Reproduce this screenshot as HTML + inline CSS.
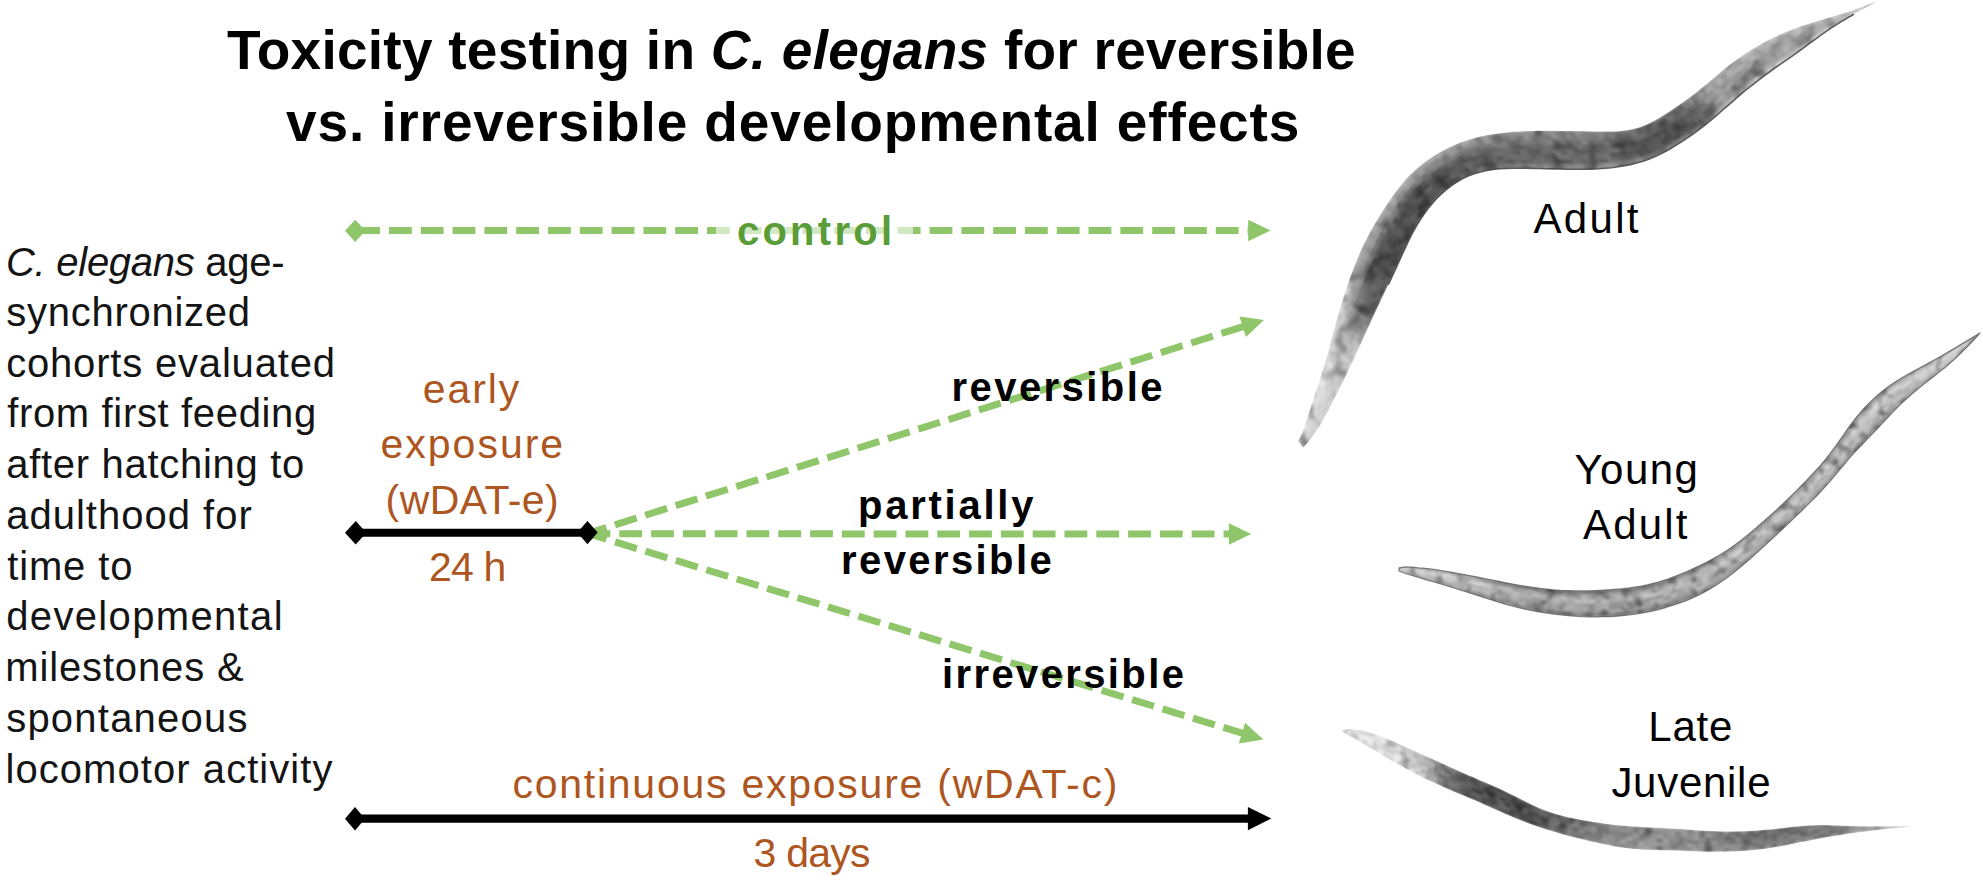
<!DOCTYPE html>
<html><head><meta charset="utf-8"><title>Toxicity testing in C. elegans</title>
<style>
html,body{margin:0;padding:0;background:#fff;}
body{width:1983px;height:886px;overflow:hidden;position:relative;}
svg{position:absolute;left:0;top:0;}
text{font-family:"Liberation Sans",sans-serif;}
</style></head><body>
<svg width="1983" height="886" viewBox="0 0 1983 886">
<g id="worms">
<clipPath id="clip_w1"><path d="M1298.0,441.0 L1301.2,435.2 L1303.5,428.9 L1305.6,422.4 L1307.9,416.1 L1310.0,409.7 L1312.0,403.2 L1314.1,396.8 L1316.2,390.3 L1318.4,383.9 L1320.5,377.5 L1322.5,371.0 L1324.5,364.5 L1326.3,358.0 L1328.2,351.5 L1329.9,345.0 L1331.6,338.4 L1333.4,331.9 L1335.2,325.3 L1337.0,318.8 L1338.9,312.3 L1340.8,305.8 L1342.9,299.4 L1344.9,292.9 L1347.1,286.5 L1349.3,280.1 L1351.5,273.7 L1353.9,267.4 L1356.4,261.1 L1359.0,254.8 L1361.7,248.7 L1364.7,242.6 L1367.7,236.5 L1370.9,230.6 L1374.3,224.7 L1377.7,218.9 L1381.3,213.1 L1384.9,207.4 L1388.7,201.8 L1392.5,196.2 L1396.5,190.7 L1400.7,185.4 L1405.0,180.3 L1409.6,175.3 L1414.5,170.7 L1419.5,166.2 L1424.8,162.1 L1430.3,158.2 L1436.0,154.6 L1441.9,151.2 L1447.8,148.0 L1454.0,145.2 L1460.2,142.6 L1466.5,140.4 L1473.0,138.4 L1479.5,136.7 L1486.1,135.3 L1492.8,134.2 L1499.5,133.2 L1506.2,132.4 L1512.9,131.8 L1519.7,131.4 L1526.4,131.1 L1533.2,130.9 L1540.0,130.8 L1546.7,130.8 L1553.5,130.8 L1560.3,130.9 L1567.1,130.9 L1573.8,131.0 L1580.6,131.1 L1587.4,131.2 L1594.1,131.4 L1600.9,131.5 L1607.7,131.5 L1614.4,131.4 L1621.2,130.9 L1627.8,130.1 L1634.3,128.8 L1640.7,126.9 L1646.8,124.4 L1652.9,121.6 L1658.7,118.3 L1664.5,114.7 L1670.2,111.0 L1675.8,107.3 L1681.3,103.4 L1686.8,99.5 L1692.3,95.4 L1697.6,91.3 L1702.9,87.0 L1708.1,82.7 L1713.3,78.4 L1718.5,74.0 L1723.7,69.6 L1728.9,65.4 L1734.3,61.3 L1739.8,57.3 L1745.3,53.5 L1751.0,49.9 L1756.8,46.4 L1762.7,43.0 L1768.7,39.9 L1774.8,36.9 L1780.9,34.0 L1787.1,31.4 L1793.4,28.9 L1799.7,26.6 L1806.2,24.5 L1812.6,22.5 L1819.1,20.6 L1825.6,18.6 L1832.1,16.7 L1838.6,14.7 L1845.0,12.7 L1851.5,10.5 L1857.9,8.3 L1864.3,6.1 L1870.6,3.8 L1877.0,1.5 L1877.0,1.5 L1871.2,4.6 L1865.4,7.8 L1859.6,11.0 L1853.9,14.2 L1848.1,17.5 L1842.5,20.8 L1836.9,24.3 L1831.3,27.9 L1825.9,31.6 L1820.5,35.4 L1815.2,39.3 L1809.9,43.2 L1804.6,47.1 L1799.2,51.0 L1793.9,54.8 L1788.5,58.6 L1783.0,62.4 L1777.6,66.2 L1772.2,70.0 L1766.9,73.8 L1761.6,77.8 L1756.3,81.8 L1751.2,85.8 L1746.0,90.0 L1741.0,94.2 L1736.0,98.5 L1731.0,102.8 L1726.0,107.2 L1721.0,111.5 L1716.1,115.8 L1711.0,120.1 L1705.9,124.3 L1700.7,128.3 L1695.4,132.3 L1690.1,136.1 L1684.6,139.8 L1679.1,143.4 L1673.5,146.9 L1667.8,150.2 L1662.0,153.3 L1656.1,156.1 L1650.0,158.7 L1643.9,160.9 L1637.6,162.8 L1631.2,164.4 L1624.8,165.8 L1618.3,166.8 L1611.8,167.7 L1605.2,168.3 L1598.6,168.8 L1592.1,169.1 L1585.5,169.3 L1578.9,169.3 L1572.3,169.3 L1565.7,169.2 L1559.1,169.0 L1552.5,168.9 L1545.9,168.7 L1539.3,168.5 L1532.7,168.4 L1526.1,168.3 L1519.5,168.2 L1512.9,168.3 L1506.3,168.4 L1499.7,168.8 L1493.2,169.4 L1486.8,170.4 L1480.4,171.9 L1474.2,173.8 L1468.1,176.1 L1462.3,178.9 L1456.6,182.2 L1451.2,185.9 L1446.0,189.9 L1441.1,194.2 L1436.4,198.8 L1432.1,203.7 L1427.9,208.8 L1424.1,214.1 L1420.4,219.6 L1416.9,225.2 L1413.7,230.9 L1410.6,236.7 L1407.7,242.7 L1404.9,248.6 L1402.1,254.6 L1399.4,260.6 L1396.7,266.6 L1393.9,272.6 L1391.1,278.6 L1388.3,284.6 L1385.5,290.5 L1382.6,296.5 L1379.8,302.4 L1377.0,308.4 L1374.2,314.4 L1371.4,320.4 L1368.7,326.4 L1366.0,332.4 L1363.3,338.4 L1360.6,344.5 L1357.9,350.5 L1355.1,356.4 L1352.3,362.4 L1349.4,368.3 L1346.5,374.3 L1343.6,380.2 L1340.6,386.1 L1337.7,392.0 L1334.7,397.9 L1331.8,403.8 L1328.8,409.7 L1325.8,415.5 L1322.6,421.3 L1319.1,426.9 L1315.4,432.3 L1311.8,437.7 L1307.6,442.8 L1303.0,447.5Z"/></clipPath>
<g clip-path="url(#clip_w1)"><g filter="url(#blur_w1)"><polygon points="1298.0,441.0 1301.2,435.2 1302.0,436.1 1298.6,441.8" fill="#dadada" stroke="#dadada" stroke-width="0.8"/><polygon points="1298.6,441.8 1302.0,436.1 1302.8,437.1 1299.2,442.6" fill="#d3d3d3" stroke="#d3d3d3" stroke-width="0.8"/><polygon points="1299.2,442.6 1302.8,437.1 1303.6,438.0 1299.9,443.4" fill="#dedede" stroke="#dedede" stroke-width="0.8"/><polygon points="1299.9,443.4 1303.6,438.0 1304.4,439.0 1300.5,444.2" fill="#cbcbcb" stroke="#cbcbcb" stroke-width="0.8"/><polygon points="1300.5,444.2 1304.4,439.0 1305.2,440.0 1301.1,445.1" fill="#d7d7d7" stroke="#d7d7d7" stroke-width="0.8"/><polygon points="1301.1,445.1 1305.2,440.0 1306.0,440.9 1301.8,445.9" fill="#d1d1d1" stroke="#d1d1d1" stroke-width="0.8"/><polygon points="1301.8,445.9 1306.0,440.9 1306.8,441.9 1302.4,446.7" fill="#c6c6c6" stroke="#c6c6c6" stroke-width="0.8"/><polygon points="1302.4,446.7 1306.8,441.9 1307.6,442.8 1303.0,447.5" fill="#d0d0d0" stroke="#d0d0d0" stroke-width="0.8"/><polygon points="1301.2,435.2 1303.5,428.9 1304.5,430.0 1302.0,436.1" fill="#d2d2d2" stroke="#d2d2d2" stroke-width="0.8"/><polygon points="1302.0,436.1 1304.5,430.0 1305.6,431.1 1302.8,437.1" fill="#dbdbdb" stroke="#dbdbdb" stroke-width="0.8"/><polygon points="1302.8,437.1 1305.6,431.1 1306.6,432.2 1303.6,438.0" fill="#cecece" stroke="#cecece" stroke-width="0.8"/><polygon points="1303.6,438.0 1306.6,432.2 1307.6,433.3 1304.4,439.0" fill="#cbcbcb" stroke="#cbcbcb" stroke-width="0.8"/><polygon points="1304.4,439.0 1307.6,433.3 1308.7,434.4 1305.2,440.0" fill="#d4d4d4" stroke="#d4d4d4" stroke-width="0.8"/><polygon points="1305.2,440.0 1308.7,434.4 1309.7,435.5 1306.0,440.9" fill="#dddddd" stroke="#dddddd" stroke-width="0.8"/><polygon points="1306.0,440.9 1309.7,435.5 1310.7,436.6 1306.8,441.9" fill="#c7c7c7" stroke="#c7c7c7" stroke-width="0.8"/><polygon points="1306.8,441.9 1310.7,436.6 1311.8,437.7 1307.6,442.8" fill="#c7c7c7" stroke="#c7c7c7" stroke-width="0.8"/><polygon points="1303.5,428.9 1305.6,422.4 1306.8,423.7 1304.5,430.0" fill="#e3e3e3" stroke="#e3e3e3" stroke-width="0.8"/><polygon points="1304.5,430.0 1306.8,423.7 1308.1,424.9 1305.6,431.1" fill="#e9e9e9" stroke="#e9e9e9" stroke-width="0.8"/><polygon points="1305.6,431.1 1308.1,424.9 1309.3,426.1 1306.6,432.2" fill="#dcdcdc" stroke="#dcdcdc" stroke-width="0.8"/><polygon points="1306.6,432.2 1309.3,426.1 1310.5,427.3 1307.6,433.3" fill="#d3d3d3" stroke="#d3d3d3" stroke-width="0.8"/><polygon points="1307.6,433.3 1310.5,427.3 1311.7,428.6 1308.7,434.4" fill="#e3e3e3" stroke="#e3e3e3" stroke-width="0.8"/><polygon points="1308.7,434.4 1311.7,428.6 1313.0,429.8 1309.7,435.5" fill="#c7c7c7" stroke="#c7c7c7" stroke-width="0.8"/><polygon points="1309.7,435.5 1313.0,429.8 1314.2,431.0 1310.7,436.6" fill="#dbdbdb" stroke="#dbdbdb" stroke-width="0.8"/><polygon points="1310.7,436.6 1314.2,431.0 1315.4,432.3 1311.8,437.7" fill="#c9c9c9" stroke="#c9c9c9" stroke-width="0.8"/><polygon points="1305.6,422.4 1307.9,416.1 1309.3,417.5 1306.8,423.7" fill="#d5d5d5" stroke="#d5d5d5" stroke-width="0.8"/><polygon points="1306.8,423.7 1309.3,417.5 1310.7,418.8 1308.1,424.9" fill="#d2d2d2" stroke="#d2d2d2" stroke-width="0.8"/><polygon points="1308.1,424.9 1310.7,418.8 1312.1,420.1 1309.3,426.1" fill="#d4d4d4" stroke="#d4d4d4" stroke-width="0.8"/><polygon points="1309.3,426.1 1312.1,420.1 1313.5,421.5 1310.5,427.3" fill="#dfdfdf" stroke="#dfdfdf" stroke-width="0.8"/><polygon points="1310.5,427.3 1313.5,421.5 1314.9,422.8 1311.7,428.6" fill="#cccccc" stroke="#cccccc" stroke-width="0.8"/><polygon points="1311.7,428.6 1314.9,422.8 1316.3,424.2 1313.0,429.8" fill="#d6d6d6" stroke="#d6d6d6" stroke-width="0.8"/><polygon points="1313.0,429.8 1316.3,424.2 1317.7,425.5 1314.2,431.0" fill="#d5d5d5" stroke="#d5d5d5" stroke-width="0.8"/><polygon points="1314.2,431.0 1317.7,425.5 1319.1,426.9 1315.4,432.3" fill="#cbcbcb" stroke="#cbcbcb" stroke-width="0.8"/><polygon points="1307.9,416.1 1310.0,409.7 1311.5,411.1 1309.3,417.5" fill="#e0e0e0" stroke="#e0e0e0" stroke-width="0.8"/><polygon points="1309.3,417.5 1311.5,411.1 1313.1,412.6 1310.7,418.8" fill="#d0d0d0" stroke="#d0d0d0" stroke-width="0.8"/><polygon points="1310.7,418.8 1313.1,412.6 1314.7,414.0 1312.1,420.1" fill="#cdcdcd" stroke="#cdcdcd" stroke-width="0.8"/><polygon points="1312.1,420.1 1314.7,414.0 1316.3,415.5 1313.5,421.5" fill="#cdcdcd" stroke="#cdcdcd" stroke-width="0.8"/><polygon points="1313.5,421.5 1316.3,415.5 1317.8,416.9 1314.9,422.8" fill="#dadada" stroke="#dadada" stroke-width="0.8"/><polygon points="1314.9,422.8 1317.8,416.9 1319.4,418.4 1316.3,424.2" fill="#d1d1d1" stroke="#d1d1d1" stroke-width="0.8"/><polygon points="1316.3,424.2 1319.4,418.4 1321.0,419.8 1317.7,425.5" fill="#cbcbcb" stroke="#cbcbcb" stroke-width="0.8"/><polygon points="1317.7,425.5 1321.0,419.8 1322.6,421.3 1319.1,426.9" fill="#d0d0d0" stroke="#d0d0d0" stroke-width="0.8"/><polygon points="1310.0,409.7 1312.0,403.2 1313.7,404.8 1311.5,411.1" fill="#dddddd" stroke="#dddddd" stroke-width="0.8"/><polygon points="1311.5,411.1 1313.7,404.8 1315.5,406.3 1313.1,412.6" fill="#d6d6d6" stroke="#d6d6d6" stroke-width="0.8"/><polygon points="1313.1,412.6 1315.5,406.3 1317.2,407.8 1314.7,414.0" fill="#e1e1e1" stroke="#e1e1e1" stroke-width="0.8"/><polygon points="1314.7,414.0 1317.2,407.8 1318.9,409.4 1316.3,415.5" fill="#dadada" stroke="#dadada" stroke-width="0.8"/><polygon points="1316.3,415.5 1318.9,409.4 1320.6,410.9 1317.8,416.9" fill="#cdcdcd" stroke="#cdcdcd" stroke-width="0.8"/><polygon points="1317.8,416.9 1320.6,410.9 1322.3,412.4 1319.4,418.4" fill="#d5d5d5" stroke="#d5d5d5" stroke-width="0.8"/><polygon points="1319.4,418.4 1322.3,412.4 1324.1,414.0 1321.0,419.8" fill="#d1d1d1" stroke="#d1d1d1" stroke-width="0.8"/><polygon points="1321.0,419.8 1324.1,414.0 1325.8,415.5 1322.6,421.3" fill="#d8d8d8" stroke="#d8d8d8" stroke-width="0.8"/><polygon points="1312.0,403.2 1314.1,396.8 1316.0,398.4 1313.7,404.8" fill="#e5e5e5" stroke="#e5e5e5" stroke-width="0.8"/><polygon points="1313.7,404.8 1316.0,398.4 1317.8,400.0 1315.5,406.3" fill="#d6d6d6" stroke="#d6d6d6" stroke-width="0.8"/><polygon points="1315.5,406.3 1317.8,400.0 1319.6,401.6 1317.2,407.8" fill="#e6e6e6" stroke="#e6e6e6" stroke-width="0.8"/><polygon points="1317.2,407.8 1319.6,401.6 1321.5,403.2 1318.9,409.4" fill="#cacaca" stroke="#cacaca" stroke-width="0.8"/><polygon points="1318.9,409.4 1321.5,403.2 1323.3,404.8 1320.6,410.9" fill="#d1d1d1" stroke="#d1d1d1" stroke-width="0.8"/><polygon points="1320.6,410.9 1323.3,404.8 1325.2,406.5 1322.3,412.4" fill="#d9d9d9" stroke="#d9d9d9" stroke-width="0.8"/><polygon points="1322.3,412.4 1325.2,406.5 1327.0,408.1 1324.1,414.0" fill="#c6c6c6" stroke="#c6c6c6" stroke-width="0.8"/><polygon points="1324.1,414.0 1327.0,408.1 1328.8,409.7 1325.8,415.5" fill="#cdcdcd" stroke="#cdcdcd" stroke-width="0.8"/><polygon points="1314.1,396.8 1316.2,390.3 1318.2,392.0 1316.0,398.4" fill="#d1d1d1" stroke="#d1d1d1" stroke-width="0.8"/><polygon points="1316.0,398.4 1318.2,392.0 1320.1,393.7 1317.8,400.0" fill="#e0e0e0" stroke="#e0e0e0" stroke-width="0.8"/><polygon points="1317.8,400.0 1320.1,393.7 1322.1,395.4 1319.6,401.6" fill="#dfdfdf" stroke="#dfdfdf" stroke-width="0.8"/><polygon points="1319.6,401.6 1322.1,395.4 1324.0,397.1 1321.5,403.2" fill="#d6d6d6" stroke="#d6d6d6" stroke-width="0.8"/><polygon points="1321.5,403.2 1324.0,397.1 1326.0,398.8 1323.3,404.8" fill="#dedede" stroke="#dedede" stroke-width="0.8"/><polygon points="1323.3,404.8 1326.0,398.8 1327.9,400.4 1325.2,406.5" fill="#cccccc" stroke="#cccccc" stroke-width="0.8"/><polygon points="1325.2,406.5 1327.9,400.4 1329.9,402.1 1327.0,408.1" fill="#d4d4d4" stroke="#d4d4d4" stroke-width="0.8"/><polygon points="1327.0,408.1 1329.9,402.1 1331.8,403.8 1328.8,409.7" fill="#cfcfcf" stroke="#cfcfcf" stroke-width="0.8"/><polygon points="1316.2,390.3 1318.4,383.9 1320.4,385.7 1318.2,392.0" fill="#dfdfdf" stroke="#dfdfdf" stroke-width="0.8"/><polygon points="1318.2,392.0 1320.4,385.7 1322.5,387.4 1320.1,393.7" fill="#d9d9d9" stroke="#d9d9d9" stroke-width="0.8"/><polygon points="1320.1,393.7 1322.5,387.4 1324.5,389.2 1322.1,395.4" fill="#e0e0e0" stroke="#e0e0e0" stroke-width="0.8"/><polygon points="1322.1,395.4 1324.5,389.2 1326.5,390.9 1324.0,397.1" fill="#dfdfdf" stroke="#dfdfdf" stroke-width="0.8"/><polygon points="1324.0,397.1 1326.5,390.9 1328.6,392.6 1326.0,398.8" fill="#d1d1d1" stroke="#d1d1d1" stroke-width="0.8"/><polygon points="1326.0,398.8 1328.6,392.6 1330.6,394.4 1327.9,400.4" fill="#d5d5d5" stroke="#d5d5d5" stroke-width="0.8"/><polygon points="1327.9,400.4 1330.6,394.4 1332.7,396.1 1329.9,402.1" fill="#c1c1c1" stroke="#c1c1c1" stroke-width="0.8"/><polygon points="1329.9,402.1 1332.7,396.1 1334.7,397.9 1331.8,403.8" fill="#d1d1d1" stroke="#d1d1d1" stroke-width="0.8"/><polygon points="1318.4,383.9 1320.5,377.5 1322.6,379.3 1320.4,385.7" fill="#e0e0e0" stroke="#e0e0e0" stroke-width="0.8"/><polygon points="1320.4,385.7 1322.6,379.3 1324.8,381.1 1322.5,387.4" fill="#e7e7e7" stroke="#e7e7e7" stroke-width="0.8"/><polygon points="1322.5,387.4 1324.8,381.1 1326.9,382.9 1324.5,389.2" fill="#dfdfdf" stroke="#dfdfdf" stroke-width="0.8"/><polygon points="1324.5,389.2 1326.9,382.9 1329.1,384.7 1326.5,390.9" fill="#cbcbcb" stroke="#cbcbcb" stroke-width="0.8"/><polygon points="1326.5,390.9 1329.1,384.7 1331.2,386.5 1328.6,392.6" fill="#cdcdcd" stroke="#cdcdcd" stroke-width="0.8"/><polygon points="1328.6,392.6 1331.2,386.5 1333.4,388.3 1330.6,394.4" fill="#d3d3d3" stroke="#d3d3d3" stroke-width="0.8"/><polygon points="1330.6,394.4 1333.4,388.3 1335.5,390.2 1332.7,396.1" fill="#bfbfbf" stroke="#bfbfbf" stroke-width="0.8"/><polygon points="1332.7,396.1 1335.5,390.2 1337.7,392.0 1334.7,397.9" fill="#c9c9c9" stroke="#c9c9c9" stroke-width="0.8"/><polygon points="1320.5,377.5 1322.5,371.0 1324.8,372.9 1322.6,379.3" fill="#d2d2d2" stroke="#d2d2d2" stroke-width="0.8"/><polygon points="1322.6,379.3 1324.8,372.9 1327.0,374.8 1324.8,381.1" fill="#cdcdcd" stroke="#cdcdcd" stroke-width="0.8"/><polygon points="1324.8,381.1 1327.0,374.8 1329.3,376.7 1326.9,382.9" fill="#c8c8c8" stroke="#c8c8c8" stroke-width="0.8"/><polygon points="1326.9,382.9 1329.3,376.7 1331.6,378.5 1329.1,384.7" fill="#d8d8d8" stroke="#d8d8d8" stroke-width="0.8"/><polygon points="1329.1,384.7 1331.6,378.5 1333.8,380.4 1331.2,386.5" fill="#c5c5c5" stroke="#c5c5c5" stroke-width="0.8"/><polygon points="1331.2,386.5 1333.8,380.4 1336.1,382.3 1333.4,388.3" fill="#c6c6c6" stroke="#c6c6c6" stroke-width="0.8"/><polygon points="1333.4,388.3 1336.1,382.3 1338.3,384.2 1335.5,390.2" fill="#c8c8c8" stroke="#c8c8c8" stroke-width="0.8"/><polygon points="1335.5,390.2 1338.3,384.2 1340.6,386.1 1337.7,392.0" fill="#d3d3d3" stroke="#d3d3d3" stroke-width="0.8"/><polygon points="1322.5,371.0 1324.5,364.5 1326.8,366.5 1324.8,372.9" fill="#cecece" stroke="#cecece" stroke-width="0.8"/><polygon points="1324.8,372.9 1326.8,366.5 1329.2,368.4 1327.0,374.8" fill="#d5d5d5" stroke="#d5d5d5" stroke-width="0.8"/><polygon points="1327.0,374.8 1329.2,368.4 1331.6,370.4 1329.3,376.7" fill="#d5d5d5" stroke="#d5d5d5" stroke-width="0.8"/><polygon points="1329.3,376.7 1331.6,370.4 1334.0,372.4 1331.6,378.5" fill="#dadada" stroke="#dadada" stroke-width="0.8"/><polygon points="1331.6,378.5 1334.0,372.4 1336.4,374.3 1333.8,380.4" fill="#d7d7d7" stroke="#d7d7d7" stroke-width="0.8"/><polygon points="1333.8,380.4 1336.4,374.3 1338.8,376.3 1336.1,382.3" fill="#d6d6d6" stroke="#d6d6d6" stroke-width="0.8"/><polygon points="1336.1,382.3 1338.8,376.3 1341.2,378.2 1338.3,384.2" fill="#c4c4c4" stroke="#c4c4c4" stroke-width="0.8"/><polygon points="1338.3,384.2 1341.2,378.2 1343.6,380.2 1340.6,386.1" fill="#c5c5c5" stroke="#c5c5c5" stroke-width="0.8"/><polygon points="1324.5,364.5 1326.3,358.0 1328.9,360.1 1326.8,366.5" fill="#d5d5d5" stroke="#d5d5d5" stroke-width="0.8"/><polygon points="1326.8,366.5 1328.9,360.1 1331.4,362.1 1329.2,368.4" fill="#e0e0e0" stroke="#e0e0e0" stroke-width="0.8"/><polygon points="1329.2,368.4 1331.4,362.1 1333.9,364.1 1331.6,370.4" fill="#dfdfdf" stroke="#dfdfdf" stroke-width="0.8"/><polygon points="1331.6,370.4 1333.9,364.1 1336.4,366.2 1334.0,372.4" fill="#c4c4c4" stroke="#c4c4c4" stroke-width="0.8"/><polygon points="1334.0,372.4 1336.4,366.2 1338.9,368.2 1336.4,374.3" fill="#c4c4c4" stroke="#c4c4c4" stroke-width="0.8"/><polygon points="1336.4,374.3 1338.9,368.2 1341.5,370.2 1338.8,376.3" fill="#c3c3c3" stroke="#c3c3c3" stroke-width="0.8"/><polygon points="1338.8,376.3 1341.5,370.2 1344.0,372.2 1341.2,378.2" fill="#c1c1c1" stroke="#c1c1c1" stroke-width="0.8"/><polygon points="1341.2,378.2 1344.0,372.2 1346.5,374.3 1343.6,380.2" fill="#c6c6c6" stroke="#c6c6c6" stroke-width="0.8"/><polygon points="1326.3,358.0 1328.2,351.5 1330.8,353.6 1328.9,360.1" fill="#dadada" stroke="#dadada" stroke-width="0.8"/><polygon points="1328.9,360.1 1330.8,353.6 1333.5,355.7 1331.4,362.1" fill="#cecece" stroke="#cecece" stroke-width="0.8"/><polygon points="1331.4,362.1 1333.5,355.7 1336.1,357.8 1333.9,364.1" fill="#c3c3c3" stroke="#c3c3c3" stroke-width="0.8"/><polygon points="1333.9,364.1 1336.1,357.8 1338.8,359.9 1336.4,366.2" fill="#cacaca" stroke="#cacaca" stroke-width="0.8"/><polygon points="1336.4,366.2 1338.8,359.9 1341.5,362.0 1338.9,368.2" fill="#c8c8c8" stroke="#c8c8c8" stroke-width="0.8"/><polygon points="1338.9,368.2 1341.5,362.0 1344.1,364.1 1341.5,370.2" fill="#cccccc" stroke="#cccccc" stroke-width="0.8"/><polygon points="1341.5,370.2 1344.1,364.1 1346.8,366.2 1344.0,372.2" fill="#d4d4d4" stroke="#d4d4d4" stroke-width="0.8"/><polygon points="1344.0,372.2 1346.8,366.2 1349.4,368.3 1346.5,374.3" fill="#cacaca" stroke="#cacaca" stroke-width="0.8"/><polygon points="1328.2,351.5 1329.9,345.0 1332.7,347.2 1330.8,353.6" fill="#d7d7d7" stroke="#d7d7d7" stroke-width="0.8"/><polygon points="1330.8,353.6 1332.7,347.2 1335.5,349.3 1333.5,355.7" fill="#d7d7d7" stroke="#d7d7d7" stroke-width="0.8"/><polygon points="1333.5,355.7 1335.5,349.3 1338.3,351.5 1336.1,357.8" fill="#d5d5d5" stroke="#d5d5d5" stroke-width="0.8"/><polygon points="1336.1,357.8 1338.3,351.5 1341.1,353.7 1338.8,359.9" fill="#bfbfbf" stroke="#bfbfbf" stroke-width="0.8"/><polygon points="1338.8,359.9 1341.1,353.7 1343.9,355.9 1341.5,362.0" fill="#d5d5d5" stroke="#d5d5d5" stroke-width="0.8"/><polygon points="1341.5,362.0 1343.9,355.9 1346.7,358.1 1344.1,364.1" fill="#d0d0d0" stroke="#d0d0d0" stroke-width="0.8"/><polygon points="1344.1,364.1 1346.7,358.1 1349.5,360.2 1346.8,366.2" fill="#d0d0d0" stroke="#d0d0d0" stroke-width="0.8"/><polygon points="1346.8,366.2 1349.5,360.2 1352.3,362.4 1349.4,368.3" fill="#cccccc" stroke="#cccccc" stroke-width="0.8"/><polygon points="1329.9,345.0 1331.6,338.4 1334.6,340.7 1332.7,347.2" fill="#d3d3d3" stroke="#d3d3d3" stroke-width="0.8"/><polygon points="1332.7,347.2 1334.6,340.7 1337.5,342.9 1335.5,349.3" fill="#d0d0d0" stroke="#d0d0d0" stroke-width="0.8"/><polygon points="1335.5,349.3 1337.5,342.9 1340.5,345.2 1338.3,351.5" fill="#c4c4c4" stroke="#c4c4c4" stroke-width="0.8"/><polygon points="1338.3,351.5 1340.5,345.2 1343.4,347.4 1341.1,353.7" fill="#cecece" stroke="#cecece" stroke-width="0.8"/><polygon points="1341.1,353.7 1343.4,347.4 1346.3,349.7 1343.9,355.9" fill="#bdbdbd" stroke="#bdbdbd" stroke-width="0.8"/><polygon points="1343.9,355.9 1346.3,349.7 1349.3,351.9 1346.7,358.1" fill="#bbbbbb" stroke="#bbbbbb" stroke-width="0.8"/><polygon points="1346.7,358.1 1349.3,351.9 1352.2,354.2 1349.5,360.2" fill="#bdbdbd" stroke="#bdbdbd" stroke-width="0.8"/><polygon points="1349.5,360.2 1352.2,354.2 1355.1,356.4 1352.3,362.4" fill="#b9b9b9" stroke="#b9b9b9" stroke-width="0.8"/><polygon points="1331.6,338.4 1333.4,331.9 1336.5,334.2 1334.6,340.7" fill="#d0d0d0" stroke="#d0d0d0" stroke-width="0.8"/><polygon points="1334.6,340.7 1336.5,334.2 1339.5,336.5 1337.5,342.9" fill="#c5c5c5" stroke="#c5c5c5" stroke-width="0.8"/><polygon points="1337.5,342.9 1339.5,336.5 1342.6,338.9 1340.5,345.2" fill="#bfbfbf" stroke="#bfbfbf" stroke-width="0.8"/><polygon points="1340.5,345.2 1342.6,338.9 1345.7,341.2 1343.4,347.4" fill="#bfbfbf" stroke="#bfbfbf" stroke-width="0.8"/><polygon points="1343.4,347.4 1345.7,341.2 1348.7,343.5 1346.3,349.7" fill="#bdbdbd" stroke="#bdbdbd" stroke-width="0.8"/><polygon points="1346.3,349.7 1348.7,343.5 1351.8,345.8 1349.3,351.9" fill="#c2c2c2" stroke="#c2c2c2" stroke-width="0.8"/><polygon points="1349.3,351.9 1351.8,345.8 1354.9,348.1 1352.2,354.2" fill="#b6b6b6" stroke="#b6b6b6" stroke-width="0.8"/><polygon points="1352.2,354.2 1354.9,348.1 1357.9,350.5 1355.1,356.4" fill="#cbcbcb" stroke="#cbcbcb" stroke-width="0.8"/><polygon points="1333.4,331.9 1335.2,325.3 1338.4,327.7 1336.5,334.2" fill="#d6d6d6" stroke="#d6d6d6" stroke-width="0.8"/><polygon points="1336.5,334.2 1338.4,327.7 1341.5,330.1 1339.5,336.5" fill="#c2c2c2" stroke="#c2c2c2" stroke-width="0.8"/><polygon points="1339.5,336.5 1341.5,330.1 1344.7,332.5 1342.6,338.9" fill="#bebebe" stroke="#bebebe" stroke-width="0.8"/><polygon points="1342.6,338.9 1344.7,332.5 1347.9,334.9 1345.7,341.2" fill="#b8b8b8" stroke="#b8b8b8" stroke-width="0.8"/><polygon points="1345.7,341.2 1347.9,334.9 1351.1,337.3 1348.7,343.5" fill="#b7b7b7" stroke="#b7b7b7" stroke-width="0.8"/><polygon points="1348.7,343.5 1351.1,337.3 1354.3,339.7 1351.8,345.8" fill="#aeaeae" stroke="#aeaeae" stroke-width="0.8"/><polygon points="1351.8,345.8 1354.3,339.7 1357.5,342.1 1354.9,348.1" fill="#c0c0c0" stroke="#c0c0c0" stroke-width="0.8"/><polygon points="1354.9,348.1 1357.5,342.1 1360.6,344.5 1357.9,350.5" fill="#c2c2c2" stroke="#c2c2c2" stroke-width="0.8"/><polygon points="1335.2,325.3 1337.0,318.8 1340.3,321.3 1338.4,327.7" fill="#cfcfcf" stroke="#cfcfcf" stroke-width="0.8"/><polygon points="1338.4,327.7 1340.3,321.3 1343.6,323.7 1341.5,330.1" fill="#c6c6c6" stroke="#c6c6c6" stroke-width="0.8"/><polygon points="1341.5,330.1 1343.6,323.7 1346.9,326.2 1344.7,332.5" fill="#b0b0b0" stroke="#b0b0b0" stroke-width="0.8"/><polygon points="1344.7,332.5 1346.9,326.2 1350.2,328.6 1347.9,334.9" fill="#a3a3a3" stroke="#a3a3a3" stroke-width="0.8"/><polygon points="1347.9,334.9 1350.2,328.6 1353.5,331.1 1351.1,337.3" fill="#a7a7a7" stroke="#a7a7a7" stroke-width="0.8"/><polygon points="1351.1,337.3 1353.5,331.1 1356.8,333.5 1354.3,339.7" fill="#a3a3a3" stroke="#a3a3a3" stroke-width="0.8"/><polygon points="1354.3,339.7 1356.8,333.5 1360.0,336.0 1357.5,342.1" fill="#b1b1b1" stroke="#b1b1b1" stroke-width="0.8"/><polygon points="1357.5,342.1 1360.0,336.0 1363.3,338.4 1360.6,344.5" fill="#9b9b9b" stroke="#9b9b9b" stroke-width="0.8"/><polygon points="1337.0,318.8 1338.9,312.3 1342.3,314.8 1340.3,321.3" fill="#c0c0c0" stroke="#c0c0c0" stroke-width="0.8"/><polygon points="1340.3,321.3 1342.3,314.8 1345.7,317.3 1343.6,323.7" fill="#cdcdcd" stroke="#cdcdcd" stroke-width="0.8"/><polygon points="1343.6,323.7 1345.7,317.3 1349.1,319.9 1346.9,326.2" fill="#b3b3b3" stroke="#b3b3b3" stroke-width="0.8"/><polygon points="1346.9,326.2 1349.1,319.9 1352.5,322.4 1350.2,328.6" fill="#969696" stroke="#969696" stroke-width="0.8"/><polygon points="1350.2,328.6 1352.5,322.4 1355.8,324.9 1353.5,331.1" fill="#9e9e9e" stroke="#9e9e9e" stroke-width="0.8"/><polygon points="1353.5,331.1 1355.8,324.9 1359.2,327.4 1356.8,333.5" fill="#8e8e8e" stroke="#8e8e8e" stroke-width="0.8"/><polygon points="1356.8,333.5 1359.2,327.4 1362.6,329.9 1360.0,336.0" fill="#999999" stroke="#999999" stroke-width="0.8"/><polygon points="1360.0,336.0 1362.6,329.9 1366.0,332.4 1363.3,338.4" fill="#a3a3a3" stroke="#a3a3a3" stroke-width="0.8"/><polygon points="1338.9,312.3 1340.8,305.8 1344.3,308.4 1342.3,314.8" fill="#d6d6d6" stroke="#d6d6d6" stroke-width="0.8"/><polygon points="1342.3,314.8 1344.3,308.4 1347.8,311.0 1345.7,317.3" fill="#c0c0c0" stroke="#c0c0c0" stroke-width="0.8"/><polygon points="1345.7,317.3 1347.8,311.0 1351.3,313.5 1349.1,319.9" fill="#a2a2a2" stroke="#a2a2a2" stroke-width="0.8"/><polygon points="1349.1,319.9 1351.3,313.5 1354.8,316.1 1352.5,322.4" fill="#8e8e8e" stroke="#8e8e8e" stroke-width="0.8"/><polygon points="1352.5,322.4 1354.8,316.1 1358.3,318.7 1355.8,324.9" fill="#848484" stroke="#848484" stroke-width="0.8"/><polygon points="1355.8,324.9 1358.3,318.7 1361.7,321.2 1359.2,327.4" fill="#939393" stroke="#939393" stroke-width="0.8"/><polygon points="1359.2,327.4 1361.7,321.2 1365.2,323.8 1362.6,329.9" fill="#8a8a8a" stroke="#8a8a8a" stroke-width="0.8"/><polygon points="1362.6,329.9 1365.2,323.8 1368.7,326.4 1366.0,332.4" fill="#8e8e8e" stroke="#8e8e8e" stroke-width="0.8"/><polygon points="1340.8,305.8 1342.9,299.4 1346.4,302.0 1344.3,308.4" fill="#c4c4c4" stroke="#c4c4c4" stroke-width="0.8"/><polygon points="1344.3,308.4 1346.4,302.0 1350.0,304.6 1347.8,311.0" fill="#adadad" stroke="#adadad" stroke-width="0.8"/><polygon points="1347.8,311.0 1350.0,304.6 1353.6,307.2 1351.3,313.5" fill="#a8a8a8" stroke="#a8a8a8" stroke-width="0.8"/><polygon points="1351.3,313.5 1353.6,307.2 1357.1,309.9 1354.8,316.1" fill="#919191" stroke="#919191" stroke-width="0.8"/><polygon points="1354.8,316.1 1357.1,309.9 1360.7,312.5 1358.3,318.7" fill="#888888" stroke="#888888" stroke-width="0.8"/><polygon points="1358.3,318.7 1360.7,312.5 1364.3,315.1 1361.7,321.2" fill="#858585" stroke="#858585" stroke-width="0.8"/><polygon points="1361.7,321.2 1364.3,315.1 1367.9,317.7 1365.2,323.8" fill="#838383" stroke="#838383" stroke-width="0.8"/><polygon points="1365.2,323.8 1367.9,317.7 1371.4,320.4 1368.7,326.4" fill="#7e7e7e" stroke="#7e7e7e" stroke-width="0.8"/><polygon points="1342.9,299.4 1344.9,292.9 1348.6,295.6 1346.4,302.0" fill="#bfbfbf" stroke="#bfbfbf" stroke-width="0.8"/><polygon points="1346.4,302.0 1348.6,295.6 1352.3,298.3 1350.0,304.6" fill="#b0b0b0" stroke="#b0b0b0" stroke-width="0.8"/><polygon points="1350.0,304.6 1352.3,298.3 1355.9,301.0 1353.6,307.2" fill="#919191" stroke="#919191" stroke-width="0.8"/><polygon points="1353.6,307.2 1355.9,301.0 1359.6,303.7 1357.1,309.9" fill="#686868" stroke="#686868" stroke-width="0.8"/><polygon points="1357.1,309.9 1359.6,303.7 1363.2,306.3 1360.7,312.5" fill="#626262" stroke="#626262" stroke-width="0.8"/><polygon points="1360.7,312.5 1363.2,306.3 1366.9,309.0 1364.3,315.1" fill="#676767" stroke="#676767" stroke-width="0.8"/><polygon points="1364.3,315.1 1366.9,309.0 1370.5,311.7 1367.9,317.7" fill="#646464" stroke="#646464" stroke-width="0.8"/><polygon points="1367.9,317.7 1370.5,311.7 1374.2,314.4 1371.4,320.4" fill="#6e6e6e" stroke="#6e6e6e" stroke-width="0.8"/><polygon points="1344.9,292.9 1347.1,286.5 1350.8,289.2 1348.6,295.6" fill="#cfcfcf" stroke="#cfcfcf" stroke-width="0.8"/><polygon points="1348.6,295.6 1350.8,289.2 1354.6,292.0 1352.3,298.3" fill="#a9a9a9" stroke="#a9a9a9" stroke-width="0.8"/><polygon points="1352.3,298.3 1354.6,292.0 1358.3,294.7 1355.9,301.0" fill="#9d9d9d" stroke="#9d9d9d" stroke-width="0.8"/><polygon points="1355.9,301.0 1358.3,294.7 1362.0,297.4 1359.6,303.7" fill="#7d7d7d" stroke="#7d7d7d" stroke-width="0.8"/><polygon points="1359.6,303.7 1362.0,297.4 1365.8,300.2 1363.2,306.3" fill="#777777" stroke="#777777" stroke-width="0.8"/><polygon points="1363.2,306.3 1365.8,300.2 1369.5,302.9 1366.9,309.0" fill="#646464" stroke="#646464" stroke-width="0.8"/><polygon points="1366.9,309.0 1369.5,302.9 1373.2,305.7 1370.5,311.7" fill="#5e5e5e" stroke="#5e5e5e" stroke-width="0.8"/><polygon points="1370.5,311.7 1373.2,305.7 1377.0,308.4 1374.2,314.4" fill="#5c5c5c" stroke="#5c5c5c" stroke-width="0.8"/><polygon points="1347.1,286.5 1349.3,280.1 1353.1,282.9 1350.8,289.2" fill="#b6b6b6" stroke="#b6b6b6" stroke-width="0.8"/><polygon points="1350.8,289.2 1353.1,282.9 1356.9,285.7 1354.6,292.0" fill="#9e9e9e" stroke="#9e9e9e" stroke-width="0.8"/><polygon points="1354.6,292.0 1356.9,285.7 1360.7,288.5 1358.3,294.7" fill="#909090" stroke="#909090" stroke-width="0.8"/><polygon points="1358.3,294.7 1360.7,288.5 1364.5,291.3 1362.0,297.4" fill="#777777" stroke="#777777" stroke-width="0.8"/><polygon points="1362.0,297.4 1364.5,291.3 1368.3,294.1 1365.8,300.2" fill="#707070" stroke="#707070" stroke-width="0.8"/><polygon points="1365.8,300.2 1368.3,294.1 1372.2,296.8 1369.5,302.9" fill="#646464" stroke="#646464" stroke-width="0.8"/><polygon points="1369.5,302.9 1372.2,296.8 1376.0,299.6 1373.2,305.7" fill="#666666" stroke="#666666" stroke-width="0.8"/><polygon points="1373.2,305.7 1376.0,299.6 1379.8,302.4 1377.0,308.4" fill="#686868" stroke="#686868" stroke-width="0.8"/><polygon points="1349.3,280.1 1351.5,273.7 1355.4,276.6 1353.1,282.9" fill="#aeaeae" stroke="#aeaeae" stroke-width="0.8"/><polygon points="1353.1,282.9 1355.4,276.6 1359.3,279.4 1356.9,285.7" fill="#a7a7a7" stroke="#a7a7a7" stroke-width="0.8"/><polygon points="1356.9,285.7 1359.3,279.4 1363.2,282.2 1360.7,288.5" fill="#949494" stroke="#949494" stroke-width="0.8"/><polygon points="1360.7,288.5 1363.2,282.2 1367.1,285.1 1364.5,291.3" fill="#707070" stroke="#707070" stroke-width="0.8"/><polygon points="1364.5,291.3 1367.1,285.1 1371.0,287.9 1368.3,294.1" fill="#696969" stroke="#696969" stroke-width="0.8"/><polygon points="1368.3,294.1 1371.0,287.9 1374.9,290.8 1372.2,296.8" fill="#606060" stroke="#606060" stroke-width="0.8"/><polygon points="1372.2,296.8 1374.9,290.8 1378.7,293.6 1376.0,299.6" fill="#555555" stroke="#555555" stroke-width="0.8"/><polygon points="1376.0,299.6 1378.7,293.6 1382.6,296.5 1379.8,302.4" fill="#646464" stroke="#646464" stroke-width="0.8"/><polygon points="1351.5,273.7 1353.9,267.4 1357.9,270.3 1355.4,276.6" fill="#b1b1b1" stroke="#b1b1b1" stroke-width="0.8"/><polygon points="1355.4,276.6 1357.9,270.3 1361.8,273.2 1359.3,279.4" fill="#a7a7a7" stroke="#a7a7a7" stroke-width="0.8"/><polygon points="1359.3,279.4 1361.8,273.2 1365.7,276.1 1363.2,282.2" fill="#929292" stroke="#929292" stroke-width="0.8"/><polygon points="1363.2,282.2 1365.7,276.1 1369.7,278.9 1367.1,285.1" fill="#616161" stroke="#616161" stroke-width="0.8"/><polygon points="1367.1,285.1 1369.7,278.9 1373.6,281.8 1371.0,287.9" fill="#5b5b5b" stroke="#5b5b5b" stroke-width="0.8"/><polygon points="1371.0,287.9 1373.6,281.8 1377.6,284.7 1374.9,290.8" fill="#696969" stroke="#696969" stroke-width="0.8"/><polygon points="1374.9,290.8 1377.6,284.7 1381.5,287.6 1378.7,293.6" fill="#606060" stroke="#606060" stroke-width="0.8"/><polygon points="1378.7,293.6 1381.5,287.6 1385.5,290.5 1382.6,296.5" fill="#4e4e4e" stroke="#4e4e4e" stroke-width="0.8"/><polygon points="1353.9,267.4 1356.4,261.1 1360.4,264.0 1357.9,270.3" fill="#a7a7a7" stroke="#a7a7a7" stroke-width="0.8"/><polygon points="1357.9,270.3 1360.4,264.0 1364.4,266.9 1361.8,273.2" fill="#909090" stroke="#909090" stroke-width="0.8"/><polygon points="1361.8,273.2 1364.4,266.9 1368.4,269.9 1365.7,276.1" fill="#8c8c8c" stroke="#8c8c8c" stroke-width="0.8"/><polygon points="1365.7,276.1 1368.4,269.9 1372.3,272.8 1369.7,278.9" fill="#686868" stroke="#686868" stroke-width="0.8"/><polygon points="1369.7,278.9 1372.3,272.8 1376.3,275.8 1373.6,281.8" fill="#505050" stroke="#505050" stroke-width="0.8"/><polygon points="1373.6,281.8 1376.3,275.8 1380.3,278.7 1377.6,284.7" fill="#626262" stroke="#626262" stroke-width="0.8"/><polygon points="1377.6,284.7 1380.3,278.7 1384.3,281.6 1381.5,287.6" fill="#646464" stroke="#646464" stroke-width="0.8"/><polygon points="1381.5,287.6 1384.3,281.6 1388.3,284.6 1385.5,290.5" fill="#585858" stroke="#585858" stroke-width="0.8"/><polygon points="1356.4,261.1 1359.0,254.8 1363.0,257.8 1360.4,264.0" fill="#a9a9a9" stroke="#a9a9a9" stroke-width="0.8"/><polygon points="1360.4,264.0 1363.0,257.8 1367.0,260.8 1364.4,266.9" fill="#979797" stroke="#979797" stroke-width="0.8"/><polygon points="1364.4,266.9 1367.0,260.8 1371.0,263.7 1368.4,269.9" fill="#727272" stroke="#727272" stroke-width="0.8"/><polygon points="1368.4,269.9 1371.0,263.7 1375.1,266.7 1372.3,272.8" fill="#4e4e4e" stroke="#4e4e4e" stroke-width="0.8"/><polygon points="1372.3,272.8 1375.1,266.7 1379.1,269.7 1376.3,275.8" fill="#646464" stroke="#646464" stroke-width="0.8"/><polygon points="1376.3,275.8 1379.1,269.7 1383.1,272.7 1380.3,278.7" fill="#595959" stroke="#595959" stroke-width="0.8"/><polygon points="1380.3,278.7 1383.1,272.7 1387.1,275.6 1384.3,281.6" fill="#535353" stroke="#535353" stroke-width="0.8"/><polygon points="1384.3,281.6 1387.1,275.6 1391.1,278.6 1388.3,284.6" fill="#5c5c5c" stroke="#5c5c5c" stroke-width="0.8"/><polygon points="1359.0,254.8 1361.7,248.7 1365.8,251.7 1363.0,257.8" fill="#a7a7a7" stroke="#a7a7a7" stroke-width="0.8"/><polygon points="1363.0,257.8 1365.8,251.7 1369.8,254.6 1367.0,260.8" fill="#9c9c9c" stroke="#9c9c9c" stroke-width="0.8"/><polygon points="1367.0,260.8 1369.8,254.6 1373.8,257.6 1371.0,263.7" fill="#818181" stroke="#818181" stroke-width="0.8"/><polygon points="1371.0,263.7 1373.8,257.6 1377.8,260.6 1375.1,266.7" fill="#505050" stroke="#505050" stroke-width="0.8"/><polygon points="1375.1,266.7 1377.8,260.6 1381.9,263.6 1379.1,269.7" fill="#4c4c4c" stroke="#4c4c4c" stroke-width="0.8"/><polygon points="1379.1,269.7 1381.9,263.6 1385.9,266.6 1383.1,272.7" fill="#4b4b4b" stroke="#4b4b4b" stroke-width="0.8"/><polygon points="1383.1,272.7 1385.9,266.6 1389.9,269.6 1387.1,275.6" fill="#474747" stroke="#474747" stroke-width="0.8"/><polygon points="1387.1,275.6 1389.9,269.6 1393.9,272.6 1391.1,278.6" fill="#4e4e4e" stroke="#4e4e4e" stroke-width="0.8"/><polygon points="1361.7,248.7 1364.7,242.6 1368.7,245.6 1365.8,251.7" fill="#a1a1a1" stroke="#a1a1a1" stroke-width="0.8"/><polygon points="1365.8,251.7 1368.7,245.6 1372.7,248.6 1369.8,254.6" fill="#8e8e8e" stroke="#8e8e8e" stroke-width="0.8"/><polygon points="1369.8,254.6 1372.7,248.6 1376.7,251.6 1373.8,257.6" fill="#6d6d6d" stroke="#6d6d6d" stroke-width="0.8"/><polygon points="1373.8,257.6 1376.7,251.6 1380.7,254.6 1377.8,260.6" fill="#626262" stroke="#626262" stroke-width="0.8"/><polygon points="1377.8,260.6 1380.7,254.6 1384.7,257.6 1381.9,263.6" fill="#4d4d4d" stroke="#4d4d4d" stroke-width="0.8"/><polygon points="1381.9,263.6 1384.7,257.6 1388.7,260.6 1385.9,266.6" fill="#4f4f4f" stroke="#4f4f4f" stroke-width="0.8"/><polygon points="1385.9,266.6 1388.7,260.6 1392.7,263.6 1389.9,269.6" fill="#505050" stroke="#505050" stroke-width="0.8"/><polygon points="1389.9,269.6 1392.7,263.6 1396.7,266.6 1393.9,272.6" fill="#565656" stroke="#565656" stroke-width="0.8"/><polygon points="1364.7,242.6 1367.7,236.5 1371.7,239.5 1368.7,245.6" fill="#a5a5a5" stroke="#a5a5a5" stroke-width="0.8"/><polygon points="1368.7,245.6 1371.7,239.5 1375.7,242.6 1372.7,248.6" fill="#9c9c9c" stroke="#9c9c9c" stroke-width="0.8"/><polygon points="1372.7,248.6 1375.7,242.6 1379.6,245.6 1376.7,251.6" fill="#777777" stroke="#777777" stroke-width="0.8"/><polygon points="1376.7,251.6 1379.6,245.6 1383.6,248.6 1380.7,254.6" fill="#585858" stroke="#585858" stroke-width="0.8"/><polygon points="1380.7,254.6 1383.6,248.6 1387.5,251.6 1384.7,257.6" fill="#525252" stroke="#525252" stroke-width="0.8"/><polygon points="1384.7,257.6 1387.5,251.6 1391.5,254.6 1388.7,260.6" fill="#424242" stroke="#424242" stroke-width="0.8"/><polygon points="1388.7,260.6 1391.5,254.6 1395.5,257.6 1392.7,263.6" fill="#4c4c4c" stroke="#4c4c4c" stroke-width="0.8"/><polygon points="1392.7,263.6 1395.5,257.6 1399.4,260.6 1396.7,266.6" fill="#424242" stroke="#424242" stroke-width="0.8"/><polygon points="1367.7,236.5 1370.9,230.6 1374.8,233.6 1371.7,239.5" fill="#999999" stroke="#999999" stroke-width="0.8"/><polygon points="1371.7,239.5 1374.8,233.6 1378.7,236.6 1375.7,242.6" fill="#989898" stroke="#989898" stroke-width="0.8"/><polygon points="1375.7,242.6 1378.7,236.6 1382.6,239.6 1379.6,245.6" fill="#6e6e6e" stroke="#6e6e6e" stroke-width="0.8"/><polygon points="1379.6,245.6 1382.6,239.6 1386.5,242.6 1383.6,248.6" fill="#565656" stroke="#565656" stroke-width="0.8"/><polygon points="1383.6,248.6 1386.5,242.6 1390.4,245.6 1387.5,251.6" fill="#585858" stroke="#585858" stroke-width="0.8"/><polygon points="1387.5,251.6 1390.4,245.6 1394.3,248.6 1391.5,254.6" fill="#515151" stroke="#515151" stroke-width="0.8"/><polygon points="1391.5,254.6 1394.3,248.6 1398.2,251.6 1395.5,257.6" fill="#484848" stroke="#484848" stroke-width="0.8"/><polygon points="1395.5,257.6 1398.2,251.6 1402.1,254.6 1399.4,260.6" fill="#4b4b4b" stroke="#4b4b4b" stroke-width="0.8"/><polygon points="1370.9,230.6 1374.3,224.7 1378.1,227.7 1374.8,233.6" fill="#a8a8a8" stroke="#a8a8a8" stroke-width="0.8"/><polygon points="1374.8,233.6 1378.1,227.7 1381.9,230.7 1378.7,236.6" fill="#989898" stroke="#989898" stroke-width="0.8"/><polygon points="1378.7,236.6 1381.9,230.7 1385.8,233.7 1382.6,239.6" fill="#6c6c6c" stroke="#6c6c6c" stroke-width="0.8"/><polygon points="1382.6,239.6 1385.8,233.7 1389.6,236.6 1386.5,242.6" fill="#595959" stroke="#595959" stroke-width="0.8"/><polygon points="1386.5,242.6 1389.6,236.6 1393.4,239.6 1390.4,245.6" fill="#4a4a4a" stroke="#4a4a4a" stroke-width="0.8"/><polygon points="1390.4,245.6 1393.4,239.6 1397.2,242.6 1394.3,248.6" fill="#4a4a4a" stroke="#4a4a4a" stroke-width="0.8"/><polygon points="1394.3,248.6 1397.2,242.6 1401.1,245.6 1398.2,251.6" fill="#555555" stroke="#555555" stroke-width="0.8"/><polygon points="1398.2,251.6 1401.1,245.6 1404.9,248.6 1402.1,254.6" fill="#4b4b4b" stroke="#4b4b4b" stroke-width="0.8"/><polygon points="1374.3,224.7 1377.7,218.9 1381.5,221.8 1378.1,227.7" fill="#a8a8a8" stroke="#a8a8a8" stroke-width="0.8"/><polygon points="1378.1,227.7 1381.5,221.8 1385.2,224.8 1381.9,230.7" fill="#979797" stroke="#979797" stroke-width="0.8"/><polygon points="1381.9,230.7 1385.2,224.8 1389.0,227.8 1385.8,233.7" fill="#828282" stroke="#828282" stroke-width="0.8"/><polygon points="1385.8,233.7 1389.0,227.8 1392.7,230.8 1389.6,236.6" fill="#555555" stroke="#555555" stroke-width="0.8"/><polygon points="1389.6,236.6 1392.7,230.8 1396.5,233.7 1393.4,239.6" fill="#555555" stroke="#555555" stroke-width="0.8"/><polygon points="1393.4,239.6 1396.5,233.7 1400.2,236.7 1397.2,242.6" fill="#505050" stroke="#505050" stroke-width="0.8"/><polygon points="1397.2,242.6 1400.2,236.7 1404.0,239.7 1401.1,245.6" fill="#4e4e4e" stroke="#4e4e4e" stroke-width="0.8"/><polygon points="1401.1,245.6 1404.0,239.7 1407.7,242.7 1404.9,248.6" fill="#505050" stroke="#505050" stroke-width="0.8"/><polygon points="1377.7,218.9 1381.3,213.1 1384.9,216.1 1381.5,221.8" fill="#a4a4a4" stroke="#a4a4a4" stroke-width="0.8"/><polygon points="1381.5,221.8 1384.9,216.1 1388.6,219.0 1385.2,224.8" fill="#909090" stroke="#909090" stroke-width="0.8"/><polygon points="1385.2,224.8 1388.6,219.0 1392.3,222.0 1389.0,227.8" fill="#767676" stroke="#767676" stroke-width="0.8"/><polygon points="1389.0,227.8 1392.3,222.0 1396.0,224.9 1392.7,230.8" fill="#636363" stroke="#636363" stroke-width="0.8"/><polygon points="1392.7,230.8 1396.0,224.9 1399.6,227.9 1396.5,233.7" fill="#575757" stroke="#575757" stroke-width="0.8"/><polygon points="1396.5,233.7 1399.6,227.9 1403.3,230.8 1400.2,236.7" fill="#5a5a5a" stroke="#5a5a5a" stroke-width="0.8"/><polygon points="1400.2,236.7 1403.3,230.8 1407.0,233.8 1404.0,239.7" fill="#5a5a5a" stroke="#5a5a5a" stroke-width="0.8"/><polygon points="1404.0,239.7 1407.0,233.8 1410.6,236.7 1407.7,242.7" fill="#444444" stroke="#444444" stroke-width="0.8"/><polygon points="1381.3,213.1 1384.9,207.4 1388.5,210.3 1384.9,216.1" fill="#a7a7a7" stroke="#a7a7a7" stroke-width="0.8"/><polygon points="1384.9,216.1 1388.5,210.3 1392.1,213.3 1388.6,219.0" fill="#9b9b9b" stroke="#9b9b9b" stroke-width="0.8"/><polygon points="1388.6,219.0 1392.1,213.3 1395.7,216.2 1392.3,222.0" fill="#808080" stroke="#808080" stroke-width="0.8"/><polygon points="1392.3,222.0 1395.7,216.2 1399.3,219.2 1396.0,224.9" fill="#4d4d4d" stroke="#4d4d4d" stroke-width="0.8"/><polygon points="1396.0,224.9 1399.3,219.2 1402.9,222.1 1399.6,227.9" fill="#474747" stroke="#474747" stroke-width="0.8"/><polygon points="1399.6,227.9 1402.9,222.1 1406.5,225.0 1403.3,230.8" fill="#4e4e4e" stroke="#4e4e4e" stroke-width="0.8"/><polygon points="1403.3,230.8 1406.5,225.0 1410.1,228.0 1407.0,233.8" fill="#414141" stroke="#414141" stroke-width="0.8"/><polygon points="1407.0,233.8 1410.1,228.0 1413.7,230.9 1410.6,236.7" fill="#434343" stroke="#434343" stroke-width="0.8"/><polygon points="1384.9,207.4 1388.7,201.8 1392.2,204.7 1388.5,210.3" fill="#999999" stroke="#999999" stroke-width="0.8"/><polygon points="1388.5,210.3 1392.2,204.7 1395.7,207.6 1392.1,213.3" fill="#939393" stroke="#939393" stroke-width="0.8"/><polygon points="1392.1,213.3 1395.7,207.6 1399.3,210.5 1395.7,216.2" fill="#7e7e7e" stroke="#7e7e7e" stroke-width="0.8"/><polygon points="1395.7,216.2 1399.3,210.5 1402.8,213.5 1399.3,219.2" fill="#626262" stroke="#626262" stroke-width="0.8"/><polygon points="1399.3,219.2 1402.8,213.5 1406.3,216.4 1402.9,222.1" fill="#484848" stroke="#484848" stroke-width="0.8"/><polygon points="1402.9,222.1 1406.3,216.4 1409.9,219.3 1406.5,225.0" fill="#565656" stroke="#565656" stroke-width="0.8"/><polygon points="1406.5,225.0 1409.9,219.3 1413.4,222.3 1410.1,228.0" fill="#525252" stroke="#525252" stroke-width="0.8"/><polygon points="1410.1,228.0 1413.4,222.3 1416.9,225.2 1413.7,230.9" fill="#414141" stroke="#414141" stroke-width="0.8"/><polygon points="1388.7,201.8 1392.5,196.2 1396.0,199.1 1392.2,204.7" fill="#afafaf" stroke="#afafaf" stroke-width="0.8"/><polygon points="1392.2,204.7 1396.0,199.1 1399.5,202.0 1395.7,207.6" fill="#9b9b9b" stroke="#9b9b9b" stroke-width="0.8"/><polygon points="1395.7,207.6 1399.5,202.0 1403.0,205.0 1399.3,210.5" fill="#6e6e6e" stroke="#6e6e6e" stroke-width="0.8"/><polygon points="1399.3,210.5 1403.0,205.0 1406.5,207.9 1402.8,213.5" fill="#636363" stroke="#636363" stroke-width="0.8"/><polygon points="1402.8,213.5 1406.5,207.9 1409.9,210.8 1406.3,216.4" fill="#4f4f4f" stroke="#4f4f4f" stroke-width="0.8"/><polygon points="1406.3,216.4 1409.9,210.8 1413.4,213.7 1409.9,219.3" fill="#4f4f4f" stroke="#4f4f4f" stroke-width="0.8"/><polygon points="1409.9,219.3 1413.4,213.7 1416.9,216.7 1413.4,222.3" fill="#5b5b5b" stroke="#5b5b5b" stroke-width="0.8"/><polygon points="1413.4,222.3 1416.9,216.7 1420.4,219.6 1416.9,225.2" fill="#545454" stroke="#545454" stroke-width="0.8"/><polygon points="1392.5,196.2 1396.5,190.7 1400.0,193.7 1396.0,199.1" fill="#9b9b9b" stroke="#9b9b9b" stroke-width="0.8"/><polygon points="1396.0,199.1 1400.0,193.7 1403.4,196.6 1399.5,202.0" fill="#8c8c8c" stroke="#8c8c8c" stroke-width="0.8"/><polygon points="1399.5,202.0 1403.4,196.6 1406.8,199.5 1403.0,205.0" fill="#767676" stroke="#767676" stroke-width="0.8"/><polygon points="1403.0,205.0 1406.8,199.5 1410.3,202.4 1406.5,207.9" fill="#525252" stroke="#525252" stroke-width="0.8"/><polygon points="1406.5,207.9 1410.3,202.4 1413.7,205.3 1409.9,210.8" fill="#494949" stroke="#494949" stroke-width="0.8"/><polygon points="1409.9,210.8 1413.7,205.3 1417.2,208.3 1413.4,213.7" fill="#4b4b4b" stroke="#4b4b4b" stroke-width="0.8"/><polygon points="1413.4,213.7 1417.2,208.3 1420.6,211.2 1416.9,216.7" fill="#535353" stroke="#535353" stroke-width="0.8"/><polygon points="1416.9,216.7 1420.6,211.2 1424.1,214.1 1420.4,219.6" fill="#3d3d3d" stroke="#3d3d3d" stroke-width="0.8"/><polygon points="1396.5,190.7 1400.7,185.4 1404.1,188.3 1400.0,193.7" fill="#a5a5a5" stroke="#a5a5a5" stroke-width="0.8"/><polygon points="1400.0,193.7 1404.1,188.3 1407.5,191.3 1403.4,196.6" fill="#8c8c8c" stroke="#8c8c8c" stroke-width="0.8"/><polygon points="1403.4,196.6 1407.5,191.3 1410.9,194.2 1406.8,199.5" fill="#686868" stroke="#686868" stroke-width="0.8"/><polygon points="1406.8,199.5 1410.9,194.2 1414.3,197.1 1410.3,202.4" fill="#525252" stroke="#525252" stroke-width="0.8"/><polygon points="1410.3,202.4 1414.3,197.1 1417.7,200.0 1413.7,205.3" fill="#555555" stroke="#555555" stroke-width="0.8"/><polygon points="1413.7,205.3 1417.7,200.0 1421.1,203.0 1417.2,208.3" fill="#505050" stroke="#505050" stroke-width="0.8"/><polygon points="1417.2,208.3 1421.1,203.0 1424.5,205.9 1420.6,211.2" fill="#414141" stroke="#414141" stroke-width="0.8"/><polygon points="1420.6,211.2 1424.5,205.9 1427.9,208.8 1424.1,214.1" fill="#585858" stroke="#585858" stroke-width="0.8"/><polygon points="1400.7,185.4 1405.0,180.3 1408.4,183.2 1404.1,188.3" fill="#acacac" stroke="#acacac" stroke-width="0.8"/><polygon points="1404.1,188.3 1408.4,183.2 1411.8,186.1 1407.5,191.3" fill="#9b9b9b" stroke="#9b9b9b" stroke-width="0.8"/><polygon points="1407.5,191.3 1411.8,186.1 1415.2,189.1 1410.9,194.2" fill="#6a6a6a" stroke="#6a6a6a" stroke-width="0.8"/><polygon points="1410.9,194.2 1415.2,189.1 1418.6,192.0 1414.3,197.1" fill="#505050" stroke="#505050" stroke-width="0.8"/><polygon points="1414.3,197.1 1418.6,192.0 1421.9,194.9 1417.7,200.0" fill="#454545" stroke="#454545" stroke-width="0.8"/><polygon points="1417.7,200.0 1421.9,194.9 1425.3,197.8 1421.1,203.0" fill="#585858" stroke="#585858" stroke-width="0.8"/><polygon points="1421.1,203.0 1425.3,197.8 1428.7,200.8 1424.5,205.9" fill="#474747" stroke="#474747" stroke-width="0.8"/><polygon points="1424.5,205.9 1428.7,200.8 1432.1,203.7 1427.9,208.8" fill="#404040" stroke="#404040" stroke-width="0.8"/><polygon points="1405.0,180.3 1409.6,175.3 1413.0,178.3 1408.4,183.2" fill="#a2a2a2" stroke="#a2a2a2" stroke-width="0.8"/><polygon points="1408.4,183.2 1413.0,178.3 1416.3,181.2 1411.8,186.1" fill="#9a9a9a" stroke="#9a9a9a" stroke-width="0.8"/><polygon points="1411.8,186.1 1416.3,181.2 1419.7,184.2 1415.2,189.1" fill="#7f7f7f" stroke="#7f7f7f" stroke-width="0.8"/><polygon points="1415.2,189.1 1419.7,184.2 1423.0,187.1 1418.6,192.0" fill="#515151" stroke="#515151" stroke-width="0.8"/><polygon points="1418.6,192.0 1423.0,187.1 1426.4,190.0 1421.9,194.9" fill="#494949" stroke="#494949" stroke-width="0.8"/><polygon points="1421.9,194.9 1426.4,190.0 1429.7,193.0 1425.3,197.8" fill="#5d5d5d" stroke="#5d5d5d" stroke-width="0.8"/><polygon points="1425.3,197.8 1429.7,193.0 1433.1,195.9 1428.7,200.8" fill="#515151" stroke="#515151" stroke-width="0.8"/><polygon points="1428.7,200.8 1433.1,195.9 1436.4,198.8 1432.1,203.7" fill="#525252" stroke="#525252" stroke-width="0.8"/><polygon points="1409.6,175.3 1414.5,170.7 1417.8,173.6 1413.0,178.3" fill="#9a9a9a" stroke="#9a9a9a" stroke-width="0.8"/><polygon points="1413.0,178.3 1417.8,173.6 1421.1,176.6 1416.3,181.2" fill="#848484" stroke="#848484" stroke-width="0.8"/><polygon points="1416.3,181.2 1421.1,176.6 1424.5,179.5 1419.7,184.2" fill="#7d7d7d" stroke="#7d7d7d" stroke-width="0.8"/><polygon points="1419.7,184.2 1424.5,179.5 1427.8,182.5 1423.0,187.1" fill="#585858" stroke="#585858" stroke-width="0.8"/><polygon points="1423.0,187.1 1427.8,182.5 1431.1,185.4 1426.4,190.0" fill="#484848" stroke="#484848" stroke-width="0.8"/><polygon points="1426.4,190.0 1431.1,185.4 1434.4,188.3 1429.7,193.0" fill="#5f5f5f" stroke="#5f5f5f" stroke-width="0.8"/><polygon points="1429.7,193.0 1434.4,188.3 1437.8,191.3 1433.1,195.9" fill="#545454" stroke="#545454" stroke-width="0.8"/><polygon points="1433.1,195.9 1437.8,191.3 1441.1,194.2 1436.4,198.8" fill="#565656" stroke="#565656" stroke-width="0.8"/><polygon points="1414.5,170.7 1419.5,166.2 1422.8,169.2 1417.8,173.6" fill="#9b9b9b" stroke="#9b9b9b" stroke-width="0.8"/><polygon points="1417.8,173.6 1422.8,169.2 1426.2,172.2 1421.1,176.6" fill="#9b9b9b" stroke="#9b9b9b" stroke-width="0.8"/><polygon points="1421.1,176.6 1426.2,172.2 1429.5,175.1 1424.5,179.5" fill="#6d6d6d" stroke="#6d6d6d" stroke-width="0.8"/><polygon points="1424.5,179.5 1429.5,175.1 1432.8,178.1 1427.8,182.5" fill="#656565" stroke="#656565" stroke-width="0.8"/><polygon points="1427.8,182.5 1432.8,178.1 1436.1,181.0 1431.1,185.4" fill="#555555" stroke="#555555" stroke-width="0.8"/><polygon points="1431.1,185.4 1436.1,181.0 1439.4,184.0 1434.4,188.3" fill="#505050" stroke="#505050" stroke-width="0.8"/><polygon points="1434.4,188.3 1439.4,184.0 1442.7,187.0 1437.8,191.3" fill="#535353" stroke="#535353" stroke-width="0.8"/><polygon points="1437.8,191.3 1442.7,187.0 1446.0,189.9 1441.1,194.2" fill="#5b5b5b" stroke="#5b5b5b" stroke-width="0.8"/><polygon points="1419.5,166.2 1424.8,162.1 1428.1,165.1 1422.8,169.2" fill="#a2a2a2" stroke="#a2a2a2" stroke-width="0.8"/><polygon points="1422.8,169.2 1428.1,165.1 1431.4,168.0 1426.2,172.2" fill="#888888" stroke="#888888" stroke-width="0.8"/><polygon points="1426.2,172.2 1431.4,168.0 1434.7,171.0 1429.5,175.1" fill="#7b7b7b" stroke="#7b7b7b" stroke-width="0.8"/><polygon points="1429.5,175.1 1434.7,171.0 1438.0,174.0 1432.8,178.1" fill="#555555" stroke="#555555" stroke-width="0.8"/><polygon points="1432.8,178.1 1438.0,174.0 1441.3,177.0 1436.1,181.0" fill="#4d4d4d" stroke="#4d4d4d" stroke-width="0.8"/><polygon points="1436.1,181.0 1441.3,177.0 1444.6,180.0 1439.4,184.0" fill="#4c4c4c" stroke="#4c4c4c" stroke-width="0.8"/><polygon points="1439.4,184.0 1444.6,180.0 1447.9,182.9 1442.7,187.0" fill="#474747" stroke="#474747" stroke-width="0.8"/><polygon points="1442.7,187.0 1447.9,182.9 1451.2,185.9 1446.0,189.9" fill="#484848" stroke="#484848" stroke-width="0.8"/><polygon points="1424.8,162.1 1430.3,158.2 1433.6,161.2 1428.1,165.1" fill="#a4a4a4" stroke="#a4a4a4" stroke-width="0.8"/><polygon points="1428.1,165.1 1433.6,161.2 1436.9,164.2 1431.4,168.0" fill="#8e8e8e" stroke="#8e8e8e" stroke-width="0.8"/><polygon points="1431.4,168.0 1436.9,164.2 1440.2,167.2 1434.7,171.0" fill="#838383" stroke="#838383" stroke-width="0.8"/><polygon points="1434.7,171.0 1440.2,167.2 1443.5,170.2 1438.0,174.0" fill="#585858" stroke="#585858" stroke-width="0.8"/><polygon points="1438.0,174.0 1443.5,170.2 1446.8,173.2 1441.3,177.0" fill="#595959" stroke="#595959" stroke-width="0.8"/><polygon points="1441.3,177.0 1446.8,173.2 1450.0,176.2 1444.6,180.0" fill="#4e4e4e" stroke="#4e4e4e" stroke-width="0.8"/><polygon points="1444.6,180.0 1450.0,176.2 1453.3,179.2 1447.9,182.9" fill="#515151" stroke="#515151" stroke-width="0.8"/><polygon points="1447.9,182.9 1453.3,179.2 1456.6,182.2 1451.2,185.9" fill="#454545" stroke="#454545" stroke-width="0.8"/><polygon points="1430.3,158.2 1436.0,154.6 1439.3,157.6 1433.6,161.2" fill="#a4a4a4" stroke="#a4a4a4" stroke-width="0.8"/><polygon points="1433.6,161.2 1439.3,157.6 1442.6,160.7 1436.9,164.2" fill="#888888" stroke="#888888" stroke-width="0.8"/><polygon points="1436.9,164.2 1442.6,160.7 1445.9,163.7 1440.2,167.2" fill="#848484" stroke="#848484" stroke-width="0.8"/><polygon points="1440.2,167.2 1445.9,163.7 1449.1,166.8 1443.5,170.2" fill="#616161" stroke="#616161" stroke-width="0.8"/><polygon points="1443.5,170.2 1449.1,166.8 1452.4,169.8 1446.8,173.2" fill="#525252" stroke="#525252" stroke-width="0.8"/><polygon points="1446.8,173.2 1452.4,169.8 1455.7,172.8 1450.0,176.2" fill="#585858" stroke="#585858" stroke-width="0.8"/><polygon points="1450.0,176.2 1455.7,172.8 1459.0,175.9 1453.3,179.2" fill="#636363" stroke="#636363" stroke-width="0.8"/><polygon points="1453.3,179.2 1459.0,175.9 1462.3,178.9 1456.6,182.2" fill="#494949" stroke="#494949" stroke-width="0.8"/><polygon points="1436.0,154.6 1441.9,151.2 1445.2,154.3 1439.3,157.6" fill="#b2b2b2" stroke="#b2b2b2" stroke-width="0.8"/><polygon points="1439.3,157.6 1445.2,154.3 1448.4,157.4 1442.6,160.7" fill="#929292" stroke="#929292" stroke-width="0.8"/><polygon points="1442.6,160.7 1448.4,157.4 1451.7,160.5 1445.9,163.7" fill="#7d7d7d" stroke="#7d7d7d" stroke-width="0.8"/><polygon points="1445.9,163.7 1451.7,160.5 1455.0,163.6 1449.1,166.8" fill="#6a6a6a" stroke="#6a6a6a" stroke-width="0.8"/><polygon points="1449.1,166.8 1455.0,163.6 1458.3,166.8 1452.4,169.8" fill="#595959" stroke="#595959" stroke-width="0.8"/><polygon points="1452.4,169.8 1458.3,166.8 1461.6,169.9 1455.7,172.8" fill="#5b5b5b" stroke="#5b5b5b" stroke-width="0.8"/><polygon points="1455.7,172.8 1461.6,169.9 1464.9,173.0 1459.0,175.9" fill="#5d5d5d" stroke="#5d5d5d" stroke-width="0.8"/><polygon points="1459.0,175.9 1464.9,173.0 1468.1,176.1 1462.3,178.9" fill="#666666" stroke="#666666" stroke-width="0.8"/><polygon points="1441.9,151.2 1447.8,148.0 1451.1,151.2 1445.2,154.3" fill="#a2a2a2" stroke="#a2a2a2" stroke-width="0.8"/><polygon points="1445.2,154.3 1451.1,151.2 1454.4,154.5 1448.4,157.4" fill="#9c9c9c" stroke="#9c9c9c" stroke-width="0.8"/><polygon points="1448.4,157.4 1454.4,154.5 1457.7,157.7 1451.7,160.5" fill="#838383" stroke="#838383" stroke-width="0.8"/><polygon points="1451.7,160.5 1457.7,157.7 1461.0,160.9 1455.0,163.6" fill="#666666" stroke="#666666" stroke-width="0.8"/><polygon points="1455.0,163.6 1461.0,160.9 1464.3,164.1 1458.3,166.8" fill="#5b5b5b" stroke="#5b5b5b" stroke-width="0.8"/><polygon points="1458.3,166.8 1464.3,164.1 1467.6,167.3 1461.6,169.9" fill="#585858" stroke="#585858" stroke-width="0.8"/><polygon points="1461.6,169.9 1467.6,167.3 1470.9,170.6 1464.9,173.0" fill="#4d4d4d" stroke="#4d4d4d" stroke-width="0.8"/><polygon points="1464.9,173.0 1470.9,170.6 1474.2,173.8 1468.1,176.1" fill="#525252" stroke="#525252" stroke-width="0.8"/><polygon points="1447.8,148.0 1454.0,145.2 1457.3,148.5 1451.1,151.2" fill="#989898" stroke="#989898" stroke-width="0.8"/><polygon points="1451.1,151.2 1457.3,148.5 1460.6,151.9 1454.4,154.5" fill="#989898" stroke="#989898" stroke-width="0.8"/><polygon points="1454.4,154.5 1460.6,151.9 1463.9,155.2 1457.7,157.7" fill="#767676" stroke="#767676" stroke-width="0.8"/><polygon points="1457.7,157.7 1463.9,155.2 1467.2,158.5 1461.0,160.9" fill="#5a5a5a" stroke="#5a5a5a" stroke-width="0.8"/><polygon points="1461.0,160.9 1467.2,158.5 1470.5,161.9 1464.3,164.1" fill="#535353" stroke="#535353" stroke-width="0.8"/><polygon points="1464.3,164.1 1470.5,161.9 1473.8,165.2 1467.6,167.3" fill="#676767" stroke="#676767" stroke-width="0.8"/><polygon points="1467.6,167.3 1473.8,165.2 1477.1,168.5 1470.9,170.6" fill="#656565" stroke="#656565" stroke-width="0.8"/><polygon points="1470.9,170.6 1477.1,168.5 1480.4,171.9 1474.2,173.8" fill="#656565" stroke="#656565" stroke-width="0.8"/><polygon points="1454.0,145.2 1460.2,142.6 1463.5,146.1 1457.3,148.5" fill="#9b9b9b" stroke="#9b9b9b" stroke-width="0.8"/><polygon points="1457.3,148.5 1463.5,146.1 1466.8,149.6 1460.6,151.9" fill="#888888" stroke="#888888" stroke-width="0.8"/><polygon points="1460.6,151.9 1466.8,149.6 1470.1,153.1 1463.9,155.2" fill="#767676" stroke="#767676" stroke-width="0.8"/><polygon points="1463.9,155.2 1470.1,153.1 1473.5,156.5 1467.2,158.5" fill="#636363" stroke="#636363" stroke-width="0.8"/><polygon points="1467.2,158.5 1473.5,156.5 1476.8,160.0 1470.5,161.9" fill="#565656" stroke="#565656" stroke-width="0.8"/><polygon points="1470.5,161.9 1476.8,160.0 1480.1,163.5 1473.8,165.2" fill="#5d5d5d" stroke="#5d5d5d" stroke-width="0.8"/><polygon points="1473.8,165.2 1480.1,163.5 1483.4,167.0 1477.1,168.5" fill="#555555" stroke="#555555" stroke-width="0.8"/><polygon points="1477.1,168.5 1483.4,167.0 1486.8,170.4 1480.4,171.9" fill="#717171" stroke="#717171" stroke-width="0.8"/><polygon points="1460.2,142.6 1466.5,140.4 1469.9,144.0 1463.5,146.1" fill="#ababab" stroke="#ababab" stroke-width="0.8"/><polygon points="1463.5,146.1 1469.9,144.0 1473.2,147.6 1466.8,149.6" fill="#8f8f8f" stroke="#8f8f8f" stroke-width="0.8"/><polygon points="1466.8,149.6 1473.2,147.6 1476.5,151.3 1470.1,153.1" fill="#747474" stroke="#747474" stroke-width="0.8"/><polygon points="1470.1,153.1 1476.5,151.3 1479.9,154.9 1473.5,156.5" fill="#727272" stroke="#727272" stroke-width="0.8"/><polygon points="1473.5,156.5 1479.9,154.9 1483.2,158.5 1476.8,160.0" fill="#5b5b5b" stroke="#5b5b5b" stroke-width="0.8"/><polygon points="1476.8,160.0 1483.2,158.5 1486.5,162.1 1480.1,163.5" fill="#5b5b5b" stroke="#5b5b5b" stroke-width="0.8"/><polygon points="1480.1,163.5 1486.5,162.1 1489.9,165.8 1483.4,167.0" fill="#4e4e4e" stroke="#4e4e4e" stroke-width="0.8"/><polygon points="1483.4,167.0 1489.9,165.8 1493.2,169.4 1486.8,170.4" fill="#656565" stroke="#656565" stroke-width="0.8"/><polygon points="1466.5,140.4 1473.0,138.4 1476.3,142.2 1469.9,144.0" fill="#9b9b9b" stroke="#9b9b9b" stroke-width="0.8"/><polygon points="1469.9,144.0 1476.3,142.2 1479.7,146.0 1473.2,147.6" fill="#8c8c8c" stroke="#8c8c8c" stroke-width="0.8"/><polygon points="1473.2,147.6 1479.7,146.0 1483.0,149.8 1476.5,151.3" fill="#727272" stroke="#727272" stroke-width="0.8"/><polygon points="1476.5,151.3 1483.0,149.8 1486.4,153.6 1479.9,154.9" fill="#656565" stroke="#656565" stroke-width="0.8"/><polygon points="1479.9,154.9 1486.4,153.6 1489.7,157.4 1483.2,158.5" fill="#545454" stroke="#545454" stroke-width="0.8"/><polygon points="1483.2,158.5 1489.7,157.4 1493.0,161.2 1486.5,162.1" fill="#595959" stroke="#595959" stroke-width="0.8"/><polygon points="1486.5,162.1 1493.0,161.2 1496.4,165.0 1489.9,165.8" fill="#525252" stroke="#525252" stroke-width="0.8"/><polygon points="1489.9,165.8 1496.4,165.0 1499.7,168.8 1493.2,169.4" fill="#696969" stroke="#696969" stroke-width="0.8"/><polygon points="1473.0,138.4 1479.5,136.7 1482.9,140.7 1476.3,142.2" fill="#8c8c8c" stroke="#8c8c8c" stroke-width="0.8"/><polygon points="1476.3,142.2 1482.9,140.7 1486.2,144.7 1479.7,146.0" fill="#7d7d7d" stroke="#7d7d7d" stroke-width="0.8"/><polygon points="1479.7,146.0 1486.2,144.7 1489.6,148.6 1483.0,149.8" fill="#747474" stroke="#747474" stroke-width="0.8"/><polygon points="1483.0,149.8 1489.6,148.6 1492.9,152.6 1486.4,153.6" fill="#5e5e5e" stroke="#5e5e5e" stroke-width="0.8"/><polygon points="1486.4,153.6 1492.9,152.6 1496.3,156.5 1489.7,157.4" fill="#656565" stroke="#656565" stroke-width="0.8"/><polygon points="1489.7,157.4 1496.3,156.5 1499.6,160.5 1493.0,161.2" fill="#616161" stroke="#616161" stroke-width="0.8"/><polygon points="1493.0,161.2 1499.6,160.5 1503.0,164.5 1496.4,165.0" fill="#656565" stroke="#656565" stroke-width="0.8"/><polygon points="1496.4,165.0 1503.0,164.5 1506.3,168.4 1499.7,168.8" fill="#747474" stroke="#747474" stroke-width="0.8"/><polygon points="1479.5,136.7 1486.1,135.3 1489.5,139.5 1482.9,140.7" fill="#9c9c9c" stroke="#9c9c9c" stroke-width="0.8"/><polygon points="1482.9,140.7 1489.5,139.5 1492.8,143.6 1486.2,144.7" fill="#939393" stroke="#939393" stroke-width="0.8"/><polygon points="1486.2,144.7 1492.8,143.6 1496.2,147.7 1489.6,148.6" fill="#767676" stroke="#767676" stroke-width="0.8"/><polygon points="1489.6,148.6 1496.2,147.7 1499.5,151.8 1492.9,152.6" fill="#626262" stroke="#626262" stroke-width="0.8"/><polygon points="1492.9,152.6 1499.5,151.8 1502.9,155.9 1496.3,156.5" fill="#717171" stroke="#717171" stroke-width="0.8"/><polygon points="1496.3,156.5 1502.9,155.9 1506.2,160.0 1499.6,160.5" fill="#585858" stroke="#585858" stroke-width="0.8"/><polygon points="1499.6,160.5 1506.2,160.0 1509.6,164.1 1503.0,164.5" fill="#656565" stroke="#656565" stroke-width="0.8"/><polygon points="1503.0,164.5 1509.6,164.1 1512.9,168.3 1506.3,168.4" fill="#787878" stroke="#787878" stroke-width="0.8"/><polygon points="1486.1,135.3 1492.8,134.2 1496.1,138.4 1489.5,139.5" fill="#868686" stroke="#868686" stroke-width="0.8"/><polygon points="1489.5,139.5 1496.1,138.4 1499.5,142.7 1492.8,143.6" fill="#909090" stroke="#909090" stroke-width="0.8"/><polygon points="1492.8,143.6 1499.5,142.7 1502.8,146.9 1496.2,147.7" fill="#838383" stroke="#838383" stroke-width="0.8"/><polygon points="1496.2,147.7 1502.8,146.9 1506.1,151.2 1499.5,151.8" fill="#6b6b6b" stroke="#6b6b6b" stroke-width="0.8"/><polygon points="1499.5,151.8 1506.1,151.2 1509.5,155.4 1502.9,155.9" fill="#6b6b6b" stroke="#6b6b6b" stroke-width="0.8"/><polygon points="1502.9,155.9 1509.5,155.4 1512.8,159.7 1506.2,160.0" fill="#6b6b6b" stroke="#6b6b6b" stroke-width="0.8"/><polygon points="1506.2,160.0 1512.8,159.7 1516.2,164.0 1509.6,164.1" fill="#565656" stroke="#565656" stroke-width="0.8"/><polygon points="1509.6,164.1 1516.2,164.0 1519.5,168.2 1512.9,168.3" fill="#787878" stroke="#787878" stroke-width="0.8"/><polygon points="1492.8,134.2 1499.5,133.2 1502.8,137.6 1496.1,138.4" fill="#909090" stroke="#909090" stroke-width="0.8"/><polygon points="1496.1,138.4 1502.8,137.6 1506.1,141.9 1499.5,142.7" fill="#8e8e8e" stroke="#8e8e8e" stroke-width="0.8"/><polygon points="1499.5,142.7 1506.1,141.9 1509.5,146.3 1502.8,146.9" fill="#808080" stroke="#808080" stroke-width="0.8"/><polygon points="1502.8,146.9 1509.5,146.3 1512.8,150.7 1506.1,151.2" fill="#717171" stroke="#717171" stroke-width="0.8"/><polygon points="1506.1,151.2 1512.8,150.7 1516.1,155.1 1509.5,155.4" fill="#676767" stroke="#676767" stroke-width="0.8"/><polygon points="1509.5,155.4 1516.1,155.1 1519.4,159.5 1512.8,159.7" fill="#6e6e6e" stroke="#6e6e6e" stroke-width="0.8"/><polygon points="1512.8,159.7 1519.4,159.5 1522.8,163.9 1516.2,164.0" fill="#666666" stroke="#666666" stroke-width="0.8"/><polygon points="1516.2,164.0 1522.8,163.9 1526.1,168.3 1519.5,168.2" fill="#818181" stroke="#818181" stroke-width="0.8"/><polygon points="1499.5,133.2 1506.2,132.4 1509.5,136.9 1502.8,137.6" fill="#858585" stroke="#858585" stroke-width="0.8"/><polygon points="1502.8,137.6 1509.5,136.9 1512.8,141.4 1506.1,141.9" fill="#757575" stroke="#757575" stroke-width="0.8"/><polygon points="1506.1,141.9 1512.8,141.4 1516.1,145.9 1509.5,146.3" fill="#6d6d6d" stroke="#6d6d6d" stroke-width="0.8"/><polygon points="1509.5,146.3 1516.1,145.9 1519.4,150.4 1512.8,150.7" fill="#646464" stroke="#646464" stroke-width="0.8"/><polygon points="1512.8,150.7 1519.4,150.4 1522.8,154.9 1516.1,155.1" fill="#5b5b5b" stroke="#5b5b5b" stroke-width="0.8"/><polygon points="1516.1,155.1 1522.8,154.9 1526.1,159.4 1519.4,159.5" fill="#6d6d6d" stroke="#6d6d6d" stroke-width="0.8"/><polygon points="1519.4,159.5 1526.1,159.4 1529.4,163.9 1522.8,163.9" fill="#636363" stroke="#636363" stroke-width="0.8"/><polygon points="1522.8,163.9 1529.4,163.9 1532.7,168.4 1526.1,168.3" fill="#838383" stroke="#838383" stroke-width="0.8"/><polygon points="1506.2,132.4 1512.9,131.8 1516.2,136.4 1509.5,136.9" fill="#8e8e8e" stroke="#8e8e8e" stroke-width="0.8"/><polygon points="1509.5,136.9 1516.2,136.4 1519.5,141.0 1512.8,141.4" fill="#868686" stroke="#868686" stroke-width="0.8"/><polygon points="1512.8,141.4 1519.5,141.0 1522.8,145.6 1516.1,145.9" fill="#767676" stroke="#767676" stroke-width="0.8"/><polygon points="1516.1,145.9 1522.8,145.6 1526.1,150.2 1519.4,150.4" fill="#5b5b5b" stroke="#5b5b5b" stroke-width="0.8"/><polygon points="1519.4,150.4 1526.1,150.2 1529.4,154.7 1522.8,154.9" fill="#6f6f6f" stroke="#6f6f6f" stroke-width="0.8"/><polygon points="1522.8,154.9 1529.4,154.7 1532.7,159.3 1526.1,159.4" fill="#6c6c6c" stroke="#6c6c6c" stroke-width="0.8"/><polygon points="1526.1,159.4 1532.7,159.3 1536.0,163.9 1529.4,163.9" fill="#626262" stroke="#626262" stroke-width="0.8"/><polygon points="1529.4,163.9 1536.0,163.9 1539.3,168.5 1532.7,168.4" fill="#848484" stroke="#848484" stroke-width="0.8"/><polygon points="1512.9,131.8 1519.7,131.4 1522.9,136.0 1516.2,136.4" fill="#8f8f8f" stroke="#8f8f8f" stroke-width="0.8"/><polygon points="1516.2,136.4 1522.9,136.0 1526.2,140.7 1519.5,141.0" fill="#757575" stroke="#757575" stroke-width="0.8"/><polygon points="1519.5,141.0 1526.2,140.7 1529.5,145.4 1522.8,145.6" fill="#7d7d7d" stroke="#7d7d7d" stroke-width="0.8"/><polygon points="1522.8,145.6 1529.5,145.4 1532.8,150.0 1526.1,150.2" fill="#636363" stroke="#636363" stroke-width="0.8"/><polygon points="1526.1,150.2 1532.8,150.0 1536.1,154.7 1529.4,154.7" fill="#5b5b5b" stroke="#5b5b5b" stroke-width="0.8"/><polygon points="1529.4,154.7 1536.1,154.7 1539.3,159.4 1532.7,159.3" fill="#5f5f5f" stroke="#5f5f5f" stroke-width="0.8"/><polygon points="1532.7,159.3 1539.3,159.4 1542.6,164.0 1536.0,163.9" fill="#6a6a6a" stroke="#6a6a6a" stroke-width="0.8"/><polygon points="1536.0,163.9 1542.6,164.0 1545.9,168.7 1539.3,168.5" fill="#7b7b7b" stroke="#7b7b7b" stroke-width="0.8"/><polygon points="1519.7,131.4 1526.4,131.1 1529.7,135.8 1522.9,136.0" fill="#919191" stroke="#919191" stroke-width="0.8"/><polygon points="1522.9,136.0 1529.7,135.8 1532.9,140.5 1526.2,140.7" fill="#8f8f8f" stroke="#8f8f8f" stroke-width="0.8"/><polygon points="1526.2,140.7 1532.9,140.5 1536.2,145.2 1529.5,145.4" fill="#777777" stroke="#777777" stroke-width="0.8"/><polygon points="1529.5,145.4 1536.2,145.2 1539.5,150.0 1532.8,150.0" fill="#676767" stroke="#676767" stroke-width="0.8"/><polygon points="1532.8,150.0 1539.5,150.0 1542.7,154.7 1536.1,154.7" fill="#686868" stroke="#686868" stroke-width="0.8"/><polygon points="1536.1,154.7 1542.7,154.7 1546.0,159.4 1539.3,159.4" fill="#6c6c6c" stroke="#6c6c6c" stroke-width="0.8"/><polygon points="1539.3,159.4 1546.0,159.4 1549.2,164.1 1542.6,164.0" fill="#6b6b6b" stroke="#6b6b6b" stroke-width="0.8"/><polygon points="1542.6,164.0 1549.2,164.1 1552.5,168.9 1545.9,168.7" fill="#888888" stroke="#888888" stroke-width="0.8"/><polygon points="1526.4,131.1 1533.2,130.9 1536.4,135.7 1529.7,135.8" fill="#8e8e8e" stroke="#8e8e8e" stroke-width="0.8"/><polygon points="1529.7,135.8 1536.4,135.7 1539.7,140.4 1532.9,140.5" fill="#757575" stroke="#757575" stroke-width="0.8"/><polygon points="1532.9,140.5 1539.7,140.4 1542.9,145.2 1536.2,145.2" fill="#6d6d6d" stroke="#6d6d6d" stroke-width="0.8"/><polygon points="1536.2,145.2 1542.9,145.2 1546.1,150.0 1539.5,150.0" fill="#646464" stroke="#646464" stroke-width="0.8"/><polygon points="1539.5,150.0 1546.1,150.0 1549.4,154.7 1542.7,154.7" fill="#6f6f6f" stroke="#6f6f6f" stroke-width="0.8"/><polygon points="1542.7,154.7 1549.4,154.7 1552.6,159.5 1546.0,159.4" fill="#616161" stroke="#616161" stroke-width="0.8"/><polygon points="1546.0,159.4 1552.6,159.5 1555.8,164.3 1549.2,164.1" fill="#666666" stroke="#666666" stroke-width="0.8"/><polygon points="1549.2,164.1 1555.8,164.3 1559.1,169.0 1552.5,168.9" fill="#777777" stroke="#777777" stroke-width="0.8"/><polygon points="1533.2,130.9 1540.0,130.8 1543.2,135.6 1536.4,135.7" fill="#7d7d7d" stroke="#7d7d7d" stroke-width="0.8"/><polygon points="1536.4,135.7 1543.2,135.6 1546.4,140.4 1539.7,140.4" fill="#7a7a7a" stroke="#7a7a7a" stroke-width="0.8"/><polygon points="1539.7,140.4 1546.4,140.4 1549.6,145.2 1542.9,145.2" fill="#7c7c7c" stroke="#7c7c7c" stroke-width="0.8"/><polygon points="1542.9,145.2 1549.6,145.2 1552.8,150.0 1546.1,150.0" fill="#707070" stroke="#707070" stroke-width="0.8"/><polygon points="1546.1,150.0 1552.8,150.0 1556.0,154.8 1549.4,154.7" fill="#6d6d6d" stroke="#6d6d6d" stroke-width="0.8"/><polygon points="1549.4,154.7 1556.0,154.8 1559.3,159.6 1552.6,159.5" fill="#616161" stroke="#616161" stroke-width="0.8"/><polygon points="1552.6,159.5 1559.3,159.6 1562.5,164.4 1555.8,164.3" fill="#656565" stroke="#656565" stroke-width="0.8"/><polygon points="1555.8,164.3 1562.5,164.4 1565.7,169.2 1559.1,169.0" fill="#848484" stroke="#848484" stroke-width="0.8"/><polygon points="1540.0,130.8 1546.7,130.8 1549.9,135.6 1543.2,135.6" fill="#888888" stroke="#888888" stroke-width="0.8"/><polygon points="1543.2,135.6 1549.9,135.6 1553.1,140.4 1546.4,140.4" fill="#767676" stroke="#767676" stroke-width="0.8"/><polygon points="1546.4,140.4 1553.1,140.4 1556.3,145.2 1549.6,145.2" fill="#828282" stroke="#828282" stroke-width="0.8"/><polygon points="1549.6,145.2 1556.3,145.2 1559.5,150.0 1552.8,150.0" fill="#626262" stroke="#626262" stroke-width="0.8"/><polygon points="1552.8,150.0 1559.5,150.0 1562.7,154.9 1556.0,154.8" fill="#767676" stroke="#767676" stroke-width="0.8"/><polygon points="1556.0,154.8 1562.7,154.9 1565.9,159.7 1559.3,159.6" fill="#737373" stroke="#737373" stroke-width="0.8"/><polygon points="1559.3,159.6 1565.9,159.7 1569.1,164.5 1562.5,164.4" fill="#575757" stroke="#575757" stroke-width="0.8"/><polygon points="1562.5,164.4 1569.1,164.5 1572.3,169.3 1565.7,169.2" fill="#848484" stroke="#848484" stroke-width="0.8"/><polygon points="1546.7,130.8 1553.5,130.8 1556.7,135.6 1549.9,135.6" fill="#919191" stroke="#919191" stroke-width="0.8"/><polygon points="1549.9,135.6 1556.7,135.6 1559.9,140.4 1553.1,140.4" fill="#8d8d8d" stroke="#8d8d8d" stroke-width="0.8"/><polygon points="1553.1,140.4 1559.9,140.4 1563.0,145.3 1556.3,145.2" fill="#757575" stroke="#757575" stroke-width="0.8"/><polygon points="1556.3,145.2 1563.0,145.3 1566.2,150.1 1559.5,150.0" fill="#646464" stroke="#646464" stroke-width="0.8"/><polygon points="1559.5,150.0 1566.2,150.1 1569.4,154.9 1562.7,154.9" fill="#606060" stroke="#606060" stroke-width="0.8"/><polygon points="1562.7,154.9 1569.4,154.9 1572.5,159.7 1565.9,159.7" fill="#737373" stroke="#737373" stroke-width="0.8"/><polygon points="1565.9,159.7 1572.5,159.7 1575.7,164.5 1569.1,164.5" fill="#5c5c5c" stroke="#5c5c5c" stroke-width="0.8"/><polygon points="1569.1,164.5 1575.7,164.5 1578.9,169.3 1572.3,169.3" fill="#878787" stroke="#878787" stroke-width="0.8"/><polygon points="1553.5,130.8 1560.3,130.9 1563.4,135.7 1556.7,135.6" fill="#7e7e7e" stroke="#7e7e7e" stroke-width="0.8"/><polygon points="1556.7,135.6 1563.4,135.7 1566.6,140.5 1559.9,140.4" fill="#808080" stroke="#808080" stroke-width="0.8"/><polygon points="1559.9,140.4 1566.6,140.5 1569.7,145.3 1563.0,145.3" fill="#838383" stroke="#838383" stroke-width="0.8"/><polygon points="1563.0,145.3 1569.7,145.3 1572.9,150.1 1566.2,150.1" fill="#606060" stroke="#606060" stroke-width="0.8"/><polygon points="1566.2,150.1 1572.9,150.1 1576.0,154.9 1569.4,154.9" fill="#717171" stroke="#717171" stroke-width="0.8"/><polygon points="1569.4,154.9 1576.0,154.9 1579.2,159.7 1572.5,159.7" fill="#676767" stroke="#676767" stroke-width="0.8"/><polygon points="1572.5,159.7 1579.2,159.7 1582.3,164.5 1575.7,164.5" fill="#6f6f6f" stroke="#6f6f6f" stroke-width="0.8"/><polygon points="1575.7,164.5 1582.3,164.5 1585.5,169.3 1578.9,169.3" fill="#8a8a8a" stroke="#8a8a8a" stroke-width="0.8"/><polygon points="1560.3,130.9 1567.1,130.9 1570.2,135.7 1563.4,135.7" fill="#7f7f7f" stroke="#7f7f7f" stroke-width="0.8"/><polygon points="1563.4,135.7 1570.2,135.7 1573.3,140.5 1566.6,140.5" fill="#8a8a8a" stroke="#8a8a8a" stroke-width="0.8"/><polygon points="1566.6,140.5 1573.3,140.5 1576.4,145.2 1569.7,145.3" fill="#757575" stroke="#757575" stroke-width="0.8"/><polygon points="1569.7,145.3 1576.4,145.2 1579.6,150.0 1572.9,150.1" fill="#5d5d5d" stroke="#5d5d5d" stroke-width="0.8"/><polygon points="1572.9,150.1 1579.6,150.0 1582.7,154.8 1576.0,154.9" fill="#5b5b5b" stroke="#5b5b5b" stroke-width="0.8"/><polygon points="1576.0,154.9 1582.7,154.8 1585.8,159.6 1579.2,159.7" fill="#676767" stroke="#676767" stroke-width="0.8"/><polygon points="1579.2,159.7 1585.8,159.6 1588.9,164.3 1582.3,164.5" fill="#636363" stroke="#636363" stroke-width="0.8"/><polygon points="1582.3,164.5 1588.9,164.3 1592.1,169.1 1585.5,169.3" fill="#7f7f7f" stroke="#7f7f7f" stroke-width="0.8"/><polygon points="1567.1,130.9 1573.8,131.0 1576.9,135.7 1570.2,135.7" fill="#7c7c7c" stroke="#7c7c7c" stroke-width="0.8"/><polygon points="1570.2,135.7 1576.9,135.7 1580.0,140.4 1573.3,140.5" fill="#7a7a7a" stroke="#7a7a7a" stroke-width="0.8"/><polygon points="1573.3,140.5 1580.0,140.4 1583.1,145.2 1576.4,145.2" fill="#707070" stroke="#707070" stroke-width="0.8"/><polygon points="1576.4,145.2 1583.1,145.2 1586.2,149.9 1579.6,150.0" fill="#747474" stroke="#747474" stroke-width="0.8"/><polygon points="1579.6,150.0 1586.2,149.9 1589.3,154.6 1582.7,154.8" fill="#5b5b5b" stroke="#5b5b5b" stroke-width="0.8"/><polygon points="1582.7,154.8 1589.3,154.6 1592.4,159.3 1585.8,159.6" fill="#6e6e6e" stroke="#6e6e6e" stroke-width="0.8"/><polygon points="1585.8,159.6 1592.4,159.3 1595.5,164.1 1588.9,164.3" fill="#6e6e6e" stroke="#6e6e6e" stroke-width="0.8"/><polygon points="1588.9,164.3 1595.5,164.1 1598.6,168.8 1592.1,169.1" fill="#7a7a7a" stroke="#7a7a7a" stroke-width="0.8"/><polygon points="1573.8,131.0 1580.6,131.1 1583.7,135.7 1576.9,135.7" fill="#929292" stroke="#929292" stroke-width="0.8"/><polygon points="1576.9,135.7 1583.7,135.7 1586.8,140.4 1580.0,140.4" fill="#848484" stroke="#848484" stroke-width="0.8"/><polygon points="1580.0,140.4 1586.8,140.4 1589.8,145.1 1583.1,145.2" fill="#818181" stroke="#818181" stroke-width="0.8"/><polygon points="1583.1,145.2 1589.8,145.1 1592.9,149.7 1586.2,149.9" fill="#646464" stroke="#646464" stroke-width="0.8"/><polygon points="1586.2,149.9 1592.9,149.7 1596.0,154.4 1589.3,154.6" fill="#656565" stroke="#656565" stroke-width="0.8"/><polygon points="1589.3,154.6 1596.0,154.4 1599.1,159.0 1592.4,159.3" fill="#646464" stroke="#646464" stroke-width="0.8"/><polygon points="1592.4,159.3 1599.1,159.0 1602.1,163.7 1595.5,164.1" fill="#727272" stroke="#727272" stroke-width="0.8"/><polygon points="1595.5,164.1 1602.1,163.7 1605.2,168.3 1598.6,168.8" fill="#878787" stroke="#878787" stroke-width="0.8"/><polygon points="1580.6,131.1 1587.4,131.2 1590.4,135.8 1583.7,135.7" fill="#818181" stroke="#818181" stroke-width="0.8"/><polygon points="1583.7,135.7 1590.4,135.8 1593.5,140.3 1586.8,140.4" fill="#7b7b7b" stroke="#7b7b7b" stroke-width="0.8"/><polygon points="1586.8,140.4 1593.5,140.3 1596.5,144.9 1589.8,145.1" fill="#6f6f6f" stroke="#6f6f6f" stroke-width="0.8"/><polygon points="1589.8,145.1 1596.5,144.9 1599.6,149.4 1592.9,149.7" fill="#5e5e5e" stroke="#5e5e5e" stroke-width="0.8"/><polygon points="1592.9,149.7 1599.6,149.4 1602.6,154.0 1596.0,154.4" fill="#5d5d5d" stroke="#5d5d5d" stroke-width="0.8"/><polygon points="1596.0,154.4 1602.6,154.0 1605.7,158.6 1599.1,159.0" fill="#707070" stroke="#707070" stroke-width="0.8"/><polygon points="1599.1,159.0 1605.7,158.6 1608.7,163.1 1602.1,163.7" fill="#5e5e5e" stroke="#5e5e5e" stroke-width="0.8"/><polygon points="1602.1,163.7 1608.7,163.1 1611.8,167.7 1605.2,168.3" fill="#919191" stroke="#919191" stroke-width="0.8"/><polygon points="1587.4,131.2 1594.1,131.4 1597.2,135.8 1590.4,135.8" fill="#7d7d7d" stroke="#7d7d7d" stroke-width="0.8"/><polygon points="1590.4,135.8 1597.2,135.8 1600.2,140.2 1593.5,140.3" fill="#767676" stroke="#767676" stroke-width="0.8"/><polygon points="1593.5,140.3 1600.2,140.2 1603.2,144.7 1596.5,144.9" fill="#757575" stroke="#757575" stroke-width="0.8"/><polygon points="1596.5,144.9 1603.2,144.7 1606.2,149.1 1599.6,149.4" fill="#616161" stroke="#616161" stroke-width="0.8"/><polygon points="1599.6,149.4 1606.2,149.1 1609.2,153.5 1602.6,154.0" fill="#656565" stroke="#656565" stroke-width="0.8"/><polygon points="1602.6,154.0 1609.2,153.5 1612.3,158.0 1605.7,158.6" fill="#737373" stroke="#737373" stroke-width="0.8"/><polygon points="1605.7,158.6 1612.3,158.0 1615.3,162.4 1608.7,163.1" fill="#6f6f6f" stroke="#6f6f6f" stroke-width="0.8"/><polygon points="1608.7,163.1 1615.3,162.4 1618.3,166.8 1611.8,167.7" fill="#8d8d8d" stroke="#8d8d8d" stroke-width="0.8"/><polygon points="1594.1,131.4 1600.9,131.5 1603.9,135.8 1597.2,135.8" fill="#848484" stroke="#848484" stroke-width="0.8"/><polygon points="1597.2,135.8 1603.9,135.8 1606.9,140.0 1600.2,140.2" fill="#858585" stroke="#858585" stroke-width="0.8"/><polygon points="1600.2,140.2 1606.9,140.0 1609.9,144.3 1603.2,144.7" fill="#7e7e7e" stroke="#7e7e7e" stroke-width="0.8"/><polygon points="1603.2,144.7 1609.9,144.3 1612.9,148.6 1606.2,149.1" fill="#696969" stroke="#696969" stroke-width="0.8"/><polygon points="1606.2,149.1 1612.9,148.6 1615.8,152.9 1609.2,153.5" fill="#6c6c6c" stroke="#6c6c6c" stroke-width="0.8"/><polygon points="1609.2,153.5 1615.8,152.9 1618.8,157.2 1612.3,158.0" fill="#575757" stroke="#575757" stroke-width="0.8"/><polygon points="1612.3,158.0 1618.8,157.2 1621.8,161.5 1615.3,162.4" fill="#686868" stroke="#686868" stroke-width="0.8"/><polygon points="1615.3,162.4 1621.8,161.5 1624.8,165.8 1618.3,166.8" fill="#808080" stroke="#808080" stroke-width="0.8"/><polygon points="1600.9,131.5 1607.7,131.5 1610.6,135.6 1603.9,135.8" fill="#848484" stroke="#848484" stroke-width="0.8"/><polygon points="1603.9,135.8 1610.6,135.6 1613.6,139.7 1606.9,140.0" fill="#7a7a7a" stroke="#7a7a7a" stroke-width="0.8"/><polygon points="1606.9,140.0 1613.6,139.7 1616.5,143.8 1609.9,144.3" fill="#686868" stroke="#686868" stroke-width="0.8"/><polygon points="1609.9,144.3 1616.5,143.8 1619.5,148.0 1612.9,148.6" fill="#585858" stroke="#585858" stroke-width="0.8"/><polygon points="1612.9,148.6 1619.5,148.0 1622.4,152.1 1615.8,152.9" fill="#6f6f6f" stroke="#6f6f6f" stroke-width="0.8"/><polygon points="1615.8,152.9 1622.4,152.1 1625.4,156.2 1618.8,157.2" fill="#565656" stroke="#565656" stroke-width="0.8"/><polygon points="1618.8,157.2 1625.4,156.2 1628.3,160.3 1621.8,161.5" fill="#5e5e5e" stroke="#5e5e5e" stroke-width="0.8"/><polygon points="1621.8,161.5 1628.3,160.3 1631.2,164.4 1624.8,165.8" fill="#7a7a7a" stroke="#7a7a7a" stroke-width="0.8"/><polygon points="1607.7,131.5 1614.4,131.4 1617.3,135.3 1610.6,135.6" fill="#747474" stroke="#747474" stroke-width="0.8"/><polygon points="1610.6,135.6 1617.3,135.3 1620.2,139.2 1613.6,139.7" fill="#7a7a7a" stroke="#7a7a7a" stroke-width="0.8"/><polygon points="1613.6,139.7 1620.2,139.2 1623.1,143.2 1616.5,143.8" fill="#797979" stroke="#797979" stroke-width="0.8"/><polygon points="1616.5,143.8 1623.1,143.2 1626.0,147.1 1619.5,148.0" fill="#5b5b5b" stroke="#5b5b5b" stroke-width="0.8"/><polygon points="1619.5,148.0 1626.0,147.1 1628.9,151.0 1622.4,152.1" fill="#646464" stroke="#646464" stroke-width="0.8"/><polygon points="1622.4,152.1 1628.9,151.0 1631.8,155.0 1625.4,156.2" fill="#585858" stroke="#585858" stroke-width="0.8"/><polygon points="1625.4,156.2 1631.8,155.0 1634.7,158.9 1628.3,160.3" fill="#5d5d5d" stroke="#5d5d5d" stroke-width="0.8"/><polygon points="1628.3,160.3 1634.7,158.9 1637.6,162.8 1631.2,164.4" fill="#797979" stroke="#797979" stroke-width="0.8"/><polygon points="1614.4,131.4 1621.2,130.9 1624.0,134.7 1617.3,135.3" fill="#6d6d6d" stroke="#6d6d6d" stroke-width="0.8"/><polygon points="1617.3,135.3 1624.0,134.7 1626.8,138.4 1620.2,139.2" fill="#666666" stroke="#666666" stroke-width="0.8"/><polygon points="1620.2,139.2 1626.8,138.4 1629.7,142.2 1623.1,143.2" fill="#606060" stroke="#606060" stroke-width="0.8"/><polygon points="1623.1,143.2 1629.7,142.2 1632.5,145.9 1626.0,147.1" fill="#6a6a6a" stroke="#6a6a6a" stroke-width="0.8"/><polygon points="1626.0,147.1 1632.5,145.9 1635.4,149.7 1628.9,151.0" fill="#5d5d5d" stroke="#5d5d5d" stroke-width="0.8"/><polygon points="1628.9,151.0 1635.4,149.7 1638.2,153.4 1631.8,155.0" fill="#535353" stroke="#535353" stroke-width="0.8"/><polygon points="1631.8,155.0 1638.2,153.4 1641.0,157.2 1634.7,158.9" fill="#646464" stroke="#646464" stroke-width="0.8"/><polygon points="1634.7,158.9 1641.0,157.2 1643.9,160.9 1637.6,162.8" fill="#878787" stroke="#878787" stroke-width="0.8"/><polygon points="1621.2,130.9 1627.8,130.1 1630.6,133.7 1624.0,134.7" fill="#727272" stroke="#727272" stroke-width="0.8"/><polygon points="1624.0,134.7 1630.6,133.7 1633.4,137.3 1626.8,138.4" fill="#626262" stroke="#626262" stroke-width="0.8"/><polygon points="1626.8,138.4 1633.4,137.3 1636.1,140.8 1629.7,142.2" fill="#5d5d5d" stroke="#5d5d5d" stroke-width="0.8"/><polygon points="1629.7,142.2 1636.1,140.8 1638.9,144.4 1632.5,145.9" fill="#505050" stroke="#505050" stroke-width="0.8"/><polygon points="1632.5,145.9 1638.9,144.4 1641.7,148.0 1635.4,149.7" fill="#565656" stroke="#565656" stroke-width="0.8"/><polygon points="1635.4,149.7 1641.7,148.0 1644.5,151.5 1638.2,153.4" fill="#4d4d4d" stroke="#4d4d4d" stroke-width="0.8"/><polygon points="1638.2,153.4 1644.5,151.5 1647.3,155.1 1641.0,157.2" fill="#4f4f4f" stroke="#4f4f4f" stroke-width="0.8"/><polygon points="1641.0,157.2 1647.3,155.1 1650.0,158.7 1643.9,160.9" fill="#707070" stroke="#707070" stroke-width="0.8"/><polygon points="1627.8,130.1 1634.3,128.8 1637.0,132.2 1630.6,133.7" fill="#727272" stroke="#727272" stroke-width="0.8"/><polygon points="1630.6,133.7 1637.0,132.2 1639.8,135.6 1633.4,137.3" fill="#747474" stroke="#747474" stroke-width="0.8"/><polygon points="1633.4,137.3 1639.8,135.6 1642.5,139.0 1636.1,140.8" fill="#696969" stroke="#696969" stroke-width="0.8"/><polygon points="1636.1,140.8 1642.5,139.0 1645.2,142.4 1638.9,144.4" fill="#575757" stroke="#575757" stroke-width="0.8"/><polygon points="1638.9,144.4 1645.2,142.4 1647.9,145.9 1641.7,148.0" fill="#555555" stroke="#555555" stroke-width="0.8"/><polygon points="1641.7,148.0 1647.9,145.9 1650.6,149.3 1644.5,151.5" fill="#565656" stroke="#565656" stroke-width="0.8"/><polygon points="1644.5,151.5 1650.6,149.3 1653.4,152.7 1647.3,155.1" fill="#505050" stroke="#505050" stroke-width="0.8"/><polygon points="1647.3,155.1 1653.4,152.7 1656.1,156.1 1650.0,158.7" fill="#6f6f6f" stroke="#6f6f6f" stroke-width="0.8"/><polygon points="1634.3,128.8 1640.7,126.9 1643.3,130.2 1637.0,132.2" fill="#606060" stroke="#606060" stroke-width="0.8"/><polygon points="1637.0,132.2 1643.3,130.2 1646.0,133.5 1639.8,135.6" fill="#606060" stroke="#606060" stroke-width="0.8"/><polygon points="1639.8,135.6 1646.0,133.5 1648.7,136.8 1642.5,139.0" fill="#6c6c6c" stroke="#6c6c6c" stroke-width="0.8"/><polygon points="1642.5,139.0 1648.7,136.8 1651.3,140.1 1645.2,142.4" fill="#4c4c4c" stroke="#4c4c4c" stroke-width="0.8"/><polygon points="1645.2,142.4 1651.3,140.1 1654.0,143.4 1647.9,145.9" fill="#555555" stroke="#555555" stroke-width="0.8"/><polygon points="1647.9,145.9 1654.0,143.4 1656.7,146.7 1650.6,149.3" fill="#565656" stroke="#565656" stroke-width="0.8"/><polygon points="1650.6,149.3 1656.7,146.7 1659.3,150.0 1653.4,152.7" fill="#5b5b5b" stroke="#5b5b5b" stroke-width="0.8"/><polygon points="1653.4,152.7 1659.3,150.0 1662.0,153.3 1656.1,156.1" fill="#696969" stroke="#696969" stroke-width="0.8"/><polygon points="1640.7,126.9 1646.8,124.4 1649.5,127.7 1643.3,130.2" fill="#666666" stroke="#666666" stroke-width="0.8"/><polygon points="1643.3,130.2 1649.5,127.7 1652.1,130.9 1646.0,133.5" fill="#5f5f5f" stroke="#5f5f5f" stroke-width="0.8"/><polygon points="1646.0,133.5 1652.1,130.9 1654.7,134.1 1648.7,136.8" fill="#5c5c5c" stroke="#5c5c5c" stroke-width="0.8"/><polygon points="1648.7,136.8 1654.7,134.1 1657.3,137.3 1651.3,140.1" fill="#555555" stroke="#555555" stroke-width="0.8"/><polygon points="1651.3,140.1 1657.3,137.3 1659.9,140.5 1654.0,143.4" fill="#626262" stroke="#626262" stroke-width="0.8"/><polygon points="1654.0,143.4 1659.9,140.5 1662.6,143.7 1656.7,146.7" fill="#5d5d5d" stroke="#5d5d5d" stroke-width="0.8"/><polygon points="1656.7,146.7 1662.6,143.7 1665.2,147.0 1659.3,150.0" fill="#5b5b5b" stroke="#5b5b5b" stroke-width="0.8"/><polygon points="1659.3,150.0 1665.2,147.0 1667.8,150.2 1662.0,153.3" fill="#646464" stroke="#646464" stroke-width="0.8"/><polygon points="1646.8,124.4 1652.9,121.6 1655.4,124.7 1649.5,127.7" fill="#5f5f5f" stroke="#5f5f5f" stroke-width="0.8"/><polygon points="1649.5,127.7 1655.4,124.7 1658.0,127.9 1652.1,130.9" fill="#6c6c6c" stroke="#6c6c6c" stroke-width="0.8"/><polygon points="1652.1,130.9 1658.0,127.9 1660.6,131.0 1654.7,134.1" fill="#6a6a6a" stroke="#6a6a6a" stroke-width="0.8"/><polygon points="1654.7,134.1 1660.6,131.0 1663.2,134.2 1657.3,137.3" fill="#565656" stroke="#565656" stroke-width="0.8"/><polygon points="1657.3,137.3 1663.2,134.2 1665.8,137.4 1659.9,140.5" fill="#585858" stroke="#585858" stroke-width="0.8"/><polygon points="1659.9,140.5 1665.8,137.4 1668.3,140.5 1662.6,143.7" fill="#464646" stroke="#464646" stroke-width="0.8"/><polygon points="1662.6,143.7 1668.3,140.5 1670.9,143.7 1665.2,147.0" fill="#4e4e4e" stroke="#4e4e4e" stroke-width="0.8"/><polygon points="1665.2,147.0 1670.9,143.7 1673.5,146.9 1667.8,150.2" fill="#7e7e7e" stroke="#7e7e7e" stroke-width="0.8"/><polygon points="1652.9,121.6 1658.7,118.3 1661.3,121.4 1655.4,124.7" fill="#757575" stroke="#757575" stroke-width="0.8"/><polygon points="1655.4,124.7 1661.3,121.4 1663.8,124.6 1658.0,127.9" fill="#707070" stroke="#707070" stroke-width="0.8"/><polygon points="1658.0,127.9 1663.8,124.6 1666.4,127.7 1660.6,131.0" fill="#6d6d6d" stroke="#6d6d6d" stroke-width="0.8"/><polygon points="1660.6,131.0 1666.4,127.7 1668.9,130.8 1663.2,134.2" fill="#505050" stroke="#505050" stroke-width="0.8"/><polygon points="1663.2,134.2 1668.9,130.8 1671.5,134.0 1665.8,137.4" fill="#4b4b4b" stroke="#4b4b4b" stroke-width="0.8"/><polygon points="1665.8,137.4 1671.5,134.0 1674.0,137.1 1668.3,140.5" fill="#4a4a4a" stroke="#4a4a4a" stroke-width="0.8"/><polygon points="1668.3,140.5 1674.0,137.1 1676.6,140.3 1670.9,143.7" fill="#525252" stroke="#525252" stroke-width="0.8"/><polygon points="1670.9,143.7 1676.6,140.3 1679.1,143.4 1673.5,146.9" fill="#777777" stroke="#777777" stroke-width="0.8"/><polygon points="1658.7,118.3 1664.5,114.7 1667.0,117.9 1661.3,121.4" fill="#787878" stroke="#787878" stroke-width="0.8"/><polygon points="1661.3,121.4 1667.0,117.9 1669.5,121.0 1663.8,124.6" fill="#6c6c6c" stroke="#6c6c6c" stroke-width="0.8"/><polygon points="1663.8,124.6 1669.5,121.0 1672.0,124.1 1666.4,127.7" fill="#646464" stroke="#646464" stroke-width="0.8"/><polygon points="1666.4,127.7 1672.0,124.1 1674.6,127.3 1668.9,130.8" fill="#5f5f5f" stroke="#5f5f5f" stroke-width="0.8"/><polygon points="1668.9,130.8 1674.6,127.3 1677.1,130.4 1671.5,134.0" fill="#555555" stroke="#555555" stroke-width="0.8"/><polygon points="1671.5,134.0 1677.1,130.4 1679.6,133.6 1674.0,137.1" fill="#565656" stroke="#565656" stroke-width="0.8"/><polygon points="1674.0,137.1 1679.6,133.6 1682.1,136.7 1676.6,140.3" fill="#454545" stroke="#454545" stroke-width="0.8"/><polygon points="1676.6,140.3 1682.1,136.7 1684.6,139.8 1679.1,143.4" fill="#7a7a7a" stroke="#7a7a7a" stroke-width="0.8"/><polygon points="1664.5,114.7 1670.2,111.0 1672.7,114.2 1667.0,117.9" fill="#646464" stroke="#646464" stroke-width="0.8"/><polygon points="1667.0,117.9 1672.7,114.2 1675.1,117.3 1669.5,121.0" fill="#727272" stroke="#727272" stroke-width="0.8"/><polygon points="1669.5,121.0 1675.1,117.3 1677.6,120.4 1672.0,124.1" fill="#646464" stroke="#646464" stroke-width="0.8"/><polygon points="1672.0,124.1 1677.6,120.4 1680.1,123.6 1674.6,127.3" fill="#525252" stroke="#525252" stroke-width="0.8"/><polygon points="1674.6,127.3 1680.1,123.6 1682.6,126.7 1677.1,130.4" fill="#4c4c4c" stroke="#4c4c4c" stroke-width="0.8"/><polygon points="1677.1,130.4 1682.6,126.7 1685.1,129.8 1679.6,133.6" fill="#4e4e4e" stroke="#4e4e4e" stroke-width="0.8"/><polygon points="1679.6,133.6 1685.1,129.8 1687.6,133.0 1682.1,136.7" fill="#565656" stroke="#565656" stroke-width="0.8"/><polygon points="1682.1,136.7 1687.6,133.0 1690.1,136.1 1684.6,139.8" fill="#787878" stroke="#787878" stroke-width="0.8"/><polygon points="1670.2,111.0 1675.8,107.3 1678.2,110.4 1672.7,114.2" fill="#616161" stroke="#616161" stroke-width="0.8"/><polygon points="1672.7,114.2 1678.2,110.4 1680.7,113.5 1675.1,117.3" fill="#5a5a5a" stroke="#5a5a5a" stroke-width="0.8"/><polygon points="1675.1,117.3 1680.7,113.5 1683.2,116.6 1677.6,120.4" fill="#616161" stroke="#616161" stroke-width="0.8"/><polygon points="1677.6,120.4 1683.2,116.6 1685.6,119.8 1680.1,123.6" fill="#5b5b5b" stroke="#5b5b5b" stroke-width="0.8"/><polygon points="1680.1,123.6 1685.6,119.8 1688.1,122.9 1682.6,126.7" fill="#545454" stroke="#545454" stroke-width="0.8"/><polygon points="1682.6,126.7 1688.1,122.9 1690.5,126.0 1685.1,129.8" fill="#4e4e4e" stroke="#4e4e4e" stroke-width="0.8"/><polygon points="1685.1,129.8 1690.5,126.0 1693.0,129.2 1687.6,133.0" fill="#565656" stroke="#565656" stroke-width="0.8"/><polygon points="1687.6,133.0 1693.0,129.2 1695.4,132.3 1690.1,136.1" fill="#666666" stroke="#666666" stroke-width="0.8"/><polygon points="1675.8,107.3 1681.3,103.4 1683.8,106.5 1678.2,110.4" fill="#666666" stroke="#666666" stroke-width="0.8"/><polygon points="1678.2,110.4 1683.8,106.5 1686.2,109.6 1680.7,113.5" fill="#656565" stroke="#656565" stroke-width="0.8"/><polygon points="1680.7,113.5 1686.2,109.6 1688.6,112.7 1683.2,116.6" fill="#6d6d6d" stroke="#6d6d6d" stroke-width="0.8"/><polygon points="1683.2,116.6 1688.6,112.7 1691.0,115.9 1685.6,119.8" fill="#5d5d5d" stroke="#5d5d5d" stroke-width="0.8"/><polygon points="1685.6,119.8 1691.0,115.9 1693.5,119.0 1688.1,122.9" fill="#626262" stroke="#626262" stroke-width="0.8"/><polygon points="1688.1,122.9 1693.5,119.0 1695.9,122.1 1690.5,126.0" fill="#555555" stroke="#555555" stroke-width="0.8"/><polygon points="1690.5,126.0 1695.9,122.1 1698.3,125.2 1693.0,129.2" fill="#4c4c4c" stroke="#4c4c4c" stroke-width="0.8"/><polygon points="1693.0,129.2 1698.3,125.2 1700.7,128.3 1695.4,132.3" fill="#6d6d6d" stroke="#6d6d6d" stroke-width="0.8"/><polygon points="1681.3,103.4 1686.8,99.5 1689.2,102.6 1683.8,106.5" fill="#828282" stroke="#828282" stroke-width="0.8"/><polygon points="1683.8,106.5 1689.2,102.6 1691.6,105.7 1686.2,109.6" fill="#767676" stroke="#767676" stroke-width="0.8"/><polygon points="1686.2,109.6 1691.6,105.7 1694.0,108.8 1688.6,112.7" fill="#656565" stroke="#656565" stroke-width="0.8"/><polygon points="1688.6,112.7 1694.0,108.8 1696.4,111.9 1691.0,115.9" fill="#565656" stroke="#565656" stroke-width="0.8"/><polygon points="1691.0,115.9 1696.4,111.9 1698.8,115.0 1693.5,119.0" fill="#626262" stroke="#626262" stroke-width="0.8"/><polygon points="1693.5,119.0 1698.8,115.0 1701.1,118.1 1695.9,122.1" fill="#656565" stroke="#656565" stroke-width="0.8"/><polygon points="1695.9,122.1 1701.1,118.1 1703.5,121.2 1698.3,125.2" fill="#5c5c5c" stroke="#5c5c5c" stroke-width="0.8"/><polygon points="1698.3,125.2 1703.5,121.2 1705.9,124.3 1700.7,128.3" fill="#787878" stroke="#787878" stroke-width="0.8"/><polygon points="1686.8,99.5 1692.3,95.4 1694.6,98.5 1689.2,102.6" fill="#878787" stroke="#878787" stroke-width="0.8"/><polygon points="1689.2,102.6 1694.6,98.5 1697.0,101.6 1691.6,105.7" fill="#898989" stroke="#898989" stroke-width="0.8"/><polygon points="1691.6,105.7 1697.0,101.6 1699.3,104.7 1694.0,108.8" fill="#707070" stroke="#707070" stroke-width="0.8"/><polygon points="1694.0,108.8 1699.3,104.7 1701.6,107.8 1696.4,111.9" fill="#636363" stroke="#636363" stroke-width="0.8"/><polygon points="1696.4,111.9 1701.6,107.8 1704.0,110.9 1698.8,115.0" fill="#6b6b6b" stroke="#6b6b6b" stroke-width="0.8"/><polygon points="1698.8,115.0 1704.0,110.9 1706.3,113.9 1701.1,118.1" fill="#6b6b6b" stroke="#6b6b6b" stroke-width="0.8"/><polygon points="1701.1,118.1 1706.3,113.9 1708.7,117.0 1703.5,121.2" fill="#707070" stroke="#707070" stroke-width="0.8"/><polygon points="1703.5,121.2 1708.7,117.0 1711.0,120.1 1705.9,124.3" fill="#838383" stroke="#838383" stroke-width="0.8"/><polygon points="1692.3,95.4 1697.6,91.3 1699.9,94.4 1694.6,98.5" fill="#979797" stroke="#979797" stroke-width="0.8"/><polygon points="1694.6,98.5 1699.9,94.4 1702.2,97.4 1697.0,101.6" fill="#909090" stroke="#909090" stroke-width="0.8"/><polygon points="1697.0,101.6 1702.2,97.4 1704.5,100.5 1699.3,104.7" fill="#848484" stroke="#848484" stroke-width="0.8"/><polygon points="1699.3,104.7 1704.5,100.5 1706.8,103.6 1701.6,107.8" fill="#757575" stroke="#757575" stroke-width="0.8"/><polygon points="1701.6,107.8 1706.8,103.6 1709.1,106.6 1704.0,110.9" fill="#898989" stroke="#898989" stroke-width="0.8"/><polygon points="1704.0,110.9 1709.1,106.6 1711.4,109.7 1706.3,113.9" fill="#757575" stroke="#757575" stroke-width="0.8"/><polygon points="1706.3,113.9 1711.4,109.7 1713.8,112.8 1708.7,117.0" fill="#818181" stroke="#818181" stroke-width="0.8"/><polygon points="1708.7,117.0 1713.8,112.8 1716.1,115.8 1711.0,120.1" fill="#919191" stroke="#919191" stroke-width="0.8"/><polygon points="1697.6,91.3 1702.9,87.0 1705.2,90.1 1699.9,94.4" fill="#939393" stroke="#939393" stroke-width="0.8"/><polygon points="1699.9,94.4 1705.2,90.1 1707.4,93.2 1702.2,97.4" fill="#9d9d9d" stroke="#9d9d9d" stroke-width="0.8"/><polygon points="1702.2,97.4 1707.4,93.2 1709.7,96.2 1704.5,100.5" fill="#8b8b8b" stroke="#8b8b8b" stroke-width="0.8"/><polygon points="1704.5,100.5 1709.7,96.2 1712.0,99.3 1706.8,103.6" fill="#979797" stroke="#979797" stroke-width="0.8"/><polygon points="1706.8,103.6 1712.0,99.3 1714.2,102.3 1709.1,106.6" fill="#898989" stroke="#898989" stroke-width="0.8"/><polygon points="1709.1,106.6 1714.2,102.3 1716.5,105.4 1711.4,109.7" fill="#7f7f7f" stroke="#7f7f7f" stroke-width="0.8"/><polygon points="1711.4,109.7 1716.5,105.4 1718.8,108.5 1713.8,112.8" fill="#7d7d7d" stroke="#7d7d7d" stroke-width="0.8"/><polygon points="1713.8,112.8 1718.8,108.5 1721.0,111.5 1716.1,115.8" fill="#a3a3a3" stroke="#a3a3a3" stroke-width="0.8"/><polygon points="1702.9,87.0 1708.1,82.7 1710.3,85.8 1705.2,90.1" fill="#acacac" stroke="#acacac" stroke-width="0.8"/><polygon points="1705.2,90.1 1710.3,85.8 1712.6,88.8 1707.4,93.2" fill="#afafaf" stroke="#afafaf" stroke-width="0.8"/><polygon points="1707.4,93.2 1712.6,88.8 1714.8,91.9 1709.7,96.2" fill="#939393" stroke="#939393" stroke-width="0.8"/><polygon points="1709.7,96.2 1714.8,91.9 1717.1,94.9 1712.0,99.3" fill="#949494" stroke="#949494" stroke-width="0.8"/><polygon points="1712.0,99.3 1717.1,94.9 1719.3,98.0 1714.2,102.3" fill="#8e8e8e" stroke="#8e8e8e" stroke-width="0.8"/><polygon points="1714.2,102.3 1719.3,98.0 1721.5,101.1 1716.5,105.4" fill="#a1a1a1" stroke="#a1a1a1" stroke-width="0.8"/><polygon points="1716.5,105.4 1721.5,101.1 1723.8,104.1 1718.8,108.5" fill="#878787" stroke="#878787" stroke-width="0.8"/><polygon points="1718.8,108.5 1723.8,104.1 1726.0,107.2 1721.0,111.5" fill="#a5a5a5" stroke="#a5a5a5" stroke-width="0.8"/><polygon points="1708.1,82.7 1713.3,78.4 1715.5,81.4 1710.3,85.8" fill="#9c9c9c" stroke="#9c9c9c" stroke-width="0.8"/><polygon points="1710.3,85.8 1715.5,81.4 1717.7,84.5 1712.6,88.8" fill="#a0a0a0" stroke="#a0a0a0" stroke-width="0.8"/><polygon points="1712.6,88.8 1717.7,84.5 1719.9,87.5 1714.8,91.9" fill="#aaaaaa" stroke="#aaaaaa" stroke-width="0.8"/><polygon points="1714.8,91.9 1719.9,87.5 1722.1,90.6 1717.1,94.9" fill="#a3a3a3" stroke="#a3a3a3" stroke-width="0.8"/><polygon points="1717.1,94.9 1722.1,90.6 1724.3,93.6 1719.3,98.0" fill="#9d9d9d" stroke="#9d9d9d" stroke-width="0.8"/><polygon points="1719.3,98.0 1724.3,93.6 1726.5,96.7 1721.5,101.1" fill="#a3a3a3" stroke="#a3a3a3" stroke-width="0.8"/><polygon points="1721.5,101.1 1726.5,96.7 1728.8,99.8 1723.8,104.1" fill="#9f9f9f" stroke="#9f9f9f" stroke-width="0.8"/><polygon points="1723.8,104.1 1728.8,99.8 1731.0,102.8 1726.0,107.2" fill="#aeaeae" stroke="#aeaeae" stroke-width="0.8"/><polygon points="1713.3,78.4 1718.5,74.0 1720.6,77.0 1715.5,81.4" fill="#a0a0a0" stroke="#a0a0a0" stroke-width="0.8"/><polygon points="1715.5,81.4 1720.6,77.0 1722.8,80.1 1717.7,84.5" fill="#b1b1b1" stroke="#b1b1b1" stroke-width="0.8"/><polygon points="1717.7,84.5 1722.8,80.1 1725.0,83.2 1719.9,87.5" fill="#a6a6a6" stroke="#a6a6a6" stroke-width="0.8"/><polygon points="1719.9,87.5 1725.0,83.2 1727.2,86.2 1722.1,90.6" fill="#8c8c8c" stroke="#8c8c8c" stroke-width="0.8"/><polygon points="1722.1,90.6 1727.2,86.2 1729.4,89.3 1724.3,93.6" fill="#9d9d9d" stroke="#9d9d9d" stroke-width="0.8"/><polygon points="1724.3,93.6 1729.4,89.3 1731.6,92.4 1726.5,96.7" fill="#939393" stroke="#939393" stroke-width="0.8"/><polygon points="1726.5,96.7 1731.6,92.4 1733.8,95.4 1728.8,99.8" fill="#909090" stroke="#909090" stroke-width="0.8"/><polygon points="1728.8,99.8 1733.8,95.4 1736.0,98.5 1731.0,102.8" fill="#b0b0b0" stroke="#b0b0b0" stroke-width="0.8"/><polygon points="1718.5,74.0 1723.7,69.6 1725.8,72.7 1720.6,77.0" fill="#a1a1a1" stroke="#a1a1a1" stroke-width="0.8"/><polygon points="1720.6,77.0 1725.8,72.7 1728.0,75.8 1722.8,80.1" fill="#989898" stroke="#989898" stroke-width="0.8"/><polygon points="1722.8,80.1 1728.0,75.8 1730.1,78.9 1725.0,83.2" fill="#9b9b9b" stroke="#9b9b9b" stroke-width="0.8"/><polygon points="1725.0,83.2 1730.1,78.9 1732.3,81.9 1727.2,86.2" fill="#969696" stroke="#969696" stroke-width="0.8"/><polygon points="1727.2,86.2 1732.3,81.9 1734.5,85.0 1729.4,89.3" fill="#a6a6a6" stroke="#a6a6a6" stroke-width="0.8"/><polygon points="1729.4,89.3 1734.5,85.0 1736.6,88.1 1731.6,92.4" fill="#8d8d8d" stroke="#8d8d8d" stroke-width="0.8"/><polygon points="1731.6,92.4 1736.6,88.1 1738.8,91.1 1733.8,95.4" fill="#a2a2a2" stroke="#a2a2a2" stroke-width="0.8"/><polygon points="1733.8,95.4 1738.8,91.1 1741.0,94.2 1736.0,98.5" fill="#aeaeae" stroke="#aeaeae" stroke-width="0.8"/><polygon points="1723.7,69.6 1728.9,65.4 1731.1,68.5 1725.8,72.7" fill="#a7a7a7" stroke="#a7a7a7" stroke-width="0.8"/><polygon points="1725.8,72.7 1731.1,68.5 1733.2,71.6 1728.0,75.8" fill="#b0b0b0" stroke="#b0b0b0" stroke-width="0.8"/><polygon points="1728.0,75.8 1733.2,71.6 1735.3,74.6 1730.1,78.9" fill="#ababab" stroke="#ababab" stroke-width="0.8"/><polygon points="1730.1,78.9 1735.3,74.6 1737.5,77.7 1732.3,81.9" fill="#9a9a9a" stroke="#9a9a9a" stroke-width="0.8"/><polygon points="1732.3,81.9 1737.5,77.7 1739.6,80.8 1734.5,85.0" fill="#8e8e8e" stroke="#8e8e8e" stroke-width="0.8"/><polygon points="1734.5,85.0 1739.6,80.8 1741.8,83.8 1736.6,88.1" fill="#989898" stroke="#989898" stroke-width="0.8"/><polygon points="1736.6,88.1 1741.8,83.8 1743.9,86.9 1738.8,91.1" fill="#939393" stroke="#939393" stroke-width="0.8"/><polygon points="1738.8,91.1 1743.9,86.9 1746.0,90.0 1741.0,94.2" fill="#c3c3c3" stroke="#c3c3c3" stroke-width="0.8"/><polygon points="1728.9,65.4 1734.3,61.3 1736.4,64.4 1731.1,68.5" fill="#a3a3a3" stroke="#a3a3a3" stroke-width="0.8"/><polygon points="1731.1,68.5 1736.4,64.4 1738.5,67.4 1733.2,71.6" fill="#a4a4a4" stroke="#a4a4a4" stroke-width="0.8"/><polygon points="1733.2,71.6 1738.5,67.4 1740.6,70.5 1735.3,74.6" fill="#aeaeae" stroke="#aeaeae" stroke-width="0.8"/><polygon points="1735.3,74.6 1740.6,70.5 1742.7,73.6 1737.5,77.7" fill="#909090" stroke="#909090" stroke-width="0.8"/><polygon points="1737.5,77.7 1742.7,73.6 1744.8,76.6 1739.6,80.8" fill="#9a9a9a" stroke="#9a9a9a" stroke-width="0.8"/><polygon points="1739.6,80.8 1744.8,76.6 1746.9,79.7 1741.8,83.8" fill="#a3a3a3" stroke="#a3a3a3" stroke-width="0.8"/><polygon points="1741.8,83.8 1746.9,79.7 1749.0,82.8 1743.9,86.9" fill="#9f9f9f" stroke="#9f9f9f" stroke-width="0.8"/><polygon points="1743.9,86.9 1749.0,82.8 1751.2,85.8 1746.0,90.0" fill="#acacac" stroke="#acacac" stroke-width="0.8"/><polygon points="1734.3,61.3 1739.8,57.3 1741.8,60.4 1736.4,64.4" fill="#a0a0a0" stroke="#a0a0a0" stroke-width="0.8"/><polygon points="1736.4,64.4 1741.8,60.4 1743.9,63.4 1738.5,67.4" fill="#9d9d9d" stroke="#9d9d9d" stroke-width="0.8"/><polygon points="1738.5,67.4 1743.9,63.4 1746.0,66.5 1740.6,70.5" fill="#b0b0b0" stroke="#b0b0b0" stroke-width="0.8"/><polygon points="1740.6,70.5 1746.0,66.5 1748.0,69.5 1742.7,73.6" fill="#989898" stroke="#989898" stroke-width="0.8"/><polygon points="1742.7,73.6 1748.0,69.5 1750.1,72.6 1744.8,76.6" fill="#a4a4a4" stroke="#a4a4a4" stroke-width="0.8"/><polygon points="1744.8,76.6 1750.1,72.6 1752.2,75.6 1746.9,79.7" fill="#a7a7a7" stroke="#a7a7a7" stroke-width="0.8"/><polygon points="1746.9,79.7 1752.2,75.6 1754.3,78.7 1749.0,82.8" fill="#959595" stroke="#959595" stroke-width="0.8"/><polygon points="1749.0,82.8 1754.3,78.7 1756.3,81.8 1751.2,85.8" fill="#b3b3b3" stroke="#b3b3b3" stroke-width="0.8"/><polygon points="1739.8,57.3 1745.3,53.5 1747.4,56.5 1741.8,60.4" fill="#bbbbbb" stroke="#bbbbbb" stroke-width="0.8"/><polygon points="1741.8,60.4 1747.4,56.5 1749.4,59.6 1743.9,63.4" fill="#adadad" stroke="#adadad" stroke-width="0.8"/><polygon points="1743.9,63.4 1749.4,59.6 1751.4,62.6 1746.0,66.5" fill="#9f9f9f" stroke="#9f9f9f" stroke-width="0.8"/><polygon points="1746.0,66.5 1751.4,62.6 1753.5,65.6 1748.0,69.5" fill="#a6a6a6" stroke="#a6a6a6" stroke-width="0.8"/><polygon points="1748.0,69.5 1753.5,65.6 1755.5,68.7 1750.1,72.6" fill="#9a9a9a" stroke="#9a9a9a" stroke-width="0.8"/><polygon points="1750.1,72.6 1755.5,68.7 1757.5,71.7 1752.2,75.6" fill="#979797" stroke="#979797" stroke-width="0.8"/><polygon points="1752.2,75.6 1757.5,71.7 1759.6,74.7 1754.3,78.7" fill="#8d8d8d" stroke="#8d8d8d" stroke-width="0.8"/><polygon points="1754.3,78.7 1759.6,74.7 1761.6,77.8 1756.3,81.8" fill="#c2c2c2" stroke="#c2c2c2" stroke-width="0.8"/><polygon points="1745.3,53.5 1751.0,49.9 1753.0,52.8 1747.4,56.5" fill="#bbbbbb" stroke="#bbbbbb" stroke-width="0.8"/><polygon points="1747.4,56.5 1753.0,52.8 1755.0,55.8 1749.4,59.6" fill="#afafaf" stroke="#afafaf" stroke-width="0.8"/><polygon points="1749.4,59.6 1755.0,55.8 1757.0,58.8 1751.4,62.6" fill="#b3b3b3" stroke="#b3b3b3" stroke-width="0.8"/><polygon points="1751.4,62.6 1757.0,58.8 1759.0,61.8 1753.5,65.6" fill="#949494" stroke="#949494" stroke-width="0.8"/><polygon points="1753.5,65.6 1759.0,61.8 1760.9,64.8 1755.5,68.7" fill="#999999" stroke="#999999" stroke-width="0.8"/><polygon points="1755.5,68.7 1760.9,64.8 1762.9,67.8 1757.5,71.7" fill="#9e9e9e" stroke="#9e9e9e" stroke-width="0.8"/><polygon points="1757.5,71.7 1762.9,67.8 1764.9,70.8 1759.6,74.7" fill="#a9a9a9" stroke="#a9a9a9" stroke-width="0.8"/><polygon points="1759.6,74.7 1764.9,70.8 1766.9,73.8 1761.6,77.8" fill="#c9c9c9" stroke="#c9c9c9" stroke-width="0.8"/><polygon points="1751.0,49.9 1756.8,46.4 1758.7,49.3 1753.0,52.8" fill="#adadad" stroke="#adadad" stroke-width="0.8"/><polygon points="1753.0,52.8 1758.7,49.3 1760.7,52.3 1755.0,55.8" fill="#a5a5a5" stroke="#a5a5a5" stroke-width="0.8"/><polygon points="1755.0,55.8 1760.7,52.3 1762.6,55.2 1757.0,58.8" fill="#a6a6a6" stroke="#a6a6a6" stroke-width="0.8"/><polygon points="1757.0,58.8 1762.6,55.2 1764.5,58.2 1759.0,61.8" fill="#a2a2a2" stroke="#a2a2a2" stroke-width="0.8"/><polygon points="1759.0,61.8 1764.5,58.2 1766.5,61.1 1760.9,64.8" fill="#adadad" stroke="#adadad" stroke-width="0.8"/><polygon points="1760.9,64.8 1766.5,61.1 1768.4,64.1 1762.9,67.8" fill="#979797" stroke="#979797" stroke-width="0.8"/><polygon points="1762.9,67.8 1768.4,64.1 1770.3,67.0 1764.9,70.8" fill="#a6a6a6" stroke="#a6a6a6" stroke-width="0.8"/><polygon points="1764.9,70.8 1770.3,67.0 1772.2,70.0 1766.9,73.8" fill="#c4c4c4" stroke="#c4c4c4" stroke-width="0.8"/><polygon points="1756.8,46.4 1762.7,43.0 1764.6,45.9 1758.7,49.3" fill="#bababa" stroke="#bababa" stroke-width="0.8"/><polygon points="1758.7,49.3 1764.6,45.9 1766.4,48.8 1760.7,52.3" fill="#b5b5b5" stroke="#b5b5b5" stroke-width="0.8"/><polygon points="1760.7,52.3 1766.4,48.8 1768.3,51.7 1762.6,55.2" fill="#acacac" stroke="#acacac" stroke-width="0.8"/><polygon points="1762.6,55.2 1768.3,51.7 1770.2,54.6 1764.5,58.2" fill="#9f9f9f" stroke="#9f9f9f" stroke-width="0.8"/><polygon points="1764.5,58.2 1770.2,54.6 1772.0,57.5 1766.5,61.1" fill="#9e9e9e" stroke="#9e9e9e" stroke-width="0.8"/><polygon points="1766.5,61.1 1772.0,57.5 1773.9,60.4 1768.4,64.1" fill="#9d9d9d" stroke="#9d9d9d" stroke-width="0.8"/><polygon points="1768.4,64.1 1773.9,60.4 1775.8,63.3 1770.3,67.0" fill="#a6a6a6" stroke="#a6a6a6" stroke-width="0.8"/><polygon points="1770.3,67.0 1775.8,63.3 1777.6,66.2 1772.2,70.0" fill="#b3b3b3" stroke="#b3b3b3" stroke-width="0.8"/><polygon points="1762.7,43.0 1768.7,39.9 1770.5,42.7 1764.6,45.9" fill="#aaaaaa" stroke="#aaaaaa" stroke-width="0.8"/><polygon points="1764.6,45.9 1770.5,42.7 1772.3,45.5 1766.4,48.8" fill="#b6b6b6" stroke="#b6b6b6" stroke-width="0.8"/><polygon points="1766.4,48.8 1772.3,45.5 1774.1,48.3 1768.3,51.7" fill="#a3a3a3" stroke="#a3a3a3" stroke-width="0.8"/><polygon points="1768.3,51.7 1774.1,48.3 1775.9,51.1 1770.2,54.6" fill="#999999" stroke="#999999" stroke-width="0.8"/><polygon points="1770.2,54.6 1775.9,51.1 1777.7,53.9 1772.0,57.5" fill="#979797" stroke="#979797" stroke-width="0.8"/><polygon points="1772.0,57.5 1777.7,53.9 1779.4,56.8 1773.9,60.4" fill="#a4a4a4" stroke="#a4a4a4" stroke-width="0.8"/><polygon points="1773.9,60.4 1779.4,56.8 1781.2,59.6 1775.8,63.3" fill="#9b9b9b" stroke="#9b9b9b" stroke-width="0.8"/><polygon points="1775.8,63.3 1781.2,59.6 1783.0,62.4 1777.6,66.2" fill="#cecece" stroke="#cecece" stroke-width="0.8"/><polygon points="1768.7,39.9 1774.8,36.9 1776.5,39.6 1770.5,42.7" fill="#bebebe" stroke="#bebebe" stroke-width="0.8"/><polygon points="1770.5,42.7 1776.5,39.6 1778.2,42.3 1772.3,45.5" fill="#bdbdbd" stroke="#bdbdbd" stroke-width="0.8"/><polygon points="1772.3,45.5 1778.2,42.3 1779.9,45.0 1774.1,48.3" fill="#a5a5a5" stroke="#a5a5a5" stroke-width="0.8"/><polygon points="1774.1,48.3 1779.9,45.0 1781.6,47.7 1775.9,51.1" fill="#9b9b9b" stroke="#9b9b9b" stroke-width="0.8"/><polygon points="1775.9,51.1 1781.6,47.7 1783.3,50.5 1777.7,53.9" fill="#9a9a9a" stroke="#9a9a9a" stroke-width="0.8"/><polygon points="1777.7,53.9 1783.3,50.5 1785.0,53.2 1779.4,56.8" fill="#a4a4a4" stroke="#a4a4a4" stroke-width="0.8"/><polygon points="1779.4,56.8 1785.0,53.2 1786.7,55.9 1781.2,59.6" fill="#a7a7a7" stroke="#a7a7a7" stroke-width="0.8"/><polygon points="1781.2,59.6 1786.7,55.9 1788.5,58.6 1783.0,62.4" fill="#c0c0c0" stroke="#c0c0c0" stroke-width="0.8"/><polygon points="1774.8,36.9 1780.9,34.0 1782.5,36.6 1776.5,39.6" fill="#adadad" stroke="#adadad" stroke-width="0.8"/><polygon points="1776.5,39.6 1782.5,36.6 1784.1,39.2 1778.2,42.3" fill="#aeaeae" stroke="#aeaeae" stroke-width="0.8"/><polygon points="1778.2,42.3 1784.1,39.2 1785.7,41.8 1779.9,45.0" fill="#b0b0b0" stroke="#b0b0b0" stroke-width="0.8"/><polygon points="1779.9,45.0 1785.7,41.8 1787.4,44.4 1781.6,47.7" fill="#acacac" stroke="#acacac" stroke-width="0.8"/><polygon points="1781.6,47.7 1787.4,44.4 1789.0,47.0 1783.3,50.5" fill="#aeaeae" stroke="#aeaeae" stroke-width="0.8"/><polygon points="1783.3,50.5 1789.0,47.0 1790.6,49.6 1785.0,53.2" fill="#afafaf" stroke="#afafaf" stroke-width="0.8"/><polygon points="1785.0,53.2 1790.6,49.6 1792.2,52.2 1786.7,55.9" fill="#a7a7a7" stroke="#a7a7a7" stroke-width="0.8"/><polygon points="1786.7,55.9 1792.2,52.2 1793.9,54.8 1788.5,58.6" fill="#b8b8b8" stroke="#b8b8b8" stroke-width="0.8"/><polygon points="1780.9,34.0 1787.1,31.4 1788.6,33.8 1782.5,36.6" fill="#bfbfbf" stroke="#bfbfbf" stroke-width="0.8"/><polygon points="1782.5,36.6 1788.6,33.8 1790.1,36.3 1784.1,39.2" fill="#acacac" stroke="#acacac" stroke-width="0.8"/><polygon points="1784.1,39.2 1790.1,36.3 1791.6,38.7 1785.7,41.8" fill="#b0b0b0" stroke="#b0b0b0" stroke-width="0.8"/><polygon points="1785.7,41.8 1791.6,38.7 1793.2,41.2 1787.4,44.4" fill="#a5a5a5" stroke="#a5a5a5" stroke-width="0.8"/><polygon points="1787.4,44.4 1793.2,41.2 1794.7,43.6 1789.0,47.0" fill="#afafaf" stroke="#afafaf" stroke-width="0.8"/><polygon points="1789.0,47.0 1794.7,43.6 1796.2,46.1 1790.6,49.6" fill="#9e9e9e" stroke="#9e9e9e" stroke-width="0.8"/><polygon points="1790.6,49.6 1796.2,46.1 1797.7,48.6 1792.2,52.2" fill="#9d9d9d" stroke="#9d9d9d" stroke-width="0.8"/><polygon points="1792.2,52.2 1797.7,48.6 1799.2,51.0 1793.9,54.8" fill="#bdbdbd" stroke="#bdbdbd" stroke-width="0.8"/><polygon points="1787.1,31.4 1793.4,28.9 1794.8,31.2 1788.6,33.8" fill="#adadad" stroke="#adadad" stroke-width="0.8"/><polygon points="1788.6,33.8 1794.8,31.2 1796.2,33.4 1790.1,36.3" fill="#bebebe" stroke="#bebebe" stroke-width="0.8"/><polygon points="1790.1,36.3 1796.2,33.4 1797.6,35.7 1791.6,38.7" fill="#b1b1b1" stroke="#b1b1b1" stroke-width="0.8"/><polygon points="1791.6,38.7 1797.6,35.7 1799.0,38.0 1793.2,41.2" fill="#a5a5a5" stroke="#a5a5a5" stroke-width="0.8"/><polygon points="1793.2,41.2 1799.0,38.0 1800.4,40.3 1794.7,43.6" fill="#a6a6a6" stroke="#a6a6a6" stroke-width="0.8"/><polygon points="1794.7,43.6 1800.4,40.3 1801.8,42.6 1796.2,46.1" fill="#b5b5b5" stroke="#b5b5b5" stroke-width="0.8"/><polygon points="1796.2,46.1 1801.8,42.6 1803.2,44.9 1797.7,48.6" fill="#a5a5a5" stroke="#a5a5a5" stroke-width="0.8"/><polygon points="1797.7,48.6 1803.2,44.9 1804.6,47.1 1799.2,51.0" fill="#bebebe" stroke="#bebebe" stroke-width="0.8"/><polygon points="1793.4,28.9 1799.7,26.6 1801.0,28.7 1794.8,31.2" fill="#c0c0c0" stroke="#c0c0c0" stroke-width="0.8"/><polygon points="1794.8,31.2 1801.0,28.7 1802.3,30.8 1796.2,33.4" fill="#b8b8b8" stroke="#b8b8b8" stroke-width="0.8"/><polygon points="1796.2,33.4 1802.3,30.8 1803.5,32.8 1797.6,35.7" fill="#bebebe" stroke="#bebebe" stroke-width="0.8"/><polygon points="1797.6,35.7 1803.5,32.8 1804.8,34.9 1799.0,38.0" fill="#a0a0a0" stroke="#a0a0a0" stroke-width="0.8"/><polygon points="1799.0,38.0 1804.8,34.9 1806.1,37.0 1800.4,40.3" fill="#aaaaaa" stroke="#aaaaaa" stroke-width="0.8"/><polygon points="1800.4,40.3 1806.1,37.0 1807.3,39.1 1801.8,42.6" fill="#b2b2b2" stroke="#b2b2b2" stroke-width="0.8"/><polygon points="1801.8,42.6 1807.3,39.1 1808.6,41.1 1803.2,44.9" fill="#b0b0b0" stroke="#b0b0b0" stroke-width="0.8"/><polygon points="1803.2,44.9 1808.6,41.1 1809.9,43.2 1804.6,47.1" fill="#d3d3d3" stroke="#d3d3d3" stroke-width="0.8"/><polygon points="1799.7,26.6 1806.2,24.5 1807.3,26.3 1801.0,28.7" fill="#acacac" stroke="#acacac" stroke-width="0.8"/><polygon points="1801.0,28.7 1807.3,26.3 1808.4,28.2 1802.3,30.8" fill="#b0b0b0" stroke="#b0b0b0" stroke-width="0.8"/><polygon points="1802.3,30.8 1808.4,28.2 1809.6,30.0 1803.5,32.8" fill="#a7a7a7" stroke="#a7a7a7" stroke-width="0.8"/><polygon points="1803.5,32.8 1809.6,30.0 1810.7,31.9 1804.8,34.9" fill="#a5a5a5" stroke="#a5a5a5" stroke-width="0.8"/><polygon points="1804.8,34.9 1810.7,31.9 1811.8,33.8 1806.1,37.0" fill="#bababa" stroke="#bababa" stroke-width="0.8"/><polygon points="1806.1,37.0 1811.8,33.8 1812.9,35.6 1807.3,39.1" fill="#adadad" stroke="#adadad" stroke-width="0.8"/><polygon points="1807.3,39.1 1812.9,35.6 1814.1,37.5 1808.6,41.1" fill="#b5b5b5" stroke="#b5b5b5" stroke-width="0.8"/><polygon points="1808.6,41.1 1814.1,37.5 1815.2,39.3 1809.9,43.2" fill="#c5c5c5" stroke="#c5c5c5" stroke-width="0.8"/><polygon points="1806.2,24.5 1812.6,22.5 1813.6,24.1 1807.3,26.3" fill="#c6c6c6" stroke="#c6c6c6" stroke-width="0.8"/><polygon points="1807.3,26.3 1813.6,24.1 1814.6,25.7 1808.4,28.2" fill="#b7b7b7" stroke="#b7b7b7" stroke-width="0.8"/><polygon points="1808.4,28.2 1814.6,25.7 1815.6,27.3 1809.6,30.0" fill="#aeaeae" stroke="#aeaeae" stroke-width="0.8"/><polygon points="1809.6,30.0 1815.6,27.3 1816.6,29.0 1810.7,31.9" fill="#b9b9b9" stroke="#b9b9b9" stroke-width="0.8"/><polygon points="1810.7,31.9 1816.6,29.0 1817.6,30.6 1811.8,33.8" fill="#bcbcbc" stroke="#bcbcbc" stroke-width="0.8"/><polygon points="1811.8,33.8 1817.6,30.6 1818.6,32.2 1812.9,35.6" fill="#a3a3a3" stroke="#a3a3a3" stroke-width="0.8"/><polygon points="1812.9,35.6 1818.6,32.2 1819.5,33.8 1814.1,37.5" fill="#aeaeae" stroke="#aeaeae" stroke-width="0.8"/><polygon points="1814.1,37.5 1819.5,33.8 1820.5,35.4 1815.2,39.3" fill="#d0d0d0" stroke="#d0d0d0" stroke-width="0.8"/><polygon points="1812.6,22.5 1819.1,20.6 1820.0,21.9 1813.6,24.1" fill="#b7b7b7" stroke="#b7b7b7" stroke-width="0.8"/><polygon points="1813.6,24.1 1820.0,21.9 1820.8,23.3 1814.6,25.7" fill="#b8b8b8" stroke="#b8b8b8" stroke-width="0.8"/><polygon points="1814.6,25.7 1820.8,23.3 1821.7,24.7 1815.6,27.3" fill="#aeaeae" stroke="#aeaeae" stroke-width="0.8"/><polygon points="1815.6,27.3 1821.7,24.7 1822.5,26.1 1816.6,29.0" fill="#acacac" stroke="#acacac" stroke-width="0.8"/><polygon points="1816.6,29.0 1822.5,26.1 1823.4,27.5 1817.6,30.6" fill="#acacac" stroke="#acacac" stroke-width="0.8"/><polygon points="1817.6,30.6 1823.4,27.5 1824.2,28.9 1818.6,32.2" fill="#b4b4b4" stroke="#b4b4b4" stroke-width="0.8"/><polygon points="1818.6,32.2 1824.2,28.9 1825.1,30.2 1819.5,33.8" fill="#b3b3b3" stroke="#b3b3b3" stroke-width="0.8"/><polygon points="1819.5,33.8 1825.1,30.2 1825.9,31.6 1820.5,35.4" fill="#c7c7c7" stroke="#c7c7c7" stroke-width="0.8"/><polygon points="1819.1,20.6 1825.6,18.6 1826.3,19.8 1820.0,21.9" fill="#b4b4b4" stroke="#b4b4b4" stroke-width="0.8"/><polygon points="1820.0,21.9 1826.3,19.8 1827.1,21.0 1820.8,23.3" fill="#bababa" stroke="#bababa" stroke-width="0.8"/><polygon points="1820.8,23.3 1827.1,21.0 1827.8,22.1 1821.7,24.7" fill="#c0c0c0" stroke="#c0c0c0" stroke-width="0.8"/><polygon points="1821.7,24.7 1827.8,22.1 1828.5,23.3 1822.5,26.1" fill="#aeaeae" stroke="#aeaeae" stroke-width="0.8"/><polygon points="1822.5,26.1 1828.5,23.3 1829.2,24.4 1823.4,27.5" fill="#b1b1b1" stroke="#b1b1b1" stroke-width="0.8"/><polygon points="1823.4,27.5 1829.2,24.4 1829.9,25.6 1824.2,28.9" fill="#acacac" stroke="#acacac" stroke-width="0.8"/><polygon points="1824.2,28.9 1829.9,25.6 1830.6,26.8 1825.1,30.2" fill="#bababa" stroke="#bababa" stroke-width="0.8"/><polygon points="1825.1,30.2 1830.6,26.8 1831.3,27.9 1825.9,31.6" fill="#d4d4d4" stroke="#d4d4d4" stroke-width="0.8"/><polygon points="1825.6,18.6 1832.1,16.7 1832.7,17.7 1826.3,19.8" fill="#b8b8b8" stroke="#b8b8b8" stroke-width="0.8"/><polygon points="1826.3,19.8 1832.7,17.7 1833.3,18.6 1827.1,21.0" fill="#b7b7b7" stroke="#b7b7b7" stroke-width="0.8"/><polygon points="1827.1,21.0 1833.3,18.6 1833.9,19.6 1827.8,22.1" fill="#bbbbbb" stroke="#bbbbbb" stroke-width="0.8"/><polygon points="1827.8,22.1 1833.9,19.6 1834.5,20.5 1828.5,23.3" fill="#bcbcbc" stroke="#bcbcbc" stroke-width="0.8"/><polygon points="1828.5,23.3 1834.5,20.5 1835.1,21.5 1829.2,24.4" fill="#bdbdbd" stroke="#bdbdbd" stroke-width="0.8"/><polygon points="1829.2,24.4 1835.1,21.5 1835.7,22.4 1829.9,25.6" fill="#acacac" stroke="#acacac" stroke-width="0.8"/><polygon points="1829.9,25.6 1835.7,22.4 1836.3,23.4 1830.6,26.8" fill="#acacac" stroke="#acacac" stroke-width="0.8"/><polygon points="1830.6,26.8 1836.3,23.4 1836.9,24.3 1831.3,27.9" fill="#dbdbdb" stroke="#dbdbdb" stroke-width="0.8"/><polygon points="1832.1,16.7 1838.6,14.7 1839.1,15.5 1832.7,17.7" fill="#c5c5c5" stroke="#c5c5c5" stroke-width="0.8"/><polygon points="1832.7,17.7 1839.1,15.5 1839.5,16.2 1833.3,18.6" fill="#bfbfbf" stroke="#bfbfbf" stroke-width="0.8"/><polygon points="1833.3,18.6 1839.5,16.2 1840.0,17.0 1833.9,19.6" fill="#bcbcbc" stroke="#bcbcbc" stroke-width="0.8"/><polygon points="1833.9,19.6 1840.0,17.0 1840.5,17.8 1834.5,20.5" fill="#cacaca" stroke="#cacaca" stroke-width="0.8"/><polygon points="1834.5,20.5 1840.5,17.8 1841.0,18.5 1835.1,21.5" fill="#b7b7b7" stroke="#b7b7b7" stroke-width="0.8"/><polygon points="1835.1,21.5 1841.0,18.5 1841.5,19.3 1835.7,22.4" fill="#bdbdbd" stroke="#bdbdbd" stroke-width="0.8"/><polygon points="1835.7,22.4 1841.5,19.3 1842.0,20.1 1836.3,23.4" fill="#b4b4b4" stroke="#b4b4b4" stroke-width="0.8"/><polygon points="1836.3,23.4 1842.0,20.1 1842.5,20.8 1836.9,24.3" fill="#d7d7d7" stroke="#d7d7d7" stroke-width="0.8"/><polygon points="1838.6,14.7 1845.0,12.7 1845.4,13.3 1839.1,15.5" fill="#d5d5d5" stroke="#d5d5d5" stroke-width="0.8"/><polygon points="1839.1,15.5 1845.4,13.3 1845.8,13.9 1839.5,16.2" fill="#d6d6d6" stroke="#d6d6d6" stroke-width="0.8"/><polygon points="1839.5,16.2 1845.8,13.9 1846.2,14.5 1840.0,17.0" fill="#c1c1c1" stroke="#c1c1c1" stroke-width="0.8"/><polygon points="1840.0,17.0 1846.2,14.5 1846.6,15.1 1840.5,17.8" fill="#b8b8b8" stroke="#b8b8b8" stroke-width="0.8"/><polygon points="1840.5,17.8 1846.6,15.1 1847.0,15.7 1841.0,18.5" fill="#c6c6c6" stroke="#c6c6c6" stroke-width="0.8"/><polygon points="1841.0,18.5 1847.0,15.7 1847.4,16.3 1841.5,19.3" fill="#b6b6b6" stroke="#b6b6b6" stroke-width="0.8"/><polygon points="1841.5,19.3 1847.4,16.3 1847.7,16.9 1842.0,20.1" fill="#aeaeae" stroke="#aeaeae" stroke-width="0.8"/><polygon points="1842.0,20.1 1847.7,16.9 1848.1,17.5 1842.5,20.8" fill="#e5e5e5" stroke="#e5e5e5" stroke-width="0.8"/><polygon points="1845.0,12.7 1851.5,10.5 1851.8,11.0 1845.4,13.3" fill="#cbcbcb" stroke="#cbcbcb" stroke-width="0.8"/><polygon points="1845.4,13.3 1851.8,11.0 1852.1,11.4 1845.8,13.9" fill="#d4d4d4" stroke="#d4d4d4" stroke-width="0.8"/><polygon points="1845.8,13.9 1852.1,11.4 1852.4,11.9 1846.2,14.5" fill="#c5c5c5" stroke="#c5c5c5" stroke-width="0.8"/><polygon points="1846.2,14.5 1852.4,11.9 1852.7,12.4 1846.6,15.1" fill="#cfcfcf" stroke="#cfcfcf" stroke-width="0.8"/><polygon points="1846.6,15.1 1852.7,12.4 1853.0,12.8 1847.0,15.7" fill="#c2c2c2" stroke="#c2c2c2" stroke-width="0.8"/><polygon points="1847.0,15.7 1853.0,12.8 1853.3,13.3 1847.4,16.3" fill="#b8b8b8" stroke="#b8b8b8" stroke-width="0.8"/><polygon points="1847.4,16.3 1853.3,13.3 1853.6,13.7 1847.7,16.9" fill="#b1b1b1" stroke="#b1b1b1" stroke-width="0.8"/><polygon points="1847.7,16.9 1853.6,13.7 1853.9,14.2 1848.1,17.5" fill="#d8d8d8" stroke="#d8d8d8" stroke-width="0.8"/><polygon points="1851.5,10.5 1857.9,8.3 1858.1,8.7 1851.8,11.0" fill="#d4d4d4" stroke="#d4d4d4" stroke-width="0.8"/><polygon points="1851.8,11.0 1858.1,8.7 1858.3,9.0 1852.1,11.4" fill="#d9d9d9" stroke="#d9d9d9" stroke-width="0.8"/><polygon points="1852.1,11.4 1858.3,9.0 1858.5,9.3 1852.4,11.9" fill="#bfbfbf" stroke="#bfbfbf" stroke-width="0.8"/><polygon points="1852.4,11.9 1858.5,9.3 1858.7,9.7 1852.7,12.4" fill="#cacaca" stroke="#cacaca" stroke-width="0.8"/><polygon points="1852.7,12.4 1858.7,9.7 1859.0,10.0 1853.0,12.8" fill="#c3c3c3" stroke="#c3c3c3" stroke-width="0.8"/><polygon points="1853.0,12.8 1859.0,10.0 1859.2,10.3 1853.3,13.3" fill="#c5c5c5" stroke="#c5c5c5" stroke-width="0.8"/><polygon points="1853.3,13.3 1859.2,10.3 1859.4,10.7 1853.6,13.7" fill="#b8b8b8" stroke="#b8b8b8" stroke-width="0.8"/><polygon points="1853.6,13.7 1859.4,10.7 1859.6,11.0 1853.9,14.2" fill="#cecece" stroke="#cecece" stroke-width="0.8"/><polygon points="1857.9,8.3 1864.3,6.1 1864.4,6.3 1858.1,8.7" fill="#d4d4d4" stroke="#d4d4d4" stroke-width="0.8"/><polygon points="1858.1,8.7 1864.4,6.3 1864.5,6.5 1858.3,9.0" fill="#dcdcdc" stroke="#dcdcdc" stroke-width="0.8"/><polygon points="1858.3,9.0 1864.5,6.5 1864.7,6.7 1858.5,9.3" fill="#c3c3c3" stroke="#c3c3c3" stroke-width="0.8"/><polygon points="1858.5,9.3 1864.7,6.7 1864.8,6.9 1858.7,9.7" fill="#cacaca" stroke="#cacaca" stroke-width="0.8"/><polygon points="1858.7,9.7 1864.8,6.9 1865.0,7.2 1859.0,10.0" fill="#d2d2d2" stroke="#d2d2d2" stroke-width="0.8"/><polygon points="1859.0,10.0 1865.0,7.2 1865.1,7.4 1859.2,10.3" fill="#d5d5d5" stroke="#d5d5d5" stroke-width="0.8"/><polygon points="1859.2,10.3 1865.1,7.4 1865.3,7.6 1859.4,10.7" fill="#bdbdbd" stroke="#bdbdbd" stroke-width="0.8"/><polygon points="1859.4,10.7 1865.3,7.6 1865.4,7.8 1859.6,11.0" fill="#c7c7c7" stroke="#c7c7c7" stroke-width="0.8"/><polygon points="1864.3,6.1 1870.6,3.8 1870.7,3.9 1864.4,6.3" fill="#e2e2e2" stroke="#e2e2e2" stroke-width="0.8"/><polygon points="1864.4,6.3 1870.7,3.9 1870.8,4.0 1864.5,6.5" fill="#e1e1e1" stroke="#e1e1e1" stroke-width="0.8"/><polygon points="1864.5,6.5 1870.8,4.0 1870.8,4.1 1864.7,6.7" fill="#d0d0d0" stroke="#d0d0d0" stroke-width="0.8"/><polygon points="1864.7,6.7 1870.8,4.1 1870.9,4.2 1864.8,6.9" fill="#c1c1c1" stroke="#c1c1c1" stroke-width="0.8"/><polygon points="1864.8,6.9 1870.9,4.2 1871.0,4.3 1865.0,7.2" fill="#d9d9d9" stroke="#d9d9d9" stroke-width="0.8"/><polygon points="1865.0,7.2 1871.0,4.3 1871.1,4.4 1865.1,7.4" fill="#c8c8c8" stroke="#c8c8c8" stroke-width="0.8"/><polygon points="1865.1,7.4 1871.1,4.4 1871.1,4.5 1865.3,7.6" fill="#d4d4d4" stroke="#d4d4d4" stroke-width="0.8"/><polygon points="1865.3,7.6 1871.1,4.5 1871.2,4.6 1865.4,7.8" fill="#d2d2d2" stroke="#d2d2d2" stroke-width="0.8"/><polygon points="1870.6,3.8 1877.0,1.5 1877.0,1.5 1870.7,3.9" fill="#e2e2e2" stroke="#e2e2e2" stroke-width="0.8"/><polygon points="1870.7,3.9 1877.0,1.5 1877.0,1.5 1870.8,4.0" fill="#cdcdcd" stroke="#cdcdcd" stroke-width="0.8"/><polygon points="1870.8,4.0 1877.0,1.5 1877.0,1.5 1870.8,4.1" fill="#dcdcdc" stroke="#dcdcdc" stroke-width="0.8"/><polygon points="1870.8,4.1 1877.0,1.5 1877.0,1.5 1870.9,4.2" fill="#c9c9c9" stroke="#c9c9c9" stroke-width="0.8"/><polygon points="1870.9,4.2 1877.0,1.5 1877.0,1.5 1871.0,4.3" fill="#cdcdcd" stroke="#cdcdcd" stroke-width="0.8"/><polygon points="1871.0,4.3 1877.0,1.5 1877.0,1.5 1871.1,4.4" fill="#d8d8d8" stroke="#d8d8d8" stroke-width="0.8"/><polygon points="1871.1,4.4 1877.0,1.5 1877.0,1.5 1871.1,4.5" fill="#d5d5d5" stroke="#d5d5d5" stroke-width="0.8"/><polygon points="1871.1,4.5 1877.0,1.5 1877.0,1.5 1871.2,4.6" fill="#c3c3c3" stroke="#c3c3c3" stroke-width="0.8"/></g><rect x="1280" y="0" width="703" height="886" fill="#000" filter="url(#mottle_w1)"/></g>
<filter id="blur_w1" x="-5%" y="-5%" width="110%" height="110%"><feGaussianBlur stdDeviation="1.30"/></filter>
<filter id="mottle_w1" x="0" y="0" width="100%" height="100%" filterUnits="userSpaceOnUse"><feTurbulence type="fractalNoise" baseFrequency="0.06" numOctaves="2" seed="3" result="n"/><feColorMatrix in="n" type="matrix" values="0 0 0 0 0  0 0 0 0 0  0 0 0 0 0  1.3 0 0 0 -0.68"/><feGaussianBlur stdDeviation="0.8"/></filter>
<path d="M1388.3,284.6 L1391.1,278.6 L1393.9,272.6 L1396.7,266.6 L1399.4,260.6 L1402.1,254.6 L1404.9,248.6 L1407.7,242.7 L1410.6,236.7 L1413.7,230.9 L1416.9,225.2 L1420.4,219.6 L1424.1,214.1 L1427.9,208.8 L1432.1,203.7 L1436.4,198.8 L1441.1,194.2 L1446.0,189.9 L1451.2,185.9 L1456.6,182.2 L1462.3,178.9 L1468.1,176.1 L1474.2,173.8 L1480.4,171.9 L1486.8,170.4 L1493.2,169.4 L1499.7,168.8 L1506.3,168.4 L1512.9,168.3 L1519.5,168.2 L1526.1,168.3 L1532.7,168.4 L1539.3,168.5 L1545.9,168.7 L1552.5,168.9 L1559.1,169.0 L1565.7,169.2 L1572.3,169.3 L1578.9,169.3 L1585.5,169.3 L1592.1,169.1 L1598.6,168.8 L1605.2,168.3 L1611.8,167.7 L1618.3,166.8 L1624.8,165.8 L1631.2,164.4 L1637.6,162.8 L1643.9,160.9 L1650.0,158.7 L1656.1,156.1 L1662.0,153.3 L1667.8,150.2 L1673.5,146.9 L1679.1,143.4 L1684.6,139.8 L1690.1,136.1 L1695.4,132.3 L1700.7,128.3 L1705.9,124.3 L1711.0,120.1 L1716.1,115.8 L1721.0,111.5 L1726.0,107.2 L1731.0,102.8 L1736.0,98.5 L1741.0,94.2 L1746.0,90.0 L1751.2,85.8 L1756.3,81.8 L1761.6,77.8 L1766.9,73.8 L1772.2,70.0 L1777.6,66.2 L1783.0,62.4 L1788.5,58.6 L1793.9,54.8 L1799.2,51.0 L1804.6,47.1 L1809.9,43.2 L1815.2,39.3 L1820.5,35.4 L1825.9,31.6 L1831.3,27.9 L1836.9,24.3 L1842.5,20.8 L1848.1,17.5 L1853.9,14.2" fill="none" stroke="#3a3a3a" stroke-width="1.6" stroke-opacity="0.80"/>

<clipPath id="clip_w2"><path d="M1399.0,568.0 L1405.1,566.9 L1411.7,567.2 L1418.4,567.9 L1425.1,568.3 L1431.8,569.2 L1438.6,570.2 L1445.4,571.3 L1452.1,572.5 L1458.8,573.7 L1465.6,574.9 L1472.3,576.2 L1479.0,577.5 L1485.7,578.9 L1492.4,580.2 L1499.1,581.5 L1505.8,582.8 L1512.6,584.1 L1519.3,585.3 L1526.0,586.4 L1532.8,587.4 L1539.6,588.3 L1546.4,589.1 L1553.2,589.8 L1560.0,590.3 L1566.8,590.6 L1573.6,590.8 L1580.5,590.9 L1587.3,590.9 L1594.1,590.7 L1601.0,590.4 L1607.8,590.0 L1614.6,589.5 L1621.4,588.9 L1628.2,588.2 L1635.0,587.2 L1641.7,586.1 L1648.4,584.7 L1655.0,583.0 L1661.5,581.1 L1668.0,579.0 L1674.4,576.7 L1680.8,574.2 L1687.1,571.5 L1693.3,568.7 L1699.5,565.8 L1705.6,562.8 L1711.7,559.6 L1717.6,556.2 L1723.4,552.7 L1729.2,549.0 L1734.8,545.1 L1740.2,541.0 L1745.6,536.8 L1750.9,532.5 L1756.1,528.1 L1761.3,523.6 L1766.4,519.1 L1771.5,514.5 L1776.6,509.9 L1781.6,505.2 L1786.5,500.5 L1791.4,495.7 L1796.3,490.9 L1801.1,486.0 L1805.9,481.2 L1810.6,476.2 L1815.3,471.2 L1819.9,466.2 L1824.3,461.0 L1828.6,455.6 L1832.7,450.2 L1836.7,444.7 L1840.6,439.1 L1844.5,433.5 L1848.4,427.9 L1852.5,422.4 L1856.7,417.0 L1861.1,411.8 L1865.7,406.7 L1870.4,401.9 L1875.4,397.2 L1880.5,392.7 L1885.9,388.5 L1891.4,384.5 L1897.1,380.8 L1902.9,377.3 L1908.9,373.9 L1914.9,370.6 L1920.9,367.4 L1926.9,364.1 L1932.9,360.8 L1938.9,357.5 L1944.8,354.1 L1950.7,350.6 L1956.6,347.1 L1962.4,343.6 L1968.3,340.1 L1974.1,336.5 L1980.0,333.0 L1980.0,333.0 L1975.3,338.2 L1970.6,343.4 L1965.6,348.4 L1960.6,353.3 L1955.5,358.2 L1950.3,362.8 L1945.0,367.4 L1939.5,371.8 L1934.0,376.2 L1928.5,380.5 L1922.9,384.8 L1917.4,389.2 L1912.1,393.7 L1906.8,398.4 L1901.7,403.1 L1896.7,408.0 L1891.8,413.1 L1887.0,418.2 L1882.2,423.4 L1877.4,428.5 L1872.6,433.6 L1867.7,438.6 L1862.8,443.7 L1857.9,448.7 L1853.1,453.9 L1848.5,459.1 L1844.0,464.5 L1839.5,469.9 L1835.0,475.3 L1830.5,480.6 L1825.9,485.9 L1821.1,491.1 L1816.3,496.2 L1811.3,501.1 L1806.3,506.1 L1801.3,511.0 L1796.2,515.9 L1791.1,520.7 L1786.1,525.6 L1780.9,530.4 L1775.8,535.2 L1770.7,540.0 L1765.5,544.8 L1760.3,549.5 L1755.1,554.3 L1749.9,558.9 L1744.6,563.5 L1739.2,568.1 L1733.7,572.5 L1728.2,576.7 L1722.5,580.8 L1716.7,584.8 L1710.7,588.4 L1704.6,591.9 L1698.4,595.1 L1692.0,598.1 L1685.6,600.8 L1679.0,603.2 L1672.4,605.5 L1665.6,607.5 L1658.9,609.3 L1652.0,611.0 L1645.2,612.4 L1638.3,613.6 L1631.3,614.6 L1624.4,615.4 L1617.4,616.0 L1610.4,616.5 L1603.3,616.7 L1596.3,616.8 L1589.3,616.8 L1582.3,616.6 L1575.3,616.2 L1568.3,615.6 L1561.3,614.9 L1554.3,614.1 L1547.4,613.1 L1540.4,612.0 L1533.5,610.8 L1526.6,609.4 L1519.8,607.8 L1513.0,606.1 L1506.2,604.3 L1499.4,602.3 L1492.7,600.2 L1486.0,598.1 L1479.3,595.9 L1472.7,593.8 L1466.0,591.7 L1459.3,589.6 L1452.5,587.5 L1445.8,585.5 L1439.1,583.5 L1432.3,581.5 L1425.6,579.6 L1418.9,577.5 L1412.1,575.5 L1405.5,573.5 L1399.0,571.0Z"/></clipPath>
<g clip-path="url(#clip_w2)"><g filter="url(#blur_w2)"><polygon points="1399.0,568.0 1405.1,566.9 1405.1,567.7 1399.0,568.4" fill="#959595" stroke="#959595" stroke-width="0.8"/><polygon points="1399.0,568.4 1405.1,567.7 1405.2,568.5 1399.0,568.8" fill="#c4c4c4" stroke="#c4c4c4" stroke-width="0.8"/><polygon points="1399.0,568.8 1405.2,568.5 1405.2,569.3 1399.0,569.1" fill="#dedede" stroke="#dedede" stroke-width="0.8"/><polygon points="1399.0,569.1 1405.2,569.3 1405.3,570.2 1399.0,569.5" fill="#d9d9d9" stroke="#d9d9d9" stroke-width="0.8"/><polygon points="1399.0,569.5 1405.3,570.2 1405.3,571.0 1399.0,569.9" fill="#bebebe" stroke="#bebebe" stroke-width="0.8"/><polygon points="1399.0,569.9 1405.3,571.0 1405.4,571.8 1399.0,570.2" fill="#c2c2c2" stroke="#c2c2c2" stroke-width="0.8"/><polygon points="1399.0,570.2 1405.4,571.8 1405.4,572.6 1399.0,570.6" fill="#d0d0d0" stroke="#d0d0d0" stroke-width="0.8"/><polygon points="1399.0,570.6 1405.4,572.6 1405.5,573.5 1399.0,571.0" fill="#b4b4b4" stroke="#b4b4b4" stroke-width="0.8"/><polygon points="1405.1,566.9 1411.7,567.2 1411.8,568.2 1405.1,567.7" fill="#8c8c8c" stroke="#8c8c8c" stroke-width="0.8"/><polygon points="1405.1,567.7 1411.8,568.2 1411.8,569.3 1405.2,568.5" fill="#c8c8c8" stroke="#c8c8c8" stroke-width="0.8"/><polygon points="1405.2,568.5 1411.8,569.3 1411.9,570.3 1405.2,569.3" fill="#e5e5e5" stroke="#e5e5e5" stroke-width="0.8"/><polygon points="1405.2,569.3 1411.9,570.3 1411.9,571.3 1405.3,570.2" fill="#cbcbcb" stroke="#cbcbcb" stroke-width="0.8"/><polygon points="1405.3,570.2 1411.9,571.3 1412.0,572.4 1405.3,571.0" fill="#d6d6d6" stroke="#d6d6d6" stroke-width="0.8"/><polygon points="1405.3,571.0 1412.0,572.4 1412.0,573.4 1405.4,571.8" fill="#bcbcbc" stroke="#bcbcbc" stroke-width="0.8"/><polygon points="1405.4,571.8 1412.0,573.4 1412.1,574.5 1405.4,572.6" fill="#cacaca" stroke="#cacaca" stroke-width="0.8"/><polygon points="1405.4,572.6 1412.1,574.5 1412.1,575.5 1405.5,573.5" fill="#a6a6a6" stroke="#a6a6a6" stroke-width="0.8"/><polygon points="1411.7,567.2 1418.4,567.9 1418.5,569.1 1411.8,568.2" fill="#a0a0a0" stroke="#a0a0a0" stroke-width="0.8"/><polygon points="1411.8,568.2 1418.5,569.1 1418.6,570.3 1411.8,569.3" fill="#bdbdbd" stroke="#bdbdbd" stroke-width="0.8"/><polygon points="1411.8,569.3 1418.6,570.3 1418.6,571.5 1411.9,570.3" fill="#d7d7d7" stroke="#d7d7d7" stroke-width="0.8"/><polygon points="1411.9,570.3 1418.6,571.5 1418.7,572.7 1411.9,571.3" fill="#dddddd" stroke="#dddddd" stroke-width="0.8"/><polygon points="1411.9,571.3 1418.7,572.7 1418.7,573.9 1412.0,572.4" fill="#c5c5c5" stroke="#c5c5c5" stroke-width="0.8"/><polygon points="1412.0,572.4 1418.7,573.9 1418.8,575.1 1412.0,573.4" fill="#cdcdcd" stroke="#cdcdcd" stroke-width="0.8"/><polygon points="1412.0,573.4 1418.8,575.1 1418.8,576.3 1412.1,574.5" fill="#c2c2c2" stroke="#c2c2c2" stroke-width="0.8"/><polygon points="1412.1,574.5 1418.8,576.3 1418.9,577.5 1412.1,575.5" fill="#a0a0a0" stroke="#a0a0a0" stroke-width="0.8"/><polygon points="1418.4,567.9 1425.1,568.3 1425.1,569.7 1418.5,569.1" fill="#888888" stroke="#888888" stroke-width="0.8"/><polygon points="1418.5,569.1 1425.1,569.7 1425.2,571.1 1418.6,570.3" fill="#c6c6c6" stroke="#c6c6c6" stroke-width="0.8"/><polygon points="1418.6,570.3 1425.2,571.1 1425.3,572.5 1418.6,571.5" fill="#d7d7d7" stroke="#d7d7d7" stroke-width="0.8"/><polygon points="1418.6,571.5 1425.3,572.5 1425.3,573.9 1418.7,572.7" fill="#cecece" stroke="#cecece" stroke-width="0.8"/><polygon points="1418.7,572.7 1425.3,573.9 1425.4,575.4 1418.7,573.9" fill="#cfcfcf" stroke="#cfcfcf" stroke-width="0.8"/><polygon points="1418.7,573.9 1425.4,575.4 1425.4,576.8 1418.8,575.1" fill="#d0d0d0" stroke="#d0d0d0" stroke-width="0.8"/><polygon points="1418.8,575.1 1425.4,576.8 1425.5,578.2 1418.8,576.3" fill="#c1c1c1" stroke="#c1c1c1" stroke-width="0.8"/><polygon points="1418.8,576.3 1425.5,578.2 1425.6,579.6 1418.9,577.5" fill="#959595" stroke="#959595" stroke-width="0.8"/><polygon points="1425.1,568.3 1431.8,569.2 1431.9,570.8 1425.1,569.7" fill="#969696" stroke="#969696" stroke-width="0.8"/><polygon points="1425.1,569.7 1431.9,570.8 1432.0,572.3 1425.2,571.1" fill="#b2b2b2" stroke="#b2b2b2" stroke-width="0.8"/><polygon points="1425.2,571.1 1432.0,572.3 1432.0,573.8 1425.3,572.5" fill="#c9c9c9" stroke="#c9c9c9" stroke-width="0.8"/><polygon points="1425.3,572.5 1432.0,573.8 1432.1,575.4 1425.3,573.9" fill="#d3d3d3" stroke="#d3d3d3" stroke-width="0.8"/><polygon points="1425.3,573.9 1432.1,575.4 1432.1,576.9 1425.4,575.4" fill="#b5b5b5" stroke="#b5b5b5" stroke-width="0.8"/><polygon points="1425.4,575.4 1432.1,576.9 1432.2,578.5 1425.4,576.8" fill="#c2c2c2" stroke="#c2c2c2" stroke-width="0.8"/><polygon points="1425.4,576.8 1432.2,578.5 1432.3,580.0 1425.5,578.2" fill="#c1c1c1" stroke="#c1c1c1" stroke-width="0.8"/><polygon points="1425.5,578.2 1432.3,580.0 1432.3,581.5 1425.6,579.6" fill="#8e8e8e" stroke="#8e8e8e" stroke-width="0.8"/><polygon points="1431.8,569.2 1438.6,570.2 1438.7,571.9 1431.9,570.8" fill="#9a9a9a" stroke="#9a9a9a" stroke-width="0.8"/><polygon points="1431.9,570.8 1438.7,571.9 1438.7,573.6 1432.0,572.3" fill="#afafaf" stroke="#afafaf" stroke-width="0.8"/><polygon points="1432.0,572.3 1438.7,573.6 1438.8,575.2 1432.0,573.8" fill="#dcdcdc" stroke="#dcdcdc" stroke-width="0.8"/><polygon points="1432.0,573.8 1438.8,575.2 1438.8,576.9 1432.1,575.4" fill="#dedede" stroke="#dedede" stroke-width="0.8"/><polygon points="1432.1,575.4 1438.8,576.9 1438.9,578.5 1432.1,576.9" fill="#c2c2c2" stroke="#c2c2c2" stroke-width="0.8"/><polygon points="1432.1,576.9 1438.9,578.5 1438.9,580.2 1432.2,578.5" fill="#b2b2b2" stroke="#b2b2b2" stroke-width="0.8"/><polygon points="1432.2,578.5 1438.9,580.2 1439.0,581.8 1432.3,580.0" fill="#bfbfbf" stroke="#bfbfbf" stroke-width="0.8"/><polygon points="1432.3,580.0 1439.0,581.8 1439.1,583.5 1432.3,581.5" fill="#989898" stroke="#989898" stroke-width="0.8"/><polygon points="1438.6,570.2 1445.4,571.3 1445.4,573.1 1438.7,571.9" fill="#a4a4a4" stroke="#a4a4a4" stroke-width="0.8"/><polygon points="1438.7,571.9 1445.4,573.1 1445.5,574.9 1438.7,573.6" fill="#afafaf" stroke="#afafaf" stroke-width="0.8"/><polygon points="1438.7,573.6 1445.5,574.9 1445.5,576.6 1438.8,575.2" fill="#dfdfdf" stroke="#dfdfdf" stroke-width="0.8"/><polygon points="1438.8,575.2 1445.5,576.6 1445.6,578.4 1438.8,576.9" fill="#e4e4e4" stroke="#e4e4e4" stroke-width="0.8"/><polygon points="1438.8,576.9 1445.6,578.4 1445.6,580.2 1438.9,578.5" fill="#c9c9c9" stroke="#c9c9c9" stroke-width="0.8"/><polygon points="1438.9,578.5 1445.6,580.2 1445.7,582.0 1438.9,580.2" fill="#cccccc" stroke="#cccccc" stroke-width="0.8"/><polygon points="1438.9,580.2 1445.7,582.0 1445.7,583.7 1439.0,581.8" fill="#b2b2b2" stroke="#b2b2b2" stroke-width="0.8"/><polygon points="1439.0,581.8 1445.7,583.7 1445.8,585.5 1439.1,583.5" fill="#acacac" stroke="#acacac" stroke-width="0.8"/><polygon points="1445.4,571.3 1452.1,572.5 1452.2,574.4 1445.4,573.1" fill="#919191" stroke="#919191" stroke-width="0.8"/><polygon points="1445.4,573.1 1452.2,574.4 1452.2,576.2 1445.5,574.9" fill="#cbcbcb" stroke="#cbcbcb" stroke-width="0.8"/><polygon points="1445.5,574.9 1452.2,576.2 1452.3,578.1 1445.5,576.6" fill="#dfdfdf" stroke="#dfdfdf" stroke-width="0.8"/><polygon points="1445.5,576.6 1452.3,578.1 1452.3,580.0 1445.6,578.4" fill="#c4c4c4" stroke="#c4c4c4" stroke-width="0.8"/><polygon points="1445.6,578.4 1452.3,580.0 1452.4,581.9 1445.6,580.2" fill="#c9c9c9" stroke="#c9c9c9" stroke-width="0.8"/><polygon points="1445.6,580.2 1452.4,581.9 1452.4,583.8 1445.7,582.0" fill="#cecece" stroke="#cecece" stroke-width="0.8"/><polygon points="1445.7,582.0 1452.4,583.8 1452.5,585.6 1445.7,583.7" fill="#ababab" stroke="#ababab" stroke-width="0.8"/><polygon points="1445.7,583.7 1452.5,585.6 1452.5,587.5 1445.8,585.5" fill="#939393" stroke="#939393" stroke-width="0.8"/><polygon points="1452.1,572.5 1458.8,573.7 1458.9,575.7 1452.2,574.4" fill="#999999" stroke="#999999" stroke-width="0.8"/><polygon points="1452.2,574.4 1458.9,575.7 1458.9,577.7 1452.2,576.2" fill="#acacac" stroke="#acacac" stroke-width="0.8"/><polygon points="1452.2,576.2 1458.9,577.7 1459.0,579.6 1452.3,578.1" fill="#dcdcdc" stroke="#dcdcdc" stroke-width="0.8"/><polygon points="1452.3,578.1 1459.0,579.6 1459.0,581.6 1452.3,580.0" fill="#c6c6c6" stroke="#c6c6c6" stroke-width="0.8"/><polygon points="1452.3,580.0 1459.0,581.6 1459.1,583.6 1452.4,581.9" fill="#c7c7c7" stroke="#c7c7c7" stroke-width="0.8"/><polygon points="1452.4,581.9 1459.1,583.6 1459.1,585.6 1452.4,583.8" fill="#afafaf" stroke="#afafaf" stroke-width="0.8"/><polygon points="1452.4,583.8 1459.1,585.6 1459.2,587.6 1452.5,585.6" fill="#b9b9b9" stroke="#b9b9b9" stroke-width="0.8"/><polygon points="1452.5,585.6 1459.2,587.6 1459.3,589.6 1452.5,587.5" fill="#a5a5a5" stroke="#a5a5a5" stroke-width="0.8"/><polygon points="1458.8,573.7 1465.6,574.9 1465.6,577.0 1458.9,575.7" fill="#828282" stroke="#828282" stroke-width="0.8"/><polygon points="1458.9,575.7 1465.6,577.0 1465.7,579.1 1458.9,577.7" fill="#adadad" stroke="#adadad" stroke-width="0.8"/><polygon points="1458.9,577.7 1465.7,579.1 1465.7,581.2 1459.0,579.6" fill="#cccccc" stroke="#cccccc" stroke-width="0.8"/><polygon points="1459.0,579.6 1465.7,581.2 1465.8,583.3 1459.0,581.6" fill="#c5c5c5" stroke="#c5c5c5" stroke-width="0.8"/><polygon points="1459.0,581.6 1465.8,583.3 1465.8,585.4 1459.1,583.6" fill="#a9a9a9" stroke="#a9a9a9" stroke-width="0.8"/><polygon points="1459.1,583.6 1465.8,585.4 1465.9,587.5 1459.1,585.6" fill="#aeaeae" stroke="#aeaeae" stroke-width="0.8"/><polygon points="1459.1,585.6 1465.9,587.5 1465.9,589.6 1459.2,587.6" fill="#aaaaaa" stroke="#aaaaaa" stroke-width="0.8"/><polygon points="1459.2,587.6 1465.9,589.6 1466.0,591.7 1459.3,589.6" fill="#a3a3a3" stroke="#a3a3a3" stroke-width="0.8"/><polygon points="1465.6,574.9 1472.3,576.2 1472.3,578.4 1465.6,577.0" fill="#919191" stroke="#919191" stroke-width="0.8"/><polygon points="1465.6,577.0 1472.3,578.4 1472.4,580.6 1465.7,579.1" fill="#c1c1c1" stroke="#c1c1c1" stroke-width="0.8"/><polygon points="1465.7,579.1 1472.4,580.6 1472.4,582.8 1465.7,581.2" fill="#bdbdbd" stroke="#bdbdbd" stroke-width="0.8"/><polygon points="1465.7,581.2 1472.4,582.8 1472.5,585.0 1465.8,583.3" fill="#d3d3d3" stroke="#d3d3d3" stroke-width="0.8"/><polygon points="1465.8,583.3 1472.5,585.0 1472.5,587.2 1465.8,585.4" fill="#a9a9a9" stroke="#a9a9a9" stroke-width="0.8"/><polygon points="1465.8,585.4 1472.5,587.2 1472.6,589.4 1465.9,587.5" fill="#b8b8b8" stroke="#b8b8b8" stroke-width="0.8"/><polygon points="1465.9,587.5 1472.6,589.4 1472.6,591.6 1465.9,589.6" fill="#b8b8b8" stroke="#b8b8b8" stroke-width="0.8"/><polygon points="1465.9,589.6 1472.6,591.6 1472.7,593.8 1466.0,591.7" fill="#8c8c8c" stroke="#8c8c8c" stroke-width="0.8"/><polygon points="1472.3,576.2 1479.0,577.5 1479.0,579.8 1472.3,578.4" fill="#959595" stroke="#959595" stroke-width="0.8"/><polygon points="1472.3,578.4 1479.0,579.8 1479.1,582.1 1472.4,580.6" fill="#b2b2b2" stroke="#b2b2b2" stroke-width="0.8"/><polygon points="1472.4,580.6 1479.1,582.1 1479.1,584.4 1472.4,582.8" fill="#c9c9c9" stroke="#c9c9c9" stroke-width="0.8"/><polygon points="1472.4,582.8 1479.1,584.4 1479.2,586.7 1472.5,585.0" fill="#d4d4d4" stroke="#d4d4d4" stroke-width="0.8"/><polygon points="1472.5,585.0 1479.2,586.7 1479.2,589.0 1472.5,587.2" fill="#a6a6a6" stroke="#a6a6a6" stroke-width="0.8"/><polygon points="1472.5,587.2 1479.2,589.0 1479.3,591.3 1472.6,589.4" fill="#c6c6c6" stroke="#c6c6c6" stroke-width="0.8"/><polygon points="1472.6,589.4 1479.3,591.3 1479.3,593.6 1472.6,591.6" fill="#b6b6b6" stroke="#b6b6b6" stroke-width="0.8"/><polygon points="1472.6,591.6 1479.3,593.6 1479.3,595.9 1472.7,593.8" fill="#8b8b8b" stroke="#8b8b8b" stroke-width="0.8"/><polygon points="1479.0,577.5 1485.7,578.9 1485.7,581.3 1479.0,579.8" fill="#909090" stroke="#909090" stroke-width="0.8"/><polygon points="1479.0,579.8 1485.7,581.3 1485.8,583.7 1479.1,582.1" fill="#a5a5a5" stroke="#a5a5a5" stroke-width="0.8"/><polygon points="1479.1,582.1 1485.8,583.7 1485.8,586.1 1479.1,584.4" fill="#d6d6d6" stroke="#d6d6d6" stroke-width="0.8"/><polygon points="1479.1,584.4 1485.8,586.1 1485.9,588.5 1479.2,586.7" fill="#c7c7c7" stroke="#c7c7c7" stroke-width="0.8"/><polygon points="1479.2,586.7 1485.9,588.5 1485.9,590.9 1479.2,589.0" fill="#adadad" stroke="#adadad" stroke-width="0.8"/><polygon points="1479.2,589.0 1485.9,590.9 1486.0,593.3 1479.3,591.3" fill="#bbbbbb" stroke="#bbbbbb" stroke-width="0.8"/><polygon points="1479.3,591.3 1486.0,593.3 1486.0,595.7 1479.3,593.6" fill="#acacac" stroke="#acacac" stroke-width="0.8"/><polygon points="1479.3,593.6 1486.0,595.7 1486.0,598.1 1479.3,595.9" fill="#808080" stroke="#808080" stroke-width="0.8"/><polygon points="1485.7,578.9 1492.4,580.2 1492.5,582.7 1485.7,581.3" fill="#8b8b8b" stroke="#8b8b8b" stroke-width="0.8"/><polygon points="1485.7,581.3 1492.5,582.7 1492.5,585.2 1485.8,583.7" fill="#9b9b9b" stroke="#9b9b9b" stroke-width="0.8"/><polygon points="1485.8,583.7 1492.5,585.2 1492.5,587.7 1485.8,586.1" fill="#cdcdcd" stroke="#cdcdcd" stroke-width="0.8"/><polygon points="1485.8,586.1 1492.5,587.7 1492.6,590.2 1485.9,588.5" fill="#b9b9b9" stroke="#b9b9b9" stroke-width="0.8"/><polygon points="1485.9,588.5 1492.6,590.2 1492.6,592.7 1485.9,590.9" fill="#b4b4b4" stroke="#b4b4b4" stroke-width="0.8"/><polygon points="1485.9,590.9 1492.6,592.7 1492.7,595.2 1486.0,593.3" fill="#c1c1c1" stroke="#c1c1c1" stroke-width="0.8"/><polygon points="1486.0,593.3 1492.7,595.2 1492.7,597.7 1486.0,595.7" fill="#afafaf" stroke="#afafaf" stroke-width="0.8"/><polygon points="1486.0,595.7 1492.7,597.7 1492.7,600.2 1486.0,598.1" fill="#8f8f8f" stroke="#8f8f8f" stroke-width="0.8"/><polygon points="1492.4,580.2 1499.1,581.5 1499.2,584.1 1492.5,582.7" fill="#797979" stroke="#797979" stroke-width="0.8"/><polygon points="1492.5,582.7 1499.2,584.1 1499.2,586.7 1492.5,585.2" fill="#979797" stroke="#979797" stroke-width="0.8"/><polygon points="1492.5,585.2 1499.2,586.7 1499.2,589.3 1492.5,587.7" fill="#aeaeae" stroke="#aeaeae" stroke-width="0.8"/><polygon points="1492.5,587.7 1499.2,589.3 1499.3,591.9 1492.6,590.2" fill="#b2b2b2" stroke="#b2b2b2" stroke-width="0.8"/><polygon points="1492.6,590.2 1499.3,591.9 1499.3,594.5 1492.6,592.7" fill="#b1b1b1" stroke="#b1b1b1" stroke-width="0.8"/><polygon points="1492.6,592.7 1499.3,594.5 1499.4,597.1 1492.7,595.2" fill="#aaaaaa" stroke="#aaaaaa" stroke-width="0.8"/><polygon points="1492.7,595.2 1499.4,597.1 1499.4,599.7 1492.7,597.7" fill="#aaaaaa" stroke="#aaaaaa" stroke-width="0.8"/><polygon points="1492.7,597.7 1499.4,599.7 1499.4,602.3 1492.7,600.2" fill="#959595" stroke="#959595" stroke-width="0.8"/><polygon points="1499.1,581.5 1505.8,582.8 1505.9,585.5 1499.2,584.1" fill="#707070" stroke="#707070" stroke-width="0.8"/><polygon points="1499.2,584.1 1505.9,585.5 1505.9,588.2 1499.2,586.7" fill="#9c9c9c" stroke="#9c9c9c" stroke-width="0.8"/><polygon points="1499.2,586.7 1505.9,588.2 1506.0,590.9 1499.2,589.3" fill="#c2c2c2" stroke="#c2c2c2" stroke-width="0.8"/><polygon points="1499.2,589.3 1506.0,590.9 1506.0,593.5 1499.3,591.9" fill="#ababab" stroke="#ababab" stroke-width="0.8"/><polygon points="1499.3,591.9 1506.0,593.5 1506.1,596.2 1499.3,594.5" fill="#989898" stroke="#989898" stroke-width="0.8"/><polygon points="1499.3,594.5 1506.1,596.2 1506.1,598.9 1499.4,597.1" fill="#a5a5a5" stroke="#a5a5a5" stroke-width="0.8"/><polygon points="1499.4,597.1 1506.1,598.9 1506.1,601.6 1499.4,599.7" fill="#999999" stroke="#999999" stroke-width="0.8"/><polygon points="1499.4,599.7 1506.1,601.6 1506.2,604.3 1499.4,602.3" fill="#7f7f7f" stroke="#7f7f7f" stroke-width="0.8"/><polygon points="1505.8,582.8 1512.6,584.1 1512.6,586.8 1505.9,585.5" fill="#717171" stroke="#717171" stroke-width="0.8"/><polygon points="1505.9,585.5 1512.6,586.8 1512.7,589.6 1505.9,588.2" fill="#a7a7a7" stroke="#a7a7a7" stroke-width="0.8"/><polygon points="1505.9,588.2 1512.7,589.6 1512.7,592.3 1506.0,590.9" fill="#bdbdbd" stroke="#bdbdbd" stroke-width="0.8"/><polygon points="1506.0,590.9 1512.7,592.3 1512.8,595.1 1506.0,593.5" fill="#afafaf" stroke="#afafaf" stroke-width="0.8"/><polygon points="1506.0,593.5 1512.8,595.1 1512.8,597.9 1506.1,596.2" fill="#acacac" stroke="#acacac" stroke-width="0.8"/><polygon points="1506.1,596.2 1512.8,597.9 1512.9,600.6 1506.1,598.9" fill="#a7a7a7" stroke="#a7a7a7" stroke-width="0.8"/><polygon points="1506.1,598.9 1512.9,600.6 1512.9,603.4 1506.1,601.6" fill="#979797" stroke="#979797" stroke-width="0.8"/><polygon points="1506.1,601.6 1512.9,603.4 1513.0,606.1 1506.2,604.3" fill="#929292" stroke="#929292" stroke-width="0.8"/><polygon points="1512.6,584.1 1519.3,585.3 1519.4,588.1 1512.6,586.8" fill="#6f6f6f" stroke="#6f6f6f" stroke-width="0.8"/><polygon points="1512.6,586.8 1519.4,588.1 1519.4,590.9 1512.7,589.6" fill="#959595" stroke="#959595" stroke-width="0.8"/><polygon points="1512.7,589.6 1519.4,590.9 1519.5,593.7 1512.7,592.3" fill="#a9a9a9" stroke="#a9a9a9" stroke-width="0.8"/><polygon points="1512.7,592.3 1519.5,593.7 1519.5,596.5 1512.8,595.1" fill="#bcbcbc" stroke="#bcbcbc" stroke-width="0.8"/><polygon points="1512.8,595.1 1519.5,596.5 1519.6,599.4 1512.8,597.9" fill="#b3b3b3" stroke="#b3b3b3" stroke-width="0.8"/><polygon points="1512.8,597.9 1519.6,599.4 1519.7,602.2 1512.9,600.6" fill="#afafaf" stroke="#afafaf" stroke-width="0.8"/><polygon points="1512.9,600.6 1519.7,602.2 1519.7,605.0 1512.9,603.4" fill="#9e9e9e" stroke="#9e9e9e" stroke-width="0.8"/><polygon points="1512.9,603.4 1519.7,605.0 1519.8,607.8 1513.0,606.1" fill="#777777" stroke="#777777" stroke-width="0.8"/><polygon points="1519.3,585.3 1526.0,586.4 1526.1,589.3 1519.4,588.1" fill="#656565" stroke="#656565" stroke-width="0.8"/><polygon points="1519.4,588.1 1526.1,589.3 1526.2,592.1 1519.4,590.9" fill="#a4a4a4" stroke="#a4a4a4" stroke-width="0.8"/><polygon points="1519.4,590.9 1526.2,592.1 1526.3,595.0 1519.5,593.7" fill="#b7b7b7" stroke="#b7b7b7" stroke-width="0.8"/><polygon points="1519.5,593.7 1526.3,595.0 1526.3,597.9 1519.5,596.5" fill="#afafaf" stroke="#afafaf" stroke-width="0.8"/><polygon points="1519.5,596.5 1526.3,597.9 1526.4,600.8 1519.6,599.4" fill="#a8a8a8" stroke="#a8a8a8" stroke-width="0.8"/><polygon points="1519.6,599.4 1526.4,600.8 1526.5,603.6 1519.7,602.2" fill="#a1a1a1" stroke="#a1a1a1" stroke-width="0.8"/><polygon points="1519.7,602.2 1526.5,603.6 1526.6,606.5 1519.7,605.0" fill="#afafaf" stroke="#afafaf" stroke-width="0.8"/><polygon points="1519.7,605.0 1526.6,606.5 1526.6,609.4 1519.8,607.8" fill="#858585" stroke="#858585" stroke-width="0.8"/><polygon points="1526.0,586.4 1532.8,587.4 1532.9,590.3 1526.1,589.3" fill="#6b6b6b" stroke="#6b6b6b" stroke-width="0.8"/><polygon points="1526.1,589.3 1532.9,590.3 1533.0,593.3 1526.2,592.1" fill="#ababab" stroke="#ababab" stroke-width="0.8"/><polygon points="1526.2,592.1 1533.0,593.3 1533.1,596.2 1526.3,595.0" fill="#a2a2a2" stroke="#a2a2a2" stroke-width="0.8"/><polygon points="1526.3,595.0 1533.1,596.2 1533.2,599.1 1526.3,597.9" fill="#b3b3b3" stroke="#b3b3b3" stroke-width="0.8"/><polygon points="1526.3,597.9 1533.2,599.1 1533.2,602.0 1526.4,600.8" fill="#9d9d9d" stroke="#9d9d9d" stroke-width="0.8"/><polygon points="1526.4,600.8 1533.2,602.0 1533.3,604.9 1526.5,603.6" fill="#979797" stroke="#979797" stroke-width="0.8"/><polygon points="1526.5,603.6 1533.3,604.9 1533.4,607.8 1526.6,606.5" fill="#8d8d8d" stroke="#8d8d8d" stroke-width="0.8"/><polygon points="1526.6,606.5 1533.4,607.8 1533.5,610.8 1526.6,609.4" fill="#848484" stroke="#848484" stroke-width="0.8"/><polygon points="1532.8,587.4 1539.6,588.3 1539.7,591.3 1532.9,590.3" fill="#616161" stroke="#616161" stroke-width="0.8"/><polygon points="1532.9,590.3 1539.7,591.3 1539.8,594.3 1533.0,593.3" fill="#9d9d9d" stroke="#9d9d9d" stroke-width="0.8"/><polygon points="1533.0,593.3 1539.8,594.3 1539.9,597.2 1533.1,596.2" fill="#c1c1c1" stroke="#c1c1c1" stroke-width="0.8"/><polygon points="1533.1,596.2 1539.9,597.2 1540.0,600.2 1533.2,599.1" fill="#a5a5a5" stroke="#a5a5a5" stroke-width="0.8"/><polygon points="1533.2,599.1 1540.0,600.2 1540.1,603.1 1533.2,602.0" fill="#959595" stroke="#959595" stroke-width="0.8"/><polygon points="1533.2,602.0 1540.1,603.1 1540.2,606.1 1533.3,604.9" fill="#a3a3a3" stroke="#a3a3a3" stroke-width="0.8"/><polygon points="1533.3,604.9 1540.2,606.1 1540.3,609.1 1533.4,607.8" fill="#9c9c9c" stroke="#9c9c9c" stroke-width="0.8"/><polygon points="1533.4,607.8 1540.3,609.1 1540.4,612.0 1533.5,610.8" fill="#7f7f7f" stroke="#7f7f7f" stroke-width="0.8"/><polygon points="1539.6,588.3 1546.4,589.1 1546.5,592.1 1539.7,591.3" fill="#7e7e7e" stroke="#7e7e7e" stroke-width="0.8"/><polygon points="1539.7,591.3 1546.5,592.1 1546.6,595.1 1539.8,594.3" fill="#909090" stroke="#909090" stroke-width="0.8"/><polygon points="1539.8,594.3 1546.6,595.1 1546.7,598.1 1539.9,597.2" fill="#ababab" stroke="#ababab" stroke-width="0.8"/><polygon points="1539.9,597.2 1546.7,598.1 1546.9,601.1 1540.0,600.2" fill="#aaaaaa" stroke="#aaaaaa" stroke-width="0.8"/><polygon points="1540.0,600.2 1546.9,601.1 1547.0,604.1 1540.1,603.1" fill="#8f8f8f" stroke="#8f8f8f" stroke-width="0.8"/><polygon points="1540.1,603.1 1547.0,604.1 1547.1,607.1 1540.2,606.1" fill="#aeaeae" stroke="#aeaeae" stroke-width="0.8"/><polygon points="1540.2,606.1 1547.1,607.1 1547.2,610.1 1540.3,609.1" fill="#a6a6a6" stroke="#a6a6a6" stroke-width="0.8"/><polygon points="1540.3,609.1 1547.2,610.1 1547.4,613.1 1540.4,612.0" fill="#818181" stroke="#818181" stroke-width="0.8"/><polygon points="1546.4,589.1 1553.2,589.8 1553.3,592.8 1546.5,592.1" fill="#616161" stroke="#616161" stroke-width="0.8"/><polygon points="1546.5,592.1 1553.3,592.8 1553.4,595.9 1546.6,595.1" fill="#a8a8a8" stroke="#a8a8a8" stroke-width="0.8"/><polygon points="1546.6,595.1 1553.4,595.9 1553.6,598.9 1546.7,598.1" fill="#bababa" stroke="#bababa" stroke-width="0.8"/><polygon points="1546.7,598.1 1553.6,598.9 1553.7,601.9 1546.9,601.1" fill="#b0b0b0" stroke="#b0b0b0" stroke-width="0.8"/><polygon points="1546.9,601.1 1553.7,601.9 1553.9,605.0 1547.0,604.1" fill="#a8a8a8" stroke="#a8a8a8" stroke-width="0.8"/><polygon points="1547.0,604.1 1553.9,605.0 1554.0,608.0 1547.1,607.1" fill="#9e9e9e" stroke="#9e9e9e" stroke-width="0.8"/><polygon points="1547.1,607.1 1554.0,608.0 1554.2,611.1 1547.2,610.1" fill="#929292" stroke="#929292" stroke-width="0.8"/><polygon points="1547.2,610.1 1554.2,611.1 1554.3,614.1 1547.4,613.1" fill="#6b6b6b" stroke="#6b6b6b" stroke-width="0.8"/><polygon points="1553.2,589.8 1560.0,590.3 1560.1,593.4 1553.3,592.8" fill="#696969" stroke="#696969" stroke-width="0.8"/><polygon points="1553.3,592.8 1560.1,593.4 1560.3,596.4 1553.4,595.9" fill="#8b8b8b" stroke="#8b8b8b" stroke-width="0.8"/><polygon points="1553.4,595.9 1560.3,596.4 1560.5,599.5 1553.6,598.9" fill="#acacac" stroke="#acacac" stroke-width="0.8"/><polygon points="1553.6,598.9 1560.5,599.5 1560.6,602.6 1553.7,601.9" fill="#bababa" stroke="#bababa" stroke-width="0.8"/><polygon points="1553.7,601.9 1560.6,602.6 1560.8,605.7 1553.9,605.0" fill="#a7a7a7" stroke="#a7a7a7" stroke-width="0.8"/><polygon points="1553.9,605.0 1560.8,605.7 1561.0,608.8 1554.0,608.0" fill="#acacac" stroke="#acacac" stroke-width="0.8"/><polygon points="1554.0,608.0 1561.0,608.8 1561.1,611.9 1554.2,611.1" fill="#a4a4a4" stroke="#a4a4a4" stroke-width="0.8"/><polygon points="1554.2,611.1 1561.1,611.9 1561.3,614.9 1554.3,614.1" fill="#717171" stroke="#717171" stroke-width="0.8"/><polygon points="1560.0,590.3 1566.8,590.6 1567.0,593.8 1560.1,593.4" fill="#757575" stroke="#757575" stroke-width="0.8"/><polygon points="1560.1,593.4 1567.0,593.8 1567.2,596.9 1560.3,596.4" fill="#999999" stroke="#999999" stroke-width="0.8"/><polygon points="1560.3,596.4 1567.2,596.9 1567.4,600.0 1560.5,599.5" fill="#bcbcbc" stroke="#bcbcbc" stroke-width="0.8"/><polygon points="1560.5,599.5 1567.4,600.0 1567.5,603.1 1560.6,602.6" fill="#b2b2b2" stroke="#b2b2b2" stroke-width="0.8"/><polygon points="1560.6,602.6 1567.5,603.1 1567.7,606.3 1560.8,605.7" fill="#979797" stroke="#979797" stroke-width="0.8"/><polygon points="1560.8,605.7 1567.7,606.3 1567.9,609.4 1561.0,608.8" fill="#a5a5a5" stroke="#a5a5a5" stroke-width="0.8"/><polygon points="1561.0,608.8 1567.9,609.4 1568.1,612.5 1561.1,611.9" fill="#adadad" stroke="#adadad" stroke-width="0.8"/><polygon points="1561.1,611.9 1568.1,612.5 1568.3,615.6 1561.3,614.9" fill="#6f6f6f" stroke="#6f6f6f" stroke-width="0.8"/><polygon points="1566.8,590.6 1573.6,590.8 1573.8,594.0 1567.0,593.8" fill="#808080" stroke="#808080" stroke-width="0.8"/><polygon points="1567.0,593.8 1573.8,594.0 1574.0,597.2 1567.2,596.9" fill="#8a8a8a" stroke="#8a8a8a" stroke-width="0.8"/><polygon points="1567.2,596.9 1574.0,597.2 1574.2,600.3 1567.4,600.0" fill="#a9a9a9" stroke="#a9a9a9" stroke-width="0.8"/><polygon points="1567.4,600.0 1574.2,600.3 1574.5,603.5 1567.5,603.1" fill="#a8a8a8" stroke="#a8a8a8" stroke-width="0.8"/><polygon points="1567.5,603.1 1574.5,603.5 1574.7,606.7 1567.7,606.3" fill="#a8a8a8" stroke="#a8a8a8" stroke-width="0.8"/><polygon points="1567.7,606.3 1574.7,606.7 1574.9,609.8 1567.9,609.4" fill="#b0b0b0" stroke="#b0b0b0" stroke-width="0.8"/><polygon points="1567.9,609.4 1574.9,609.8 1575.1,613.0 1568.1,612.5" fill="#a5a5a5" stroke="#a5a5a5" stroke-width="0.8"/><polygon points="1568.1,612.5 1575.1,613.0 1575.3,616.2 1568.3,615.6" fill="#737373" stroke="#737373" stroke-width="0.8"/><polygon points="1573.6,590.8 1580.5,590.9 1580.7,594.1 1573.8,594.0" fill="#808080" stroke="#808080" stroke-width="0.8"/><polygon points="1573.8,594.0 1580.7,594.1 1580.9,597.3 1574.0,597.2" fill="#959595" stroke="#959595" stroke-width="0.8"/><polygon points="1574.0,597.2 1580.9,597.3 1581.1,600.5 1574.2,600.3" fill="#a8a8a8" stroke="#a8a8a8" stroke-width="0.8"/><polygon points="1574.2,600.3 1581.1,600.5 1581.4,603.7 1574.5,603.5" fill="#c0c0c0" stroke="#c0c0c0" stroke-width="0.8"/><polygon points="1574.5,603.5 1581.4,603.7 1581.6,606.9 1574.7,606.7" fill="#a4a4a4" stroke="#a4a4a4" stroke-width="0.8"/><polygon points="1574.7,606.7 1581.6,606.9 1581.8,610.2 1574.9,609.8" fill="#a6a6a6" stroke="#a6a6a6" stroke-width="0.8"/><polygon points="1574.9,609.8 1581.8,610.2 1582.1,613.4 1575.1,613.0" fill="#a2a2a2" stroke="#a2a2a2" stroke-width="0.8"/><polygon points="1575.1,613.0 1582.1,613.4 1582.3,616.6 1575.3,616.2" fill="#8b8b8b" stroke="#8b8b8b" stroke-width="0.8"/><polygon points="1580.5,590.9 1587.3,590.9 1587.6,594.1 1580.7,594.1" fill="#727272" stroke="#727272" stroke-width="0.8"/><polygon points="1580.7,594.1 1587.6,594.1 1587.8,597.3 1580.9,597.3" fill="#a8a8a8" stroke="#a8a8a8" stroke-width="0.8"/><polygon points="1580.9,597.3 1587.8,597.3 1588.0,600.6 1581.1,600.5" fill="#b9b9b9" stroke="#b9b9b9" stroke-width="0.8"/><polygon points="1581.1,600.5 1588.0,600.6 1588.3,603.8 1581.4,603.7" fill="#bebebe" stroke="#bebebe" stroke-width="0.8"/><polygon points="1581.4,603.7 1588.3,603.8 1588.5,607.1 1581.6,606.9" fill="#9d9d9d" stroke="#9d9d9d" stroke-width="0.8"/><polygon points="1581.6,606.9 1588.5,607.1 1588.8,610.3 1581.8,610.2" fill="#a8a8a8" stroke="#a8a8a8" stroke-width="0.8"/><polygon points="1581.8,610.2 1588.8,610.3 1589.0,613.5 1582.1,613.4" fill="#9f9f9f" stroke="#9f9f9f" stroke-width="0.8"/><polygon points="1582.1,613.4 1589.0,613.5 1589.3,616.8 1582.3,616.6" fill="#737373" stroke="#737373" stroke-width="0.8"/><polygon points="1587.3,590.9 1594.1,590.7 1594.4,594.0 1587.6,594.1" fill="#686868" stroke="#686868" stroke-width="0.8"/><polygon points="1587.6,594.1 1594.4,594.0 1594.7,597.2 1587.8,597.3" fill="#a0a0a0" stroke="#a0a0a0" stroke-width="0.8"/><polygon points="1587.8,597.3 1594.7,597.2 1595.0,600.5 1588.0,600.6" fill="#a2a2a2" stroke="#a2a2a2" stroke-width="0.8"/><polygon points="1588.0,600.6 1595.0,600.5 1595.2,603.8 1588.3,603.8" fill="#c0c0c0" stroke="#c0c0c0" stroke-width="0.8"/><polygon points="1588.3,603.8 1595.2,603.8 1595.5,607.0 1588.5,607.1" fill="#939393" stroke="#939393" stroke-width="0.8"/><polygon points="1588.5,607.1 1595.5,607.0 1595.8,610.3 1588.8,610.3" fill="#8e8e8e" stroke="#8e8e8e" stroke-width="0.8"/><polygon points="1588.8,610.3 1595.8,610.3 1596.0,613.6 1589.0,613.5" fill="#8e8e8e" stroke="#8e8e8e" stroke-width="0.8"/><polygon points="1589.0,613.5 1596.0,613.6 1596.3,616.8 1589.3,616.8" fill="#898989" stroke="#898989" stroke-width="0.8"/><polygon points="1594.1,590.7 1601.0,590.4 1601.3,593.7 1594.4,594.0" fill="#6d6d6d" stroke="#6d6d6d" stroke-width="0.8"/><polygon points="1594.4,594.0 1601.3,593.7 1601.6,597.0 1594.7,597.2" fill="#8f8f8f" stroke="#8f8f8f" stroke-width="0.8"/><polygon points="1594.7,597.2 1601.6,597.0 1601.9,600.3 1595.0,600.5" fill="#a1a1a1" stroke="#a1a1a1" stroke-width="0.8"/><polygon points="1595.0,600.5 1601.9,600.3 1602.2,603.6 1595.2,603.8" fill="#a1a1a1" stroke="#a1a1a1" stroke-width="0.8"/><polygon points="1595.2,603.8 1602.2,603.6 1602.4,606.9 1595.5,607.0" fill="#a6a6a6" stroke="#a6a6a6" stroke-width="0.8"/><polygon points="1595.5,607.0 1602.4,606.9 1602.7,610.2 1595.8,610.3" fill="#a4a4a4" stroke="#a4a4a4" stroke-width="0.8"/><polygon points="1595.8,610.3 1602.7,610.2 1603.0,613.4 1596.0,613.6" fill="#a3a3a3" stroke="#a3a3a3" stroke-width="0.8"/><polygon points="1596.0,613.6 1603.0,613.4 1603.3,616.7 1596.3,616.8" fill="#828282" stroke="#828282" stroke-width="0.8"/><polygon points="1601.0,590.4 1607.8,590.0 1608.1,593.3 1601.3,593.7" fill="#636363" stroke="#636363" stroke-width="0.8"/><polygon points="1601.3,593.7 1608.1,593.3 1608.4,596.6 1601.6,597.0" fill="#9f9f9f" stroke="#9f9f9f" stroke-width="0.8"/><polygon points="1601.6,597.0 1608.4,596.6 1608.8,600.0 1601.9,600.3" fill="#adadad" stroke="#adadad" stroke-width="0.8"/><polygon points="1601.9,600.3 1608.8,600.0 1609.1,603.3 1602.2,603.6" fill="#bdbdbd" stroke="#bdbdbd" stroke-width="0.8"/><polygon points="1602.2,603.6 1609.1,603.3 1609.4,606.6 1602.4,606.9" fill="#ababab" stroke="#ababab" stroke-width="0.8"/><polygon points="1602.4,606.9 1609.4,606.6 1609.7,609.9 1602.7,610.2" fill="#aeaeae" stroke="#aeaeae" stroke-width="0.8"/><polygon points="1602.7,610.2 1609.7,609.9 1610.0,613.2 1603.0,613.4" fill="#8c8c8c" stroke="#8c8c8c" stroke-width="0.8"/><polygon points="1603.0,613.4 1610.0,613.2 1610.4,616.5 1603.3,616.7" fill="#878787" stroke="#878787" stroke-width="0.8"/><polygon points="1607.8,590.0 1614.6,589.5 1615.0,592.9 1608.1,593.3" fill="#828282" stroke="#828282" stroke-width="0.8"/><polygon points="1608.1,593.3 1615.0,592.9 1615.3,596.2 1608.4,596.6" fill="#ababab" stroke="#ababab" stroke-width="0.8"/><polygon points="1608.4,596.6 1615.3,596.2 1615.6,599.5 1608.8,600.0" fill="#a3a3a3" stroke="#a3a3a3" stroke-width="0.8"/><polygon points="1608.8,600.0 1615.6,599.5 1616.0,602.8 1609.1,603.3" fill="#a7a7a7" stroke="#a7a7a7" stroke-width="0.8"/><polygon points="1609.1,603.3 1616.0,602.8 1616.3,606.1 1609.4,606.6" fill="#929292" stroke="#929292" stroke-width="0.8"/><polygon points="1609.4,606.6 1616.3,606.1 1616.7,609.4 1609.7,609.9" fill="#8f8f8f" stroke="#8f8f8f" stroke-width="0.8"/><polygon points="1609.7,609.9 1616.7,609.4 1617.0,612.7 1610.0,613.2" fill="#a9a9a9" stroke="#a9a9a9" stroke-width="0.8"/><polygon points="1610.0,613.2 1617.0,612.7 1617.4,616.0 1610.4,616.5" fill="#858585" stroke="#858585" stroke-width="0.8"/><polygon points="1614.6,589.5 1621.4,588.9 1621.8,592.2 1615.0,592.9" fill="#787878" stroke="#787878" stroke-width="0.8"/><polygon points="1615.0,592.9 1621.8,592.2 1622.2,595.5 1615.3,596.2" fill="#a7a7a7" stroke="#a7a7a7" stroke-width="0.8"/><polygon points="1615.3,596.2 1622.2,595.5 1622.5,598.9 1615.6,599.5" fill="#b6b6b6" stroke="#b6b6b6" stroke-width="0.8"/><polygon points="1615.6,599.5 1622.5,598.9 1622.9,602.2 1616.0,602.8" fill="#aaaaaa" stroke="#aaaaaa" stroke-width="0.8"/><polygon points="1616.0,602.8 1622.9,602.2 1623.3,605.5 1616.3,606.1" fill="#919191" stroke="#919191" stroke-width="0.8"/><polygon points="1616.3,606.1 1623.3,605.5 1623.6,608.8 1616.7,609.4" fill="#919191" stroke="#919191" stroke-width="0.8"/><polygon points="1616.7,609.4 1623.6,608.8 1624.0,612.1 1617.0,612.7" fill="#a5a5a5" stroke="#a5a5a5" stroke-width="0.8"/><polygon points="1617.0,612.7 1624.0,612.1 1624.4,615.4 1617.4,616.0" fill="#6f6f6f" stroke="#6f6f6f" stroke-width="0.8"/><polygon points="1621.4,588.9 1628.2,588.2 1628.6,591.5 1621.8,592.2" fill="#6c6c6c" stroke="#6c6c6c" stroke-width="0.8"/><polygon points="1621.8,592.2 1628.6,591.5 1629.0,594.8 1622.2,595.5" fill="#999999" stroke="#999999" stroke-width="0.8"/><polygon points="1622.2,595.5 1629.0,594.8 1629.4,598.1 1622.5,598.9" fill="#a0a0a0" stroke="#a0a0a0" stroke-width="0.8"/><polygon points="1622.5,598.9 1629.4,598.1 1629.8,601.4 1622.9,602.2" fill="#a9a9a9" stroke="#a9a9a9" stroke-width="0.8"/><polygon points="1622.9,602.2 1629.8,601.4 1630.2,604.7 1623.3,605.5" fill="#989898" stroke="#989898" stroke-width="0.8"/><polygon points="1623.3,605.5 1630.2,604.7 1630.5,608.0 1623.6,608.8" fill="#a7a7a7" stroke="#a7a7a7" stroke-width="0.8"/><polygon points="1623.6,608.8 1630.5,608.0 1630.9,611.3 1624.0,612.1" fill="#979797" stroke="#979797" stroke-width="0.8"/><polygon points="1624.0,612.1 1630.9,611.3 1631.3,614.6 1624.4,615.4" fill="#737373" stroke="#737373" stroke-width="0.8"/><polygon points="1628.2,588.2 1635.0,587.2 1635.4,590.5 1628.6,591.5" fill="#848484" stroke="#848484" stroke-width="0.8"/><polygon points="1628.6,591.5 1635.4,590.5 1635.8,593.8 1629.0,594.8" fill="#9c9c9c" stroke="#9c9c9c" stroke-width="0.8"/><polygon points="1629.0,594.8 1635.8,593.8 1636.2,597.1 1629.4,598.1" fill="#bebebe" stroke="#bebebe" stroke-width="0.8"/><polygon points="1629.4,598.1 1636.2,597.1 1636.6,600.4 1629.8,601.4" fill="#b6b6b6" stroke="#b6b6b6" stroke-width="0.8"/><polygon points="1629.8,601.4 1636.6,600.4 1637.0,603.7 1630.2,604.7" fill="#8f8f8f" stroke="#8f8f8f" stroke-width="0.8"/><polygon points="1630.2,604.7 1637.0,603.7 1637.4,607.0 1630.5,608.0" fill="#9c9c9c" stroke="#9c9c9c" stroke-width="0.8"/><polygon points="1630.5,608.0 1637.4,607.0 1637.9,610.3 1630.9,611.3" fill="#9a9a9a" stroke="#9a9a9a" stroke-width="0.8"/><polygon points="1630.9,611.3 1637.9,610.3 1638.3,613.6 1631.3,614.6" fill="#848484" stroke="#848484" stroke-width="0.8"/><polygon points="1635.0,587.2 1641.7,586.1 1642.1,589.3 1635.4,590.5" fill="#6e6e6e" stroke="#6e6e6e" stroke-width="0.8"/><polygon points="1635.4,590.5 1642.1,589.3 1642.6,592.6 1635.8,593.8" fill="#a4a4a4" stroke="#a4a4a4" stroke-width="0.8"/><polygon points="1635.8,593.8 1642.6,592.6 1643.0,595.9 1636.2,597.1" fill="#b4b4b4" stroke="#b4b4b4" stroke-width="0.8"/><polygon points="1636.2,597.1 1643.0,595.9 1643.4,599.2 1636.6,600.4" fill="#a8a8a8" stroke="#a8a8a8" stroke-width="0.8"/><polygon points="1636.6,600.4 1643.4,599.2 1643.9,602.5 1637.0,603.7" fill="#aeaeae" stroke="#aeaeae" stroke-width="0.8"/><polygon points="1637.0,603.7 1643.9,602.5 1644.3,605.8 1637.4,607.0" fill="#929292" stroke="#929292" stroke-width="0.8"/><polygon points="1637.4,607.0 1644.3,605.8 1644.7,609.1 1637.9,610.3" fill="#a9a9a9" stroke="#a9a9a9" stroke-width="0.8"/><polygon points="1637.9,610.3 1644.7,609.1 1645.2,612.4 1638.3,613.6" fill="#6f6f6f" stroke="#6f6f6f" stroke-width="0.8"/><polygon points="1641.7,586.1 1648.4,584.7 1648.8,587.9 1642.1,589.3" fill="#636363" stroke="#636363" stroke-width="0.8"/><polygon points="1642.1,589.3 1648.8,587.9 1649.3,591.2 1642.6,592.6" fill="#939393" stroke="#939393" stroke-width="0.8"/><polygon points="1642.6,592.6 1649.3,591.2 1649.7,594.5 1643.0,595.9" fill="#bdbdbd" stroke="#bdbdbd" stroke-width="0.8"/><polygon points="1643.0,595.9 1649.7,594.5 1650.2,597.8 1643.4,599.2" fill="#c5c5c5" stroke="#c5c5c5" stroke-width="0.8"/><polygon points="1643.4,599.2 1650.2,597.8 1650.7,601.1 1643.9,602.5" fill="#909090" stroke="#909090" stroke-width="0.8"/><polygon points="1643.9,602.5 1650.7,601.1 1651.1,604.4 1644.3,605.8" fill="#a1a1a1" stroke="#a1a1a1" stroke-width="0.8"/><polygon points="1644.3,605.8 1651.1,604.4 1651.6,607.7 1644.7,609.1" fill="#9e9e9e" stroke="#9e9e9e" stroke-width="0.8"/><polygon points="1644.7,609.1 1651.6,607.7 1652.0,611.0 1645.2,612.4" fill="#878787" stroke="#878787" stroke-width="0.8"/><polygon points="1648.4,584.7 1655.0,583.0 1655.5,586.3 1648.8,587.9" fill="#6b6b6b" stroke="#6b6b6b" stroke-width="0.8"/><polygon points="1648.8,587.9 1655.5,586.3 1656.0,589.6 1649.3,591.2" fill="#9f9f9f" stroke="#9f9f9f" stroke-width="0.8"/><polygon points="1649.3,591.2 1656.0,589.6 1656.4,592.9 1649.7,594.5" fill="#afafaf" stroke="#afafaf" stroke-width="0.8"/><polygon points="1649.7,594.5 1656.4,592.9 1656.9,596.2 1650.2,597.8" fill="#c1c1c1" stroke="#c1c1c1" stroke-width="0.8"/><polygon points="1650.2,597.8 1656.9,596.2 1657.4,599.5 1650.7,601.1" fill="#9a9a9a" stroke="#9a9a9a" stroke-width="0.8"/><polygon points="1650.7,601.1 1657.4,599.5 1657.9,602.8 1651.1,604.4" fill="#b3b3b3" stroke="#b3b3b3" stroke-width="0.8"/><polygon points="1651.1,604.4 1657.9,602.8 1658.4,606.0 1651.6,607.7" fill="#989898" stroke="#989898" stroke-width="0.8"/><polygon points="1651.6,607.7 1658.4,606.0 1658.9,609.3 1652.0,611.0" fill="#737373" stroke="#737373" stroke-width="0.8"/><polygon points="1655.0,583.0 1661.5,581.1 1662.0,584.4 1655.5,586.3" fill="#7f7f7f" stroke="#7f7f7f" stroke-width="0.8"/><polygon points="1655.5,586.3 1662.0,584.4 1662.6,587.7 1656.0,589.6" fill="#a0a0a0" stroke="#a0a0a0" stroke-width="0.8"/><polygon points="1656.0,589.6 1662.6,587.7 1663.1,591.0 1656.4,592.9" fill="#a8a8a8" stroke="#a8a8a8" stroke-width="0.8"/><polygon points="1656.4,592.9 1663.1,591.0 1663.6,594.3 1656.9,596.2" fill="#bbbbbb" stroke="#bbbbbb" stroke-width="0.8"/><polygon points="1656.9,596.2 1663.6,594.3 1664.1,597.6 1657.4,599.5" fill="#959595" stroke="#959595" stroke-width="0.8"/><polygon points="1657.4,599.5 1664.1,597.6 1664.6,600.9 1657.9,602.8" fill="#afafaf" stroke="#afafaf" stroke-width="0.8"/><polygon points="1657.9,602.8 1664.6,600.9 1665.1,604.2 1658.4,606.0" fill="#a8a8a8" stroke="#a8a8a8" stroke-width="0.8"/><polygon points="1658.4,606.0 1665.1,604.2 1665.6,607.5 1658.9,609.3" fill="#898989" stroke="#898989" stroke-width="0.8"/><polygon points="1661.5,581.1 1668.0,579.0 1668.6,582.3 1662.0,584.4" fill="#7d7d7d" stroke="#7d7d7d" stroke-width="0.8"/><polygon points="1662.0,584.4 1668.6,582.3 1669.1,585.6 1662.6,587.7" fill="#9c9c9c" stroke="#9c9c9c" stroke-width="0.8"/><polygon points="1662.6,587.7 1669.1,585.6 1669.6,588.9 1663.1,591.0" fill="#b4b4b4" stroke="#b4b4b4" stroke-width="0.8"/><polygon points="1663.1,591.0 1669.6,588.9 1670.2,592.2 1663.6,594.3" fill="#b4b4b4" stroke="#b4b4b4" stroke-width="0.8"/><polygon points="1663.6,594.3 1670.2,592.2 1670.7,595.6 1664.1,597.6" fill="#b3b3b3" stroke="#b3b3b3" stroke-width="0.8"/><polygon points="1664.1,597.6 1670.7,595.6 1671.3,598.9 1664.6,600.9" fill="#969696" stroke="#969696" stroke-width="0.8"/><polygon points="1664.6,600.9 1671.3,598.9 1671.8,602.2 1665.1,604.2" fill="#b0b0b0" stroke="#b0b0b0" stroke-width="0.8"/><polygon points="1665.1,604.2 1671.8,602.2 1672.4,605.5 1665.6,607.5" fill="#6e6e6e" stroke="#6e6e6e" stroke-width="0.8"/><polygon points="1668.0,579.0 1674.4,576.7 1675.0,580.0 1668.6,582.3" fill="#6f6f6f" stroke="#6f6f6f" stroke-width="0.8"/><polygon points="1668.6,582.3 1675.0,580.0 1675.6,583.3 1669.1,585.6" fill="#9a9a9a" stroke="#9a9a9a" stroke-width="0.8"/><polygon points="1669.1,585.6 1675.6,583.3 1676.1,586.6 1669.6,588.9" fill="#c7c7c7" stroke="#c7c7c7" stroke-width="0.8"/><polygon points="1669.6,588.9 1676.1,586.6 1676.7,590.0 1670.2,592.2" fill="#b9b9b9" stroke="#b9b9b9" stroke-width="0.8"/><polygon points="1670.2,592.2 1676.7,590.0 1677.3,593.3 1670.7,595.6" fill="#a2a2a2" stroke="#a2a2a2" stroke-width="0.8"/><polygon points="1670.7,595.6 1677.3,593.3 1677.9,596.6 1671.3,598.9" fill="#b4b4b4" stroke="#b4b4b4" stroke-width="0.8"/><polygon points="1671.3,598.9 1677.9,596.6 1678.4,599.9 1671.8,602.2" fill="#9a9a9a" stroke="#9a9a9a" stroke-width="0.8"/><polygon points="1671.8,602.2 1678.4,599.9 1679.0,603.2 1672.4,605.5" fill="#7f7f7f" stroke="#7f7f7f" stroke-width="0.8"/><polygon points="1674.4,576.7 1680.8,574.2 1681.4,577.5 1675.0,580.0" fill="#7c7c7c" stroke="#7c7c7c" stroke-width="0.8"/><polygon points="1675.0,580.0 1681.4,577.5 1682.0,580.8 1675.6,583.3" fill="#adadad" stroke="#adadad" stroke-width="0.8"/><polygon points="1675.6,583.3 1682.0,580.8 1682.6,584.1 1676.1,586.6" fill="#c3c3c3" stroke="#c3c3c3" stroke-width="0.8"/><polygon points="1676.1,586.6 1682.6,584.1 1683.2,587.5 1676.7,590.0" fill="#bfbfbf" stroke="#bfbfbf" stroke-width="0.8"/><polygon points="1676.7,590.0 1683.2,587.5 1683.8,590.8 1677.3,593.3" fill="#a2a2a2" stroke="#a2a2a2" stroke-width="0.8"/><polygon points="1677.3,593.3 1683.8,590.8 1684.4,594.1 1677.9,596.6" fill="#a2a2a2" stroke="#a2a2a2" stroke-width="0.8"/><polygon points="1677.9,596.6 1684.4,594.1 1685.0,597.4 1678.4,599.9" fill="#989898" stroke="#989898" stroke-width="0.8"/><polygon points="1678.4,599.9 1685.0,597.4 1685.6,600.8 1679.0,603.2" fill="#8e8e8e" stroke="#8e8e8e" stroke-width="0.8"/><polygon points="1680.8,574.2 1687.1,571.5 1687.7,574.8 1681.4,577.5" fill="#828282" stroke="#828282" stroke-width="0.8"/><polygon points="1681.4,577.5 1687.7,574.8 1688.3,578.2 1682.0,580.8" fill="#aeaeae" stroke="#aeaeae" stroke-width="0.8"/><polygon points="1682.0,580.8 1688.3,578.2 1688.9,581.5 1682.6,584.1" fill="#afafaf" stroke="#afafaf" stroke-width="0.8"/><polygon points="1682.6,584.1 1688.9,581.5 1689.6,584.8 1683.2,587.5" fill="#b9b9b9" stroke="#b9b9b9" stroke-width="0.8"/><polygon points="1683.2,587.5 1689.6,584.8 1690.2,588.1 1683.8,590.8" fill="#b3b3b3" stroke="#b3b3b3" stroke-width="0.8"/><polygon points="1683.8,590.8 1690.2,588.1 1690.8,591.4 1684.4,594.1" fill="#acacac" stroke="#acacac" stroke-width="0.8"/><polygon points="1684.4,594.1 1690.8,591.4 1691.4,594.8 1685.0,597.4" fill="#989898" stroke="#989898" stroke-width="0.8"/><polygon points="1685.0,597.4 1691.4,594.8 1692.0,598.1 1685.6,600.8" fill="#828282" stroke="#828282" stroke-width="0.8"/><polygon points="1687.1,571.5 1693.3,568.7 1694.0,572.0 1687.7,574.8" fill="#8b8b8b" stroke="#8b8b8b" stroke-width="0.8"/><polygon points="1687.7,574.8 1694.0,572.0 1694.6,575.3 1688.3,578.2" fill="#9d9d9d" stroke="#9d9d9d" stroke-width="0.8"/><polygon points="1688.3,578.2 1694.6,575.3 1695.2,578.6 1688.9,581.5" fill="#b1b1b1" stroke="#b1b1b1" stroke-width="0.8"/><polygon points="1688.9,581.5 1695.2,578.6 1695.9,581.9 1689.6,584.8" fill="#b5b5b5" stroke="#b5b5b5" stroke-width="0.8"/><polygon points="1689.6,584.8 1695.9,581.9 1696.5,585.2 1690.2,588.1" fill="#b2b2b2" stroke="#b2b2b2" stroke-width="0.8"/><polygon points="1690.2,588.1 1696.5,585.2 1697.1,588.5 1690.8,591.4" fill="#b7b7b7" stroke="#b7b7b7" stroke-width="0.8"/><polygon points="1690.8,591.4 1697.1,588.5 1697.7,591.8 1691.4,594.8" fill="#9a9a9a" stroke="#9a9a9a" stroke-width="0.8"/><polygon points="1691.4,594.8 1697.7,591.8 1698.4,595.1 1692.0,598.1" fill="#787878" stroke="#787878" stroke-width="0.8"/><polygon points="1693.3,568.7 1699.5,565.8 1700.1,569.1 1694.0,572.0" fill="#767676" stroke="#767676" stroke-width="0.8"/><polygon points="1694.0,572.0 1700.1,569.1 1700.8,572.3 1694.6,575.3" fill="#a1a1a1" stroke="#a1a1a1" stroke-width="0.8"/><polygon points="1694.6,575.3 1700.8,572.3 1701.4,575.6 1695.2,578.6" fill="#bebebe" stroke="#bebebe" stroke-width="0.8"/><polygon points="1695.2,578.6 1701.4,575.6 1702.1,578.9 1695.9,581.9" fill="#b1b1b1" stroke="#b1b1b1" stroke-width="0.8"/><polygon points="1695.9,581.9 1702.1,578.9 1702.7,582.1 1696.5,585.2" fill="#a5a5a5" stroke="#a5a5a5" stroke-width="0.8"/><polygon points="1696.5,585.2 1702.7,582.1 1703.3,585.4 1697.1,588.5" fill="#a0a0a0" stroke="#a0a0a0" stroke-width="0.8"/><polygon points="1697.1,588.5 1703.3,585.4 1704.0,588.7 1697.7,591.8" fill="#b9b9b9" stroke="#b9b9b9" stroke-width="0.8"/><polygon points="1697.7,591.8 1704.0,588.7 1704.6,591.9 1698.4,595.1" fill="#8e8e8e" stroke="#8e8e8e" stroke-width="0.8"/><polygon points="1699.5,565.8 1705.6,562.8 1706.3,566.0 1700.1,569.1" fill="#727272" stroke="#727272" stroke-width="0.8"/><polygon points="1700.1,569.1 1706.3,566.0 1706.9,569.2 1700.8,572.3" fill="#b9b9b9" stroke="#b9b9b9" stroke-width="0.8"/><polygon points="1700.8,572.3 1706.9,569.2 1707.5,572.4 1701.4,575.6" fill="#b0b0b0" stroke="#b0b0b0" stroke-width="0.8"/><polygon points="1701.4,575.6 1707.5,572.4 1708.2,575.6 1702.1,578.9" fill="#bababa" stroke="#bababa" stroke-width="0.8"/><polygon points="1702.1,578.9 1708.2,575.6 1708.8,578.8 1702.7,582.1" fill="#bebebe" stroke="#bebebe" stroke-width="0.8"/><polygon points="1702.7,582.1 1708.8,578.8 1709.4,582.0 1703.3,585.4" fill="#b7b7b7" stroke="#b7b7b7" stroke-width="0.8"/><polygon points="1703.3,585.4 1709.4,582.0 1710.1,585.2 1704.0,588.7" fill="#b2b2b2" stroke="#b2b2b2" stroke-width="0.8"/><polygon points="1704.0,588.7 1710.1,585.2 1710.7,588.4 1704.6,591.9" fill="#848484" stroke="#848484" stroke-width="0.8"/><polygon points="1705.6,562.8 1711.7,559.6 1712.3,562.7 1706.3,566.0" fill="#767676" stroke="#767676" stroke-width="0.8"/><polygon points="1706.3,566.0 1712.3,562.7 1712.9,565.9 1706.9,569.2" fill="#afafaf" stroke="#afafaf" stroke-width="0.8"/><polygon points="1706.9,569.2 1712.9,565.9 1713.5,569.0 1707.5,572.4" fill="#b2b2b2" stroke="#b2b2b2" stroke-width="0.8"/><polygon points="1707.5,572.4 1713.5,569.0 1714.2,572.2 1708.2,575.6" fill="#b5b5b5" stroke="#b5b5b5" stroke-width="0.8"/><polygon points="1708.2,575.6 1714.2,572.2 1714.8,575.3 1708.8,578.8" fill="#aaaaaa" stroke="#aaaaaa" stroke-width="0.8"/><polygon points="1708.8,578.8 1714.8,575.3 1715.4,578.5 1709.4,582.0" fill="#9d9d9d" stroke="#9d9d9d" stroke-width="0.8"/><polygon points="1709.4,582.0 1715.4,578.5 1716.0,581.6 1710.1,585.2" fill="#a7a7a7" stroke="#a7a7a7" stroke-width="0.8"/><polygon points="1710.1,585.2 1716.0,581.6 1716.7,584.8 1710.7,588.4" fill="#939393" stroke="#939393" stroke-width="0.8"/><polygon points="1711.7,559.6 1717.6,556.2 1718.2,559.3 1712.3,562.7" fill="#898989" stroke="#898989" stroke-width="0.8"/><polygon points="1712.3,562.7 1718.2,559.3 1718.8,562.4 1712.9,565.9" fill="#ababab" stroke="#ababab" stroke-width="0.8"/><polygon points="1712.9,565.9 1718.8,562.4 1719.4,565.5 1713.5,569.0" fill="#c6c6c6" stroke="#c6c6c6" stroke-width="0.8"/><polygon points="1713.5,569.0 1719.4,565.5 1720.0,568.5 1714.2,572.2" fill="#c0c0c0" stroke="#c0c0c0" stroke-width="0.8"/><polygon points="1714.2,572.2 1720.0,568.5 1720.7,571.6 1714.8,575.3" fill="#a2a2a2" stroke="#a2a2a2" stroke-width="0.8"/><polygon points="1714.8,575.3 1720.7,571.6 1721.3,574.7 1715.4,578.5" fill="#b3b3b3" stroke="#b3b3b3" stroke-width="0.8"/><polygon points="1715.4,578.5 1721.3,574.7 1721.9,577.8 1716.0,581.6" fill="#a8a8a8" stroke="#a8a8a8" stroke-width="0.8"/><polygon points="1716.0,581.6 1721.9,577.8 1722.5,580.8 1716.7,584.8" fill="#929292" stroke="#929292" stroke-width="0.8"/><polygon points="1717.6,556.2 1723.4,552.7 1724.0,555.7 1718.2,559.3" fill="#929292" stroke="#929292" stroke-width="0.8"/><polygon points="1718.2,559.3 1724.0,555.7 1724.6,558.7 1718.8,562.4" fill="#aaaaaa" stroke="#aaaaaa" stroke-width="0.8"/><polygon points="1718.8,562.4 1724.6,558.7 1725.2,561.7 1719.4,565.5" fill="#c5c5c5" stroke="#c5c5c5" stroke-width="0.8"/><polygon points="1719.4,565.5 1725.2,561.7 1725.8,564.7 1720.0,568.5" fill="#cbcbcb" stroke="#cbcbcb" stroke-width="0.8"/><polygon points="1720.0,568.5 1725.8,564.7 1726.4,567.7 1720.7,571.6" fill="#adadad" stroke="#adadad" stroke-width="0.8"/><polygon points="1720.7,571.6 1726.4,567.7 1727.0,570.7 1721.3,574.7" fill="#a7a7a7" stroke="#a7a7a7" stroke-width="0.8"/><polygon points="1721.3,574.7 1727.0,570.7 1727.6,573.7 1721.9,577.8" fill="#b5b5b5" stroke="#b5b5b5" stroke-width="0.8"/><polygon points="1721.9,577.8 1727.6,573.7 1728.2,576.7 1722.5,580.8" fill="#989898" stroke="#989898" stroke-width="0.8"/><polygon points="1723.4,552.7 1729.2,549.0 1729.7,551.9 1724.0,555.7" fill="#8f8f8f" stroke="#8f8f8f" stroke-width="0.8"/><polygon points="1724.0,555.7 1729.7,551.9 1730.3,554.8 1724.6,558.7" fill="#b5b5b5" stroke="#b5b5b5" stroke-width="0.8"/><polygon points="1724.6,558.7 1730.3,554.8 1730.9,557.8 1725.2,561.7" fill="#d0d0d0" stroke="#d0d0d0" stroke-width="0.8"/><polygon points="1725.2,561.7 1730.9,557.8 1731.4,560.7 1725.8,564.7" fill="#cacaca" stroke="#cacaca" stroke-width="0.8"/><polygon points="1725.8,564.7 1731.4,560.7 1732.0,563.7 1726.4,567.7" fill="#b7b7b7" stroke="#b7b7b7" stroke-width="0.8"/><polygon points="1726.4,567.7 1732.0,563.7 1732.6,566.6 1727.0,570.7" fill="#b0b0b0" stroke="#b0b0b0" stroke-width="0.8"/><polygon points="1727.0,570.7 1732.6,566.6 1733.2,569.5 1727.6,573.7" fill="#a7a7a7" stroke="#a7a7a7" stroke-width="0.8"/><polygon points="1727.6,573.7 1733.2,569.5 1733.7,572.5 1728.2,576.7" fill="#909090" stroke="#909090" stroke-width="0.8"/><polygon points="1729.2,549.0 1734.8,545.1 1735.3,547.9 1729.7,551.9" fill="#777777" stroke="#777777" stroke-width="0.8"/><polygon points="1729.7,551.9 1735.3,547.9 1735.9,550.8 1730.3,554.8" fill="#ababab" stroke="#ababab" stroke-width="0.8"/><polygon points="1730.3,554.8 1735.9,550.8 1736.4,553.7 1730.9,557.8" fill="#cecece" stroke="#cecece" stroke-width="0.8"/><polygon points="1730.9,557.8 1736.4,553.7 1737.0,556.6 1731.4,560.7" fill="#cbcbcb" stroke="#cbcbcb" stroke-width="0.8"/><polygon points="1731.4,560.7 1737.0,556.6 1737.5,559.4 1732.0,563.7" fill="#b6b6b6" stroke="#b6b6b6" stroke-width="0.8"/><polygon points="1732.0,563.7 1737.5,559.4 1738.1,562.3 1732.6,566.6" fill="#a9a9a9" stroke="#a9a9a9" stroke-width="0.8"/><polygon points="1732.6,566.6 1738.1,562.3 1738.6,565.2 1733.2,569.5" fill="#acacac" stroke="#acacac" stroke-width="0.8"/><polygon points="1733.2,569.5 1738.6,565.2 1739.2,568.1 1733.7,572.5" fill="#8a8a8a" stroke="#8a8a8a" stroke-width="0.8"/><polygon points="1734.8,545.1 1740.2,541.0 1740.8,543.8 1735.3,547.9" fill="#8a8a8a" stroke="#8a8a8a" stroke-width="0.8"/><polygon points="1735.3,547.9 1740.8,543.8 1741.3,546.6 1735.9,550.8" fill="#ababab" stroke="#ababab" stroke-width="0.8"/><polygon points="1735.9,550.8 1741.3,546.6 1741.9,549.4 1736.4,553.7" fill="#cacaca" stroke="#cacaca" stroke-width="0.8"/><polygon points="1736.4,553.7 1741.9,549.4 1742.4,552.3 1737.0,556.6" fill="#d4d4d4" stroke="#d4d4d4" stroke-width="0.8"/><polygon points="1737.0,556.6 1742.4,552.3 1742.9,555.1 1737.5,559.4" fill="#a7a7a7" stroke="#a7a7a7" stroke-width="0.8"/><polygon points="1737.5,559.4 1742.9,555.1 1743.5,557.9 1738.1,562.3" fill="#b8b8b8" stroke="#b8b8b8" stroke-width="0.8"/><polygon points="1738.1,562.3 1743.5,557.9 1744.0,560.7 1738.6,565.2" fill="#b9b9b9" stroke="#b9b9b9" stroke-width="0.8"/><polygon points="1738.6,565.2 1744.0,560.7 1744.6,563.5 1739.2,568.1" fill="#888888" stroke="#888888" stroke-width="0.8"/><polygon points="1740.2,541.0 1745.6,536.8 1746.1,539.5 1740.8,543.8" fill="#858585" stroke="#858585" stroke-width="0.8"/><polygon points="1740.8,543.8 1746.1,539.5 1746.7,542.3 1741.3,546.6" fill="#bfbfbf" stroke="#bfbfbf" stroke-width="0.8"/><polygon points="1741.3,546.6 1746.7,542.3 1747.2,545.1 1741.9,549.4" fill="#b4b4b4" stroke="#b4b4b4" stroke-width="0.8"/><polygon points="1741.9,549.4 1747.2,545.1 1747.7,547.9 1742.4,552.3" fill="#c6c6c6" stroke="#c6c6c6" stroke-width="0.8"/><polygon points="1742.4,552.3 1747.7,547.9 1748.3,550.6 1742.9,555.1" fill="#a6a6a6" stroke="#a6a6a6" stroke-width="0.8"/><polygon points="1742.9,555.1 1748.3,550.6 1748.8,553.4 1743.5,557.9" fill="#bcbcbc" stroke="#bcbcbc" stroke-width="0.8"/><polygon points="1743.5,557.9 1748.8,553.4 1749.3,556.2 1744.0,560.7" fill="#bfbfbf" stroke="#bfbfbf" stroke-width="0.8"/><polygon points="1744.0,560.7 1749.3,556.2 1749.9,558.9 1744.6,563.5" fill="#8d8d8d" stroke="#8d8d8d" stroke-width="0.8"/><polygon points="1745.6,536.8 1750.9,532.5 1751.4,535.2 1746.1,539.5" fill="#787878" stroke="#787878" stroke-width="0.8"/><polygon points="1746.1,539.5 1751.4,535.2 1752.0,537.9 1746.7,542.3" fill="#b1b1b1" stroke="#b1b1b1" stroke-width="0.8"/><polygon points="1746.7,542.3 1752.0,537.9 1752.5,540.6 1747.2,545.1" fill="#c6c6c6" stroke="#c6c6c6" stroke-width="0.8"/><polygon points="1747.2,545.1 1752.5,540.6 1753.0,543.4 1747.7,547.9" fill="#cccccc" stroke="#cccccc" stroke-width="0.8"/><polygon points="1747.7,547.9 1753.0,543.4 1753.5,546.1 1748.3,550.6" fill="#b3b3b3" stroke="#b3b3b3" stroke-width="0.8"/><polygon points="1748.3,550.6 1753.5,546.1 1754.1,548.8 1748.8,553.4" fill="#b8b8b8" stroke="#b8b8b8" stroke-width="0.8"/><polygon points="1748.8,553.4 1754.1,548.8 1754.6,551.5 1749.3,556.2" fill="#bbbbbb" stroke="#bbbbbb" stroke-width="0.8"/><polygon points="1749.3,556.2 1754.6,551.5 1755.1,554.3 1749.9,558.9" fill="#8e8e8e" stroke="#8e8e8e" stroke-width="0.8"/><polygon points="1750.9,532.5 1756.1,528.1 1756.7,530.7 1751.4,535.2" fill="#838383" stroke="#838383" stroke-width="0.8"/><polygon points="1751.4,535.2 1756.7,530.7 1757.2,533.4 1752.0,537.9" fill="#bfbfbf" stroke="#bfbfbf" stroke-width="0.8"/><polygon points="1752.0,537.9 1757.2,533.4 1757.7,536.1 1752.5,540.6" fill="#bababa" stroke="#bababa" stroke-width="0.8"/><polygon points="1752.5,540.6 1757.7,536.1 1758.2,538.8 1753.0,543.4" fill="#cbcbcb" stroke="#cbcbcb" stroke-width="0.8"/><polygon points="1753.0,543.4 1758.2,538.8 1758.8,541.5 1753.5,546.1" fill="#afafaf" stroke="#afafaf" stroke-width="0.8"/><polygon points="1753.5,546.1 1758.8,541.5 1759.3,544.2 1754.1,548.8" fill="#bcbcbc" stroke="#bcbcbc" stroke-width="0.8"/><polygon points="1754.1,548.8 1759.3,544.2 1759.8,546.8 1754.6,551.5" fill="#a2a2a2" stroke="#a2a2a2" stroke-width="0.8"/><polygon points="1754.6,551.5 1759.8,546.8 1760.3,549.5 1755.1,554.3" fill="#9e9e9e" stroke="#9e9e9e" stroke-width="0.8"/><polygon points="1756.1,528.1 1761.3,523.6 1761.8,526.2 1756.7,530.7" fill="#818181" stroke="#818181" stroke-width="0.8"/><polygon points="1756.7,530.7 1761.8,526.2 1762.4,528.9 1757.2,533.4" fill="#9f9f9f" stroke="#9f9f9f" stroke-width="0.8"/><polygon points="1757.2,533.4 1762.4,528.9 1762.9,531.5 1757.7,536.1" fill="#bdbdbd" stroke="#bdbdbd" stroke-width="0.8"/><polygon points="1757.7,536.1 1762.9,531.5 1763.4,534.2 1758.2,538.8" fill="#c2c2c2" stroke="#c2c2c2" stroke-width="0.8"/><polygon points="1758.2,538.8 1763.4,534.2 1763.9,536.8 1758.8,541.5" fill="#a2a2a2" stroke="#a2a2a2" stroke-width="0.8"/><polygon points="1758.8,541.5 1763.9,536.8 1764.5,539.5 1759.3,544.2" fill="#b0b0b0" stroke="#b0b0b0" stroke-width="0.8"/><polygon points="1759.3,544.2 1764.5,539.5 1765.0,542.1 1759.8,546.8" fill="#adadad" stroke="#adadad" stroke-width="0.8"/><polygon points="1759.8,546.8 1765.0,542.1 1765.5,544.8 1760.3,549.5" fill="#949494" stroke="#949494" stroke-width="0.8"/><polygon points="1761.3,523.6 1766.4,519.1 1767.0,521.7 1761.8,526.2" fill="#818181" stroke="#818181" stroke-width="0.8"/><polygon points="1761.8,526.2 1767.0,521.7 1767.5,524.3 1762.4,528.9" fill="#a7a7a7" stroke="#a7a7a7" stroke-width="0.8"/><polygon points="1762.4,528.9 1767.5,524.3 1768.0,526.9 1762.9,531.5" fill="#bbbbbb" stroke="#bbbbbb" stroke-width="0.8"/><polygon points="1762.9,531.5 1768.0,526.9 1768.6,529.5 1763.4,534.2" fill="#cecece" stroke="#cecece" stroke-width="0.8"/><polygon points="1763.4,534.2 1768.6,529.5 1769.1,532.2 1763.9,536.8" fill="#c3c3c3" stroke="#c3c3c3" stroke-width="0.8"/><polygon points="1763.9,536.8 1769.1,532.2 1769.6,534.8 1764.5,539.5" fill="#b4b4b4" stroke="#b4b4b4" stroke-width="0.8"/><polygon points="1764.5,539.5 1769.6,534.8 1770.1,537.4 1765.0,542.1" fill="#a6a6a6" stroke="#a6a6a6" stroke-width="0.8"/><polygon points="1765.0,542.1 1770.1,537.4 1770.7,540.0 1765.5,544.8" fill="#989898" stroke="#989898" stroke-width="0.8"/><polygon points="1766.4,519.1 1771.5,514.5 1772.1,517.1 1767.0,521.7" fill="#838383" stroke="#838383" stroke-width="0.8"/><polygon points="1767.0,521.7 1772.1,517.1 1772.6,519.7 1767.5,524.3" fill="#a5a5a5" stroke="#a5a5a5" stroke-width="0.8"/><polygon points="1767.5,524.3 1772.6,519.7 1773.1,522.3 1768.0,526.9" fill="#b8b8b8" stroke="#b8b8b8" stroke-width="0.8"/><polygon points="1768.0,526.9 1773.1,522.3 1773.7,524.9 1768.6,529.5" fill="#d0d0d0" stroke="#d0d0d0" stroke-width="0.8"/><polygon points="1768.6,529.5 1773.7,524.9 1774.2,527.4 1769.1,532.2" fill="#bfbfbf" stroke="#bfbfbf" stroke-width="0.8"/><polygon points="1769.1,532.2 1774.2,527.4 1774.7,530.0 1769.6,534.8" fill="#b8b8b8" stroke="#b8b8b8" stroke-width="0.8"/><polygon points="1769.6,534.8 1774.7,530.0 1775.3,532.6 1770.1,537.4" fill="#afafaf" stroke="#afafaf" stroke-width="0.8"/><polygon points="1770.1,537.4 1775.3,532.6 1775.8,535.2 1770.7,540.0" fill="#909090" stroke="#909090" stroke-width="0.8"/><polygon points="1771.5,514.5 1776.6,509.9 1777.1,512.4 1772.1,517.1" fill="#7d7d7d" stroke="#7d7d7d" stroke-width="0.8"/><polygon points="1772.1,517.1 1777.1,512.4 1777.7,515.0 1772.6,519.7" fill="#c1c1c1" stroke="#c1c1c1" stroke-width="0.8"/><polygon points="1772.6,519.7 1777.7,515.0 1778.2,517.6 1773.1,522.3" fill="#c1c1c1" stroke="#c1c1c1" stroke-width="0.8"/><polygon points="1773.1,522.3 1778.2,517.6 1778.8,520.1 1773.7,524.9" fill="#cbcbcb" stroke="#cbcbcb" stroke-width="0.8"/><polygon points="1773.7,524.9 1778.8,520.1 1779.3,522.7 1774.2,527.4" fill="#bfbfbf" stroke="#bfbfbf" stroke-width="0.8"/><polygon points="1774.2,527.4 1779.3,522.7 1779.9,525.3 1774.7,530.0" fill="#bfbfbf" stroke="#bfbfbf" stroke-width="0.8"/><polygon points="1774.7,530.0 1779.9,525.3 1780.4,527.9 1775.3,532.6" fill="#afafaf" stroke="#afafaf" stroke-width="0.8"/><polygon points="1775.3,532.6 1780.4,527.9 1780.9,530.4 1775.8,535.2" fill="#878787" stroke="#878787" stroke-width="0.8"/><polygon points="1776.6,509.9 1781.6,505.2 1782.1,507.7 1777.1,512.4" fill="#898989" stroke="#898989" stroke-width="0.8"/><polygon points="1777.1,512.4 1782.1,507.7 1782.7,510.3 1777.7,515.0" fill="#a3a3a3" stroke="#a3a3a3" stroke-width="0.8"/><polygon points="1777.7,515.0 1782.7,510.3 1783.2,512.8 1778.2,517.6" fill="#d2d2d2" stroke="#d2d2d2" stroke-width="0.8"/><polygon points="1778.2,517.6 1783.2,512.8 1783.8,515.4 1778.8,520.1" fill="#c1c1c1" stroke="#c1c1c1" stroke-width="0.8"/><polygon points="1778.8,520.1 1783.8,515.4 1784.4,517.9 1779.3,522.7" fill="#c1c1c1" stroke="#c1c1c1" stroke-width="0.8"/><polygon points="1779.3,522.7 1784.4,517.9 1784.9,520.5 1779.9,525.3" fill="#acacac" stroke="#acacac" stroke-width="0.8"/><polygon points="1779.9,525.3 1784.9,520.5 1785.5,523.0 1780.4,527.9" fill="#acacac" stroke="#acacac" stroke-width="0.8"/><polygon points="1780.4,527.9 1785.5,523.0 1786.1,525.6 1780.9,530.4" fill="#868686" stroke="#868686" stroke-width="0.8"/><polygon points="1781.6,505.2 1786.5,500.5 1787.1,503.0 1782.1,507.7" fill="#858585" stroke="#858585" stroke-width="0.8"/><polygon points="1782.1,507.7 1787.1,503.0 1787.7,505.5 1782.7,510.3" fill="#a5a5a5" stroke="#a5a5a5" stroke-width="0.8"/><polygon points="1782.7,510.3 1787.7,505.5 1788.2,508.1 1783.2,512.8" fill="#b5b5b5" stroke="#b5b5b5" stroke-width="0.8"/><polygon points="1783.2,512.8 1788.2,508.1 1788.8,510.6 1783.8,515.4" fill="#cecece" stroke="#cecece" stroke-width="0.8"/><polygon points="1783.8,515.4 1788.8,510.6 1789.4,513.1 1784.4,517.9" fill="#adadad" stroke="#adadad" stroke-width="0.8"/><polygon points="1784.4,517.9 1789.4,513.1 1790.0,515.7 1784.9,520.5" fill="#ababab" stroke="#ababab" stroke-width="0.8"/><polygon points="1784.9,520.5 1790.0,515.7 1790.6,518.2 1785.5,523.0" fill="#aaaaaa" stroke="#aaaaaa" stroke-width="0.8"/><polygon points="1785.5,523.0 1790.6,518.2 1791.1,520.7 1786.1,525.6" fill="#8e8e8e" stroke="#8e8e8e" stroke-width="0.8"/><polygon points="1786.5,500.5 1791.4,495.7 1792.0,498.2 1787.1,503.0" fill="#858585" stroke="#858585" stroke-width="0.8"/><polygon points="1787.1,503.0 1792.0,498.2 1792.6,500.7 1787.7,505.5" fill="#b6b6b6" stroke="#b6b6b6" stroke-width="0.8"/><polygon points="1787.7,505.5 1792.6,500.7 1793.2,503.3 1788.2,508.1" fill="#cccccc" stroke="#cccccc" stroke-width="0.8"/><polygon points="1788.2,508.1 1793.2,503.3 1793.8,505.8 1788.8,510.6" fill="#c2c2c2" stroke="#c2c2c2" stroke-width="0.8"/><polygon points="1788.8,510.6 1793.8,505.8 1794.4,508.3 1789.4,513.1" fill="#c4c4c4" stroke="#c4c4c4" stroke-width="0.8"/><polygon points="1789.4,513.1 1794.4,508.3 1795.0,510.8 1790.0,515.7" fill="#c1c1c1" stroke="#c1c1c1" stroke-width="0.8"/><polygon points="1790.0,515.7 1795.0,510.8 1795.6,513.4 1790.6,518.2" fill="#a1a1a1" stroke="#a1a1a1" stroke-width="0.8"/><polygon points="1790.6,518.2 1795.6,513.4 1796.2,515.9 1791.1,520.7" fill="#9b9b9b" stroke="#9b9b9b" stroke-width="0.8"/><polygon points="1791.4,495.7 1796.3,490.9 1796.9,493.4 1792.0,498.2" fill="#979797" stroke="#979797" stroke-width="0.8"/><polygon points="1792.0,498.2 1796.9,493.4 1797.5,495.9 1792.6,500.7" fill="#bbbbbb" stroke="#bbbbbb" stroke-width="0.8"/><polygon points="1792.6,500.7 1797.5,495.9 1798.1,498.4 1793.2,503.3" fill="#bababa" stroke="#bababa" stroke-width="0.8"/><polygon points="1793.2,503.3 1798.1,498.4 1798.8,500.9 1793.8,505.8" fill="#d3d3d3" stroke="#d3d3d3" stroke-width="0.8"/><polygon points="1793.8,505.8 1798.8,500.9 1799.4,503.5 1794.4,508.3" fill="#bababa" stroke="#bababa" stroke-width="0.8"/><polygon points="1794.4,508.3 1799.4,503.5 1800.0,506.0 1795.0,510.8" fill="#a4a4a4" stroke="#a4a4a4" stroke-width="0.8"/><polygon points="1795.0,510.8 1800.0,506.0 1800.6,508.5 1795.6,513.4" fill="#a0a0a0" stroke="#a0a0a0" stroke-width="0.8"/><polygon points="1795.6,513.4 1800.6,508.5 1801.3,511.0 1796.2,515.9" fill="#9f9f9f" stroke="#9f9f9f" stroke-width="0.8"/><polygon points="1796.3,490.9 1801.1,486.0 1801.8,488.5 1796.9,493.4" fill="#8e8e8e" stroke="#8e8e8e" stroke-width="0.8"/><polygon points="1796.9,493.4 1801.8,488.5 1802.4,491.0 1797.5,495.9" fill="#a8a8a8" stroke="#a8a8a8" stroke-width="0.8"/><polygon points="1797.5,495.9 1802.4,491.0 1803.1,493.6 1798.1,498.4" fill="#b9b9b9" stroke="#b9b9b9" stroke-width="0.8"/><polygon points="1798.1,498.4 1803.1,493.6 1803.7,496.1 1798.8,500.9" fill="#bababa" stroke="#bababa" stroke-width="0.8"/><polygon points="1798.8,500.9 1803.7,496.1 1804.4,498.6 1799.4,503.5" fill="#acacac" stroke="#acacac" stroke-width="0.8"/><polygon points="1799.4,503.5 1804.4,498.6 1805.0,501.1 1800.0,506.0" fill="#bfbfbf" stroke="#bfbfbf" stroke-width="0.8"/><polygon points="1800.0,506.0 1805.0,501.1 1805.6,503.6 1800.6,508.5" fill="#acacac" stroke="#acacac" stroke-width="0.8"/><polygon points="1800.6,508.5 1805.6,503.6 1806.3,506.1 1801.3,511.0" fill="#838383" stroke="#838383" stroke-width="0.8"/><polygon points="1801.1,486.0 1805.9,481.2 1806.6,483.7 1801.8,488.5" fill="#979797" stroke="#979797" stroke-width="0.8"/><polygon points="1801.8,488.5 1806.6,483.7 1807.2,486.2 1802.4,491.0" fill="#bcbcbc" stroke="#bcbcbc" stroke-width="0.8"/><polygon points="1802.4,491.0 1807.2,486.2 1807.9,488.7 1803.1,493.6" fill="#bcbcbc" stroke="#bcbcbc" stroke-width="0.8"/><polygon points="1803.1,493.6 1807.9,488.7 1808.6,491.2 1803.7,496.1" fill="#d6d6d6" stroke="#d6d6d6" stroke-width="0.8"/><polygon points="1803.7,496.1 1808.6,491.2 1809.3,493.7 1804.4,498.6" fill="#b9b9b9" stroke="#b9b9b9" stroke-width="0.8"/><polygon points="1804.4,498.6 1809.3,493.7 1809.9,496.1 1805.0,501.1" fill="#c0c0c0" stroke="#c0c0c0" stroke-width="0.8"/><polygon points="1805.0,501.1 1809.9,496.1 1810.6,498.6 1805.6,503.6" fill="#b8b8b8" stroke="#b8b8b8" stroke-width="0.8"/><polygon points="1805.6,503.6 1810.6,498.6 1811.3,501.1 1806.3,506.1" fill="#9e9e9e" stroke="#9e9e9e" stroke-width="0.8"/><polygon points="1805.9,481.2 1810.6,476.2 1811.3,478.7 1806.6,483.7" fill="#939393" stroke="#939393" stroke-width="0.8"/><polygon points="1806.6,483.7 1811.3,478.7 1812.0,481.2 1807.2,486.2" fill="#bebebe" stroke="#bebebe" stroke-width="0.8"/><polygon points="1807.2,486.2 1812.0,481.2 1812.7,483.7 1807.9,488.7" fill="#bdbdbd" stroke="#bdbdbd" stroke-width="0.8"/><polygon points="1807.9,488.7 1812.7,483.7 1813.4,486.2 1808.6,491.2" fill="#cecece" stroke="#cecece" stroke-width="0.8"/><polygon points="1808.6,491.2 1813.4,486.2 1814.1,488.7 1809.3,493.7" fill="#b7b7b7" stroke="#b7b7b7" stroke-width="0.8"/><polygon points="1809.3,493.7 1814.1,488.7 1814.8,491.2 1809.9,496.1" fill="#bebebe" stroke="#bebebe" stroke-width="0.8"/><polygon points="1809.9,496.1 1814.8,491.2 1815.6,493.7 1810.6,498.6" fill="#b0b0b0" stroke="#b0b0b0" stroke-width="0.8"/><polygon points="1810.6,498.6 1815.6,493.7 1816.3,496.2 1811.3,501.1" fill="#9d9d9d" stroke="#9d9d9d" stroke-width="0.8"/><polygon points="1810.6,476.2 1815.3,471.2 1816.0,473.7 1811.3,478.7" fill="#8b8b8b" stroke="#8b8b8b" stroke-width="0.8"/><polygon points="1811.3,478.7 1816.0,473.7 1816.8,476.2 1812.0,481.2" fill="#a9a9a9" stroke="#a9a9a9" stroke-width="0.8"/><polygon points="1812.0,481.2 1816.8,476.2 1817.5,478.7 1812.7,483.7" fill="#bebebe" stroke="#bebebe" stroke-width="0.8"/><polygon points="1812.7,483.7 1817.5,478.7 1818.2,481.2 1813.4,486.2" fill="#bbbbbb" stroke="#bbbbbb" stroke-width="0.8"/><polygon points="1813.4,486.2 1818.2,481.2 1818.9,483.7 1814.1,488.7" fill="#b5b5b5" stroke="#b5b5b5" stroke-width="0.8"/><polygon points="1814.1,488.7 1818.9,483.7 1819.7,486.1 1814.8,491.2" fill="#a6a6a6" stroke="#a6a6a6" stroke-width="0.8"/><polygon points="1814.8,491.2 1819.7,486.1 1820.4,488.6 1815.6,493.7" fill="#b1b1b1" stroke="#b1b1b1" stroke-width="0.8"/><polygon points="1815.6,493.7 1820.4,488.6 1821.1,491.1 1816.3,496.2" fill="#838383" stroke="#838383" stroke-width="0.8"/><polygon points="1815.3,471.2 1819.9,466.2 1820.6,468.6 1816.0,473.7" fill="#898989" stroke="#898989" stroke-width="0.8"/><polygon points="1816.0,473.7 1820.6,468.6 1821.4,471.1 1816.8,476.2" fill="#b1b1b1" stroke="#b1b1b1" stroke-width="0.8"/><polygon points="1816.8,476.2 1821.4,471.1 1822.1,473.6 1817.5,478.7" fill="#c9c9c9" stroke="#c9c9c9" stroke-width="0.8"/><polygon points="1817.5,478.7 1822.1,473.6 1822.9,476.0 1818.2,481.2" fill="#d5d5d5" stroke="#d5d5d5" stroke-width="0.8"/><polygon points="1818.2,481.2 1822.9,476.0 1823.6,478.5 1818.9,483.7" fill="#a4a4a4" stroke="#a4a4a4" stroke-width="0.8"/><polygon points="1818.9,483.7 1823.6,478.5 1824.4,481.0 1819.7,486.1" fill="#c2c2c2" stroke="#c2c2c2" stroke-width="0.8"/><polygon points="1819.7,486.1 1824.4,481.0 1825.1,483.5 1820.4,488.6" fill="#b1b1b1" stroke="#b1b1b1" stroke-width="0.8"/><polygon points="1820.4,488.6 1825.1,483.5 1825.9,485.9 1821.1,491.1" fill="#929292" stroke="#929292" stroke-width="0.8"/><polygon points="1819.9,466.2 1824.3,461.0 1825.1,463.4 1820.6,468.6" fill="#8f8f8f" stroke="#8f8f8f" stroke-width="0.8"/><polygon points="1820.6,468.6 1825.1,463.4 1825.9,465.9 1821.4,471.1" fill="#bebebe" stroke="#bebebe" stroke-width="0.8"/><polygon points="1821.4,471.1 1825.9,465.9 1826.6,468.3 1822.1,473.6" fill="#c3c3c3" stroke="#c3c3c3" stroke-width="0.8"/><polygon points="1822.1,473.6 1826.6,468.3 1827.4,470.8 1822.9,476.0" fill="#c5c5c5" stroke="#c5c5c5" stroke-width="0.8"/><polygon points="1822.9,476.0 1827.4,470.8 1828.2,473.3 1823.6,478.5" fill="#c6c6c6" stroke="#c6c6c6" stroke-width="0.8"/><polygon points="1823.6,478.5 1828.2,473.3 1828.9,475.7 1824.4,481.0" fill="#a6a6a6" stroke="#a6a6a6" stroke-width="0.8"/><polygon points="1824.4,481.0 1828.9,475.7 1829.7,478.2 1825.1,483.5" fill="#b7b7b7" stroke="#b7b7b7" stroke-width="0.8"/><polygon points="1825.1,483.5 1829.7,478.2 1830.5,480.6 1825.9,485.9" fill="#959595" stroke="#959595" stroke-width="0.8"/><polygon points="1824.3,461.0 1828.6,455.6 1829.4,458.1 1825.1,463.4" fill="#787878" stroke="#787878" stroke-width="0.8"/><polygon points="1825.1,463.4 1829.4,458.1 1830.2,460.5 1825.9,465.9" fill="#b5b5b5" stroke="#b5b5b5" stroke-width="0.8"/><polygon points="1825.9,465.9 1830.2,460.5 1831.0,463.0 1826.6,468.3" fill="#cecece" stroke="#cecece" stroke-width="0.8"/><polygon points="1826.6,468.3 1831.0,463.0 1831.8,465.5 1827.4,470.8" fill="#d7d7d7" stroke="#d7d7d7" stroke-width="0.8"/><polygon points="1827.4,470.8 1831.8,465.5 1832.6,467.9 1828.2,473.3" fill="#afafaf" stroke="#afafaf" stroke-width="0.8"/><polygon points="1828.2,473.3 1832.6,467.9 1833.4,470.4 1828.9,475.7" fill="#c7c7c7" stroke="#c7c7c7" stroke-width="0.8"/><polygon points="1828.9,475.7 1833.4,470.4 1834.2,472.8 1829.7,478.2" fill="#b2b2b2" stroke="#b2b2b2" stroke-width="0.8"/><polygon points="1829.7,478.2 1834.2,472.8 1835.0,475.3 1830.5,480.6" fill="#8f8f8f" stroke="#8f8f8f" stroke-width="0.8"/><polygon points="1828.6,455.6 1832.7,450.2 1833.5,452.6 1829.4,458.1" fill="#979797" stroke="#979797" stroke-width="0.8"/><polygon points="1829.4,458.1 1833.5,452.6 1834.4,455.1 1830.2,460.5" fill="#a1a1a1" stroke="#a1a1a1" stroke-width="0.8"/><polygon points="1830.2,460.5 1834.4,455.1 1835.2,457.6 1831.0,463.0" fill="#cfcfcf" stroke="#cfcfcf" stroke-width="0.8"/><polygon points="1831.0,463.0 1835.2,457.6 1836.1,460.0 1831.8,465.5" fill="#cccccc" stroke="#cccccc" stroke-width="0.8"/><polygon points="1831.8,465.5 1836.1,460.0 1836.9,462.5 1832.6,467.9" fill="#b0b0b0" stroke="#b0b0b0" stroke-width="0.8"/><polygon points="1832.6,467.9 1836.9,462.5 1837.8,464.9 1833.4,470.4" fill="#c3c3c3" stroke="#c3c3c3" stroke-width="0.8"/><polygon points="1833.4,470.4 1837.8,464.9 1838.6,467.4 1834.2,472.8" fill="#adadad" stroke="#adadad" stroke-width="0.8"/><polygon points="1834.2,472.8 1838.6,467.4 1839.5,469.9 1835.0,475.3" fill="#8f8f8f" stroke="#8f8f8f" stroke-width="0.8"/><polygon points="1832.7,450.2 1836.7,444.7 1837.6,447.1 1833.5,452.6" fill="#8a8a8a" stroke="#8a8a8a" stroke-width="0.8"/><polygon points="1833.5,452.6 1837.6,447.1 1838.5,449.6 1834.4,455.1" fill="#bbbbbb" stroke="#bbbbbb" stroke-width="0.8"/><polygon points="1834.4,455.1 1838.5,449.6 1839.4,452.1 1835.2,457.6" fill="#bdbdbd" stroke="#bdbdbd" stroke-width="0.8"/><polygon points="1835.2,457.6 1839.4,452.1 1840.3,454.6 1836.1,460.0" fill="#c5c5c5" stroke="#c5c5c5" stroke-width="0.8"/><polygon points="1836.1,460.0 1840.3,454.6 1841.2,457.0 1836.9,462.5" fill="#b3b3b3" stroke="#b3b3b3" stroke-width="0.8"/><polygon points="1836.9,462.5 1841.2,457.0 1842.1,459.5 1837.8,464.9" fill="#b7b7b7" stroke="#b7b7b7" stroke-width="0.8"/><polygon points="1837.8,464.9 1842.1,459.5 1843.0,462.0 1838.6,467.4" fill="#bebebe" stroke="#bebebe" stroke-width="0.8"/><polygon points="1838.6,467.4 1843.0,462.0 1844.0,464.5 1839.5,469.9" fill="#888888" stroke="#888888" stroke-width="0.8"/><polygon points="1836.7,444.7 1840.6,439.1 1841.6,441.6 1837.6,447.1" fill="#959595" stroke="#959595" stroke-width="0.8"/><polygon points="1837.6,447.1 1841.6,441.6 1842.6,444.1 1838.5,449.6" fill="#aeaeae" stroke="#aeaeae" stroke-width="0.8"/><polygon points="1838.5,449.6 1842.6,444.1 1843.6,446.6 1839.4,452.1" fill="#c8c8c8" stroke="#c8c8c8" stroke-width="0.8"/><polygon points="1839.4,452.1 1843.6,446.6 1844.5,449.1 1840.3,454.6" fill="#bfbfbf" stroke="#bfbfbf" stroke-width="0.8"/><polygon points="1840.3,454.6 1844.5,449.1 1845.5,451.6 1841.2,457.0" fill="#b6b6b6" stroke="#b6b6b6" stroke-width="0.8"/><polygon points="1841.2,457.0 1845.5,451.6 1846.5,454.1 1842.1,459.5" fill="#c7c7c7" stroke="#c7c7c7" stroke-width="0.8"/><polygon points="1842.1,459.5 1846.5,454.1 1847.5,456.6 1843.0,462.0" fill="#b8b8b8" stroke="#b8b8b8" stroke-width="0.8"/><polygon points="1843.0,462.0 1847.5,456.6 1848.5,459.1 1844.0,464.5" fill="#9a9a9a" stroke="#9a9a9a" stroke-width="0.8"/><polygon points="1840.6,439.1 1844.5,433.5 1845.6,436.0 1841.6,441.6" fill="#838383" stroke="#838383" stroke-width="0.8"/><polygon points="1841.6,441.6 1845.6,436.0 1846.7,438.6 1842.6,444.1" fill="#ababab" stroke="#ababab" stroke-width="0.8"/><polygon points="1842.6,444.1 1846.7,438.6 1847.7,441.1 1843.6,446.6" fill="#c0c0c0" stroke="#c0c0c0" stroke-width="0.8"/><polygon points="1843.6,446.6 1847.7,441.1 1848.8,443.7 1844.5,449.1" fill="#cbcbcb" stroke="#cbcbcb" stroke-width="0.8"/><polygon points="1844.5,449.1 1848.8,443.7 1849.9,446.2 1845.5,451.6" fill="#bababa" stroke="#bababa" stroke-width="0.8"/><polygon points="1845.5,451.6 1849.9,446.2 1851.0,448.8 1846.5,454.1" fill="#c0c0c0" stroke="#c0c0c0" stroke-width="0.8"/><polygon points="1846.5,454.1 1851.0,448.8 1852.1,451.3 1847.5,456.6" fill="#a2a2a2" stroke="#a2a2a2" stroke-width="0.8"/><polygon points="1847.5,456.6 1852.1,451.3 1853.1,453.9 1848.5,459.1" fill="#989898" stroke="#989898" stroke-width="0.8"/><polygon points="1844.5,433.5 1848.4,427.9 1849.6,430.5 1845.6,436.0" fill="#979797" stroke="#979797" stroke-width="0.8"/><polygon points="1845.6,436.0 1849.6,430.5 1850.8,433.1 1846.7,438.6" fill="#b3b3b3" stroke="#b3b3b3" stroke-width="0.8"/><polygon points="1846.7,438.6 1850.8,433.1 1852.0,435.7 1847.7,441.1" fill="#b7b7b7" stroke="#b7b7b7" stroke-width="0.8"/><polygon points="1847.7,441.1 1852.0,435.7 1853.2,438.3 1848.8,443.7" fill="#c0c0c0" stroke="#c0c0c0" stroke-width="0.8"/><polygon points="1848.8,443.7 1853.2,438.3 1854.4,440.9 1849.9,446.2" fill="#a4a4a4" stroke="#a4a4a4" stroke-width="0.8"/><polygon points="1849.9,446.2 1854.4,440.9 1855.5,443.5 1851.0,448.8" fill="#aaaaaa" stroke="#aaaaaa" stroke-width="0.8"/><polygon points="1851.0,448.8 1855.5,443.5 1856.7,446.1 1852.1,451.3" fill="#c1c1c1" stroke="#c1c1c1" stroke-width="0.8"/><polygon points="1852.1,451.3 1856.7,446.1 1857.9,448.7 1853.1,453.9" fill="#949494" stroke="#949494" stroke-width="0.8"/><polygon points="1848.4,427.9 1852.5,422.4 1853.8,425.1 1849.6,430.5" fill="#8f8f8f" stroke="#8f8f8f" stroke-width="0.8"/><polygon points="1849.6,430.5 1853.8,425.1 1855.1,427.7 1850.8,433.1" fill="#bcbcbc" stroke="#bcbcbc" stroke-width="0.8"/><polygon points="1850.8,433.1 1855.1,427.7 1856.3,430.4 1852.0,435.7" fill="#d6d6d6" stroke="#d6d6d6" stroke-width="0.8"/><polygon points="1852.0,435.7 1856.3,430.4 1857.6,433.0 1853.2,438.3" fill="#cccccc" stroke="#cccccc" stroke-width="0.8"/><polygon points="1853.2,438.3 1857.6,433.0 1858.9,435.7 1854.4,440.9" fill="#bababa" stroke="#bababa" stroke-width="0.8"/><polygon points="1854.4,440.9 1858.9,435.7 1860.2,438.4 1855.5,443.5" fill="#bababa" stroke="#bababa" stroke-width="0.8"/><polygon points="1855.5,443.5 1860.2,438.4 1861.5,441.0 1856.7,446.1" fill="#b9b9b9" stroke="#b9b9b9" stroke-width="0.8"/><polygon points="1856.7,446.1 1861.5,441.0 1862.8,443.7 1857.9,448.7" fill="#939393" stroke="#939393" stroke-width="0.8"/><polygon points="1852.5,422.4 1856.7,417.0 1858.1,419.7 1853.8,425.1" fill="#8f8f8f" stroke="#8f8f8f" stroke-width="0.8"/><polygon points="1853.8,425.1 1858.1,419.7 1859.4,422.4 1855.1,427.7" fill="#a7a7a7" stroke="#a7a7a7" stroke-width="0.8"/><polygon points="1855.1,427.7 1859.4,422.4 1860.8,425.1 1856.3,430.4" fill="#cecece" stroke="#cecece" stroke-width="0.8"/><polygon points="1856.3,430.4 1860.8,425.1 1862.2,427.8 1857.6,433.0" fill="#c6c6c6" stroke="#c6c6c6" stroke-width="0.8"/><polygon points="1857.6,433.0 1862.2,427.8 1863.6,430.5 1858.9,435.7" fill="#bfbfbf" stroke="#bfbfbf" stroke-width="0.8"/><polygon points="1858.9,435.7 1863.6,430.5 1864.9,433.2 1860.2,438.4" fill="#a7a7a7" stroke="#a7a7a7" stroke-width="0.8"/><polygon points="1860.2,438.4 1864.9,433.2 1866.3,435.9 1861.5,441.0" fill="#a7a7a7" stroke="#a7a7a7" stroke-width="0.8"/><polygon points="1861.5,441.0 1866.3,435.9 1867.7,438.6 1862.8,443.7" fill="#7f7f7f" stroke="#7f7f7f" stroke-width="0.8"/><polygon points="1856.7,417.0 1861.1,411.8 1862.5,414.5 1858.1,419.7" fill="#939393" stroke="#939393" stroke-width="0.8"/><polygon points="1858.1,419.7 1862.5,414.5 1864.0,417.3 1859.4,422.4" fill="#c0c0c0" stroke="#c0c0c0" stroke-width="0.8"/><polygon points="1859.4,422.4 1864.0,417.3 1865.4,420.0 1860.8,425.1" fill="#cdcdcd" stroke="#cdcdcd" stroke-width="0.8"/><polygon points="1860.8,425.1 1865.4,420.0 1866.8,422.7 1862.2,427.8" fill="#c3c3c3" stroke="#c3c3c3" stroke-width="0.8"/><polygon points="1862.2,427.8 1866.8,422.7 1868.3,425.4 1863.6,430.5" fill="#c1c1c1" stroke="#c1c1c1" stroke-width="0.8"/><polygon points="1863.6,430.5 1868.3,425.4 1869.7,428.1 1864.9,433.2" fill="#c0c0c0" stroke="#c0c0c0" stroke-width="0.8"/><polygon points="1864.9,433.2 1869.7,428.1 1871.1,430.9 1866.3,435.9" fill="#b4b4b4" stroke="#b4b4b4" stroke-width="0.8"/><polygon points="1866.3,435.9 1871.1,430.9 1872.6,433.6 1867.7,438.6" fill="#878787" stroke="#878787" stroke-width="0.8"/><polygon points="1861.1,411.8 1865.7,406.7 1867.1,409.5 1862.5,414.5" fill="#828282" stroke="#828282" stroke-width="0.8"/><polygon points="1862.5,414.5 1867.1,409.5 1868.6,412.2 1864.0,417.3" fill="#afafaf" stroke="#afafaf" stroke-width="0.8"/><polygon points="1864.0,417.3 1868.6,412.2 1870.1,414.9 1865.4,420.0" fill="#c1c1c1" stroke="#c1c1c1" stroke-width="0.8"/><polygon points="1865.4,420.0 1870.1,414.9 1871.5,417.6 1866.8,422.7" fill="#c5c5c5" stroke="#c5c5c5" stroke-width="0.8"/><polygon points="1866.8,422.7 1871.5,417.6 1873.0,420.3 1868.3,425.4" fill="#bbbbbb" stroke="#bbbbbb" stroke-width="0.8"/><polygon points="1868.3,425.4 1873.0,420.3 1874.5,423.1 1869.7,428.1" fill="#c5c5c5" stroke="#c5c5c5" stroke-width="0.8"/><polygon points="1869.7,428.1 1874.5,423.1 1875.9,425.8 1871.1,430.9" fill="#a2a2a2" stroke="#a2a2a2" stroke-width="0.8"/><polygon points="1871.1,430.9 1875.9,425.8 1877.4,428.5 1872.6,433.6" fill="#929292" stroke="#929292" stroke-width="0.8"/><polygon points="1865.7,406.7 1870.4,401.9 1871.9,404.5 1867.1,409.5" fill="#797979" stroke="#797979" stroke-width="0.8"/><polygon points="1867.1,409.5 1871.9,404.5 1873.4,407.2 1868.6,412.2" fill="#a4a4a4" stroke="#a4a4a4" stroke-width="0.8"/><polygon points="1868.6,412.2 1873.4,407.2 1874.8,409.9 1870.1,414.9" fill="#d3d3d3" stroke="#d3d3d3" stroke-width="0.8"/><polygon points="1870.1,414.9 1874.8,409.9 1876.3,412.6 1871.5,417.6" fill="#cbcbcb" stroke="#cbcbcb" stroke-width="0.8"/><polygon points="1871.5,417.6 1876.3,412.6 1877.8,415.3 1873.0,420.3" fill="#c5c5c5" stroke="#c5c5c5" stroke-width="0.8"/><polygon points="1873.0,420.3 1877.8,415.3 1879.3,418.0 1874.5,423.1" fill="#b4b4b4" stroke="#b4b4b4" stroke-width="0.8"/><polygon points="1874.5,423.1 1879.3,418.0 1880.7,420.7 1875.9,425.8" fill="#a1a1a1" stroke="#a1a1a1" stroke-width="0.8"/><polygon points="1875.9,425.8 1880.7,420.7 1882.2,423.4 1877.4,428.5" fill="#8c8c8c" stroke="#8c8c8c" stroke-width="0.8"/><polygon points="1870.4,401.9 1875.4,397.2 1876.8,399.8 1871.9,404.5" fill="#8d8d8d" stroke="#8d8d8d" stroke-width="0.8"/><polygon points="1871.9,404.5 1876.8,399.8 1878.3,402.4 1873.4,407.2" fill="#c3c3c3" stroke="#c3c3c3" stroke-width="0.8"/><polygon points="1873.4,407.2 1878.3,402.4 1879.7,405.1 1874.8,409.9" fill="#dadada" stroke="#dadada" stroke-width="0.8"/><polygon points="1874.8,409.9 1879.7,405.1 1881.2,407.7 1876.3,412.6" fill="#c8c8c8" stroke="#c8c8c8" stroke-width="0.8"/><polygon points="1876.3,412.6 1881.2,407.7 1882.6,410.3 1877.8,415.3" fill="#b4b4b4" stroke="#b4b4b4" stroke-width="0.8"/><polygon points="1877.8,415.3 1882.6,410.3 1884.1,413.0 1879.3,418.0" fill="#a8a8a8" stroke="#a8a8a8" stroke-width="0.8"/><polygon points="1879.3,418.0 1884.1,413.0 1885.5,415.6 1880.7,420.7" fill="#b9b9b9" stroke="#b9b9b9" stroke-width="0.8"/><polygon points="1880.7,420.7 1885.5,415.6 1887.0,418.2 1882.2,423.4" fill="#878787" stroke="#878787" stroke-width="0.8"/><polygon points="1875.4,397.2 1880.5,392.7 1881.9,395.3 1876.8,399.8" fill="#7f7f7f" stroke="#7f7f7f" stroke-width="0.8"/><polygon points="1876.8,399.8 1881.9,395.3 1883.3,397.8 1878.3,402.4" fill="#a2a2a2" stroke="#a2a2a2" stroke-width="0.8"/><polygon points="1878.3,402.4 1883.3,397.8 1884.7,400.4 1879.7,405.1" fill="#b8b8b8" stroke="#b8b8b8" stroke-width="0.8"/><polygon points="1879.7,405.1 1884.7,400.4 1886.2,402.9 1881.2,407.7" fill="#d0d0d0" stroke="#d0d0d0" stroke-width="0.8"/><polygon points="1881.2,407.7 1886.2,402.9 1887.6,405.5 1882.6,410.3" fill="#aaaaaa" stroke="#aaaaaa" stroke-width="0.8"/><polygon points="1882.6,410.3 1887.6,405.5 1889.0,408.0 1884.1,413.0" fill="#c9c9c9" stroke="#c9c9c9" stroke-width="0.8"/><polygon points="1884.1,413.0 1889.0,408.0 1890.4,410.5 1885.5,415.6" fill="#a6a6a6" stroke="#a6a6a6" stroke-width="0.8"/><polygon points="1885.5,415.6 1890.4,410.5 1891.8,413.1 1887.0,418.2" fill="#9f9f9f" stroke="#9f9f9f" stroke-width="0.8"/><polygon points="1880.5,392.7 1885.9,388.5 1887.2,391.0 1881.9,395.3" fill="#7f7f7f" stroke="#7f7f7f" stroke-width="0.8"/><polygon points="1881.9,395.3 1887.2,391.0 1888.6,393.4 1883.3,397.8" fill="#a3a3a3" stroke="#a3a3a3" stroke-width="0.8"/><polygon points="1883.3,397.8 1888.6,393.4 1889.9,395.8 1884.7,400.4" fill="#d3d3d3" stroke="#d3d3d3" stroke-width="0.8"/><polygon points="1884.7,400.4 1889.9,395.8 1891.3,398.3 1886.2,402.9" fill="#c2c2c2" stroke="#c2c2c2" stroke-width="0.8"/><polygon points="1886.2,402.9 1891.3,398.3 1892.6,400.7 1887.6,405.5" fill="#c1c1c1" stroke="#c1c1c1" stroke-width="0.8"/><polygon points="1887.6,405.5 1892.6,400.7 1894.0,403.2 1889.0,408.0" fill="#aeaeae" stroke="#aeaeae" stroke-width="0.8"/><polygon points="1889.0,408.0 1894.0,403.2 1895.3,405.6 1890.4,410.5" fill="#a5a5a5" stroke="#a5a5a5" stroke-width="0.8"/><polygon points="1890.4,410.5 1895.3,405.6 1896.7,408.0 1891.8,413.1" fill="#9d9d9d" stroke="#9d9d9d" stroke-width="0.8"/><polygon points="1885.9,388.5 1891.4,384.5 1892.7,386.9 1887.2,391.0" fill="#959595" stroke="#959595" stroke-width="0.8"/><polygon points="1887.2,391.0 1892.7,386.9 1894.0,389.2 1888.6,393.4" fill="#c3c3c3" stroke="#c3c3c3" stroke-width="0.8"/><polygon points="1888.6,393.4 1894.0,389.2 1895.2,391.5 1889.9,395.8" fill="#d4d4d4" stroke="#d4d4d4" stroke-width="0.8"/><polygon points="1889.9,395.8 1895.2,391.5 1896.5,393.8 1891.3,398.3" fill="#bdbdbd" stroke="#bdbdbd" stroke-width="0.8"/><polygon points="1891.3,398.3 1896.5,393.8 1897.8,396.2 1892.6,400.7" fill="#bebebe" stroke="#bebebe" stroke-width="0.8"/><polygon points="1892.6,400.7 1897.8,396.2 1899.1,398.5 1894.0,403.2" fill="#c1c1c1" stroke="#c1c1c1" stroke-width="0.8"/><polygon points="1894.0,403.2 1899.1,398.5 1900.4,400.8 1895.3,405.6" fill="#b5b5b5" stroke="#b5b5b5" stroke-width="0.8"/><polygon points="1895.3,405.6 1900.4,400.8 1901.7,403.1 1896.7,408.0" fill="#a4a4a4" stroke="#a4a4a4" stroke-width="0.8"/><polygon points="1891.4,384.5 1897.1,380.8 1898.3,383.0 1892.7,386.9" fill="#858585" stroke="#858585" stroke-width="0.8"/><polygon points="1892.7,386.9 1898.3,383.0 1899.5,385.2 1894.0,389.2" fill="#c8c8c8" stroke="#c8c8c8" stroke-width="0.8"/><polygon points="1894.0,389.2 1899.5,385.2 1900.7,387.4 1895.2,391.5" fill="#d5d5d5" stroke="#d5d5d5" stroke-width="0.8"/><polygon points="1895.2,391.5 1900.7,387.4 1901.9,389.6 1896.5,393.8" fill="#bbbbbb" stroke="#bbbbbb" stroke-width="0.8"/><polygon points="1896.5,393.8 1901.9,389.6 1903.2,391.8 1897.8,396.2" fill="#a9a9a9" stroke="#a9a9a9" stroke-width="0.8"/><polygon points="1897.8,396.2 1903.2,391.8 1904.4,394.0 1899.1,398.5" fill="#c0c0c0" stroke="#c0c0c0" stroke-width="0.8"/><polygon points="1899.1,398.5 1904.4,394.0 1905.6,396.2 1900.4,400.8" fill="#c3c3c3" stroke="#c3c3c3" stroke-width="0.8"/><polygon points="1900.4,400.8 1905.6,396.2 1906.8,398.4 1901.7,403.1" fill="#868686" stroke="#868686" stroke-width="0.8"/><polygon points="1897.1,380.8 1902.9,377.3 1904.1,379.3 1898.3,383.0" fill="#888888" stroke="#888888" stroke-width="0.8"/><polygon points="1898.3,383.0 1904.1,379.3 1905.2,381.4 1899.5,385.2" fill="#c0c0c0" stroke="#c0c0c0" stroke-width="0.8"/><polygon points="1899.5,385.2 1905.2,381.4 1906.4,383.5 1900.7,387.4" fill="#c2c2c2" stroke="#c2c2c2" stroke-width="0.8"/><polygon points="1900.7,387.4 1906.4,383.5 1907.5,385.5 1901.9,389.6" fill="#dbdbdb" stroke="#dbdbdb" stroke-width="0.8"/><polygon points="1901.9,389.6 1907.5,385.5 1908.6,387.6 1903.2,391.8" fill="#bbbbbb" stroke="#bbbbbb" stroke-width="0.8"/><polygon points="1903.2,391.8 1908.6,387.6 1909.8,389.6 1904.4,394.0" fill="#acacac" stroke="#acacac" stroke-width="0.8"/><polygon points="1904.4,394.0 1909.8,389.6 1910.9,391.7 1905.6,396.2" fill="#b4b4b4" stroke="#b4b4b4" stroke-width="0.8"/><polygon points="1905.6,396.2 1910.9,391.7 1912.1,393.7 1906.8,398.4" fill="#999999" stroke="#999999" stroke-width="0.8"/><polygon points="1902.9,377.3 1908.9,373.9 1910.0,375.8 1904.1,379.3" fill="#8e8e8e" stroke="#8e8e8e" stroke-width="0.8"/><polygon points="1904.1,379.3 1910.0,375.8 1911.0,377.7 1905.2,381.4" fill="#bfbfbf" stroke="#bfbfbf" stroke-width="0.8"/><polygon points="1905.2,381.4 1911.0,377.7 1912.1,379.7 1906.4,383.5" fill="#c2c2c2" stroke="#c2c2c2" stroke-width="0.8"/><polygon points="1906.4,383.5 1912.1,379.7 1913.2,381.6 1907.5,385.5" fill="#dadada" stroke="#dadada" stroke-width="0.8"/><polygon points="1907.5,385.5 1913.2,381.6 1914.2,383.5 1908.6,387.6" fill="#b8b8b8" stroke="#b8b8b8" stroke-width="0.8"/><polygon points="1908.6,387.6 1914.2,383.5 1915.3,385.4 1909.8,389.6" fill="#c2c2c2" stroke="#c2c2c2" stroke-width="0.8"/><polygon points="1909.8,389.6 1915.3,385.4 1916.4,387.3 1910.9,391.7" fill="#bebebe" stroke="#bebebe" stroke-width="0.8"/><polygon points="1910.9,391.7 1916.4,387.3 1917.4,389.2 1912.1,393.7" fill="#949494" stroke="#949494" stroke-width="0.8"/><polygon points="1908.9,373.9 1914.9,370.6 1915.9,372.4 1910.0,375.8" fill="#8d8d8d" stroke="#8d8d8d" stroke-width="0.8"/><polygon points="1910.0,375.8 1915.9,372.4 1916.9,374.2 1911.0,377.7" fill="#c4c4c4" stroke="#c4c4c4" stroke-width="0.8"/><polygon points="1911.0,377.7 1916.9,374.2 1917.9,376.0 1912.1,379.7" fill="#e0e0e0" stroke="#e0e0e0" stroke-width="0.8"/><polygon points="1912.1,379.7 1917.9,376.0 1918.9,377.7 1913.2,381.6" fill="#dadada" stroke="#dadada" stroke-width="0.8"/><polygon points="1913.2,381.6 1918.9,377.7 1919.9,379.5 1914.2,383.5" fill="#c0c0c0" stroke="#c0c0c0" stroke-width="0.8"/><polygon points="1914.2,383.5 1919.9,379.5 1920.9,381.3 1915.3,385.4" fill="#b6b6b6" stroke="#b6b6b6" stroke-width="0.8"/><polygon points="1915.3,385.4 1920.9,381.3 1921.9,383.1 1916.4,387.3" fill="#ababab" stroke="#ababab" stroke-width="0.8"/><polygon points="1916.4,387.3 1921.9,383.1 1922.9,384.8 1917.4,389.2" fill="#a9a9a9" stroke="#a9a9a9" stroke-width="0.8"/><polygon points="1914.9,370.6 1920.9,367.4 1921.8,369.0 1915.9,372.4" fill="#9a9a9a" stroke="#9a9a9a" stroke-width="0.8"/><polygon points="1915.9,372.4 1921.8,369.0 1922.8,370.7 1916.9,374.2" fill="#c7c7c7" stroke="#c7c7c7" stroke-width="0.8"/><polygon points="1916.9,374.2 1922.8,370.7 1923.7,372.3 1917.9,376.0" fill="#cbcbcb" stroke="#cbcbcb" stroke-width="0.8"/><polygon points="1917.9,376.0 1923.7,372.3 1924.7,373.9 1918.9,377.7" fill="#d5d5d5" stroke="#d5d5d5" stroke-width="0.8"/><polygon points="1918.9,377.7 1924.7,373.9 1925.6,375.6 1919.9,379.5" fill="#d0d0d0" stroke="#d0d0d0" stroke-width="0.8"/><polygon points="1919.9,379.5 1925.6,375.6 1926.6,377.2 1920.9,381.3" fill="#cbcbcb" stroke="#cbcbcb" stroke-width="0.8"/><polygon points="1920.9,381.3 1926.6,377.2 1927.5,378.9 1921.9,383.1" fill="#bfbfbf" stroke="#bfbfbf" stroke-width="0.8"/><polygon points="1921.9,383.1 1927.5,378.9 1928.5,380.5 1922.9,384.8" fill="#929292" stroke="#929292" stroke-width="0.8"/><polygon points="1920.9,367.4 1926.9,364.1 1927.8,365.6 1921.8,369.0" fill="#919191" stroke="#919191" stroke-width="0.8"/><polygon points="1921.8,369.0 1927.8,365.6 1928.7,367.1 1922.8,370.7" fill="#cacaca" stroke="#cacaca" stroke-width="0.8"/><polygon points="1922.8,370.7 1928.7,367.1 1929.6,368.7 1923.7,372.3" fill="#cecece" stroke="#cecece" stroke-width="0.8"/><polygon points="1923.7,372.3 1929.6,368.7 1930.5,370.2 1924.7,373.9" fill="#d9d9d9" stroke="#d9d9d9" stroke-width="0.8"/><polygon points="1924.7,373.9 1930.5,370.2 1931.4,371.7 1925.6,375.6" fill="#c4c4c4" stroke="#c4c4c4" stroke-width="0.8"/><polygon points="1925.6,375.6 1931.4,371.7 1932.2,373.2 1926.6,377.2" fill="#cfcfcf" stroke="#cfcfcf" stroke-width="0.8"/><polygon points="1926.6,377.2 1932.2,373.2 1933.1,374.7 1927.5,378.9" fill="#c8c8c8" stroke="#c8c8c8" stroke-width="0.8"/><polygon points="1927.5,378.9 1933.1,374.7 1934.0,376.2 1928.5,380.5" fill="#939393" stroke="#939393" stroke-width="0.8"/><polygon points="1926.9,364.1 1932.9,360.8 1933.7,362.2 1927.8,365.6" fill="#848484" stroke="#848484" stroke-width="0.8"/><polygon points="1927.8,365.6 1933.7,362.2 1934.6,363.6 1928.7,367.1" fill="#b6b6b6" stroke="#b6b6b6" stroke-width="0.8"/><polygon points="1928.7,367.1 1934.6,363.6 1935.4,365.0 1929.6,368.7" fill="#d2d2d2" stroke="#d2d2d2" stroke-width="0.8"/><polygon points="1929.6,368.7 1935.4,365.0 1936.2,366.3 1930.5,370.2" fill="#d7d7d7" stroke="#d7d7d7" stroke-width="0.8"/><polygon points="1930.5,370.2 1936.2,366.3 1937.0,367.7 1931.4,371.7" fill="#cecece" stroke="#cecece" stroke-width="0.8"/><polygon points="1931.4,371.7 1937.0,367.7 1937.9,369.1 1932.2,373.2" fill="#d0d0d0" stroke="#d0d0d0" stroke-width="0.8"/><polygon points="1932.2,373.2 1937.9,369.1 1938.7,370.5 1933.1,374.7" fill="#aeaeae" stroke="#aeaeae" stroke-width="0.8"/><polygon points="1933.1,374.7 1938.7,370.5 1939.5,371.8 1934.0,376.2" fill="#a9a9a9" stroke="#a9a9a9" stroke-width="0.8"/><polygon points="1932.9,360.8 1938.9,357.5 1939.6,358.7 1933.7,362.2" fill="#a3a3a3" stroke="#a3a3a3" stroke-width="0.8"/><polygon points="1933.7,362.2 1939.6,358.7 1940.4,360.0 1934.6,363.6" fill="#cecece" stroke="#cecece" stroke-width="0.8"/><polygon points="1934.6,363.6 1940.4,360.0 1941.2,361.2 1935.4,365.0" fill="#d9d9d9" stroke="#d9d9d9" stroke-width="0.8"/><polygon points="1935.4,365.0 1941.2,361.2 1941.9,362.4 1936.2,366.3" fill="#cecece" stroke="#cecece" stroke-width="0.8"/><polygon points="1936.2,366.3 1941.9,362.4 1942.7,363.7 1937.0,367.7" fill="#d1d1d1" stroke="#d1d1d1" stroke-width="0.8"/><polygon points="1937.0,367.7 1942.7,363.7 1943.4,364.9 1937.9,369.1" fill="#cfcfcf" stroke="#cfcfcf" stroke-width="0.8"/><polygon points="1937.9,369.1 1943.4,364.9 1944.2,366.2 1938.7,370.5" fill="#c8c8c8" stroke="#c8c8c8" stroke-width="0.8"/><polygon points="1938.7,370.5 1944.2,366.2 1945.0,367.4 1939.5,371.8" fill="#adadad" stroke="#adadad" stroke-width="0.8"/><polygon points="1938.9,357.5 1944.8,354.1 1945.5,355.2 1939.6,358.7" fill="#949494" stroke="#949494" stroke-width="0.8"/><polygon points="1939.6,358.7 1945.5,355.2 1946.2,356.3 1940.4,360.0" fill="#b3b3b3" stroke="#b3b3b3" stroke-width="0.8"/><polygon points="1940.4,360.0 1946.2,356.3 1946.9,357.4 1941.2,361.2" fill="#dadada" stroke="#dadada" stroke-width="0.8"/><polygon points="1941.2,361.2 1946.9,357.4 1947.6,358.5 1941.9,362.4" fill="#e3e3e3" stroke="#e3e3e3" stroke-width="0.8"/><polygon points="1941.9,362.4 1947.6,358.5 1948.2,359.6 1942.7,363.7" fill="#bcbcbc" stroke="#bcbcbc" stroke-width="0.8"/><polygon points="1942.7,363.7 1948.2,359.6 1948.9,360.6 1943.4,364.9" fill="#cfcfcf" stroke="#cfcfcf" stroke-width="0.8"/><polygon points="1943.4,364.9 1948.9,360.6 1949.6,361.7 1944.2,366.2" fill="#d2d2d2" stroke="#d2d2d2" stroke-width="0.8"/><polygon points="1944.2,366.2 1949.6,361.7 1950.3,362.8 1945.0,367.4" fill="#979797" stroke="#979797" stroke-width="0.8"/><polygon points="1944.8,354.1 1950.7,350.6 1951.3,351.6 1945.5,355.2" fill="#a0a0a0" stroke="#a0a0a0" stroke-width="0.8"/><polygon points="1945.5,355.2 1951.3,351.6 1951.9,352.5 1946.2,356.3" fill="#cbcbcb" stroke="#cbcbcb" stroke-width="0.8"/><polygon points="1946.2,356.3 1951.9,352.5 1952.5,353.4 1946.9,357.4" fill="#d9d9d9" stroke="#d9d9d9" stroke-width="0.8"/><polygon points="1946.9,357.4 1952.5,353.4 1953.1,354.4 1947.6,358.5" fill="#d0d0d0" stroke="#d0d0d0" stroke-width="0.8"/><polygon points="1947.6,358.5 1953.1,354.4 1953.7,355.3 1948.2,359.6" fill="#c0c0c0" stroke="#c0c0c0" stroke-width="0.8"/><polygon points="1948.2,359.6 1953.7,355.3 1954.3,356.3 1948.9,360.6" fill="#d1d1d1" stroke="#d1d1d1" stroke-width="0.8"/><polygon points="1948.9,360.6 1954.3,356.3 1954.9,357.2 1949.6,361.7" fill="#cfcfcf" stroke="#cfcfcf" stroke-width="0.8"/><polygon points="1949.6,361.7 1954.9,357.2 1955.5,358.2 1950.3,362.8" fill="#a1a1a1" stroke="#a1a1a1" stroke-width="0.8"/><polygon points="1950.7,350.6 1956.6,347.1 1957.1,347.9 1951.3,351.6" fill="#8f8f8f" stroke="#8f8f8f" stroke-width="0.8"/><polygon points="1951.3,351.6 1957.1,347.9 1957.6,348.7 1951.9,352.5" fill="#d1d1d1" stroke="#d1d1d1" stroke-width="0.8"/><polygon points="1951.9,352.5 1957.6,348.7 1958.1,349.4 1952.5,353.4" fill="#e6e6e6" stroke="#e6e6e6" stroke-width="0.8"/><polygon points="1952.5,353.4 1958.1,349.4 1958.6,350.2 1953.1,354.4" fill="#d3d3d3" stroke="#d3d3d3" stroke-width="0.8"/><polygon points="1953.1,354.4 1958.6,350.2 1959.1,351.0 1953.7,355.3" fill="#cdcdcd" stroke="#cdcdcd" stroke-width="0.8"/><polygon points="1953.7,355.3 1959.1,351.0 1959.6,351.8 1954.3,356.3" fill="#d9d9d9" stroke="#d9d9d9" stroke-width="0.8"/><polygon points="1954.3,356.3 1959.6,351.8 1960.1,352.6 1954.9,357.2" fill="#d5d5d5" stroke="#d5d5d5" stroke-width="0.8"/><polygon points="1954.9,357.2 1960.1,352.6 1960.6,353.3 1955.5,358.2" fill="#a5a5a5" stroke="#a5a5a5" stroke-width="0.8"/><polygon points="1956.6,347.1 1962.4,343.6 1962.8,344.2 1957.1,347.9" fill="#9f9f9f" stroke="#9f9f9f" stroke-width="0.8"/><polygon points="1957.1,347.9 1962.8,344.2 1963.2,344.8 1957.6,348.7" fill="#cccccc" stroke="#cccccc" stroke-width="0.8"/><polygon points="1957.6,348.7 1963.2,344.8 1963.6,345.4 1958.1,349.4" fill="#d3d3d3" stroke="#d3d3d3" stroke-width="0.8"/><polygon points="1958.1,349.4 1963.6,345.4 1964.0,346.0 1958.6,350.2" fill="#d3d3d3" stroke="#d3d3d3" stroke-width="0.8"/><polygon points="1958.6,350.2 1964.0,346.0 1964.4,346.6 1959.1,351.0" fill="#c1c1c1" stroke="#c1c1c1" stroke-width="0.8"/><polygon points="1959.1,351.0 1964.4,346.6 1964.8,347.2 1959.6,351.8" fill="#d4d4d4" stroke="#d4d4d4" stroke-width="0.8"/><polygon points="1959.6,351.8 1964.8,347.2 1965.2,347.8 1960.1,352.6" fill="#c4c4c4" stroke="#c4c4c4" stroke-width="0.8"/><polygon points="1960.1,352.6 1965.2,347.8 1965.6,348.4 1960.6,353.3" fill="#a9a9a9" stroke="#a9a9a9" stroke-width="0.8"/><polygon points="1962.4,343.6 1968.3,340.1 1968.6,340.5 1962.8,344.2" fill="#9e9e9e" stroke="#9e9e9e" stroke-width="0.8"/><polygon points="1962.8,344.2 1968.6,340.5 1968.8,340.9 1963.2,344.8" fill="#cbcbcb" stroke="#cbcbcb" stroke-width="0.8"/><polygon points="1963.2,344.8 1968.8,340.9 1969.1,341.3 1963.6,345.4" fill="#d4d4d4" stroke="#d4d4d4" stroke-width="0.8"/><polygon points="1963.6,345.4 1969.1,341.3 1969.4,341.7 1964.0,346.0" fill="#d0d0d0" stroke="#d0d0d0" stroke-width="0.8"/><polygon points="1964.0,346.0 1969.4,341.7 1969.7,342.1 1964.4,346.6" fill="#e0e0e0" stroke="#e0e0e0" stroke-width="0.8"/><polygon points="1964.4,346.6 1969.7,342.1 1970.0,342.6 1964.8,347.2" fill="#cacaca" stroke="#cacaca" stroke-width="0.8"/><polygon points="1964.8,347.2 1970.0,342.6 1970.3,343.0 1965.2,347.8" fill="#bdbdbd" stroke="#bdbdbd" stroke-width="0.8"/><polygon points="1965.2,347.8 1970.3,343.0 1970.6,343.4 1965.6,348.4" fill="#adadad" stroke="#adadad" stroke-width="0.8"/><polygon points="1968.3,340.1 1974.1,336.5 1974.3,336.7 1968.6,340.5" fill="#aeaeae" stroke="#aeaeae" stroke-width="0.8"/><polygon points="1968.6,340.5 1974.3,336.7 1974.4,337.0 1968.8,340.9" fill="#c0c0c0" stroke="#c0c0c0" stroke-width="0.8"/><polygon points="1968.8,340.9 1974.4,337.0 1974.6,337.2 1969.1,341.3" fill="#e6e6e6" stroke="#e6e6e6" stroke-width="0.8"/><polygon points="1969.1,341.3 1974.6,337.2 1974.7,337.4 1969.4,341.7" fill="#dddddd" stroke="#dddddd" stroke-width="0.8"/><polygon points="1969.4,341.7 1974.7,337.4 1974.9,337.6 1969.7,342.1" fill="#d1d1d1" stroke="#d1d1d1" stroke-width="0.8"/><polygon points="1969.7,342.1 1974.9,337.6 1975.0,337.8 1970.0,342.6" fill="#bfbfbf" stroke="#bfbfbf" stroke-width="0.8"/><polygon points="1970.0,342.6 1975.0,337.8 1975.2,338.0 1970.3,343.0" fill="#bcbcbc" stroke="#bcbcbc" stroke-width="0.8"/><polygon points="1970.3,343.0 1975.2,338.0 1975.3,338.2 1970.6,343.4" fill="#bcbcbc" stroke="#bcbcbc" stroke-width="0.8"/><polygon points="1974.1,336.5 1980.0,333.0 1980.0,333.0 1974.3,336.7" fill="#b3b3b3" stroke="#b3b3b3" stroke-width="0.8"/><polygon points="1974.3,336.7 1980.0,333.0 1980.0,333.0 1974.4,337.0" fill="#cecece" stroke="#cecece" stroke-width="0.8"/><polygon points="1974.4,337.0 1980.0,333.0 1980.0,333.0 1974.6,337.2" fill="#e7e7e7" stroke="#e7e7e7" stroke-width="0.8"/><polygon points="1974.6,337.2 1980.0,333.0 1980.0,333.0 1974.7,337.4" fill="#dcdcdc" stroke="#dcdcdc" stroke-width="0.8"/><polygon points="1974.7,337.4 1980.0,333.0 1980.0,333.0 1974.9,337.6" fill="#dddddd" stroke="#dddddd" stroke-width="0.8"/><polygon points="1974.9,337.6 1980.0,333.0 1980.0,333.0 1975.0,337.8" fill="#d0d0d0" stroke="#d0d0d0" stroke-width="0.8"/><polygon points="1975.0,337.8 1980.0,333.0 1980.0,333.0 1975.2,338.0" fill="#dfdfdf" stroke="#dfdfdf" stroke-width="0.8"/><polygon points="1975.2,338.0 1980.0,333.0 1980.0,333.0 1975.3,338.2" fill="#b6b6b6" stroke="#b6b6b6" stroke-width="0.8"/></g><rect x="1280" y="0" width="703" height="886" fill="#000" filter="url(#mottle_w2)"/></g>
<filter id="blur_w2" x="-5%" y="-5%" width="110%" height="110%"><feGaussianBlur stdDeviation="1.00"/></filter>
<filter id="mottle_w2" x="0" y="0" width="100%" height="100%" filterUnits="userSpaceOnUse"><feTurbulence type="fractalNoise" baseFrequency="0.09" numOctaves="2" seed="5" result="n"/><feColorMatrix in="n" type="matrix" values="0 0 0 0 0  0 0 0 0 0  0 0 0 0 0  1.35 0 0 0 -0.7"/><feGaussianBlur stdDeviation="0.8"/></filter>
<path d="M1399.0,568.0 L1405.1,566.9 L1411.7,567.2 L1418.4,567.9 L1425.1,568.3 L1431.8,569.2 L1438.6,570.2 L1445.4,571.3 L1452.1,572.5 L1458.8,573.7 L1465.6,574.9 L1472.3,576.2 L1479.0,577.5 L1485.7,578.9 L1492.4,580.2 L1499.1,581.5 L1505.8,582.8 L1512.6,584.1 L1519.3,585.3 L1526.0,586.4 L1532.8,587.4 L1539.6,588.3 L1546.4,589.1 L1553.2,589.8 L1560.0,590.3 L1566.8,590.6 L1573.6,590.8 L1580.5,590.9 L1587.3,590.9 L1594.1,590.7 L1601.0,590.4 L1607.8,590.0 L1614.6,589.5 L1621.4,588.9 L1628.2,588.2 L1635.0,587.2 L1641.7,586.1 L1648.4,584.7 L1655.0,583.0 L1661.5,581.1 L1668.0,579.0 L1674.4,576.7 L1680.8,574.2 L1687.1,571.5 L1693.3,568.7 L1699.5,565.8 L1705.6,562.8 L1711.7,559.6 L1717.6,556.2 L1723.4,552.7 L1729.2,549.0 L1734.8,545.1 L1740.2,541.0 L1745.6,536.8 L1750.9,532.5 L1756.1,528.1 L1761.3,523.6 L1766.4,519.1 L1771.5,514.5 L1776.6,509.9 L1781.6,505.2 L1786.5,500.5 L1791.4,495.7 L1796.3,490.9 L1801.1,486.0 L1805.9,481.2 L1810.6,476.2 L1815.3,471.2 L1819.9,466.2 L1824.3,461.0 L1828.6,455.6 L1832.7,450.2 L1836.7,444.7 L1840.6,439.1 L1844.5,433.5 L1848.4,427.9 L1852.5,422.4 L1856.7,417.0 L1861.1,411.8 L1865.7,406.7 L1870.4,401.9 L1875.4,397.2 L1880.5,392.7 L1885.9,388.5 L1891.4,384.5 L1897.1,380.8 L1902.9,377.3 L1908.9,373.9 L1914.9,370.6 L1920.9,367.4 L1926.9,364.1 L1932.9,360.8 L1938.9,357.5 L1944.8,354.1 L1950.7,350.6 L1956.6,347.1 L1962.4,343.6 L1968.3,340.1 L1974.1,336.5 L1980.0,333.0 L1980.0,333.0 L1975.3,338.2 L1970.6,343.4 L1965.6,348.4 L1960.6,353.3 L1955.5,358.2 L1950.3,362.8 L1945.0,367.4 L1939.5,371.8 L1934.0,376.2 L1928.5,380.5 L1922.9,384.8 L1917.4,389.2 L1912.1,393.7 L1906.8,398.4 L1901.7,403.1 L1896.7,408.0 L1891.8,413.1 L1887.0,418.2 L1882.2,423.4 L1877.4,428.5 L1872.6,433.6 L1867.7,438.6 L1862.8,443.7 L1857.9,448.7 L1853.1,453.9 L1848.5,459.1 L1844.0,464.5 L1839.5,469.9 L1835.0,475.3 L1830.5,480.6 L1825.9,485.9 L1821.1,491.1 L1816.3,496.2 L1811.3,501.1 L1806.3,506.1 L1801.3,511.0 L1796.2,515.9 L1791.1,520.7 L1786.1,525.6 L1780.9,530.4 L1775.8,535.2 L1770.7,540.0 L1765.5,544.8 L1760.3,549.5 L1755.1,554.3 L1749.9,558.9 L1744.6,563.5 L1739.2,568.1 L1733.7,572.5 L1728.2,576.7 L1722.5,580.8 L1716.7,584.8 L1710.7,588.4 L1704.6,591.9 L1698.4,595.1 L1692.0,598.1 L1685.6,600.8 L1679.0,603.2 L1672.4,605.5 L1665.6,607.5 L1658.9,609.3 L1652.0,611.0 L1645.2,612.4 L1638.3,613.6 L1631.3,614.6 L1624.4,615.4 L1617.4,616.0 L1610.4,616.5 L1603.3,616.7 L1596.3,616.8 L1589.3,616.8 L1582.3,616.6 L1575.3,616.2 L1568.3,615.6 L1561.3,614.9 L1554.3,614.1 L1547.4,613.1 L1540.4,612.0 L1533.5,610.8 L1526.6,609.4 L1519.8,607.8 L1513.0,606.1 L1506.2,604.3 L1499.4,602.3 L1492.7,600.2 L1486.0,598.1 L1479.3,595.9 L1472.7,593.8 L1466.0,591.7 L1459.3,589.6 L1452.5,587.5 L1445.8,585.5 L1439.1,583.5 L1432.3,581.5 L1425.6,579.6 L1418.9,577.5 L1412.1,575.5 L1405.5,573.5 L1399.0,571.0Z" fill="none" stroke="#4a4a4a" stroke-width="1.3" stroke-opacity="0.70" stroke-linejoin="round"/>

<clipPath id="clip_w3"><path d="M1341.0,731.0 L1346.5,728.9 L1352.4,729.0 L1358.1,730.1 L1363.9,730.8 L1369.6,732.3 L1375.3,734.1 L1380.9,736.2 L1386.5,738.5 L1392.0,740.8 L1397.5,743.3 L1403.0,745.7 L1408.5,748.2 L1414.0,750.7 L1419.5,753.2 L1424.9,755.7 L1430.4,758.1 L1435.9,760.6 L1441.4,763.0 L1446.9,765.5 L1452.4,768.0 L1457.9,770.5 L1463.4,772.9 L1468.8,775.4 L1474.4,777.8 L1479.9,780.2 L1485.4,782.5 L1491.0,784.9 L1496.5,787.3 L1501.9,789.8 L1507.3,792.4 L1512.7,795.1 L1518.1,797.8 L1523.4,800.5 L1528.8,803.2 L1534.2,805.8 L1539.7,808.2 L1545.3,810.4 L1551.0,812.4 L1556.7,814.2 L1562.5,815.8 L1568.3,817.2 L1574.2,818.5 L1580.1,819.7 L1586.0,820.8 L1591.9,821.7 L1597.9,822.6 L1603.8,823.4 L1609.8,824.2 L1615.8,824.9 L1621.8,825.4 L1627.8,826.0 L1633.8,826.4 L1639.8,826.8 L1645.8,827.2 L1651.8,827.5 L1657.8,827.8 L1663.8,828.1 L1669.8,828.4 L1675.8,828.8 L1681.8,829.1 L1687.8,829.6 L1693.8,830.0 L1699.8,830.4 L1705.8,830.8 L1711.8,831.1 L1717.8,831.3 L1723.9,831.4 L1729.9,831.4 L1735.9,831.4 L1741.9,831.2 L1747.9,831.0 L1753.9,830.7 L1759.9,830.3 L1765.9,829.8 L1771.9,829.2 L1777.9,828.6 L1783.8,827.9 L1789.8,827.1 L1795.8,826.5 L1801.8,825.9 L1807.8,825.5 L1813.8,825.2 L1819.8,825.1 L1825.8,825.1 L1831.8,825.3 L1837.8,825.5 L1843.8,825.7 L1849.8,825.9 L1855.8,826.1 L1861.9,826.2 L1867.9,826.3 L1873.9,826.3 L1879.9,826.3 L1885.9,826.2 L1891.9,826.2 L1897.9,826.2 L1904.0,826.1 L1910.0,826.1 L1916.0,826.0 L1916.0,826.0 L1909.9,826.6 L1903.9,827.2 L1897.8,827.9 L1891.8,828.5 L1885.7,829.1 L1879.7,829.8 L1873.6,830.5 L1867.6,831.2 L1861.6,831.9 L1855.5,832.7 L1849.5,833.6 L1843.5,834.5 L1837.5,835.5 L1831.5,836.5 L1825.5,837.5 L1819.5,838.6 L1813.5,839.7 L1807.6,840.9 L1801.6,842.1 L1795.6,843.3 L1789.7,844.5 L1783.7,845.7 L1777.7,846.8 L1771.7,847.8 L1765.7,848.7 L1759.7,849.5 L1753.7,850.1 L1747.6,850.7 L1741.5,851.1 L1735.5,851.4 L1729.4,851.6 L1723.3,851.8 L1717.2,851.8 L1711.1,851.8 L1705.1,851.7 L1699.0,851.5 L1692.9,851.3 L1686.8,851.0 L1680.7,850.8 L1674.7,850.6 L1668.6,850.4 L1662.5,850.3 L1656.4,850.1 L1650.3,849.9 L1644.3,849.7 L1638.2,849.3 L1632.1,848.8 L1626.1,848.1 L1620.1,847.2 L1614.1,846.2 L1608.1,845.1 L1602.2,843.9 L1596.2,842.6 L1590.3,841.2 L1584.4,839.8 L1578.5,838.4 L1572.6,836.9 L1566.7,835.4 L1560.8,833.8 L1555.0,832.1 L1549.1,830.3 L1543.4,828.4 L1537.6,826.5 L1531.9,824.5 L1526.2,822.4 L1520.5,820.2 L1514.8,818.0 L1509.2,815.6 L1503.6,813.2 L1498.1,810.8 L1492.5,808.3 L1487.0,805.7 L1481.4,803.2 L1475.9,800.8 L1470.3,798.4 L1464.7,796.0 L1459.1,793.7 L1453.4,791.4 L1447.8,789.0 L1442.3,786.6 L1436.7,784.1 L1431.2,781.5 L1425.7,778.9 L1420.3,776.2 L1414.9,773.4 L1409.5,770.6 L1404.1,767.7 L1398.8,764.8 L1393.5,761.8 L1388.2,758.7 L1383.0,755.7 L1377.7,752.5 L1372.5,749.4 L1367.3,746.3 L1362.1,743.2 L1356.8,740.1 L1351.6,737.0 L1346.3,734.0 L1341.0,731.0Z"/></clipPath>
<g clip-path="url(#clip_w3)"><g filter="url(#blur_w3)"><polygon points="1341.0,731.0 1346.5,728.9 1346.5,729.8 1341.0,731.0" fill="#ededed" stroke="#ededed" stroke-width="0.8"/><polygon points="1341.0,731.0 1346.5,729.8 1346.5,730.6 1341.0,731.0" fill="#f3f3f3" stroke="#f3f3f3" stroke-width="0.8"/><polygon points="1341.0,731.0 1346.5,730.6 1346.4,731.4 1341.0,731.0" fill="#d6d6d6" stroke="#d6d6d6" stroke-width="0.8"/><polygon points="1341.0,731.0 1346.4,731.4 1346.4,732.3 1341.0,731.0" fill="#cfcfcf" stroke="#cfcfcf" stroke-width="0.8"/><polygon points="1341.0,731.0 1346.4,732.3 1346.4,733.1 1341.0,731.0" fill="#d9d9d9" stroke="#d9d9d9" stroke-width="0.8"/><polygon points="1341.0,731.0 1346.4,733.1 1346.3,734.0 1341.0,731.0" fill="#dcdcdc" stroke="#dcdcdc" stroke-width="0.8"/><polygon points="1346.5,728.9 1352.4,729.0 1352.2,730.4 1346.5,729.8" fill="#cecece" stroke="#cecece" stroke-width="0.8"/><polygon points="1346.5,729.8 1352.2,730.4 1352.1,731.7 1346.5,730.6" fill="#cdcdcd" stroke="#cdcdcd" stroke-width="0.8"/><polygon points="1346.5,730.6 1352.1,731.7 1352.0,733.0 1346.4,731.4" fill="#e1e1e1" stroke="#e1e1e1" stroke-width="0.8"/><polygon points="1346.4,731.4 1352.0,733.0 1351.8,734.3 1346.4,732.3" fill="#efefef" stroke="#efefef" stroke-width="0.8"/><polygon points="1346.4,732.3 1351.8,734.3 1351.7,735.7 1346.4,733.1" fill="#e2e2e2" stroke="#e2e2e2" stroke-width="0.8"/><polygon points="1346.4,733.1 1351.7,735.7 1351.6,737.0 1346.3,734.0" fill="#f9f9f9" stroke="#f9f9f9" stroke-width="0.8"/><polygon points="1352.4,729.0 1358.1,730.1 1357.9,731.8 1352.2,730.4" fill="#eeeeee" stroke="#eeeeee" stroke-width="0.8"/><polygon points="1352.2,730.4 1357.9,731.8 1357.7,733.4 1352.1,731.7" fill="#cdcdcd" stroke="#cdcdcd" stroke-width="0.8"/><polygon points="1352.1,731.7 1357.7,733.4 1357.5,735.1 1352.0,733.0" fill="#e2e2e2" stroke="#e2e2e2" stroke-width="0.8"/><polygon points="1352.0,733.0 1357.5,735.1 1357.3,736.8 1351.8,734.3" fill="#dcdcdc" stroke="#dcdcdc" stroke-width="0.8"/><polygon points="1351.8,734.3 1357.3,736.8 1357.1,738.4 1351.7,735.7" fill="#d4d4d4" stroke="#d4d4d4" stroke-width="0.8"/><polygon points="1351.7,735.7 1357.1,738.4 1356.8,740.1 1351.6,737.0" fill="#f9f9f9" stroke="#f9f9f9" stroke-width="0.8"/><polygon points="1358.1,730.1 1363.9,730.8 1363.6,732.9 1357.9,731.8" fill="#d3d3d3" stroke="#d3d3d3" stroke-width="0.8"/><polygon points="1357.9,731.8 1363.6,732.9 1363.3,734.9 1357.7,733.4" fill="#e0e0e0" stroke="#e0e0e0" stroke-width="0.8"/><polygon points="1357.7,733.4 1363.3,734.9 1363.0,737.0 1357.5,735.1" fill="#e3e3e3" stroke="#e3e3e3" stroke-width="0.8"/><polygon points="1357.5,735.1 1363.0,737.0 1362.7,739.0 1357.3,736.8" fill="#f1f1f1" stroke="#f1f1f1" stroke-width="0.8"/><polygon points="1357.3,736.8 1362.7,739.0 1362.4,741.1 1357.1,738.4" fill="#e9e9e9" stroke="#e9e9e9" stroke-width="0.8"/><polygon points="1357.1,738.4 1362.4,741.1 1362.1,743.2 1356.8,740.1" fill="#e1e1e1" stroke="#e1e1e1" stroke-width="0.8"/><polygon points="1363.9,730.8 1369.6,732.3 1369.2,734.6 1363.6,732.9" fill="#dadada" stroke="#dadada" stroke-width="0.8"/><polygon points="1363.6,732.9 1369.2,734.6 1368.8,736.9 1363.3,734.9" fill="#cecece" stroke="#cecece" stroke-width="0.8"/><polygon points="1363.3,734.9 1368.8,736.9 1368.5,739.3 1363.0,737.0" fill="#efefef" stroke="#efefef" stroke-width="0.8"/><polygon points="1363.0,737.0 1368.5,739.3 1368.1,741.6 1362.7,739.0" fill="#f1f1f1" stroke="#f1f1f1" stroke-width="0.8"/><polygon points="1362.7,739.0 1368.1,741.6 1367.7,743.9 1362.4,741.1" fill="#d6d6d6" stroke="#d6d6d6" stroke-width="0.8"/><polygon points="1362.4,741.1 1367.7,743.9 1367.3,746.3 1362.1,743.2" fill="#d2d2d2" stroke="#d2d2d2" stroke-width="0.8"/><polygon points="1369.6,732.3 1375.3,734.1 1374.8,736.7 1369.2,734.6" fill="#d1d1d1" stroke="#d1d1d1" stroke-width="0.8"/><polygon points="1369.2,734.6 1374.8,736.7 1374.4,739.2 1368.8,736.9" fill="#d5d5d5" stroke="#d5d5d5" stroke-width="0.8"/><polygon points="1368.8,736.9 1374.4,739.2 1373.9,741.8 1368.5,739.3" fill="#ebebeb" stroke="#ebebeb" stroke-width="0.8"/><polygon points="1368.5,739.3 1373.9,741.8 1373.4,744.3 1368.1,741.6" fill="#ededed" stroke="#ededed" stroke-width="0.8"/><polygon points="1368.1,741.6 1373.4,744.3 1373.0,746.9 1367.7,743.9" fill="#ededed" stroke="#ededed" stroke-width="0.8"/><polygon points="1367.7,743.9 1373.0,746.9 1372.5,749.4 1367.3,746.3" fill="#d1d1d1" stroke="#d1d1d1" stroke-width="0.8"/><polygon points="1375.3,734.1 1380.9,736.2 1380.4,739.0 1374.8,736.7" fill="#e5e5e5" stroke="#e5e5e5" stroke-width="0.8"/><polygon points="1374.8,736.7 1380.4,739.0 1379.9,741.7 1374.4,739.2" fill="#e2e2e2" stroke="#e2e2e2" stroke-width="0.8"/><polygon points="1374.4,739.2 1379.9,741.7 1379.3,744.4 1373.9,741.8" fill="#e0e0e0" stroke="#e0e0e0" stroke-width="0.8"/><polygon points="1373.9,741.8 1379.3,744.4 1378.8,747.1 1373.4,744.3" fill="#efefef" stroke="#efefef" stroke-width="0.8"/><polygon points="1373.4,744.3 1378.8,747.1 1378.3,749.8 1373.0,746.9" fill="#cdcdcd" stroke="#cdcdcd" stroke-width="0.8"/><polygon points="1373.0,746.9 1378.3,749.8 1377.7,752.5 1372.5,749.4" fill="#d4d4d4" stroke="#d4d4d4" stroke-width="0.8"/><polygon points="1380.9,736.2 1386.5,738.5 1385.9,741.3 1380.4,739.0" fill="#e3e3e3" stroke="#e3e3e3" stroke-width="0.8"/><polygon points="1380.4,739.0 1385.9,741.3 1385.3,744.2 1379.9,741.7" fill="#eaeaea" stroke="#eaeaea" stroke-width="0.8"/><polygon points="1379.9,741.7 1385.3,744.2 1384.7,747.1 1379.3,744.4" fill="#e0e0e0" stroke="#e0e0e0" stroke-width="0.8"/><polygon points="1379.3,744.4 1384.7,747.1 1384.1,749.9 1378.8,747.1" fill="#d3d3d3" stroke="#d3d3d3" stroke-width="0.8"/><polygon points="1378.8,747.1 1384.1,749.9 1383.6,752.8 1378.3,749.8" fill="#e2e2e2" stroke="#e2e2e2" stroke-width="0.8"/><polygon points="1378.3,749.8 1383.6,752.8 1383.0,755.7 1377.7,752.5" fill="#ececec" stroke="#ececec" stroke-width="0.8"/><polygon points="1386.5,738.5 1392.0,740.8 1391.4,743.8 1385.9,741.3" fill="#c8c8c8" stroke="#c8c8c8" stroke-width="0.8"/><polygon points="1385.9,741.3 1391.4,743.8 1390.8,746.8 1385.3,744.2" fill="#d1d1d1" stroke="#d1d1d1" stroke-width="0.8"/><polygon points="1385.3,744.2 1390.8,746.8 1390.1,749.8 1384.7,747.1" fill="#cecece" stroke="#cecece" stroke-width="0.8"/><polygon points="1384.7,747.1 1390.1,749.8 1389.5,752.8 1384.1,749.9" fill="#cbcbcb" stroke="#cbcbcb" stroke-width="0.8"/><polygon points="1384.1,749.9 1389.5,752.8 1388.8,755.8 1383.6,752.8" fill="#dcdcdc" stroke="#dcdcdc" stroke-width="0.8"/><polygon points="1383.6,752.8 1388.8,755.8 1388.2,758.7 1383.0,755.7" fill="#d3d3d3" stroke="#d3d3d3" stroke-width="0.8"/><polygon points="1392.0,740.8 1397.5,743.3 1396.9,746.3 1391.4,743.8" fill="#cccccc" stroke="#cccccc" stroke-width="0.8"/><polygon points="1391.4,743.8 1396.9,746.3 1396.2,749.4 1390.8,746.8" fill="#c9c9c9" stroke="#c9c9c9" stroke-width="0.8"/><polygon points="1390.8,746.8 1396.2,749.4 1395.5,752.5 1390.1,749.8" fill="#dedede" stroke="#dedede" stroke-width="0.8"/><polygon points="1390.1,749.8 1395.5,752.5 1394.8,755.6 1389.5,752.8" fill="#c5c5c5" stroke="#c5c5c5" stroke-width="0.8"/><polygon points="1389.5,752.8 1394.8,755.6 1394.1,758.7 1388.8,755.8" fill="#e5e5e5" stroke="#e5e5e5" stroke-width="0.8"/><polygon points="1388.8,755.8 1394.1,758.7 1393.5,761.8 1388.2,758.7" fill="#d3d3d3" stroke="#d3d3d3" stroke-width="0.8"/><polygon points="1397.5,743.3 1403.0,745.7 1402.3,748.9 1396.9,746.3" fill="#c2c2c2" stroke="#c2c2c2" stroke-width="0.8"/><polygon points="1396.9,746.3 1402.3,748.9 1401.6,752.1 1396.2,749.4" fill="#e5e5e5" stroke="#e5e5e5" stroke-width="0.8"/><polygon points="1396.2,749.4 1401.6,752.1 1400.9,755.3 1395.5,752.5" fill="#c9c9c9" stroke="#c9c9c9" stroke-width="0.8"/><polygon points="1395.5,752.5 1400.9,755.3 1400.2,758.4 1394.8,755.6" fill="#e7e7e7" stroke="#e7e7e7" stroke-width="0.8"/><polygon points="1394.8,755.6 1400.2,758.4 1399.5,761.6 1394.1,758.7" fill="#e8e8e8" stroke="#e8e8e8" stroke-width="0.8"/><polygon points="1394.1,758.7 1399.5,761.6 1398.8,764.8 1393.5,761.8" fill="#ececec" stroke="#ececec" stroke-width="0.8"/><polygon points="1403.0,745.7 1408.5,748.2 1407.8,751.5 1402.3,748.9" fill="#c2c2c2" stroke="#c2c2c2" stroke-width="0.8"/><polygon points="1402.3,748.9 1407.8,751.5 1407.0,754.7 1401.6,752.1" fill="#cecece" stroke="#cecece" stroke-width="0.8"/><polygon points="1401.6,752.1 1407.0,754.7 1406.3,758.0 1400.9,755.3" fill="#c0c0c0" stroke="#c0c0c0" stroke-width="0.8"/><polygon points="1400.9,755.3 1406.3,758.0 1405.6,761.2 1400.2,758.4" fill="#e3e3e3" stroke="#e3e3e3" stroke-width="0.8"/><polygon points="1400.2,758.4 1405.6,761.2 1404.8,764.5 1399.5,761.6" fill="#e3e3e3" stroke="#e3e3e3" stroke-width="0.8"/><polygon points="1399.5,761.6 1404.8,764.5 1404.1,767.7 1398.8,764.8" fill="#dedede" stroke="#dedede" stroke-width="0.8"/><polygon points="1408.5,748.2 1414.0,750.7 1413.2,754.0 1407.8,751.5" fill="#cacaca" stroke="#cacaca" stroke-width="0.8"/><polygon points="1407.8,751.5 1413.2,754.0 1412.5,757.3 1407.0,754.7" fill="#c6c6c6" stroke="#c6c6c6" stroke-width="0.8"/><polygon points="1407.0,754.7 1412.5,757.3 1411.7,760.7 1406.3,758.0" fill="#d9d9d9" stroke="#d9d9d9" stroke-width="0.8"/><polygon points="1406.3,758.0 1411.7,760.7 1411.0,764.0 1405.6,761.2" fill="#cdcdcd" stroke="#cdcdcd" stroke-width="0.8"/><polygon points="1405.6,761.2 1411.0,764.0 1410.2,767.3 1404.8,764.5" fill="#d6d6d6" stroke="#d6d6d6" stroke-width="0.8"/><polygon points="1404.8,764.5 1410.2,767.3 1409.5,770.6 1404.1,767.7" fill="#c6c6c6" stroke="#c6c6c6" stroke-width="0.8"/><polygon points="1414.0,750.7 1419.5,753.2 1418.7,756.6 1413.2,754.0" fill="#bdbdbd" stroke="#bdbdbd" stroke-width="0.8"/><polygon points="1413.2,754.0 1418.7,756.6 1417.9,759.9 1412.5,757.3" fill="#b6b6b6" stroke="#b6b6b6" stroke-width="0.8"/><polygon points="1412.5,757.3 1417.9,759.9 1417.2,763.3 1411.7,760.7" fill="#d1d1d1" stroke="#d1d1d1" stroke-width="0.8"/><polygon points="1411.7,760.7 1417.2,763.3 1416.4,766.7 1411.0,764.0" fill="#cccccc" stroke="#cccccc" stroke-width="0.8"/><polygon points="1411.0,764.0 1416.4,766.7 1415.6,770.0 1410.2,767.3" fill="#bfbfbf" stroke="#bfbfbf" stroke-width="0.8"/><polygon points="1410.2,767.3 1415.6,770.0 1414.9,773.4 1409.5,770.6" fill="#dfdfdf" stroke="#dfdfdf" stroke-width="0.8"/><polygon points="1419.5,753.2 1424.9,755.7 1424.2,759.1 1418.7,756.6" fill="#bbbbbb" stroke="#bbbbbb" stroke-width="0.8"/><polygon points="1418.7,756.6 1424.2,759.1 1423.4,762.5 1417.9,759.9" fill="#c0c0c0" stroke="#c0c0c0" stroke-width="0.8"/><polygon points="1417.9,759.9 1423.4,762.5 1422.6,765.9 1417.2,763.3" fill="#b6b6b6" stroke="#b6b6b6" stroke-width="0.8"/><polygon points="1417.2,763.3 1422.6,765.9 1421.8,769.3 1416.4,766.7" fill="#bcbcbc" stroke="#bcbcbc" stroke-width="0.8"/><polygon points="1416.4,766.7 1421.8,769.3 1421.1,772.7 1415.6,770.0" fill="#d6d6d6" stroke="#d6d6d6" stroke-width="0.8"/><polygon points="1415.6,770.0 1421.1,772.7 1420.3,776.2 1414.9,773.4" fill="#c6c6c6" stroke="#c6c6c6" stroke-width="0.8"/><polygon points="1424.9,755.7 1430.4,758.1 1429.6,761.6 1424.2,759.1" fill="#a9a9a9" stroke="#a9a9a9" stroke-width="0.8"/><polygon points="1424.2,759.1 1429.6,761.6 1428.9,765.0 1423.4,762.5" fill="#b6b6b6" stroke="#b6b6b6" stroke-width="0.8"/><polygon points="1423.4,762.5 1428.9,765.0 1428.1,768.5 1422.6,765.9" fill="#afafaf" stroke="#afafaf" stroke-width="0.8"/><polygon points="1422.6,765.9 1428.1,768.5 1427.3,771.9 1421.8,769.3" fill="#c8c8c8" stroke="#c8c8c8" stroke-width="0.8"/><polygon points="1421.8,769.3 1427.3,771.9 1426.5,775.4 1421.1,772.7" fill="#acacac" stroke="#acacac" stroke-width="0.8"/><polygon points="1421.1,772.7 1426.5,775.4 1425.7,778.9 1420.3,776.2" fill="#d2d2d2" stroke="#d2d2d2" stroke-width="0.8"/><polygon points="1430.4,758.1 1435.9,760.6 1435.1,764.1 1429.6,761.6" fill="#929292" stroke="#929292" stroke-width="0.8"/><polygon points="1429.6,761.6 1435.1,764.1 1434.4,767.6 1428.9,765.0" fill="#b3b3b3" stroke="#b3b3b3" stroke-width="0.8"/><polygon points="1428.9,765.0 1434.4,767.6 1433.6,771.0 1428.1,768.5" fill="#aaaaaa" stroke="#aaaaaa" stroke-width="0.8"/><polygon points="1428.1,768.5 1433.6,771.0 1432.8,774.5 1427.3,771.9" fill="#999999" stroke="#999999" stroke-width="0.8"/><polygon points="1427.3,771.9 1432.8,774.5 1432.0,778.0 1426.5,775.4" fill="#a7a7a7" stroke="#a7a7a7" stroke-width="0.8"/><polygon points="1426.5,775.4 1432.0,778.0 1431.2,781.5 1425.7,778.9" fill="#a3a3a3" stroke="#a3a3a3" stroke-width="0.8"/><polygon points="1435.9,760.6 1441.4,763.0 1440.6,766.5 1435.1,764.1" fill="#878787" stroke="#878787" stroke-width="0.8"/><polygon points="1435.1,764.1 1440.6,766.5 1439.9,770.0 1434.4,767.6" fill="#848484" stroke="#848484" stroke-width="0.8"/><polygon points="1434.4,767.6 1439.9,770.0 1439.1,773.6 1433.6,771.0" fill="#8b8b8b" stroke="#8b8b8b" stroke-width="0.8"/><polygon points="1433.6,771.0 1439.1,773.6 1438.3,777.1 1432.8,774.5" fill="#a6a6a6" stroke="#a6a6a6" stroke-width="0.8"/><polygon points="1432.8,774.5 1438.3,777.1 1437.5,780.6 1432.0,778.0" fill="#a9a9a9" stroke="#a9a9a9" stroke-width="0.8"/><polygon points="1432.0,778.0 1437.5,780.6 1436.7,784.1 1431.2,781.5" fill="#aaaaaa" stroke="#aaaaaa" stroke-width="0.8"/><polygon points="1441.4,763.0 1446.9,765.5 1446.1,769.0 1440.6,766.5" fill="#6d6d6d" stroke="#6d6d6d" stroke-width="0.8"/><polygon points="1440.6,766.5 1446.1,769.0 1445.4,772.5 1439.9,770.0" fill="#757575" stroke="#757575" stroke-width="0.8"/><polygon points="1439.9,770.0 1445.4,772.5 1444.6,776.0 1439.1,773.6" fill="#8d8d8d" stroke="#8d8d8d" stroke-width="0.8"/><polygon points="1439.1,773.6 1444.6,776.0 1443.8,779.5 1438.3,777.1" fill="#6d6d6d" stroke="#6d6d6d" stroke-width="0.8"/><polygon points="1438.3,777.1 1443.8,779.5 1443.0,783.1 1437.5,780.6" fill="#8b8b8b" stroke="#8b8b8b" stroke-width="0.8"/><polygon points="1437.5,780.6 1443.0,783.1 1442.3,786.6 1436.7,784.1" fill="#7d7d7d" stroke="#7d7d7d" stroke-width="0.8"/><polygon points="1446.9,765.5 1452.4,768.0 1451.6,771.5 1446.1,769.0" fill="#868686" stroke="#868686" stroke-width="0.8"/><polygon points="1446.1,769.0 1451.6,771.5 1450.9,775.0 1445.4,772.5" fill="#5f5f5f" stroke="#5f5f5f" stroke-width="0.8"/><polygon points="1445.4,772.5 1450.9,775.0 1450.1,778.5 1444.6,776.0" fill="#7f7f7f" stroke="#7f7f7f" stroke-width="0.8"/><polygon points="1444.6,776.0 1450.1,778.5 1449.4,782.0 1443.8,779.5" fill="#6e6e6e" stroke="#6e6e6e" stroke-width="0.8"/><polygon points="1443.8,779.5 1449.4,782.0 1448.6,785.5 1443.0,783.1" fill="#696969" stroke="#696969" stroke-width="0.8"/><polygon points="1443.0,783.1 1448.6,785.5 1447.8,789.0 1442.3,786.6" fill="#676767" stroke="#676767" stroke-width="0.8"/><polygon points="1452.4,768.0 1457.9,770.5 1457.1,773.9 1451.6,771.5" fill="#797979" stroke="#797979" stroke-width="0.8"/><polygon points="1451.6,771.5 1457.1,773.9 1456.4,777.4 1450.9,775.0" fill="#6d6d6d" stroke="#6d6d6d" stroke-width="0.8"/><polygon points="1450.9,775.0 1456.4,777.4 1455.7,780.9 1450.1,778.5" fill="#5f5f5f" stroke="#5f5f5f" stroke-width="0.8"/><polygon points="1450.1,778.5 1455.7,780.9 1454.9,784.4 1449.4,782.0" fill="#6b6b6b" stroke="#6b6b6b" stroke-width="0.8"/><polygon points="1449.4,782.0 1454.9,784.4 1454.2,787.9 1448.6,785.5" fill="#818181" stroke="#818181" stroke-width="0.8"/><polygon points="1448.6,785.5 1454.2,787.9 1453.4,791.4 1447.8,789.0" fill="#696969" stroke="#696969" stroke-width="0.8"/><polygon points="1457.9,770.5 1463.4,772.9 1462.6,776.4 1457.1,773.9" fill="#676767" stroke="#676767" stroke-width="0.8"/><polygon points="1457.1,773.9 1462.6,776.4 1461.9,779.9 1456.4,777.4" fill="#565656" stroke="#565656" stroke-width="0.8"/><polygon points="1456.4,777.4 1461.9,779.9 1461.2,783.3 1455.7,780.9" fill="#585858" stroke="#585858" stroke-width="0.8"/><polygon points="1455.7,780.9 1461.2,783.3 1460.5,786.8 1454.9,784.4" fill="#717171" stroke="#717171" stroke-width="0.8"/><polygon points="1454.9,784.4 1460.5,786.8 1459.8,790.2 1454.2,787.9" fill="#727272" stroke="#727272" stroke-width="0.8"/><polygon points="1454.2,787.9 1459.8,790.2 1459.1,793.7 1453.4,791.4" fill="#616161" stroke="#616161" stroke-width="0.8"/><polygon points="1463.4,772.9 1468.8,775.4 1468.1,778.8 1462.6,776.4" fill="#4d4d4d" stroke="#4d4d4d" stroke-width="0.8"/><polygon points="1462.6,776.4 1468.1,778.8 1467.5,782.3 1461.9,779.9" fill="#4d4d4d" stroke="#4d4d4d" stroke-width="0.8"/><polygon points="1461.9,779.9 1467.5,782.3 1466.8,785.7 1461.2,783.3" fill="#626262" stroke="#626262" stroke-width="0.8"/><polygon points="1461.2,783.3 1466.8,785.7 1466.1,789.2 1460.5,786.8" fill="#5f5f5f" stroke="#5f5f5f" stroke-width="0.8"/><polygon points="1460.5,786.8 1466.1,789.2 1465.4,792.6 1459.8,790.2" fill="#595959" stroke="#595959" stroke-width="0.8"/><polygon points="1459.8,790.2 1465.4,792.6 1464.7,796.0 1459.1,793.7" fill="#5a5a5a" stroke="#5a5a5a" stroke-width="0.8"/><polygon points="1468.8,775.4 1474.4,777.8 1473.7,781.2 1468.1,778.8" fill="#5b5b5b" stroke="#5b5b5b" stroke-width="0.8"/><polygon points="1468.1,778.8 1473.7,781.2 1473.0,784.7 1467.5,782.3" fill="#5f5f5f" stroke="#5f5f5f" stroke-width="0.8"/><polygon points="1467.5,782.3 1473.0,784.7 1472.3,788.1 1466.8,785.7" fill="#636363" stroke="#636363" stroke-width="0.8"/><polygon points="1466.8,785.7 1472.3,788.1 1471.6,791.5 1466.1,789.2" fill="#5b5b5b" stroke="#5b5b5b" stroke-width="0.8"/><polygon points="1466.1,789.2 1471.6,791.5 1471.0,795.0 1465.4,792.6" fill="#4f4f4f" stroke="#4f4f4f" stroke-width="0.8"/><polygon points="1465.4,792.6 1471.0,795.0 1470.3,798.4 1464.7,796.0" fill="#4d4d4d" stroke="#4d4d4d" stroke-width="0.8"/><polygon points="1474.4,777.8 1479.9,780.2 1479.2,783.6 1473.7,781.2" fill="#595959" stroke="#595959" stroke-width="0.8"/><polygon points="1473.7,781.2 1479.2,783.6 1478.5,787.0 1473.0,784.7" fill="#4c4c4c" stroke="#4c4c4c" stroke-width="0.8"/><polygon points="1473.0,784.7 1478.5,787.0 1477.9,790.5 1472.3,788.1" fill="#585858" stroke="#585858" stroke-width="0.8"/><polygon points="1472.3,788.1 1477.9,790.5 1477.2,793.9 1471.6,791.5" fill="#3f3f3f" stroke="#3f3f3f" stroke-width="0.8"/><polygon points="1471.6,791.5 1477.2,793.9 1476.5,797.3 1471.0,795.0" fill="#616161" stroke="#616161" stroke-width="0.8"/><polygon points="1471.0,795.0 1476.5,797.3 1475.9,800.8 1470.3,798.4" fill="#515151" stroke="#515151" stroke-width="0.8"/><polygon points="1479.9,780.2 1485.4,782.5 1484.8,786.0 1479.2,783.6" fill="#5b5b5b" stroke="#5b5b5b" stroke-width="0.8"/><polygon points="1479.2,783.6 1484.8,786.0 1484.1,789.4 1478.5,787.0" fill="#5c5c5c" stroke="#5c5c5c" stroke-width="0.8"/><polygon points="1478.5,787.0 1484.1,789.4 1483.4,792.9 1477.9,790.5" fill="#4d4d4d" stroke="#4d4d4d" stroke-width="0.8"/><polygon points="1477.9,790.5 1483.4,792.9 1482.8,796.3 1477.2,793.9" fill="#3c3c3c" stroke="#3c3c3c" stroke-width="0.8"/><polygon points="1477.2,793.9 1482.8,796.3 1482.1,799.8 1476.5,797.3" fill="#636363" stroke="#636363" stroke-width="0.8"/><polygon points="1476.5,797.3 1482.1,799.8 1481.4,803.2 1475.9,800.8" fill="#555555" stroke="#555555" stroke-width="0.8"/><polygon points="1485.4,782.5 1491.0,784.9 1490.3,788.3 1484.8,786.0" fill="#5d5d5d" stroke="#5d5d5d" stroke-width="0.8"/><polygon points="1484.8,786.0 1490.3,788.3 1489.6,791.8 1484.1,789.4" fill="#454545" stroke="#454545" stroke-width="0.8"/><polygon points="1484.1,789.4 1489.6,791.8 1489.0,795.3 1483.4,792.9" fill="#424242" stroke="#424242" stroke-width="0.8"/><polygon points="1483.4,792.9 1489.0,795.3 1488.3,798.8 1482.8,796.3" fill="#5d5d5d" stroke="#5d5d5d" stroke-width="0.8"/><polygon points="1482.8,796.3 1488.3,798.8 1487.6,802.3 1482.1,799.8" fill="#4e4e4e" stroke="#4e4e4e" stroke-width="0.8"/><polygon points="1482.1,799.8 1487.6,802.3 1487.0,805.7 1481.4,803.2" fill="#494949" stroke="#494949" stroke-width="0.8"/><polygon points="1491.0,784.9 1496.5,787.3 1495.8,790.8 1490.3,788.3" fill="#494949" stroke="#494949" stroke-width="0.8"/><polygon points="1490.3,788.3 1495.8,790.8 1495.1,794.3 1489.6,791.8" fill="#525252" stroke="#525252" stroke-width="0.8"/><polygon points="1489.6,791.8 1495.1,794.3 1494.5,797.8 1489.0,795.3" fill="#3b3b3b" stroke="#3b3b3b" stroke-width="0.8"/><polygon points="1489.0,795.3 1494.5,797.8 1493.8,801.3 1488.3,798.8" fill="#515151" stroke="#515151" stroke-width="0.8"/><polygon points="1488.3,798.8 1493.8,801.3 1493.2,804.8 1487.6,802.3" fill="#515151" stroke="#515151" stroke-width="0.8"/><polygon points="1487.6,802.3 1493.2,804.8 1492.5,808.3 1487.0,805.7" fill="#575757" stroke="#575757" stroke-width="0.8"/><polygon points="1496.5,787.3 1501.9,789.8 1501.3,793.3 1495.8,790.8" fill="#404040" stroke="#404040" stroke-width="0.8"/><polygon points="1495.8,790.8 1501.3,793.3 1500.6,796.8 1495.1,794.3" fill="#575757" stroke="#575757" stroke-width="0.8"/><polygon points="1495.1,794.3 1500.6,796.8 1500.0,800.3 1494.5,797.8" fill="#5c5c5c" stroke="#5c5c5c" stroke-width="0.8"/><polygon points="1494.5,797.8 1500.0,800.3 1499.3,803.8 1493.8,801.3" fill="#5f5f5f" stroke="#5f5f5f" stroke-width="0.8"/><polygon points="1493.8,801.3 1499.3,803.8 1498.7,807.3 1493.2,804.8" fill="#4d4d4d" stroke="#4d4d4d" stroke-width="0.8"/><polygon points="1493.2,804.8 1498.7,807.3 1498.1,810.8 1492.5,808.3" fill="#606060" stroke="#606060" stroke-width="0.8"/><polygon points="1501.9,789.8 1507.3,792.4 1506.7,795.8 1501.3,793.3" fill="#4b4b4b" stroke="#4b4b4b" stroke-width="0.8"/><polygon points="1501.3,793.3 1506.7,795.8 1506.1,799.3 1500.6,796.8" fill="#595959" stroke="#595959" stroke-width="0.8"/><polygon points="1500.6,796.8 1506.1,799.3 1505.5,802.8 1500.0,800.3" fill="#3e3e3e" stroke="#3e3e3e" stroke-width="0.8"/><polygon points="1500.0,800.3 1505.5,802.8 1504.9,806.3 1499.3,803.8" fill="#606060" stroke="#606060" stroke-width="0.8"/><polygon points="1499.3,803.8 1504.9,806.3 1504.2,809.8 1498.7,807.3" fill="#666666" stroke="#666666" stroke-width="0.8"/><polygon points="1498.7,807.3 1504.2,809.8 1503.6,813.2 1498.1,810.8" fill="#575757" stroke="#575757" stroke-width="0.8"/><polygon points="1507.3,792.4 1512.7,795.1 1512.1,798.5 1506.7,795.8" fill="#505050" stroke="#505050" stroke-width="0.8"/><polygon points="1506.7,795.8 1512.1,798.5 1511.5,801.9 1506.1,799.3" fill="#515151" stroke="#515151" stroke-width="0.8"/><polygon points="1506.1,799.3 1511.5,801.9 1511.0,805.4 1505.5,802.8" fill="#515151" stroke="#515151" stroke-width="0.8"/><polygon points="1505.5,802.8 1511.0,805.4 1510.4,808.8 1504.9,806.3" fill="#3e3e3e" stroke="#3e3e3e" stroke-width="0.8"/><polygon points="1504.9,806.3 1510.4,808.8 1509.8,812.2 1504.2,809.8" fill="#676767" stroke="#676767" stroke-width="0.8"/><polygon points="1504.2,809.8 1509.8,812.2 1509.2,815.6 1503.6,813.2" fill="#4d4d4d" stroke="#4d4d4d" stroke-width="0.8"/><polygon points="1512.7,795.1 1518.1,797.8 1517.5,801.2 1512.1,798.5" fill="#434343" stroke="#434343" stroke-width="0.8"/><polygon points="1512.1,798.5 1517.5,801.2 1517.0,804.5 1511.5,801.9" fill="#404040" stroke="#404040" stroke-width="0.8"/><polygon points="1511.5,801.9 1517.0,804.5 1516.4,807.9 1511.0,805.4" fill="#464646" stroke="#464646" stroke-width="0.8"/><polygon points="1511.0,805.4 1516.4,807.9 1515.9,811.2 1510.4,808.8" fill="#5e5e5e" stroke="#5e5e5e" stroke-width="0.8"/><polygon points="1510.4,808.8 1515.9,811.2 1515.4,814.6 1509.8,812.2" fill="#424242" stroke="#424242" stroke-width="0.8"/><polygon points="1509.8,812.2 1515.4,814.6 1514.8,818.0 1509.2,815.6" fill="#484848" stroke="#484848" stroke-width="0.8"/><polygon points="1518.1,797.8 1523.4,800.5 1522.9,803.8 1517.5,801.2" fill="#585858" stroke="#585858" stroke-width="0.8"/><polygon points="1517.5,801.2 1522.9,803.8 1522.4,807.1 1517.0,804.5" fill="#444444" stroke="#444444" stroke-width="0.8"/><polygon points="1517.0,804.5 1522.4,807.1 1521.9,810.4 1516.4,807.9" fill="#3d3d3d" stroke="#3d3d3d" stroke-width="0.8"/><polygon points="1516.4,807.9 1521.9,810.4 1521.5,813.7 1515.9,811.2" fill="#565656" stroke="#565656" stroke-width="0.8"/><polygon points="1515.9,811.2 1521.5,813.7 1521.0,816.9 1515.4,814.6" fill="#585858" stroke="#585858" stroke-width="0.8"/><polygon points="1515.4,814.6 1521.0,816.9 1520.5,820.2 1514.8,818.0" fill="#5a5a5a" stroke="#5a5a5a" stroke-width="0.8"/><polygon points="1523.4,800.5 1528.8,803.2 1528.4,806.4 1522.9,803.8" fill="#595959" stroke="#595959" stroke-width="0.8"/><polygon points="1522.9,803.8 1528.4,806.4 1527.9,809.6 1522.4,807.1" fill="#414141" stroke="#414141" stroke-width="0.8"/><polygon points="1522.4,807.1 1527.9,809.6 1527.5,812.8 1521.9,810.4" fill="#5f5f5f" stroke="#5f5f5f" stroke-width="0.8"/><polygon points="1521.9,810.4 1527.5,812.8 1527.0,816.0 1521.5,813.7" fill="#5b5b5b" stroke="#5b5b5b" stroke-width="0.8"/><polygon points="1521.5,813.7 1527.0,816.0 1526.6,819.2 1521.0,816.9" fill="#444444" stroke="#444444" stroke-width="0.8"/><polygon points="1521.0,816.9 1526.6,819.2 1526.2,822.4 1520.5,820.2" fill="#4a4a4a" stroke="#4a4a4a" stroke-width="0.8"/><polygon points="1528.8,803.2 1534.2,805.8 1533.8,808.9 1528.4,806.4" fill="#515151" stroke="#515151" stroke-width="0.8"/><polygon points="1528.4,806.4 1533.8,808.9 1533.4,812.0 1527.9,809.6" fill="#515151" stroke="#515151" stroke-width="0.8"/><polygon points="1527.9,809.6 1533.4,812.0 1533.0,815.1 1527.5,812.8" fill="#484848" stroke="#484848" stroke-width="0.8"/><polygon points="1527.5,812.8 1533.0,815.1 1532.7,818.3 1527.0,816.0" fill="#444444" stroke="#444444" stroke-width="0.8"/><polygon points="1527.0,816.0 1532.7,818.3 1532.3,821.4 1526.6,819.2" fill="#525252" stroke="#525252" stroke-width="0.8"/><polygon points="1526.6,819.2 1532.3,821.4 1531.9,824.5 1526.2,822.4" fill="#4b4b4b" stroke="#4b4b4b" stroke-width="0.8"/><polygon points="1534.2,805.8 1539.7,808.2 1539.4,811.2 1533.8,808.9" fill="#555555" stroke="#555555" stroke-width="0.8"/><polygon points="1533.8,808.9 1539.4,811.2 1539.0,814.3 1533.4,812.0" fill="#606060" stroke="#606060" stroke-width="0.8"/><polygon points="1533.4,812.0 1539.0,814.3 1538.7,817.3 1533.0,815.1" fill="#434343" stroke="#434343" stroke-width="0.8"/><polygon points="1533.0,815.1 1538.7,817.3 1538.3,820.4 1532.7,818.3" fill="#565656" stroke="#565656" stroke-width="0.8"/><polygon points="1532.7,818.3 1538.3,820.4 1538.0,823.5 1532.3,821.4" fill="#606060" stroke="#606060" stroke-width="0.8"/><polygon points="1532.3,821.4 1538.0,823.5 1537.6,826.5 1531.9,824.5" fill="#4c4c4c" stroke="#4c4c4c" stroke-width="0.8"/><polygon points="1539.7,808.2 1545.3,810.4 1545.0,813.4 1539.4,811.2" fill="#626262" stroke="#626262" stroke-width="0.8"/><polygon points="1539.4,811.2 1545.0,813.4 1544.7,816.4 1539.0,814.3" fill="#676767" stroke="#676767" stroke-width="0.8"/><polygon points="1539.0,814.3 1544.7,816.4 1544.3,819.4 1538.7,817.3" fill="#515151" stroke="#515151" stroke-width="0.8"/><polygon points="1538.7,817.3 1544.3,819.4 1544.0,822.4 1538.3,820.4" fill="#545454" stroke="#545454" stroke-width="0.8"/><polygon points="1538.3,820.4 1544.0,822.4 1543.7,825.4 1538.0,823.5" fill="#686868" stroke="#686868" stroke-width="0.8"/><polygon points="1538.0,823.5 1543.7,825.4 1543.4,828.4 1537.6,826.5" fill="#5f5f5f" stroke="#5f5f5f" stroke-width="0.8"/><polygon points="1545.3,810.4 1551.0,812.4 1550.7,815.4 1545.0,813.4" fill="#555555" stroke="#555555" stroke-width="0.8"/><polygon points="1545.0,813.4 1550.7,815.4 1550.4,818.4 1544.7,816.4" fill="#6b6b6b" stroke="#6b6b6b" stroke-width="0.8"/><polygon points="1544.7,816.4 1550.4,818.4 1550.1,821.3 1544.3,819.4" fill="#656565" stroke="#656565" stroke-width="0.8"/><polygon points="1544.3,819.4 1550.1,821.3 1549.8,824.3 1544.0,822.4" fill="#555555" stroke="#555555" stroke-width="0.8"/><polygon points="1544.0,822.4 1549.8,824.3 1549.5,827.3 1543.7,825.4" fill="#545454" stroke="#545454" stroke-width="0.8"/><polygon points="1543.7,825.4 1549.5,827.3 1549.1,830.3 1543.4,828.4" fill="#5b5b5b" stroke="#5b5b5b" stroke-width="0.8"/><polygon points="1551.0,812.4 1556.7,814.2 1556.4,817.2 1550.7,815.4" fill="#5b5b5b" stroke="#5b5b5b" stroke-width="0.8"/><polygon points="1550.7,815.4 1556.4,817.2 1556.1,820.2 1550.4,818.4" fill="#717171" stroke="#717171" stroke-width="0.8"/><polygon points="1550.4,818.4 1556.1,820.2 1555.8,823.1 1550.1,821.3" fill="#6a6a6a" stroke="#6a6a6a" stroke-width="0.8"/><polygon points="1550.1,821.3 1555.8,823.1 1555.5,826.1 1549.8,824.3" fill="#707070" stroke="#707070" stroke-width="0.8"/><polygon points="1549.8,824.3 1555.5,826.1 1555.3,829.1 1549.5,827.3" fill="#707070" stroke="#707070" stroke-width="0.8"/><polygon points="1549.5,827.3 1555.3,829.1 1555.0,832.1 1549.1,830.3" fill="#747474" stroke="#747474" stroke-width="0.8"/><polygon points="1556.7,814.2 1562.5,815.8 1562.2,818.8 1556.4,817.2" fill="#515151" stroke="#515151" stroke-width="0.8"/><polygon points="1556.4,817.2 1562.2,818.8 1561.9,821.8 1556.1,820.2" fill="#636363" stroke="#636363" stroke-width="0.8"/><polygon points="1556.1,820.2 1561.9,821.8 1561.6,824.8 1555.8,823.1" fill="#757575" stroke="#757575" stroke-width="0.8"/><polygon points="1555.8,823.1 1561.6,824.8 1561.4,827.8 1555.5,826.1" fill="#757575" stroke="#757575" stroke-width="0.8"/><polygon points="1555.5,826.1 1561.4,827.8 1561.1,830.8 1555.3,829.1" fill="#5d5d5d" stroke="#5d5d5d" stroke-width="0.8"/><polygon points="1555.3,829.1 1561.1,830.8 1560.8,833.8 1555.0,832.1" fill="#686868" stroke="#686868" stroke-width="0.8"/><polygon points="1562.5,815.8 1568.3,817.2 1568.0,820.3 1562.2,818.8" fill="#6c6c6c" stroke="#6c6c6c" stroke-width="0.8"/><polygon points="1562.2,818.8 1568.0,820.3 1567.8,823.3 1561.9,821.8" fill="#616161" stroke="#616161" stroke-width="0.8"/><polygon points="1561.9,821.8 1567.8,823.3 1567.5,826.3 1561.6,824.8" fill="#686868" stroke="#686868" stroke-width="0.8"/><polygon points="1561.6,824.8 1567.5,826.3 1567.2,829.3 1561.4,827.8" fill="#575757" stroke="#575757" stroke-width="0.8"/><polygon points="1561.4,827.8 1567.2,829.3 1566.9,832.3 1561.1,830.8" fill="#696969" stroke="#696969" stroke-width="0.8"/><polygon points="1561.1,830.8 1566.9,832.3 1566.7,835.4 1560.8,833.8" fill="#6f6f6f" stroke="#6f6f6f" stroke-width="0.8"/><polygon points="1568.3,817.2 1574.2,818.5 1573.9,821.6 1568.0,820.3" fill="#585858" stroke="#585858" stroke-width="0.8"/><polygon points="1568.0,820.3 1573.9,821.6 1573.6,824.7 1567.8,823.3" fill="#5d5d5d" stroke="#5d5d5d" stroke-width="0.8"/><polygon points="1567.8,823.3 1573.6,824.7 1573.4,827.7 1567.5,826.3" fill="#7e7e7e" stroke="#7e7e7e" stroke-width="0.8"/><polygon points="1567.5,826.3 1573.4,827.7 1573.1,830.8 1567.2,829.3" fill="#787878" stroke="#787878" stroke-width="0.8"/><polygon points="1567.2,829.3 1573.1,830.8 1572.8,833.8 1566.9,832.3" fill="#828282" stroke="#828282" stroke-width="0.8"/><polygon points="1566.9,832.3 1572.8,833.8 1572.6,836.9 1566.7,835.4" fill="#797979" stroke="#797979" stroke-width="0.8"/><polygon points="1574.2,818.5 1580.1,819.7 1579.8,822.8 1573.9,821.6" fill="#7c7c7c" stroke="#7c7c7c" stroke-width="0.8"/><polygon points="1573.9,821.6 1579.8,822.8 1579.5,825.9 1573.6,824.7" fill="#7f7f7f" stroke="#7f7f7f" stroke-width="0.8"/><polygon points="1573.6,824.7 1579.5,825.9 1579.3,829.0 1573.4,827.7" fill="#7f7f7f" stroke="#7f7f7f" stroke-width="0.8"/><polygon points="1573.4,827.7 1579.3,829.0 1579.0,832.1 1573.1,830.8" fill="#5e5e5e" stroke="#5e5e5e" stroke-width="0.8"/><polygon points="1573.1,830.8 1579.0,832.1 1578.7,835.3 1572.8,833.8" fill="#7a7a7a" stroke="#7a7a7a" stroke-width="0.8"/><polygon points="1572.8,833.8 1578.7,835.3 1578.5,838.4 1572.6,836.9" fill="#6e6e6e" stroke="#6e6e6e" stroke-width="0.8"/><polygon points="1580.1,819.7 1586.0,820.8 1585.7,823.9 1579.8,822.8" fill="#7a7a7a" stroke="#7a7a7a" stroke-width="0.8"/><polygon points="1579.8,822.8 1585.7,823.9 1585.5,827.1 1579.5,825.9" fill="#6a6a6a" stroke="#6a6a6a" stroke-width="0.8"/><polygon points="1579.5,825.9 1585.5,827.1 1585.2,830.3 1579.3,829.0" fill="#757575" stroke="#757575" stroke-width="0.8"/><polygon points="1579.3,829.0 1585.2,830.3 1584.9,833.4 1579.0,832.1" fill="#868686" stroke="#868686" stroke-width="0.8"/><polygon points="1579.0,832.1 1584.9,833.4 1584.6,836.6 1578.7,835.3" fill="#7d7d7d" stroke="#7d7d7d" stroke-width="0.8"/><polygon points="1578.7,835.3 1584.6,836.6 1584.4,839.8 1578.5,838.4" fill="#727272" stroke="#727272" stroke-width="0.8"/><polygon points="1586.0,820.8 1591.9,821.7 1591.7,825.0 1585.7,823.9" fill="#787878" stroke="#787878" stroke-width="0.8"/><polygon points="1585.7,823.9 1591.7,825.0 1591.4,828.2 1585.5,827.1" fill="#757575" stroke="#757575" stroke-width="0.8"/><polygon points="1585.5,827.1 1591.4,828.2 1591.1,831.5 1585.2,830.3" fill="#898989" stroke="#898989" stroke-width="0.8"/><polygon points="1585.2,830.3 1591.1,831.5 1590.8,834.7 1584.9,833.4" fill="#707070" stroke="#707070" stroke-width="0.8"/><polygon points="1584.9,833.4 1590.8,834.7 1590.6,837.9 1584.6,836.6" fill="#757575" stroke="#757575" stroke-width="0.8"/><polygon points="1584.6,836.6 1590.6,837.9 1590.3,841.2 1584.4,839.8" fill="#868686" stroke="#868686" stroke-width="0.8"/><polygon points="1591.9,821.7 1597.9,822.6 1597.6,825.9 1591.7,825.0" fill="#6c6c6c" stroke="#6c6c6c" stroke-width="0.8"/><polygon points="1591.7,825.0 1597.6,825.9 1597.3,829.3 1591.4,828.2" fill="#7f7f7f" stroke="#7f7f7f" stroke-width="0.8"/><polygon points="1591.4,828.2 1597.3,829.3 1597.1,832.6 1591.1,831.5" fill="#8e8e8e" stroke="#8e8e8e" stroke-width="0.8"/><polygon points="1591.1,831.5 1597.1,832.6 1596.8,835.9 1590.8,834.7" fill="#7e7e7e" stroke="#7e7e7e" stroke-width="0.8"/><polygon points="1590.8,834.7 1596.8,835.9 1596.5,839.2 1590.6,837.9" fill="#777777" stroke="#777777" stroke-width="0.8"/><polygon points="1590.6,837.9 1596.5,839.2 1596.2,842.6 1590.3,841.2" fill="#828282" stroke="#828282" stroke-width="0.8"/><polygon points="1597.9,822.6 1603.8,823.4 1603.6,826.8 1597.6,825.9" fill="#818181" stroke="#818181" stroke-width="0.8"/><polygon points="1597.6,825.9 1603.6,826.8 1603.3,830.2 1597.3,829.3" fill="#717171" stroke="#717171" stroke-width="0.8"/><polygon points="1597.3,829.3 1603.3,830.2 1603.0,833.6 1597.1,832.6" fill="#707070" stroke="#707070" stroke-width="0.8"/><polygon points="1597.1,832.6 1603.0,833.6 1602.7,837.0 1596.8,835.9" fill="#727272" stroke="#727272" stroke-width="0.8"/><polygon points="1596.8,835.9 1602.7,837.0 1602.5,840.5 1596.5,839.2" fill="#7c7c7c" stroke="#7c7c7c" stroke-width="0.8"/><polygon points="1596.5,839.2 1602.5,840.5 1602.2,843.9 1596.2,842.6" fill="#848484" stroke="#848484" stroke-width="0.8"/><polygon points="1603.8,823.4 1609.8,824.2 1609.5,827.7 1603.6,826.8" fill="#7b7b7b" stroke="#7b7b7b" stroke-width="0.8"/><polygon points="1603.6,826.8 1609.5,827.7 1609.3,831.1 1603.3,830.2" fill="#797979" stroke="#797979" stroke-width="0.8"/><polygon points="1603.3,830.2 1609.3,831.1 1609.0,834.6 1603.0,833.6" fill="#737373" stroke="#737373" stroke-width="0.8"/><polygon points="1603.0,833.6 1609.0,834.6 1608.7,838.1 1602.7,837.0" fill="#878787" stroke="#878787" stroke-width="0.8"/><polygon points="1602.7,837.0 1608.7,838.1 1608.4,841.6 1602.5,840.5" fill="#969696" stroke="#969696" stroke-width="0.8"/><polygon points="1602.5,840.5 1608.4,841.6 1608.1,845.1 1602.2,843.9" fill="#909090" stroke="#909090" stroke-width="0.8"/><polygon points="1609.8,824.2 1615.8,824.9 1615.5,828.4 1609.5,827.7" fill="#8a8a8a" stroke="#8a8a8a" stroke-width="0.8"/><polygon points="1609.5,827.7 1615.5,828.4 1615.2,832.0 1609.3,831.1" fill="#8d8d8d" stroke="#8d8d8d" stroke-width="0.8"/><polygon points="1609.3,831.1 1615.2,832.0 1614.9,835.5 1609.0,834.6" fill="#7c7c7c" stroke="#7c7c7c" stroke-width="0.8"/><polygon points="1609.0,834.6 1614.9,835.5 1614.7,839.1 1608.7,838.1" fill="#929292" stroke="#929292" stroke-width="0.8"/><polygon points="1608.7,838.1 1614.7,839.1 1614.4,842.7 1608.4,841.6" fill="#8b8b8b" stroke="#8b8b8b" stroke-width="0.8"/><polygon points="1608.4,841.6 1614.4,842.7 1614.1,846.2 1608.1,845.1" fill="#929292" stroke="#929292" stroke-width="0.8"/><polygon points="1615.8,824.9 1621.8,825.4 1621.5,829.1 1615.5,828.4" fill="#909090" stroke="#909090" stroke-width="0.8"/><polygon points="1615.5,828.4 1621.5,829.1 1621.2,832.7 1615.2,832.0" fill="#8a8a8a" stroke="#8a8a8a" stroke-width="0.8"/><polygon points="1615.2,832.0 1621.2,832.7 1620.9,836.3 1614.9,835.5" fill="#848484" stroke="#848484" stroke-width="0.8"/><polygon points="1614.9,835.5 1620.9,836.3 1620.7,840.0 1614.7,839.1" fill="#838383" stroke="#838383" stroke-width="0.8"/><polygon points="1614.7,839.1 1620.7,840.0 1620.4,843.6 1614.4,842.7" fill="#858585" stroke="#858585" stroke-width="0.8"/><polygon points="1614.4,842.7 1620.4,843.6 1620.1,847.2 1614.1,846.2" fill="#949494" stroke="#949494" stroke-width="0.8"/><polygon points="1621.8,825.4 1627.8,826.0 1627.5,829.7 1621.5,829.1" fill="#878787" stroke="#878787" stroke-width="0.8"/><polygon points="1621.5,829.1 1627.5,829.7 1627.2,833.3 1621.2,832.7" fill="#8f8f8f" stroke="#8f8f8f" stroke-width="0.8"/><polygon points="1621.2,832.7 1627.2,833.3 1626.9,837.0 1620.9,836.3" fill="#787878" stroke="#787878" stroke-width="0.8"/><polygon points="1620.9,836.3 1626.9,837.0 1626.7,840.7 1620.7,840.0" fill="#878787" stroke="#878787" stroke-width="0.8"/><polygon points="1620.7,840.0 1626.7,840.7 1626.4,844.4 1620.4,843.6" fill="#9f9f9f" stroke="#9f9f9f" stroke-width="0.8"/><polygon points="1620.4,843.6 1626.4,844.4 1626.1,848.1 1620.1,847.2" fill="#898989" stroke="#898989" stroke-width="0.8"/><polygon points="1627.8,826.0 1633.8,826.4 1633.5,830.1 1627.5,829.7" fill="#8e8e8e" stroke="#8e8e8e" stroke-width="0.8"/><polygon points="1627.5,829.7 1633.5,830.1 1633.2,833.9 1627.2,833.3" fill="#8b8b8b" stroke="#8b8b8b" stroke-width="0.8"/><polygon points="1627.2,833.3 1633.2,833.9 1633.0,837.6 1626.9,837.0" fill="#838383" stroke="#838383" stroke-width="0.8"/><polygon points="1626.9,837.0 1633.0,837.6 1632.7,841.3 1626.7,840.7" fill="#a1a1a1" stroke="#a1a1a1" stroke-width="0.8"/><polygon points="1626.7,840.7 1632.7,841.3 1632.4,845.0 1626.4,844.4" fill="#888888" stroke="#888888" stroke-width="0.8"/><polygon points="1626.4,844.4 1632.4,845.0 1632.1,848.8 1626.1,848.1" fill="#9f9f9f" stroke="#9f9f9f" stroke-width="0.8"/><polygon points="1633.8,826.4 1639.8,826.8 1639.5,830.6 1633.5,830.1" fill="#7e7e7e" stroke="#7e7e7e" stroke-width="0.8"/><polygon points="1633.5,830.1 1639.5,830.6 1639.2,834.3 1633.2,833.9" fill="#7a7a7a" stroke="#7a7a7a" stroke-width="0.8"/><polygon points="1633.2,833.9 1639.2,834.3 1639.0,838.1 1633.0,837.6" fill="#9a9a9a" stroke="#9a9a9a" stroke-width="0.8"/><polygon points="1633.0,837.6 1639.0,838.1 1638.7,841.8 1632.7,841.3" fill="#8b8b8b" stroke="#8b8b8b" stroke-width="0.8"/><polygon points="1632.7,841.3 1638.7,841.8 1638.5,845.5 1632.4,845.0" fill="#7f7f7f" stroke="#7f7f7f" stroke-width="0.8"/><polygon points="1632.4,845.0 1638.5,845.5 1638.2,849.3 1632.1,848.8" fill="#8f8f8f" stroke="#8f8f8f" stroke-width="0.8"/><polygon points="1639.8,826.8 1645.8,827.2 1645.5,830.9 1639.5,830.6" fill="#898989" stroke="#898989" stroke-width="0.8"/><polygon points="1639.5,830.6 1645.5,830.9 1645.3,834.7 1639.2,834.3" fill="#959595" stroke="#959595" stroke-width="0.8"/><polygon points="1639.2,834.3 1645.3,834.7 1645.0,838.4 1639.0,838.1" fill="#7c7c7c" stroke="#7c7c7c" stroke-width="0.8"/><polygon points="1639.0,838.1 1645.0,838.4 1644.8,842.2 1638.7,841.8" fill="#828282" stroke="#828282" stroke-width="0.8"/><polygon points="1638.7,841.8 1644.8,842.2 1644.5,845.9 1638.5,845.5" fill="#a3a3a3" stroke="#a3a3a3" stroke-width="0.8"/><polygon points="1638.5,845.5 1644.5,845.9 1644.3,849.7 1638.2,849.3" fill="#9d9d9d" stroke="#9d9d9d" stroke-width="0.8"/><polygon points="1645.8,827.2 1651.8,827.5 1651.5,831.2 1645.5,830.9" fill="#7e7e7e" stroke="#7e7e7e" stroke-width="0.8"/><polygon points="1645.5,830.9 1651.5,831.2 1651.3,835.0 1645.3,834.7" fill="#858585" stroke="#858585" stroke-width="0.8"/><polygon points="1645.3,834.7 1651.3,835.0 1651.1,838.7 1645.0,838.4" fill="#868686" stroke="#868686" stroke-width="0.8"/><polygon points="1645.0,838.4 1651.1,838.7 1650.8,842.4 1644.8,842.2" fill="#949494" stroke="#949494" stroke-width="0.8"/><polygon points="1644.8,842.2 1650.8,842.4 1650.6,846.2 1644.5,845.9" fill="#959595" stroke="#959595" stroke-width="0.8"/><polygon points="1644.5,845.9 1650.6,846.2 1650.3,849.9 1644.3,849.7" fill="#a2a2a2" stroke="#a2a2a2" stroke-width="0.8"/><polygon points="1651.8,827.5 1657.8,827.8 1657.6,831.5 1651.5,831.2" fill="#989898" stroke="#989898" stroke-width="0.8"/><polygon points="1651.5,831.2 1657.6,831.5 1657.3,835.2 1651.3,835.0" fill="#8c8c8c" stroke="#8c8c8c" stroke-width="0.8"/><polygon points="1651.3,835.0 1657.3,835.2 1657.1,838.9 1651.1,838.7" fill="#959595" stroke="#959595" stroke-width="0.8"/><polygon points="1651.1,838.7 1657.1,838.9 1656.9,842.7 1650.8,842.4" fill="#979797" stroke="#979797" stroke-width="0.8"/><polygon points="1650.8,842.4 1656.9,842.7 1656.6,846.4 1650.6,846.2" fill="#9b9b9b" stroke="#9b9b9b" stroke-width="0.8"/><polygon points="1650.6,846.2 1656.6,846.4 1656.4,850.1 1650.3,849.9" fill="#939393" stroke="#939393" stroke-width="0.8"/><polygon points="1657.8,827.8 1663.8,828.1 1663.6,831.8 1657.6,831.5" fill="#979797" stroke="#979797" stroke-width="0.8"/><polygon points="1657.6,831.5 1663.6,831.8 1663.4,835.5 1657.3,835.2" fill="#949494" stroke="#949494" stroke-width="0.8"/><polygon points="1657.3,835.2 1663.4,835.5 1663.1,839.2 1657.1,838.9" fill="#9c9c9c" stroke="#9c9c9c" stroke-width="0.8"/><polygon points="1657.1,838.9 1663.1,839.2 1662.9,842.9 1656.9,842.7" fill="#7e7e7e" stroke="#7e7e7e" stroke-width="0.8"/><polygon points="1656.9,842.7 1662.9,842.9 1662.7,846.6 1656.6,846.4" fill="#9f9f9f" stroke="#9f9f9f" stroke-width="0.8"/><polygon points="1656.6,846.4 1662.7,846.6 1662.5,850.3 1656.4,850.1" fill="#808080" stroke="#808080" stroke-width="0.8"/><polygon points="1663.8,828.1 1669.8,828.4 1669.6,832.1 1663.6,831.8" fill="#969696" stroke="#969696" stroke-width="0.8"/><polygon points="1663.6,831.8 1669.6,832.1 1669.4,835.7 1663.4,835.5" fill="#8f8f8f" stroke="#8f8f8f" stroke-width="0.8"/><polygon points="1663.4,835.5 1669.4,835.7 1669.2,839.4 1663.1,839.2" fill="#8b8b8b" stroke="#8b8b8b" stroke-width="0.8"/><polygon points="1663.1,839.2 1669.2,839.4 1669.0,843.1 1662.9,842.9" fill="#a0a0a0" stroke="#a0a0a0" stroke-width="0.8"/><polygon points="1662.9,842.9 1669.0,843.1 1668.8,846.8 1662.7,846.6" fill="#939393" stroke="#939393" stroke-width="0.8"/><polygon points="1662.7,846.6 1668.8,846.8 1668.6,850.4 1662.5,850.3" fill="#919191" stroke="#919191" stroke-width="0.8"/><polygon points="1669.8,828.4 1675.8,828.8 1675.6,832.4 1669.6,832.1" fill="#979797" stroke="#979797" stroke-width="0.8"/><polygon points="1669.6,832.1 1675.6,832.4 1675.4,836.0 1669.4,835.7" fill="#9a9a9a" stroke="#9a9a9a" stroke-width="0.8"/><polygon points="1669.4,835.7 1675.4,836.0 1675.2,839.7 1669.2,839.4" fill="#909090" stroke="#909090" stroke-width="0.8"/><polygon points="1669.2,839.4 1675.2,839.7 1675.0,843.3 1669.0,843.1" fill="#888888" stroke="#888888" stroke-width="0.8"/><polygon points="1669.0,843.1 1675.0,843.3 1674.8,847.0 1668.8,846.8" fill="#8f8f8f" stroke="#8f8f8f" stroke-width="0.8"/><polygon points="1668.8,846.8 1674.8,847.0 1674.7,850.6 1668.6,850.4" fill="#929292" stroke="#929292" stroke-width="0.8"/><polygon points="1675.8,828.8 1681.8,829.1 1681.6,832.7 1675.6,832.4" fill="#949494" stroke="#949494" stroke-width="0.8"/><polygon points="1675.6,832.4 1681.6,832.7 1681.5,836.4 1675.4,836.0" fill="#838383" stroke="#838383" stroke-width="0.8"/><polygon points="1675.4,836.0 1681.5,836.4 1681.3,840.0 1675.2,839.7" fill="#878787" stroke="#878787" stroke-width="0.8"/><polygon points="1675.2,839.7 1681.3,840.0 1681.1,843.6 1675.0,843.3" fill="#8f8f8f" stroke="#8f8f8f" stroke-width="0.8"/><polygon points="1675.0,843.3 1681.1,843.6 1680.9,847.2 1674.8,847.0" fill="#8c8c8c" stroke="#8c8c8c" stroke-width="0.8"/><polygon points="1674.8,847.0 1680.9,847.2 1680.7,850.8 1674.7,850.6" fill="#8d8d8d" stroke="#8d8d8d" stroke-width="0.8"/><polygon points="1681.8,829.1 1687.8,829.6 1687.7,833.1 1681.6,832.7" fill="#979797" stroke="#979797" stroke-width="0.8"/><polygon points="1681.6,832.7 1687.7,833.1 1687.5,836.7 1681.5,836.4" fill="#999999" stroke="#999999" stroke-width="0.8"/><polygon points="1681.5,836.4 1687.5,836.7 1687.3,840.3 1681.3,840.0" fill="#8b8b8b" stroke="#8b8b8b" stroke-width="0.8"/><polygon points="1681.3,840.0 1687.3,840.3 1687.2,843.9 1681.1,843.6" fill="#8b8b8b" stroke="#8b8b8b" stroke-width="0.8"/><polygon points="1681.1,843.6 1687.2,843.9 1687.0,847.4 1680.9,847.2" fill="#848484" stroke="#848484" stroke-width="0.8"/><polygon points="1680.9,847.2 1687.0,847.4 1686.8,851.0 1680.7,850.8" fill="#8c8c8c" stroke="#8c8c8c" stroke-width="0.8"/><polygon points="1687.8,829.6 1693.8,830.0 1693.7,833.5 1687.7,833.1" fill="#7d7d7d" stroke="#7d7d7d" stroke-width="0.8"/><polygon points="1687.7,833.1 1693.7,833.5 1693.5,837.1 1687.5,836.7" fill="#8e8e8e" stroke="#8e8e8e" stroke-width="0.8"/><polygon points="1687.5,836.7 1693.5,837.1 1693.4,840.6 1687.3,840.3" fill="#8e8e8e" stroke="#8e8e8e" stroke-width="0.8"/><polygon points="1687.3,840.3 1693.4,840.6 1693.2,844.2 1687.2,843.9" fill="#7c7c7c" stroke="#7c7c7c" stroke-width="0.8"/><polygon points="1687.2,843.9 1693.2,844.2 1693.0,847.7 1687.0,847.4" fill="#a1a1a1" stroke="#a1a1a1" stroke-width="0.8"/><polygon points="1687.0,847.4 1693.0,847.7 1692.9,851.3 1686.8,851.0" fill="#8c8c8c" stroke="#8c8c8c" stroke-width="0.8"/><polygon points="1693.8,830.0 1699.8,830.4 1699.7,833.9 1693.7,833.5" fill="#969696" stroke="#969696" stroke-width="0.8"/><polygon points="1693.7,833.5 1699.7,833.9 1699.5,837.4 1693.5,837.1" fill="#969696" stroke="#969696" stroke-width="0.8"/><polygon points="1693.5,837.1 1699.5,837.4 1699.4,840.9 1693.4,840.6" fill="#9b9b9b" stroke="#9b9b9b" stroke-width="0.8"/><polygon points="1693.4,840.6 1699.4,840.9 1699.3,844.4 1693.2,844.2" fill="#7f7f7f" stroke="#7f7f7f" stroke-width="0.8"/><polygon points="1693.2,844.2 1699.3,844.4 1699.1,848.0 1693.0,847.7" fill="#8b8b8b" stroke="#8b8b8b" stroke-width="0.8"/><polygon points="1693.0,847.7 1699.1,848.0 1699.0,851.5 1692.9,851.3" fill="#a1a1a1" stroke="#a1a1a1" stroke-width="0.8"/><polygon points="1699.8,830.4 1705.8,830.8 1705.7,834.2 1699.7,833.9" fill="#737373" stroke="#737373" stroke-width="0.8"/><polygon points="1699.7,833.9 1705.7,834.2 1705.6,837.7 1699.5,837.4" fill="#747474" stroke="#747474" stroke-width="0.8"/><polygon points="1699.5,837.4 1705.6,837.7 1705.4,841.2 1699.4,840.9" fill="#898989" stroke="#898989" stroke-width="0.8"/><polygon points="1699.4,840.9 1705.4,841.2 1705.3,844.7 1699.3,844.4" fill="#888888" stroke="#888888" stroke-width="0.8"/><polygon points="1699.3,844.4 1705.3,844.7 1705.2,848.2 1699.1,848.0" fill="#9c9c9c" stroke="#9c9c9c" stroke-width="0.8"/><polygon points="1699.1,848.0 1705.2,848.2 1705.1,851.7 1699.0,851.5" fill="#999999" stroke="#999999" stroke-width="0.8"/><polygon points="1705.8,830.8 1711.8,831.1 1711.7,834.5 1705.7,834.2" fill="#858585" stroke="#858585" stroke-width="0.8"/><polygon points="1705.7,834.2 1711.7,834.5 1711.6,838.0 1705.6,837.7" fill="#989898" stroke="#989898" stroke-width="0.8"/><polygon points="1705.6,837.7 1711.6,838.0 1711.5,841.4 1705.4,841.2" fill="#848484" stroke="#848484" stroke-width="0.8"/><polygon points="1705.4,841.2 1711.5,841.4 1711.4,844.9 1705.3,844.7" fill="#868686" stroke="#868686" stroke-width="0.8"/><polygon points="1705.3,844.7 1711.4,844.9 1711.3,848.3 1705.2,848.2" fill="#909090" stroke="#909090" stroke-width="0.8"/><polygon points="1705.2,848.2 1711.3,848.3 1711.1,851.8 1705.1,851.7" fill="#888888" stroke="#888888" stroke-width="0.8"/><polygon points="1711.8,831.1 1717.8,831.3 1717.7,834.7 1711.7,834.5" fill="#7b7b7b" stroke="#7b7b7b" stroke-width="0.8"/><polygon points="1711.7,834.5 1717.7,834.7 1717.6,838.1 1711.6,838.0" fill="#858585" stroke="#858585" stroke-width="0.8"/><polygon points="1711.6,838.0 1717.6,838.1 1717.5,841.5 1711.5,841.4" fill="#7b7b7b" stroke="#7b7b7b" stroke-width="0.8"/><polygon points="1711.5,841.4 1717.5,841.5 1717.4,845.0 1711.4,844.9" fill="#959595" stroke="#959595" stroke-width="0.8"/><polygon points="1711.4,844.9 1717.4,845.0 1717.3,848.4 1711.3,848.3" fill="#8d8d8d" stroke="#8d8d8d" stroke-width="0.8"/><polygon points="1711.3,848.3 1717.3,848.4 1717.2,851.8 1711.1,851.8" fill="#8a8a8a" stroke="#8a8a8a" stroke-width="0.8"/><polygon points="1717.8,831.3 1723.9,831.4 1723.8,834.8 1717.7,834.7" fill="#6f6f6f" stroke="#6f6f6f" stroke-width="0.8"/><polygon points="1717.7,834.7 1723.8,834.8 1723.7,838.2 1717.6,838.1" fill="#7a7a7a" stroke="#7a7a7a" stroke-width="0.8"/><polygon points="1717.6,838.1 1723.7,838.2 1723.6,841.6 1717.5,841.5" fill="#7b7b7b" stroke="#7b7b7b" stroke-width="0.8"/><polygon points="1717.5,841.5 1723.6,841.6 1723.5,845.0 1717.4,845.0" fill="#838383" stroke="#838383" stroke-width="0.8"/><polygon points="1717.4,845.0 1723.5,845.0 1723.4,848.4 1717.3,848.4" fill="#878787" stroke="#878787" stroke-width="0.8"/><polygon points="1717.3,848.4 1723.4,848.4 1723.3,851.8 1717.2,851.8" fill="#969696" stroke="#969696" stroke-width="0.8"/><polygon points="1723.9,831.4 1729.9,831.4 1729.8,834.8 1723.8,834.8" fill="#8f8f8f" stroke="#8f8f8f" stroke-width="0.8"/><polygon points="1723.8,834.8 1729.8,834.8 1729.7,838.2 1723.7,838.2" fill="#7c7c7c" stroke="#7c7c7c" stroke-width="0.8"/><polygon points="1723.7,838.2 1729.7,838.2 1729.6,841.5 1723.6,841.6" fill="#7a7a7a" stroke="#7a7a7a" stroke-width="0.8"/><polygon points="1723.6,841.6 1729.6,841.5 1729.5,844.9 1723.5,845.0" fill="#838383" stroke="#838383" stroke-width="0.8"/><polygon points="1723.5,845.0 1729.5,844.9 1729.5,848.3 1723.4,848.4" fill="#959595" stroke="#959595" stroke-width="0.8"/><polygon points="1723.4,848.4 1729.5,848.3 1729.4,851.6 1723.3,851.8" fill="#7e7e7e" stroke="#7e7e7e" stroke-width="0.8"/><polygon points="1729.9,831.4 1735.9,831.4 1735.8,834.7 1729.8,834.8" fill="#7b7b7b" stroke="#7b7b7b" stroke-width="0.8"/><polygon points="1729.8,834.8 1735.8,834.7 1735.7,838.0 1729.7,838.2" fill="#868686" stroke="#868686" stroke-width="0.8"/><polygon points="1729.7,838.2 1735.7,838.0 1735.7,841.4 1729.6,841.5" fill="#6c6c6c" stroke="#6c6c6c" stroke-width="0.8"/><polygon points="1729.6,841.5 1735.7,841.4 1735.6,844.7 1729.5,844.9" fill="#747474" stroke="#747474" stroke-width="0.8"/><polygon points="1729.5,844.9 1735.6,844.7 1735.5,848.1 1729.5,848.3" fill="#929292" stroke="#929292" stroke-width="0.8"/><polygon points="1729.5,848.3 1735.5,848.1 1735.5,851.4 1729.4,851.6" fill="#8f8f8f" stroke="#8f8f8f" stroke-width="0.8"/><polygon points="1735.9,831.4 1741.9,831.2 1741.8,834.5 1735.8,834.7" fill="#777777" stroke="#777777" stroke-width="0.8"/><polygon points="1735.8,834.7 1741.8,834.5 1741.8,837.8 1735.7,838.0" fill="#676767" stroke="#676767" stroke-width="0.8"/><polygon points="1735.7,838.0 1741.8,837.8 1741.7,841.1 1735.7,841.4" fill="#878787" stroke="#878787" stroke-width="0.8"/><polygon points="1735.7,841.4 1741.7,841.1 1741.7,844.5 1735.6,844.7" fill="#808080" stroke="#808080" stroke-width="0.8"/><polygon points="1735.6,844.7 1741.7,844.5 1741.6,847.8 1735.5,848.1" fill="#898989" stroke="#898989" stroke-width="0.8"/><polygon points="1735.5,848.1 1741.6,847.8 1741.5,851.1 1735.5,851.4" fill="#939393" stroke="#939393" stroke-width="0.8"/><polygon points="1741.9,831.2 1747.9,831.0 1747.9,834.3 1741.8,834.5" fill="#848484" stroke="#848484" stroke-width="0.8"/><polygon points="1741.8,834.5 1747.9,834.3 1747.8,837.5 1741.8,837.8" fill="#717171" stroke="#717171" stroke-width="0.8"/><polygon points="1741.8,837.8 1747.8,837.5 1747.8,840.8 1741.7,841.1" fill="#676767" stroke="#676767" stroke-width="0.8"/><polygon points="1741.7,841.1 1747.8,840.8 1747.7,844.1 1741.7,844.5" fill="#6e6e6e" stroke="#6e6e6e" stroke-width="0.8"/><polygon points="1741.7,844.5 1747.7,844.1 1747.6,847.4 1741.6,847.8" fill="#7a7a7a" stroke="#7a7a7a" stroke-width="0.8"/><polygon points="1741.6,847.8 1747.6,847.4 1747.6,850.7 1741.5,851.1" fill="#7d7d7d" stroke="#7d7d7d" stroke-width="0.8"/><polygon points="1747.9,831.0 1753.9,830.7 1753.9,833.9 1747.9,834.3" fill="#666666" stroke="#666666" stroke-width="0.8"/><polygon points="1747.9,834.3 1753.9,833.9 1753.8,837.2 1747.8,837.5" fill="#666666" stroke="#666666" stroke-width="0.8"/><polygon points="1747.8,837.5 1753.8,837.2 1753.8,840.4 1747.8,840.8" fill="#787878" stroke="#787878" stroke-width="0.8"/><polygon points="1747.8,840.8 1753.8,840.4 1753.7,843.7 1747.7,844.1" fill="#787878" stroke="#787878" stroke-width="0.8"/><polygon points="1747.7,844.1 1753.7,843.7 1753.7,846.9 1747.6,847.4" fill="#727272" stroke="#727272" stroke-width="0.8"/><polygon points="1747.6,847.4 1753.7,846.9 1753.7,850.1 1747.6,850.7" fill="#8f8f8f" stroke="#8f8f8f" stroke-width="0.8"/><polygon points="1753.9,830.7 1759.9,830.3 1759.9,833.5 1753.9,833.9" fill="#787878" stroke="#787878" stroke-width="0.8"/><polygon points="1753.9,833.9 1759.9,833.5 1759.8,836.7 1753.8,837.2" fill="#606060" stroke="#606060" stroke-width="0.8"/><polygon points="1753.8,837.2 1759.8,836.7 1759.8,839.9 1753.8,840.4" fill="#6f6f6f" stroke="#6f6f6f" stroke-width="0.8"/><polygon points="1753.8,840.4 1759.8,839.9 1759.8,843.1 1753.7,843.7" fill="#808080" stroke="#808080" stroke-width="0.8"/><polygon points="1753.7,843.7 1759.8,843.1 1759.7,846.3 1753.7,846.9" fill="#707070" stroke="#707070" stroke-width="0.8"/><polygon points="1753.7,846.9 1759.7,846.3 1759.7,849.5 1753.7,850.1" fill="#838383" stroke="#838383" stroke-width="0.8"/><polygon points="1759.9,830.3 1765.9,829.8 1765.9,832.9 1759.9,833.5" fill="#5f5f5f" stroke="#5f5f5f" stroke-width="0.8"/><polygon points="1759.9,833.5 1765.9,832.9 1765.8,836.1 1759.8,836.7" fill="#6b6b6b" stroke="#6b6b6b" stroke-width="0.8"/><polygon points="1759.8,836.7 1765.8,836.1 1765.8,839.3 1759.8,839.9" fill="#818181" stroke="#818181" stroke-width="0.8"/><polygon points="1759.8,839.9 1765.8,839.3 1765.8,842.4 1759.8,843.1" fill="#787878" stroke="#787878" stroke-width="0.8"/><polygon points="1759.8,843.1 1765.8,842.4 1765.8,845.6 1759.7,846.3" fill="#7f7f7f" stroke="#7f7f7f" stroke-width="0.8"/><polygon points="1759.7,846.3 1765.8,845.6 1765.7,848.7 1759.7,849.5" fill="#6f6f6f" stroke="#6f6f6f" stroke-width="0.8"/><polygon points="1765.9,829.8 1771.9,829.2 1771.9,832.3 1765.9,832.9" fill="#737373" stroke="#737373" stroke-width="0.8"/><polygon points="1765.9,832.9 1771.9,832.3 1771.8,835.4 1765.8,836.1" fill="#757575" stroke="#757575" stroke-width="0.8"/><polygon points="1765.8,836.1 1771.8,835.4 1771.8,838.5 1765.8,839.3" fill="#6a6a6a" stroke="#6a6a6a" stroke-width="0.8"/><polygon points="1765.8,839.3 1771.8,838.5 1771.8,841.6 1765.8,842.4" fill="#7b7b7b" stroke="#7b7b7b" stroke-width="0.8"/><polygon points="1765.8,842.4 1771.8,841.6 1771.8,844.7 1765.8,845.6" fill="#7a7a7a" stroke="#7a7a7a" stroke-width="0.8"/><polygon points="1765.8,845.6 1771.8,844.7 1771.7,847.8 1765.7,848.7" fill="#8f8f8f" stroke="#8f8f8f" stroke-width="0.8"/><polygon points="1771.9,829.2 1777.9,828.6 1777.8,831.6 1771.9,832.3" fill="#767676" stroke="#767676" stroke-width="0.8"/><polygon points="1771.9,832.3 1777.8,831.6 1777.8,834.6 1771.8,835.4" fill="#707070" stroke="#707070" stroke-width="0.8"/><polygon points="1771.8,835.4 1777.8,834.6 1777.8,837.7 1771.8,838.5" fill="#646464" stroke="#646464" stroke-width="0.8"/><polygon points="1771.8,838.5 1777.8,837.7 1777.8,840.7 1771.8,841.6" fill="#676767" stroke="#676767" stroke-width="0.8"/><polygon points="1771.8,841.6 1777.8,840.7 1777.8,843.8 1771.8,844.7" fill="#838383" stroke="#838383" stroke-width="0.8"/><polygon points="1771.8,844.7 1777.8,843.8 1777.7,846.8 1771.7,847.8" fill="#6c6c6c" stroke="#6c6c6c" stroke-width="0.8"/><polygon points="1777.9,828.6 1783.8,827.9 1783.8,830.8 1777.8,831.6" fill="#646464" stroke="#646464" stroke-width="0.8"/><polygon points="1777.8,831.6 1783.8,830.8 1783.8,833.8 1777.8,834.6" fill="#676767" stroke="#676767" stroke-width="0.8"/><polygon points="1777.8,834.6 1783.8,833.8 1783.8,836.8 1777.8,837.7" fill="#757575" stroke="#757575" stroke-width="0.8"/><polygon points="1777.8,837.7 1783.8,836.8 1783.8,839.8 1777.8,840.7" fill="#828282" stroke="#828282" stroke-width="0.8"/><polygon points="1777.8,840.7 1783.8,839.8 1783.7,842.7 1777.8,843.8" fill="#7d7d7d" stroke="#7d7d7d" stroke-width="0.8"/><polygon points="1777.8,843.8 1783.7,842.7 1783.7,845.7 1777.7,846.8" fill="#888888" stroke="#888888" stroke-width="0.8"/><polygon points="1783.8,827.9 1789.8,827.1 1789.8,830.0 1783.8,830.8" fill="#626262" stroke="#626262" stroke-width="0.8"/><polygon points="1783.8,830.8 1789.8,830.0 1789.8,832.9 1783.8,833.8" fill="#606060" stroke="#606060" stroke-width="0.8"/><polygon points="1783.8,833.8 1789.8,832.9 1789.7,835.8 1783.8,836.8" fill="#7f7f7f" stroke="#7f7f7f" stroke-width="0.8"/><polygon points="1783.8,836.8 1789.7,835.8 1789.7,838.7 1783.8,839.8" fill="#6f6f6f" stroke="#6f6f6f" stroke-width="0.8"/><polygon points="1783.8,839.8 1789.7,838.7 1789.7,841.6 1783.7,842.7" fill="#828282" stroke="#828282" stroke-width="0.8"/><polygon points="1783.7,842.7 1789.7,841.6 1789.7,844.5 1783.7,845.7" fill="#767676" stroke="#767676" stroke-width="0.8"/><polygon points="1789.8,827.1 1795.8,826.5 1795.8,829.3 1789.8,830.0" fill="#676767" stroke="#676767" stroke-width="0.8"/><polygon points="1789.8,830.0 1795.8,829.3 1795.7,832.1 1789.8,832.9" fill="#6b6b6b" stroke="#6b6b6b" stroke-width="0.8"/><polygon points="1789.8,832.9 1795.7,832.1 1795.7,834.9 1789.7,835.8" fill="#646464" stroke="#646464" stroke-width="0.8"/><polygon points="1789.7,835.8 1795.7,834.9 1795.7,837.7 1789.7,838.7" fill="#868686" stroke="#868686" stroke-width="0.8"/><polygon points="1789.7,838.7 1795.7,837.7 1795.7,840.5 1789.7,841.6" fill="#7c7c7c" stroke="#7c7c7c" stroke-width="0.8"/><polygon points="1789.7,841.6 1795.7,840.5 1795.6,843.3 1789.7,844.5" fill="#767676" stroke="#767676" stroke-width="0.8"/><polygon points="1795.8,826.5 1801.8,825.9 1801.7,828.6 1795.8,829.3" fill="#727272" stroke="#727272" stroke-width="0.8"/><polygon points="1795.8,829.3 1801.7,828.6 1801.7,831.3 1795.7,832.1" fill="#707070" stroke="#707070" stroke-width="0.8"/><polygon points="1795.7,832.1 1801.7,831.3 1801.7,834.0 1795.7,834.9" fill="#636363" stroke="#636363" stroke-width="0.8"/><polygon points="1795.7,834.9 1801.7,834.0 1801.7,836.7 1795.7,837.7" fill="#868686" stroke="#868686" stroke-width="0.8"/><polygon points="1795.7,837.7 1801.7,836.7 1801.6,839.4 1795.7,840.5" fill="#7d7d7d" stroke="#7d7d7d" stroke-width="0.8"/><polygon points="1795.7,840.5 1801.6,839.4 1801.6,842.1 1795.6,843.3" fill="#8f8f8f" stroke="#8f8f8f" stroke-width="0.8"/><polygon points="1801.8,825.9 1807.8,825.5 1807.7,828.0 1801.7,828.6" fill="#727272" stroke="#727272" stroke-width="0.8"/><polygon points="1801.7,828.6 1807.7,828.0 1807.7,830.6 1801.7,831.3" fill="#797979" stroke="#797979" stroke-width="0.8"/><polygon points="1801.7,831.3 1807.7,830.6 1807.7,833.2 1801.7,834.0" fill="#6b6b6b" stroke="#6b6b6b" stroke-width="0.8"/><polygon points="1801.7,834.0 1807.7,833.2 1807.6,835.8 1801.7,836.7" fill="#646464" stroke="#646464" stroke-width="0.8"/><polygon points="1801.7,836.7 1807.6,835.8 1807.6,838.3 1801.6,839.4" fill="#8b8b8b" stroke="#8b8b8b" stroke-width="0.8"/><polygon points="1801.6,839.4 1807.6,838.3 1807.6,840.9 1801.6,842.1" fill="#8b8b8b" stroke="#8b8b8b" stroke-width="0.8"/><polygon points="1807.8,825.5 1813.8,825.2 1813.7,827.6 1807.7,828.0" fill="#6d6d6d" stroke="#6d6d6d" stroke-width="0.8"/><polygon points="1807.7,828.0 1813.7,827.6 1813.7,830.0 1807.7,830.6" fill="#858585" stroke="#858585" stroke-width="0.8"/><polygon points="1807.7,830.6 1813.7,830.0 1813.6,832.5 1807.7,833.2" fill="#828282" stroke="#828282" stroke-width="0.8"/><polygon points="1807.7,833.2 1813.6,832.5 1813.6,834.9 1807.6,835.8" fill="#6f6f6f" stroke="#6f6f6f" stroke-width="0.8"/><polygon points="1807.6,835.8 1813.6,834.9 1813.6,837.3 1807.6,838.3" fill="#7e7e7e" stroke="#7e7e7e" stroke-width="0.8"/><polygon points="1807.6,838.3 1813.6,837.3 1813.5,839.7 1807.6,840.9" fill="#909090" stroke="#909090" stroke-width="0.8"/><polygon points="1813.8,825.2 1819.8,825.1 1819.7,827.3 1813.7,827.6" fill="#757575" stroke="#757575" stroke-width="0.8"/><polygon points="1813.7,827.6 1819.7,827.3 1819.7,829.6 1813.7,830.0" fill="#878787" stroke="#878787" stroke-width="0.8"/><polygon points="1813.7,830.0 1819.7,829.6 1819.6,831.8 1813.6,832.5" fill="#6b6b6b" stroke="#6b6b6b" stroke-width="0.8"/><polygon points="1813.6,832.5 1819.6,831.8 1819.6,834.1 1813.6,834.9" fill="#727272" stroke="#727272" stroke-width="0.8"/><polygon points="1813.6,834.9 1819.6,834.1 1819.6,836.3 1813.6,837.3" fill="#838383" stroke="#838383" stroke-width="0.8"/><polygon points="1813.6,837.3 1819.6,836.3 1819.5,838.6 1813.5,839.7" fill="#727272" stroke="#727272" stroke-width="0.8"/><polygon points="1819.8,825.1 1825.8,825.1 1825.7,827.2 1819.7,827.3" fill="#6e6e6e" stroke="#6e6e6e" stroke-width="0.8"/><polygon points="1819.7,827.3 1825.7,827.2 1825.7,829.3 1819.7,829.6" fill="#848484" stroke="#848484" stroke-width="0.8"/><polygon points="1819.7,829.6 1825.7,829.3 1825.6,831.3 1819.6,831.8" fill="#757575" stroke="#757575" stroke-width="0.8"/><polygon points="1819.6,831.8 1825.6,831.3 1825.6,833.4 1819.6,834.1" fill="#838383" stroke="#838383" stroke-width="0.8"/><polygon points="1819.6,834.1 1825.6,833.4 1825.5,835.4 1819.6,836.3" fill="#707070" stroke="#707070" stroke-width="0.8"/><polygon points="1819.6,836.3 1825.5,835.4 1825.5,837.5 1819.5,838.6" fill="#717171" stroke="#717171" stroke-width="0.8"/><polygon points="1825.8,825.1 1831.8,825.3 1831.7,827.1 1825.7,827.2" fill="#727272" stroke="#727272" stroke-width="0.8"/><polygon points="1825.7,827.2 1831.7,827.1 1831.7,829.0 1825.7,829.3" fill="#6b6b6b" stroke="#6b6b6b" stroke-width="0.8"/><polygon points="1825.7,829.3 1831.7,829.0 1831.6,830.9 1825.6,831.3" fill="#8a8a8a" stroke="#8a8a8a" stroke-width="0.8"/><polygon points="1825.6,831.3 1831.6,830.9 1831.6,832.7 1825.6,833.4" fill="#717171" stroke="#717171" stroke-width="0.8"/><polygon points="1825.6,833.4 1831.6,832.7 1831.5,834.6 1825.5,835.4" fill="#7f7f7f" stroke="#7f7f7f" stroke-width="0.8"/><polygon points="1825.5,835.4 1831.5,834.6 1831.5,836.5 1825.5,837.5" fill="#717171" stroke="#717171" stroke-width="0.8"/><polygon points="1831.8,825.3 1837.8,825.5 1837.7,827.2 1831.7,827.1" fill="#7f7f7f" stroke="#7f7f7f" stroke-width="0.8"/><polygon points="1831.7,827.1 1837.7,827.2 1837.7,828.8 1831.7,829.0" fill="#797979" stroke="#797979" stroke-width="0.8"/><polygon points="1831.7,829.0 1837.7,828.8 1837.6,830.5 1831.6,830.9" fill="#7a7a7a" stroke="#7a7a7a" stroke-width="0.8"/><polygon points="1831.6,830.9 1837.6,830.5 1837.6,832.1 1831.6,832.7" fill="#6e6e6e" stroke="#6e6e6e" stroke-width="0.8"/><polygon points="1831.6,832.7 1837.6,832.1 1837.5,833.8 1831.5,834.6" fill="#737373" stroke="#737373" stroke-width="0.8"/><polygon points="1831.5,834.6 1837.5,833.8 1837.5,835.5 1831.5,836.5" fill="#939393" stroke="#939393" stroke-width="0.8"/><polygon points="1837.8,825.5 1843.8,825.7 1843.8,827.2 1837.7,827.2" fill="#7d7d7d" stroke="#7d7d7d" stroke-width="0.8"/><polygon points="1837.7,827.2 1843.8,827.2 1843.7,828.6 1837.7,828.8" fill="#797979" stroke="#797979" stroke-width="0.8"/><polygon points="1837.7,828.8 1843.7,828.6 1843.7,830.1 1837.6,830.5" fill="#777777" stroke="#777777" stroke-width="0.8"/><polygon points="1837.6,830.5 1843.7,830.1 1843.6,831.6 1837.6,832.1" fill="#7c7c7c" stroke="#7c7c7c" stroke-width="0.8"/><polygon points="1837.6,832.1 1843.6,831.6 1843.5,833.0 1837.5,833.8" fill="#7e7e7e" stroke="#7e7e7e" stroke-width="0.8"/><polygon points="1837.5,833.8 1843.5,833.0 1843.5,834.5 1837.5,835.5" fill="#797979" stroke="#797979" stroke-width="0.8"/><polygon points="1843.8,825.7 1849.8,825.9 1849.8,827.2 1843.8,827.2" fill="#909090" stroke="#909090" stroke-width="0.8"/><polygon points="1843.8,827.2 1849.8,827.2 1849.7,828.5 1843.7,828.6" fill="#838383" stroke="#838383" stroke-width="0.8"/><polygon points="1843.7,828.6 1849.7,828.5 1849.7,829.8 1843.7,830.1" fill="#7c7c7c" stroke="#7c7c7c" stroke-width="0.8"/><polygon points="1843.7,830.1 1849.7,829.8 1849.6,831.0 1843.6,831.6" fill="#939393" stroke="#939393" stroke-width="0.8"/><polygon points="1843.6,831.6 1849.6,831.0 1849.6,832.3 1843.5,833.0" fill="#7e7e7e" stroke="#7e7e7e" stroke-width="0.8"/><polygon points="1843.5,833.0 1849.6,832.3 1849.5,833.6 1843.5,834.5" fill="#898989" stroke="#898989" stroke-width="0.8"/><polygon points="1849.8,825.9 1855.8,826.1 1855.8,827.2 1849.8,827.2" fill="#9d9d9d" stroke="#9d9d9d" stroke-width="0.8"/><polygon points="1849.8,827.2 1855.8,827.2 1855.7,828.3 1849.7,828.5" fill="#808080" stroke="#808080" stroke-width="0.8"/><polygon points="1849.7,828.5 1855.7,828.3 1855.7,829.4 1849.7,829.8" fill="#8d8d8d" stroke="#8d8d8d" stroke-width="0.8"/><polygon points="1849.7,829.8 1855.7,829.4 1855.6,830.5 1849.6,831.0" fill="#9e9e9e" stroke="#9e9e9e" stroke-width="0.8"/><polygon points="1849.6,831.0 1855.6,830.5 1855.6,831.6 1849.6,832.3" fill="#a1a1a1" stroke="#a1a1a1" stroke-width="0.8"/><polygon points="1849.6,832.3 1855.6,831.6 1855.5,832.7 1849.5,833.6" fill="#8a8a8a" stroke="#8a8a8a" stroke-width="0.8"/><polygon points="1855.8,826.1 1861.9,826.2 1861.8,827.2 1855.8,827.2" fill="#8f8f8f" stroke="#8f8f8f" stroke-width="0.8"/><polygon points="1855.8,827.2 1861.8,827.2 1861.8,828.1 1855.7,828.3" fill="#9e9e9e" stroke="#9e9e9e" stroke-width="0.8"/><polygon points="1855.7,828.3 1861.8,828.1 1861.7,829.1 1855.7,829.4" fill="#909090" stroke="#909090" stroke-width="0.8"/><polygon points="1855.7,829.4 1861.7,829.1 1861.7,830.0 1855.6,830.5" fill="#a9a9a9" stroke="#a9a9a9" stroke-width="0.8"/><polygon points="1855.6,830.5 1861.7,830.0 1861.6,831.0 1855.6,831.6" fill="#8f8f8f" stroke="#8f8f8f" stroke-width="0.8"/><polygon points="1855.6,831.6 1861.6,831.0 1861.6,831.9 1855.5,832.7" fill="#b0b0b0" stroke="#b0b0b0" stroke-width="0.8"/><polygon points="1861.9,826.2 1867.9,826.3 1867.8,827.1 1861.8,827.2" fill="#9b9b9b" stroke="#9b9b9b" stroke-width="0.8"/><polygon points="1861.8,827.2 1867.8,827.1 1867.8,827.9 1861.8,828.1" fill="#909090" stroke="#909090" stroke-width="0.8"/><polygon points="1861.8,828.1 1867.8,827.9 1867.7,828.7 1861.7,829.1" fill="#999999" stroke="#999999" stroke-width="0.8"/><polygon points="1861.7,829.1 1867.7,828.7 1867.7,829.5 1861.7,830.0" fill="#8e8e8e" stroke="#8e8e8e" stroke-width="0.8"/><polygon points="1861.7,830.0 1867.7,829.5 1867.6,830.4 1861.6,831.0" fill="#a8a8a8" stroke="#a8a8a8" stroke-width="0.8"/><polygon points="1861.6,831.0 1867.6,830.4 1867.6,831.2 1861.6,831.9" fill="#9a9a9a" stroke="#9a9a9a" stroke-width="0.8"/><polygon points="1867.9,826.3 1873.9,826.3 1873.8,827.0 1867.8,827.1" fill="#b1b1b1" stroke="#b1b1b1" stroke-width="0.8"/><polygon points="1867.8,827.1 1873.8,827.0 1873.8,827.7 1867.8,827.9" fill="#a5a5a5" stroke="#a5a5a5" stroke-width="0.8"/><polygon points="1867.8,827.9 1873.8,827.7 1873.8,828.4 1867.7,828.7" fill="#9c9c9c" stroke="#9c9c9c" stroke-width="0.8"/><polygon points="1867.7,828.7 1873.8,828.4 1873.7,829.1 1867.7,829.5" fill="#999999" stroke="#999999" stroke-width="0.8"/><polygon points="1867.7,829.5 1873.7,829.1 1873.7,829.8 1867.6,830.4" fill="#aaaaaa" stroke="#aaaaaa" stroke-width="0.8"/><polygon points="1867.6,830.4 1873.7,829.8 1873.6,830.5 1867.6,831.2" fill="#9e9e9e" stroke="#9e9e9e" stroke-width="0.8"/><polygon points="1873.9,826.3 1879.9,826.3 1879.9,826.9 1873.8,827.0" fill="#b7b7b7" stroke="#b7b7b7" stroke-width="0.8"/><polygon points="1873.8,827.0 1879.9,826.9 1879.8,827.5 1873.8,827.7" fill="#999999" stroke="#999999" stroke-width="0.8"/><polygon points="1873.8,827.7 1879.8,827.5 1879.8,828.0 1873.8,828.4" fill="#a9a9a9" stroke="#a9a9a9" stroke-width="0.8"/><polygon points="1873.8,828.4 1879.8,828.0 1879.8,828.6 1873.7,829.1" fill="#acacac" stroke="#acacac" stroke-width="0.8"/><polygon points="1873.7,829.1 1879.8,828.6 1879.7,829.2 1873.7,829.8" fill="#a4a4a4" stroke="#a4a4a4" stroke-width="0.8"/><polygon points="1873.7,829.8 1879.7,829.2 1879.7,829.8 1873.6,830.5" fill="#bbbbbb" stroke="#bbbbbb" stroke-width="0.8"/><polygon points="1879.9,826.3 1885.9,826.2 1885.9,826.7 1879.9,826.9" fill="#acacac" stroke="#acacac" stroke-width="0.8"/><polygon points="1879.9,826.9 1885.9,826.7 1885.9,827.2 1879.8,827.5" fill="#b7b7b7" stroke="#b7b7b7" stroke-width="0.8"/><polygon points="1879.8,827.5 1885.9,827.2 1885.8,827.7 1879.8,828.0" fill="#b4b4b4" stroke="#b4b4b4" stroke-width="0.8"/><polygon points="1879.8,828.0 1885.8,827.7 1885.8,828.2 1879.8,828.6" fill="#ababab" stroke="#ababab" stroke-width="0.8"/><polygon points="1879.8,828.6 1885.8,828.2 1885.8,828.7 1879.7,829.2" fill="#b1b1b1" stroke="#b1b1b1" stroke-width="0.8"/><polygon points="1879.7,829.2 1885.8,828.7 1885.7,829.1 1879.7,829.8" fill="#a9a9a9" stroke="#a9a9a9" stroke-width="0.8"/><polygon points="1885.9,826.2 1891.9,826.2 1891.9,826.6 1885.9,826.7" fill="#adadad" stroke="#adadad" stroke-width="0.8"/><polygon points="1885.9,826.7 1891.9,826.6 1891.9,827.0 1885.9,827.2" fill="#c8c8c8" stroke="#c8c8c8" stroke-width="0.8"/><polygon points="1885.9,827.2 1891.9,827.0 1891.9,827.4 1885.8,827.7" fill="#b2b2b2" stroke="#b2b2b2" stroke-width="0.8"/><polygon points="1885.8,827.7 1891.9,827.4 1891.8,827.7 1885.8,828.2" fill="#c2c2c2" stroke="#c2c2c2" stroke-width="0.8"/><polygon points="1885.8,828.2 1891.8,827.7 1891.8,828.1 1885.8,828.7" fill="#afafaf" stroke="#afafaf" stroke-width="0.8"/><polygon points="1885.8,828.7 1891.8,828.1 1891.8,828.5 1885.7,829.1" fill="#c4c4c4" stroke="#c4c4c4" stroke-width="0.8"/><polygon points="1891.9,826.2 1897.9,826.2 1897.9,826.4 1891.9,826.6" fill="#bdbdbd" stroke="#bdbdbd" stroke-width="0.8"/><polygon points="1891.9,826.6 1897.9,826.4 1897.9,826.7 1891.9,827.0" fill="#c2c2c2" stroke="#c2c2c2" stroke-width="0.8"/><polygon points="1891.9,827.0 1897.9,826.7 1897.9,827.0 1891.9,827.4" fill="#bababa" stroke="#bababa" stroke-width="0.8"/><polygon points="1891.9,827.4 1897.9,827.0 1897.9,827.3 1891.8,827.7" fill="#b3b3b3" stroke="#b3b3b3" stroke-width="0.8"/><polygon points="1891.8,827.7 1897.9,827.3 1897.9,827.6 1891.8,828.1" fill="#c0c0c0" stroke="#c0c0c0" stroke-width="0.8"/><polygon points="1891.8,828.1 1897.9,827.6 1897.8,827.9 1891.8,828.5" fill="#c0c0c0" stroke="#c0c0c0" stroke-width="0.8"/><polygon points="1897.9,826.2 1904.0,826.1 1904.0,826.3 1897.9,826.4" fill="#bcbcbc" stroke="#bcbcbc" stroke-width="0.8"/><polygon points="1897.9,826.4 1904.0,826.3 1903.9,826.5 1897.9,826.7" fill="#d4d4d4" stroke="#d4d4d4" stroke-width="0.8"/><polygon points="1897.9,826.7 1903.9,826.5 1903.9,826.7 1897.9,827.0" fill="#c2c2c2" stroke="#c2c2c2" stroke-width="0.8"/><polygon points="1897.9,827.0 1903.9,826.7 1903.9,826.9 1897.9,827.3" fill="#c9c9c9" stroke="#c9c9c9" stroke-width="0.8"/><polygon points="1897.9,827.3 1903.9,826.9 1903.9,827.1 1897.9,827.6" fill="#e0e0e0" stroke="#e0e0e0" stroke-width="0.8"/><polygon points="1897.9,827.6 1903.9,827.1 1903.9,827.2 1897.8,827.9" fill="#dedede" stroke="#dedede" stroke-width="0.8"/><polygon points="1904.0,826.1 1910.0,826.1 1910.0,826.1 1904.0,826.3" fill="#e3e3e3" stroke="#e3e3e3" stroke-width="0.8"/><polygon points="1904.0,826.3 1910.0,826.1 1910.0,826.2 1903.9,826.5" fill="#e2e2e2" stroke="#e2e2e2" stroke-width="0.8"/><polygon points="1903.9,826.5 1910.0,826.2 1910.0,826.3 1903.9,826.7" fill="#c5c5c5" stroke="#c5c5c5" stroke-width="0.8"/><polygon points="1903.9,826.7 1910.0,826.3 1910.0,826.4 1903.9,826.9" fill="#cccccc" stroke="#cccccc" stroke-width="0.8"/><polygon points="1903.9,826.9 1910.0,826.4 1910.0,826.5 1903.9,827.1" fill="#c6c6c6" stroke="#c6c6c6" stroke-width="0.8"/><polygon points="1903.9,827.1 1910.0,826.5 1909.9,826.6 1903.9,827.2" fill="#e3e3e3" stroke="#e3e3e3" stroke-width="0.8"/><polygon points="1910.0,826.1 1916.0,826.0 1916.0,826.0 1910.0,826.1" fill="#e3e3e3" stroke="#e3e3e3" stroke-width="0.8"/><polygon points="1910.0,826.1 1916.0,826.0 1916.0,826.0 1910.0,826.2" fill="#d6d6d6" stroke="#d6d6d6" stroke-width="0.8"/><polygon points="1910.0,826.2 1916.0,826.0 1916.0,826.0 1910.0,826.3" fill="#d9d9d9" stroke="#d9d9d9" stroke-width="0.8"/><polygon points="1910.0,826.3 1916.0,826.0 1916.0,826.0 1910.0,826.4" fill="#e4e4e4" stroke="#e4e4e4" stroke-width="0.8"/><polygon points="1910.0,826.4 1916.0,826.0 1916.0,826.0 1910.0,826.5" fill="#e9e9e9" stroke="#e9e9e9" stroke-width="0.8"/><polygon points="1910.0,826.5 1916.0,826.0 1916.0,826.0 1909.9,826.6" fill="#dadada" stroke="#dadada" stroke-width="0.8"/></g><rect x="1280" y="0" width="703" height="886" fill="#000" filter="url(#mottle_w3)"/></g>
<filter id="blur_w3" x="-5%" y="-5%" width="110%" height="110%"><feGaussianBlur stdDeviation="1.00"/></filter>
<filter id="mottle_w3" x="0" y="0" width="100%" height="100%" filterUnits="userSpaceOnUse"><feTurbulence type="fractalNoise" baseFrequency="0.07" numOctaves="2" seed="9" result="n"/><feColorMatrix in="n" type="matrix" values="0 0 0 0 0  0 0 0 0 0  0 0 0 0 0  1.2 0 0 0 -0.68"/><feGaussianBlur stdDeviation="0.8"/></filter>

</g>
<g id="shapes">
<line x1="357.20" y1="230.50" x2="1250.20" y2="230.50" stroke="#8fc66a" stroke-width="7.0" stroke-dasharray="22.8 9" stroke-dashoffset="0.0"/><polygon points="1270.50,230.50 1248.20,241.30 1248.20,219.70" fill="#8fc66a"/>
<polygon points="345.00,230.80 355.20,219.70 365.40,230.80 355.20,241.90" fill="#8fc66a"/>
<line x1="587.50" y1="533.50" x2="1244.64" y2="326.11" stroke="#8fc66a" stroke-width="7.0" stroke-dasharray="22.8 9" stroke-dashoffset="3.0"/><polygon points="1264.00,320.00 1245.98,337.01 1239.48,316.41" fill="#8fc66a"/>
<line x1="587.50" y1="533.80" x2="1230.90" y2="533.99" stroke="#8fc66a" stroke-width="7.0" stroke-dasharray="22.8 9" stroke-dashoffset="0.0"/><polygon points="1251.20,534.00 1228.90,544.79 1228.90,523.19" fill="#8fc66a"/>
<line x1="587.50" y1="533.50" x2="1243.88" y2="733.68" stroke="#8fc66a" stroke-width="7.0" stroke-dasharray="22.8 9" stroke-dashoffset="3.0"/><polygon points="1263.30,739.60 1238.82,743.43 1245.12,722.76" fill="#8fc66a"/>
<line x1="356" y1="532.7" x2="587" y2="532.7" stroke="#000" stroke-width="8"/>
<polygon points="345.00,532.70 355.70,520.90 366.40,532.70 355.70,544.50" fill="#000"/>
<polygon points="577.30,532.60 587.50,520.90 597.70,532.60 587.50,544.30" fill="#000"/>
<line x1="356.00" y1="818.60" x2="1249.90" y2="818.60" stroke="#000" stroke-width="8.4"/><polygon points="1271.30,818.60 1247.90,830.20 1247.90,807.00" fill="#000"/>
<polygon points="345.00,818.80 355.00,807.00 365.00,818.80 355.00,830.60" fill="#000"/>
</g>
<rect x="716" y="212" width="197" height="40" fill="#fff" fill-opacity="0.6"/>
<text x="227.00" y="69.00" font-size="55.00" font-weight="700" fill="#000" letter-spacing="0.250">Toxicity testing in <tspan font-style="italic">C. elegans</tspan> for reversible</text>
<text x="286.00" y="141.00" font-size="55.00" font-weight="700" fill="#000" letter-spacing="0.865">vs. irreversible developmental effects</text>
<text x="6.00" y="275.50" font-size="40.00" font-weight="400" fill="#141414" letter-spacing="-0.271"><tspan font-style="italic">C. elegans</tspan> age-</text>
<text x="6.20" y="326.00" font-size="40.00" font-weight="400" fill="#141414" letter-spacing="0.746">synchronized</text>
<text x="6.20" y="376.50" font-size="40.00" font-weight="400" fill="#141414" letter-spacing="0.812">cohorts evaluated</text>
<text x="7.20" y="427.00" font-size="40.00" font-weight="400" fill="#141414" letter-spacing="0.658">from first feeding</text>
<text x="6.20" y="478.00" font-size="40.00" font-weight="400" fill="#141414" letter-spacing="0.700">after hatching to</text>
<text x="6.20" y="529.00" font-size="40.00" font-weight="400" fill="#141414" letter-spacing="1.000">adulthood for</text>
<text x="7.20" y="580.00" font-size="40.00" font-weight="400" fill="#141414" letter-spacing="0.866">time to</text>
<text x="6.20" y="630.00" font-size="40.00" font-weight="400" fill="#141414" letter-spacing="1.350">developmental</text>
<text x="5.20" y="681.00" font-size="40.00" font-weight="400" fill="#141414" letter-spacing="0.872">milestones &amp;</text>
<text x="6.20" y="732.00" font-size="40.00" font-weight="400" fill="#141414" letter-spacing="1.220">spontaneous</text>
<text x="5.50" y="783.00" font-size="40.00" font-weight="400" fill="#141414" letter-spacing="1.059">locomotor activity</text>
<text x="736.90" y="245.30" font-size="40.00" font-weight="700" fill="#5a9c38" letter-spacing="3.267">control</text>
<text x="422.70" y="402.70" font-size="41.00" font-weight="400" fill="#ad561f" letter-spacing="1.950">early</text>
<text x="380.50" y="458.00" font-size="41.00" font-weight="400" fill="#ad561f" letter-spacing="2.000">exposure</text>
<text x="385.60" y="513.60" font-size="41.00" font-weight="400" fill="#ad561f" letter-spacing="0.428">(wDAT-e)</text>
<text x="429.00" y="581.00" font-size="41.00" font-weight="400" fill="#ad561f" letter-spacing="-0.800">24 h</text>
<text x="512.40" y="798.00" font-size="41.00" font-weight="400" fill="#ad561f" letter-spacing="1.756">continuous exposure (wDAT-c)</text>
<text x="753.60" y="866.70" font-size="41.00" font-weight="400" fill="#ad561f" letter-spacing="-0.800">3 days</text>
<text x="951.50" y="400.50" font-size="40.00" font-weight="700" fill="#000" letter-spacing="2.444">reversible</text>
<text x="858.00" y="518.50" font-size="40.00" font-weight="700" fill="#000" letter-spacing="2.749">partially</text>
<text x="841.10" y="574.30" font-size="40.00" font-weight="700" fill="#000" letter-spacing="2.400">reversible</text>
<text x="942.00" y="688.30" font-size="40.00" font-weight="700" fill="#000" letter-spacing="2.382">irreversible</text>
<text x="1533.40" y="232.70" font-size="42.00" font-weight="400" fill="#000" letter-spacing="2.350">Adult</text>
<text x="1574.50" y="483.50" font-size="42.00" font-weight="400" fill="#000" letter-spacing="1.450">Young</text>
<text x="1583.00" y="539.30" font-size="42.00" font-weight="400" fill="#000" letter-spacing="2.150">Adult</text>
<text x="1648.30" y="741.00" font-size="42.00" font-weight="400" fill="#000" letter-spacing="0.800">Late</text>
<text x="1611.40" y="796.80" font-size="42.00" font-weight="400" fill="#000" letter-spacing="0.714">Juvenile</text>
</svg>
</body></html>
